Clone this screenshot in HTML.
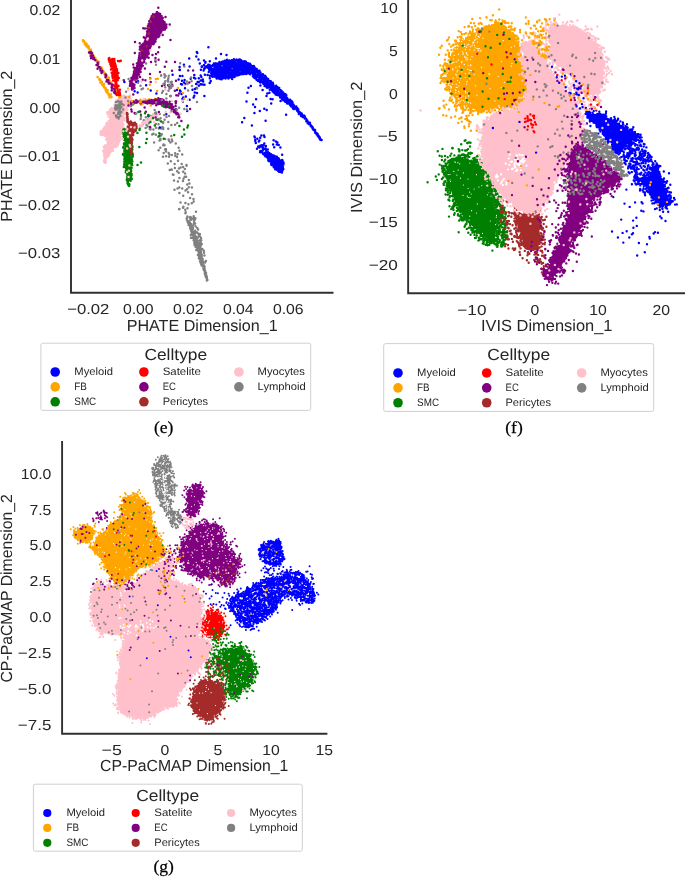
<!DOCTYPE html>
<html><head><meta charset="utf-8"><title>fig</title>
<style>html,body{margin:0;padding:0;background:#fff}svg{display:block}text{font-family:"Liberation Sans",sans-serif;text-rendering:geometricPrecision}</style></head>
<body><div style="will-change:transform;width:685px;height:877px;background:#fff">
<svg width="685" height="877" viewBox="0 0 685 877">
<rect width="685" height="877" fill="#fff"/>
<g id="pe"><path d="M146.5 125.0h0M185.2 209.7h0M172.8 174.5h0M170.4 142.4h0M186.4 164.9h0M158.5 124.3h0M193.7 216.2h0M172.3 141.3h0M183.5 178.8h0M179.5 150.7h0M168.7 153.0h0M163.2 127.7h0M168.6 139.4h0M163.7 152.9h0M185.1 173.6h0M161.0 135.4h0M173.5 174.7h0M163.0 123.1h0M163.0 156.7h0M182.2 154.5h0M165.1 138.9h0M152.2 134.5h0M183.4 206.8h0M166.1 156.3h0M177.5 188.5h0M171.4 169.4h0M180.5 202.5h0M180.6 167.6h0M159.5 120.2h0M175.2 155.7h0M156.3 119.8h0M188.8 187.2h0M150.5 129.4h0M159.7 113.9h0M168.3 121.9h0M161.8 134.2h0M160.5 140.1h0M166.1 151.6h0M167.8 163.5h0M186.1 176.8h0M185.4 202.9h0M179.4 177.9h0M158.6 150.2h0M186.6 165.8h0M181.7 163.9h0M162.3 126.9h0M174.6 164.1h0M175.1 153.3h0M156.0 112.4h0M174.0 180.6h0M185.4 213.2h0M171.3 135.9h0M158.3 136.8h0M152.7 115.7h0M192.0 194.2h0M154.1 142.5h0M182.2 188.4h0M189.4 183.4h0M143.8 120.3h0M145.6 127.9h0M143.3 123.4h0M163.7 144.4h0M171.4 125.0h0M149.8 115.8h0M174.9 168.0h0M155.9 124.1h0M190.1 198.1h0M149.7 129.1h0M179.1 209.2h0M147.7 126.4h0M170.8 161.3h0M160.3 138.8h0M183.0 207.8h0M153.5 133.7h0M188.1 192.2h0M163.2 129.1h0M155.7 117.1h0M178.9 168.4h0M183.1 166.9h0M175.8 143.6h0M179.3 187.4h0M178.7 172.7h0M196.0 211.8h0M187.3 216.4h0M177.9 181.5h0M159.5 140.4h0M168.2 128.8h0M179.4 192.9h0M187.5 208.3h0M177.0 157.0h0M156.0 127.7h0M174.5 189.8h0M158.5 119.1h0M166.0 149.2h0M191.8 203.2h0M188.8 180.0h0M178.0 160.8h0M191.9 187.5h0M161.1 128.6h0M183.2 171.7h0M160.3 147.8h0M177.6 154.2h0M165.0 149.6h0M158.8 128.5h0M185.7 212.2h0M171.8 139.4h0M183.0 181.0h0M171.8 155.0h0M148.0 119.2h0M150.4 128.1h0M184.8 168.9h0M193.7 201.6h0M169.3 154.4h0M145.8 117.2h0M163.2 145.3h0M187.6 221.3h0M177.1 171.3h0M164.5 145.2h0M188.4 204.2h0M169.7 169.9h0M187.2 184.6h0M155.9 134.7h0M178.7 147.7h0M184.7 176.7h0M153.4 129.6h0M169.0 156.7h0M193.5 198.9h0M160.4 134.3h0M171.8 169.7h0M185.5 190.5h0M187.0 189.2h0M179.4 209.1h0M169.0 140.8h0M183.2 195.8h0M152.1 116.3h0" stroke="#808080" stroke-width="2.50" stroke-linecap="round" fill="none"/>
<path d="M190.2 217.1h0M187.5 217.6h0M191.1 217.6h0M186.8 218.6h0M190.2 218.7h0M186.8 219.5h0M191.6 218.6h0M193.8 218.0h0M195.4 218.2h0M191.1 219.7h0M193.7 219.4h0M195.0 219.6h0M189.3 222.1h0M189.3 222.5h0M194.0 221.7h0M188.3 223.3h0M191.1 224.0h0M190.9 224.0h0M193.6 224.3h0M195.1 223.6h0M190.2 226.2h0M192.6 225.9h0M195.5 226.2h0M190.2 227.9h0M192.9 228.0h0M192.2 228.4h0M197.3 227.9h0M191.3 229.3h0M191.3 231.3h0M198.1 229.4h0M195.2 230.8h0M194.7 231.8h0M195.8 232.2h0M197.1 232.5h0M194.9 233.7h0M190.8 234.9h0M198.0 233.4h0M193.6 235.2h0M199.8 234.0h0M194.5 235.4h0M193.4 237.0h0M191.0 237.7h0M199.8 236.2h0M199.0 235.8h0M194.8 238.8h0M197.9 237.6h0M193.6 240.3h0M201.0 238.0h0M196.0 240.2h0M194.7 241.1h0M199.9 240.2h0M194.9 241.2h0M194.5 242.8h0M201.3 240.3h0M200.2 241.9h0M199.6 242.4h0M194.5 244.9h0M200.8 242.8h0M201.7 243.9h0M201.3 244.2h0M200.8 245.5h0M201.4 244.4h0M199.5 247.1h0M197.0 247.5h0M199.5 248.2h0M199.9 247.3h0M200.3 248.3h0M201.2 248.4h0M202.4 249.2h0M201.0 249.7h0M198.6 251.9h0M199.7 251.0h0M203.8 250.8h0M200.8 252.4h0M204.0 252.7h0M201.9 254.8h0M204.4 255.6h0M200.7 257.4h0M200.2 258.3h0M202.7 259.0h0M200.7 260.3h0M202.4 260.8h0M205.9 261.1h0M205.1 262.6h0M202.5 265.0h0M204.0 265.5h0M203.9 266.8h0M203.4 268.5h0M204.4 268.7h0M204.5 269.9h0M204.8 271.3h0M205.1 272.3h0M204.8 273.5h0M205.1 274.5h0M205.8 275.5h0M206.4 275.6h0M206.8 276.9h0M206.6 277.7h0M207.0 279.2h0M206.9 278.9h0M206.9 280.4h0M189.0 221.2h0M188.5 221.8h0M187.9 222.0h0M188.6 221.5h0M188.7 222.4h0M188.6 222.0h0M189.8 222.6h0M189.1 223.5h0M190.0 223.5h0M189.5 224.0h0M189.4 224.7h0M188.6 225.0h0M189.7 225.4h0M190.3 225.6h0M190.1 226.4h0M191.1 226.6h0M190.2 228.3h0M191.4 227.8h0M190.7 229.6h0M192.8 228.9h0M191.7 230.2h0M192.7 229.5h0M192.5 230.9h0M192.1 230.8h0M191.7 232.8h0M192.8 232.6h0M191.8 233.8h0M194.7 233.2h0M193.4 235.0h0M192.8 234.7h0M193.5 236.4h0M193.9 235.6h0M193.6 236.1h0M195.2 236.7h0M195.8 236.6h0M193.9 237.2h0M193.1 237.6h0M192.7 237.8h0M196.1 236.8h0M196.5 237.9h0M195.3 239.0h0M195.6 239.0h0M195.2 239.2h0M194.7 239.8h0M196.6 239.2h0M195.8 240.6h0M196.3 240.6h0M196.1 240.2h0M195.7 241.4h0M197.6 240.7h0M197.3 240.6h0M196.1 242.0h0M194.5 242.6h0M194.3 242.7h0M196.2 243.4h0M194.7 243.7h0M197.4 242.7h0M196.2 244.8h0M195.9 245.2h0M198.9 243.9h0M197.4 244.8h0M196.4 245.8h0M197.7 244.9h0M195.7 247.0h0M198.3 245.7h0M198.5 245.9h0M197.7 247.6h0M198.2 247.6h0M198.5 247.1h0M199.0 248.2h0M198.4 248.3h0M198.0 248.4h0M199.2 248.7h0M197.4 250.2h0M196.3 250.1h0M198.4 250.8h0M198.8 250.1h0M199.9 250.5h0M199.7 251.6h0M198.8 251.5h0M199.6 251.9h0M199.7 253.3h0M199.0 252.7h0M201.0 252.0h0M201.0 253.8h0M200.8 253.7h0M197.9 254.9h0M198.4 254.6h0M200.2 254.7h0M198.9 255.0h0M200.4 256.3h0M199.5 256.4h0M199.8 255.3h0M199.2 257.9h0M201.7 256.7h0M199.1 256.8h0M198.9 258.3h0M199.6 258.7h0M200.4 259.8h0M200.2 259.2h0M202.2 259.7h0M201.3 260.0h0M202.4 260.5h0M200.0 261.6h0M203.3 261.7h0M200.8 262.6h0M203.0 263.1h0M200.8 262.9h0M201.2 264.4h0M202.5 264.2h0M202.3 265.8h0M201.8 265.6h0M203.8 266.7h0M204.5 266.4h0M203.4 267.9h0M204.4 268.1h0M204.6 268.4h0M204.0 268.3h0M203.8 269.9h0M205.0 270.7h0M204.8 270.4h0M204.9 270.4h0M204.8 272.1h0M205.3 271.8h0M204.9 273.7h0M206.0 273.1h0M205.7 274.1h0M205.4 274.0h0M205.8 275.4h0M205.7 275.0h0M206.1 276.3h0M205.7 276.1h0M205.8 277.0h0M206.1 277.1h0M206.6 277.7h0M206.4 277.6h0M206.8 278.4h0M206.6 277.9h0M207.0 279.4h0M207.0 279.4h0M207.2 279.8h0M207.4 280.1h0" stroke="#808080" stroke-width="2.50" stroke-linecap="round" fill="none"/>
<path d="M237.4 64.7h0M237.4 65.1h0M237.6 65.3h0M239.2 59.5h0M238.6 62.0h0M239.5 60.4h0M238.9 63.3h0M240.3 59.9h0M237.9 65.6h0M237.1 66.3h0M239.4 62.2h0M240.1 60.9h0M239.0 65.3h0M240.2 63.7h0M238.6 66.4h0M240.8 60.4h0M240.7 59.9h0M238.9 65.6h0M239.3 64.1h0M240.8 63.1h0M241.1 63.2h0M239.3 67.1h0M239.8 67.7h0M239.9 66.3h0M241.1 62.1h0M240.4 65.8h0M242.5 62.3h0M242.3 62.8h0M242.2 62.7h0M240.9 65.9h0M241.2 65.3h0M242.3 63.9h0M242.7 61.9h0M244.2 61.3h0M242.8 64.1h0M243.2 64.5h0M241.7 67.6h0M242.7 65.0h0M242.2 66.3h0M242.0 66.7h0M246.0 62.0h0M244.4 64.8h0M245.7 61.7h0M244.7 64.1h0M243.1 66.9h0M242.9 68.0h0M245.5 61.5h0M246.1 65.8h0M245.9 64.4h0M246.2 63.3h0M244.5 66.9h0M245.8 63.9h0M245.9 65.1h0M245.8 63.7h0M248.0 63.7h0M244.6 69.4h0M245.1 69.0h0M244.9 69.5h0M247.1 65.5h0M246.8 66.2h0M248.0 63.2h0M248.8 64.8h0M245.4 70.2h0M247.2 67.2h0M246.1 69.4h0M249.0 64.2h0M249.0 64.3h0M250.0 63.7h0M250.1 65.4h0M247.8 68.3h0M248.7 66.8h0M245.6 70.8h0M249.8 65.4h0M249.8 65.6h0M249.9 64.7h0M249.3 67.7h0M249.3 67.4h0M250.3 66.4h0M251.1 65.3h0M248.1 69.7h0M246.5 70.9h0M248.7 69.3h0M249.0 69.3h0M251.7 66.0h0M247.5 71.4h0M247.6 71.6h0M248.3 70.2h0M247.4 72.1h0M250.8 67.1h0M253.2 66.3h0M252.2 67.7h0M249.7 70.2h0M250.9 68.5h0M248.7 72.3h0M251.6 68.2h0M253.8 66.1h0M248.8 73.1h0M253.5 67.0h0M254.1 67.0h0M249.6 72.1h0M254.2 66.8h0M253.2 68.3h0M251.2 70.3h0M253.1 69.6h0M254.1 67.6h0M253.6 69.2h0M253.1 69.9h0M250.2 72.8h0M250.3 73.0h0M253.1 70.1h0M256.2 68.7h0M254.1 69.6h0M255.3 68.4h0M252.4 71.6h0M253.4 71.0h0M252.1 72.6h0M253.4 71.4h0M252.8 74.0h0M255.5 70.2h0M253.2 72.8h0M256.1 69.6h0M256.7 69.0h0M254.4 71.3h0M254.5 70.9h0M256.0 71.2h0M255.0 72.9h0M253.5 74.1h0M253.2 74.5h0M256.7 69.5h0M256.6 70.0h0M253.3 74.5h0M253.8 75.6h0M257.8 70.6h0M256.8 72.1h0M253.4 75.4h0M252.9 76.3h0M254.8 74.2h0M256.7 72.1h0M255.0 76.0h0M259.5 70.8h0M253.8 77.1h0M254.2 76.7h0M257.9 72.5h0M254.2 77.1h0M254.6 75.9h0M254.5 77.9h0M256.7 76.0h0M256.8 75.0h0M257.1 74.4h0M258.2 73.1h0M258.7 73.3h0M254.6 77.2h0M257.3 75.9h0M257.8 75.7h0M258.7 75.3h0M255.8 78.1h0M260.0 73.1h0M256.9 76.8h0M260.5 72.6h0M257.8 77.1h0M258.6 75.8h0M259.1 75.4h0M259.7 75.7h0M256.4 79.6h0M260.3 73.8h0M260.4 74.0h0M259.7 75.9h0M257.3 80.0h0M257.1 80.1h0M257.2 80.3h0M261.1 74.6h0M259.8 76.7h0M258.7 77.5h0M259.0 78.8h0M261.5 75.9h0M262.7 75.1h0M259.9 78.1h0M258.1 81.0h0M262.9 74.2h0M260.3 77.2h0M262.1 77.0h0M258.8 80.8h0M260.7 79.1h0M260.0 79.5h0M261.2 78.7h0M261.0 78.4h0M259.4 79.4h0M262.1 77.9h0M261.0 79.5h0M261.1 80.0h0M263.3 77.3h0M260.8 80.0h0M260.7 80.6h0M261.2 80.1h0M265.1 76.6h0M260.6 82.5h0M261.2 81.7h0M260.0 82.3h0M264.9 75.8h0M262.5 79.4h0M260.6 82.5h0M263.6 80.2h0M263.8 79.1h0M265.7 76.4h0M263.6 79.9h0M265.4 77.9h0M265.0 78.4h0M265.5 77.5h0M264.3 81.2h0M263.4 82.0h0M265.8 79.3h0M266.5 78.1h0M264.5 79.6h0M264.1 81.0h0M266.0 79.6h0M263.3 83.7h0M263.6 83.3h0M264.9 81.9h0M265.8 80.5h0M263.2 83.1h0M266.1 81.9h0M268.1 79.0h0M264.9 83.7h0M266.9 81.0h0M267.3 79.8h0M266.8 80.7h0M269.1 80.8h0M267.0 82.6h0M265.9 83.6h0M264.6 85.9h0M268.2 80.8h0M267.0 82.3h0M268.3 83.3h0M266.1 85.7h0M270.5 81.2h0M267.9 84.3h0M267.0 84.6h0M268.1 82.8h0M269.5 83.4h0M270.9 81.6h0M267.5 85.5h0M270.7 81.8h0M266.7 87.2h0M270.6 82.2h0M269.0 85.4h0M268.5 86.3h0M269.8 84.5h0M268.2 85.9h0M269.0 85.3h0M267.1 87.7h0M269.0 86.5h0M271.0 84.0h0M268.2 87.5h0M270.6 84.1h0M271.3 83.4h0M269.3 85.8h0M272.8 82.8h0M269.3 87.1h0M270.6 86.5h0M272.2 84.4h0M272.3 84.6h0M269.9 86.6h0M272.2 85.8h0M272.2 85.6h0M271.9 85.6h0M270.9 87.1h0M273.2 84.7h0M273.2 84.2h0M270.8 88.9h0M271.0 88.3h0M273.4 86.1h0M272.5 86.2h0M269.8 89.8h0M270.6 89.3h0M273.8 87.0h0M273.5 87.8h0M273.6 87.3h0M273.1 87.2h0M271.7 89.3h0M271.8 89.5h0M275.5 86.3h0M273.2 89.3h0M273.8 89.0h0M274.8 87.5h0M276.2 85.7h0M272.1 90.6h0M275.2 89.0h0M275.4 88.4h0M274.8 89.5h0M273.1 90.7h0M276.3 87.3h0M272.9 91.4h0M275.1 90.3h0M276.2 88.6h0M277.5 87.5h0M274.4 90.5h0M273.7 92.3h0M277.8 87.5h0M278.4 88.4h0M274.2 92.8h0M277.6 88.9h0M275.7 91.6h0M275.2 91.7h0M276.8 90.0h0M278.7 88.9h0M279.2 89.1h0M278.1 90.1h0M277.2 91.4h0M275.8 92.6h0M279.2 88.1h0M276.5 93.4h0M278.0 91.2h0M275.6 94.4h0M277.8 92.4h0M276.7 93.7h0M277.2 95.0h0M278.6 92.3h0M280.3 90.1h0M278.8 93.1h0M277.8 94.5h0M279.4 93.9h0M280.6 92.1h0M281.6 91.0h0M277.9 94.5h0M278.2 95.1h0M279.2 95.5h0M279.2 95.0h0M280.8 93.2h0M280.1 93.9h0M281.4 92.8h0M281.1 95.5h0M281.9 93.9h0M281.7 93.6h0M283.1 92.5h0M281.9 93.7h0M282.5 94.3h0M280.2 97.3h0M283.7 93.5h0M280.2 97.4h0M280.3 97.0h0M282.7 96.2h0M282.2 97.1h0M281.6 97.0h0M283.5 95.1h0M284.3 94.7h0M282.2 98.2h0M282.6 98.3h0M282.4 97.7h0M282.7 98.2h0M285.5 94.3h0M283.4 98.5h0M286.3 95.3h0M282.1 99.2h0M284.5 97.1h0M285.0 97.0h0M283.4 100.1h0M286.0 97.6h0M285.7 97.9h0M283.3 100.2h0M283.7 99.8h0M285.5 99.3h0M285.4 100.0h0M284.9 99.9h0M287.1 97.9h0M285.0 101.4h0M287.4 98.7h0M286.6 99.7h0M286.2 99.9h0M288.5 99.8h0M286.2 102.0h0M286.1 101.6h0M286.1 102.1h0M289.5 99.9h0M289.0 100.0h0M290.0 99.7h0M287.9 100.9h0M290.6 100.6h0M288.6 102.0h0M287.2 103.4h0M289.0 102.0h0M288.8 103.3h0M291.5 101.1h0M290.4 102.0h0M291.0 101.4h0M291.0 102.3h0M289.6 104.3h0M291.9 101.8h0M290.4 103.9h0M292.6 102.4h0M292.2 103.2h0M292.4 102.5h0M290.1 105.1h0M291.5 105.5h0M290.7 105.8h0M290.9 105.9h0M291.4 105.7h0M293.6 104.8h0M291.4 106.5h0M293.2 105.2h0M293.4 106.3h0M293.1 106.9h0M293.4 105.7h0M294.7 106.4h0M293.0 108.4h0M293.0 108.0h0M293.9 109.0h0M294.6 108.5h0M296.3 106.6h0M295.4 108.6h0M295.7 108.1h0M296.7 108.0h0M297.1 108.1h0M297.0 108.8h0M297.4 108.9h0M296.9 110.2h0M297.3 109.4h0M297.8 108.8h0M298.1 110.3h0M297.1 110.7h0M298.3 109.6h0M297.9 111.5h0M298.2 111.7h0M298.0 111.7h0M298.6 112.8h0M299.4 111.9h0M300.1 112.4h0M298.9 114.1h0M300.1 113.2h0M300.3 113.9h0M301.3 114.1h0M301.6 113.5h0M301.1 115.9h0M301.9 114.3h0M302.1 115.6h0M302.8 115.7h0M303.9 115.6h0M302.7 117.0h0M304.6 116.3h0M304.8 116.3h0M304.5 117.5h0M304.5 117.4h0M304.8 118.6h0M304.9 118.5h0M306.1 118.8h0M305.9 118.6h0M306.4 120.2h0M306.7 120.0h0M307.4 120.8h0M306.3 121.2h0M307.2 121.6h0M307.6 121.5h0M307.9 123.1h0M307.7 123.2h0M309.5 122.8h0M309.9 122.8h0M309.4 124.0h0M309.2 124.3h0M310.6 125.1h0M310.5 124.7h0M310.8 126.2h0M310.8 125.9h0M311.8 126.6h0M312.0 126.5h0M312.6 127.2h0M312.2 127.7h0M312.9 128.6h0M312.8 128.7h0M313.4 129.7h0M313.7 129.4h0M314.3 130.2h0M315.0 130.1h0M315.2 131.5h0M315.2 131.3h0M315.5 132.6h0M315.2 132.7h0M316.8 133.3h0M316.4 133.5h0M317.6 133.9h0M316.6 134.2h0M317.7 135.8h0M317.5 135.4h0M318.3 136.5h0M318.7 136.0h0M319.7 137.3h0M318.8 137.3h0M319.5 138.2h0M319.6 137.4h0M319.8 138.2h0M319.9 138.4h0M320.5 139.2h0M320.0 139.2h0M321.1 139.8h0M320.3 139.7h0M321.3 140.1h0M321.6 140.1h0" stroke="#0000ff" stroke-width="2.50" stroke-linecap="round" fill="none"/>
<path d="M240.1 67.3h0M229.5 64.3h0M222.5 77.7h0M233.6 67.0h0M227.0 69.6h0M235.3 63.7h0M213.5 68.8h0M238.6 60.2h0M215.9 70.2h0M219.9 64.9h0M217.2 67.5h0M237.6 62.0h0M211.4 73.3h0M218.8 76.8h0M222.3 72.5h0M229.6 67.1h0M217.3 72.4h0M241.0 69.9h0M239.8 64.9h0M235.7 62.3h0M246.8 68.4h0M238.9 75.0h0M228.3 76.5h0M221.5 72.2h0M225.4 63.3h0M228.5 65.4h0M231.1 66.9h0M233.6 71.8h0M215.7 66.3h0M224.7 63.3h0M230.7 77.3h0M236.4 75.1h0M221.1 78.3h0M247.9 66.6h0M214.8 66.2h0M213.9 63.5h0M211.8 76.3h0M232.9 66.3h0M219.5 62.0h0M213.6 73.7h0M242.2 72.9h0M223.5 62.7h0M239.5 68.9h0M233.7 66.6h0M222.8 61.5h0M215.6 75.9h0M216.0 68.0h0M231.9 74.9h0M217.4 69.8h0M220.9 74.0h0M223.8 62.6h0M229.5 68.6h0M216.4 64.2h0M210.4 68.7h0M233.8 62.9h0M219.1 77.8h0M218.7 70.7h0M223.4 70.9h0M238.8 72.8h0M222.2 68.3h0M238.5 66.0h0M232.4 72.4h0M242.5 72.8h0M220.8 72.8h0M213.4 76.6h0M222.9 74.1h0M226.7 60.9h0M219.8 76.1h0M226.9 62.3h0M221.3 70.9h0M211.0 69.5h0M242.9 72.3h0M229.5 62.2h0M216.1 75.2h0M222.6 68.7h0M232.8 75.0h0M229.3 61.5h0M239.8 63.2h0M216.7 76.3h0M230.4 64.7h0M245.9 66.5h0M238.4 66.7h0M226.9 61.2h0M241.3 72.0h0M232.4 77.1h0M241.9 71.4h0M230.7 65.8h0M221.6 64.2h0M217.8 76.1h0M220.4 66.8h0M233.2 74.6h0M210.6 67.4h0M245.9 66.5h0M229.7 69.3h0M238.8 71.1h0M233.9 68.8h0M223.8 65.4h0M230.8 73.0h0M225.9 77.2h0M237.5 71.3h0M223.2 71.4h0M217.8 71.8h0M227.2 71.4h0M224.7 72.3h0M236.6 75.3h0M225.5 69.8h0M250.1 74.3h0M241.3 72.1h0M222.3 61.7h0M241.3 62.4h0M236.3 75.5h0M228.8 76.4h0M219.0 63.4h0M230.5 60.9h0M230.4 63.9h0M227.5 63.2h0M240.7 62.7h0M218.4 78.2h0M215.2 65.8h0M235.4 62.6h0M216.8 70.2h0M209.1 69.7h0M224.2 64.8h0M228.7 73.5h0M220.3 73.1h0M231.7 66.0h0M217.3 69.1h0M213.1 64.9h0M246.3 63.6h0M241.4 72.4h0M241.3 67.1h0M249.9 74.1h0M245.6 68.9h0M212.3 75.4h0M221.0 78.8h0M225.3 76.6h0M248.6 67.6h0M238.5 70.2h0M213.1 71.7h0M219.5 78.1h0M227.8 72.9h0M222.1 62.1h0M212.0 74.6h0M228.4 72.4h0M223.2 72.1h0M245.6 67.5h0M220.2 68.1h0M242.0 62.6h0M210.2 68.3h0M246.9 66.1h0M242.6 62.4h0M232.4 62.7h0M243.3 64.2h0M240.9 69.4h0M244.0 73.3h0M236.7 64.3h0M233.5 72.5h0M238.0 72.8h0M229.1 74.0h0M239.1 60.5h0M237.9 73.1h0M216.1 76.3h0M223.8 66.9h0M238.1 71.1h0M227.0 76.9h0M237.1 68.4h0M235.4 69.7h0M214.9 75.8h0M221.4 67.0h0M226.3 62.6h0M230.2 67.7h0M224.7 67.7h0M220.2 75.4h0M216.5 64.6h0M235.5 70.1h0M240.9 74.3h0M233.7 68.9h0M214.8 67.6h0M235.5 67.5h0M222.1 69.2h0M223.5 74.2h0M237.2 64.2h0M227.5 76.6h0M221.1 62.5h0M248.0 73.1h0M216.7 78.6h0M226.7 60.6h0M214.1 69.4h0M226.5 72.8h0M244.7 72.8h0M232.9 66.9h0M214.5 69.1h0M212.0 70.2h0M224.0 74.4h0M215.3 74.2h0M245.1 70.9h0M225.9 69.3h0M229.7 74.9h0M243.8 73.9h0M232.8 76.4h0M211.9 72.3h0M216.3 67.6h0M237.1 68.1h0M233.9 59.3h0M223.9 73.2h0M222.4 76.1h0M212.4 71.3h0M212.7 73.7h0M234.2 66.9h0M242.7 73.9h0M230.1 69.5h0M236.3 59.8h0M226.8 72.9h0M211.2 70.1h0M242.2 66.4h0M221.8 70.5h0M239.0 61.1h0M239.6 61.9h0M236.5 63.3h0M217.2 76.9h0M239.8 69.3h0M225.9 69.2h0M242.5 63.6h0M246.2 65.6h0M240.0 73.5h0M246.8 66.3h0M239.2 69.2h0M243.9 62.4h0M214.9 71.8h0M231.4 73.7h0M216.2 77.5h0M228.5 68.3h0M241.0 68.2h0M215.8 76.8h0M212.7 71.8h0M224.2 73.6h0M240.3 63.0h0M240.6 65.7h0M216.4 70.2h0M217.5 63.8h0M217.3 66.4h0M217.4 70.9h0M226.4 77.3h0M237.1 72.6h0M231.6 70.1h0M211.2 66.7h0M232.3 66.4h0M218.1 74.9h0M221.0 75.1h0M224.9 66.9h0M234.5 71.1h0M247.5 72.6h0M212.2 66.1h0M247.6 67.0h0M226.1 74.6h0M221.8 73.4h0M220.7 73.6h0M224.1 65.6h0M225.9 63.9h0M225.3 66.7h0M223.8 70.5h0M219.1 72.0h0M231.9 77.1h0M235.3 66.9h0M215.4 63.6h0M223.0 71.7h0M216.6 70.7h0M228.3 75.5h0M228.9 68.0h0M233.1 61.8h0M244.3 69.4h0M210.0 67.8h0M216.3 71.9h0M236.5 64.7h0M226.2 67.1h0M216.5 72.4h0M216.4 73.3h0M216.5 64.2h0M247.0 67.1h0M224.7 74.9h0M232.2 71.5h0M233.0 61.8h0M240.3 66.0h0M229.0 72.9h0M223.0 74.8h0M213.7 65.0h0M228.0 61.8h0M238.1 70.4h0M224.7 60.8h0M216.1 76.3h0M227.4 71.3h0M227.9 62.5h0M232.0 77.0h0M226.0 64.7h0M244.8 68.7h0M238.0 74.8h0M227.6 70.7h0M237.1 64.2h0M234.5 76.9h0M210.1 70.1h0M223.6 68.2h0M229.1 65.8h0M217.0 77.0h0M245.9 65.0h0M225.3 67.7h0M245.4 66.0h0M212.8 76.4h0M223.0 78.3h0M228.7 65.3h0M216.0 63.4h0M217.9 73.0h0M241.1 72.0h0M216.1 65.5h0M226.1 66.4h0M244.3 64.1h0M220.2 76.5h0M229.6 65.0h0M247.4 73.3h0M230.4 72.6h0M222.1 64.2h0M219.2 78.6h0M247.4 70.0h0M216.6 65.4h0M213.5 73.0h0M227.2 70.4h0M224.7 71.1h0M228.8 70.4h0M238.8 69.5h0M246.1 68.2h0M226.5 72.9h0M237.1 72.6h0M241.7 61.1h0M241.0 68.4h0M230.7 75.8h0M227.4 65.1h0M240.2 68.7h0M228.5 72.3h0M213.4 65.2h0M216.3 76.4h0M231.3 64.6h0M239.7 68.7h0M234.7 70.9h0M220.3 63.8h0M229.7 73.9h0M218.4 72.6h0M210.7 68.0h0M242.1 64.9h0M235.5 67.0h0M227.5 71.5h0M246.2 74.1h0M224.7 65.7h0M226.4 71.5h0M232.3 70.1h0M225.8 62.2h0M227.9 66.6h0M243.6 70.4h0M228.5 62.1h0M246.6 63.8h0M242.7 70.4h0M229.1 60.4h0M220.0 76.8h0M241.6 66.5h0M231.4 69.7h0M240.9 64.4h0M213.0 71.8h0M240.2 61.6h0M215.2 64.3h0M225.5 77.8h0M223.7 70.6h0M245.5 66.4h0M219.5 70.5h0M213.2 65.6h0M230.3 72.3h0M242.8 64.2h0M222.5 77.5h0M236.4 72.5h0M212.7 70.9h0M221.6 78.8h0M223.9 63.4h0M236.7 59.7h0M234.9 66.0h0M218.3 73.3h0M218.5 66.9h0M219.0 70.9h0M246.9 69.1h0M211.6 65.9h0M214.7 73.7h0M215.9 74.7h0M233.6 60.9h0M223.4 62.9h0M234.7 65.3h0M229.2 62.4h0M238.7 64.3h0M217.5 78.2h0M237.9 73.5h0M226.6 60.2h0M237.0 63.3h0M244.3 65.4h0M241.5 66.3h0M240.4 62.6h0M228.8 73.9h0M217.9 73.4h0M237.8 64.2h0M225.2 68.4h0M219.5 69.3h0M233.8 63.6h0M242.4 69.5h0M246.5 68.0h0M234.0 76.3h0M244.2 73.6h0M217.8 68.7h0M221.9 77.4h0M230.6 63.9h0M247.6 68.7h0M230.9 69.9h0M241.9 70.0h0M218.7 71.2h0M241.4 68.1h0M229.1 77.7h0M219.4 73.4h0M211.6 73.0h0M243.9 64.2h0M236.5 66.0h0M230.2 61.9h0M229.8 65.2h0M229.1 76.4h0M229.4 76.3h0M212.8 76.7h0M219.2 69.3h0M226.3 72.0h0M224.6 77.5h0M245.8 72.4h0M237.7 65.0h0M224.0 75.1h0M232.7 76.6h0M228.4 78.5h0M225.3 77.6h0M240.7 73.5h0M238.8 68.6h0M224.6 77.2h0M226.6 67.6h0M224.7 62.0h0M236.7 70.2h0M239.4 60.4h0M242.1 65.2h0M220.6 78.9h0M242.0 73.2h0M234.3 68.0h0M224.6 66.1h0M216.0 65.8h0M243.3 70.2h0M210.5 70.5h0M216.5 74.0h0M233.8 72.7h0M238.3 70.5h0M219.4 73.2h0M231.5 60.9h0M240.5 66.9h0M249.5 72.8h0M221.1 73.1h0M238.4 74.2h0M221.5 70.8h0M214.2 69.1h0M219.4 66.1h0M219.8 75.5h0M229.8 77.3h0M217.3 70.0h0M212.1 75.8h0M234.1 75.0h0M216.7 71.1h0M225.5 78.6h0M232.2 78.9h0M238.7 65.6h0M219.5 73.4h0M211.1 67.2h0M218.1 76.2h0M218.3 63.3h0M227.1 62.2h0M227.0 60.8h0M227.5 61.0h0M245.6 68.4h0M239.0 69.2h0M245.8 65.5h0M226.8 69.1h0M221.6 79.2h0M217.7 64.5h0M235.3 74.8h0M233.2 65.4h0M241.8 63.3h0M237.3 59.9h0M225.6 66.5h0M227.0 59.7h0M229.1 64.0h0M235.0 75.0h0M223.9 77.0h0M232.2 76.7h0M216.8 70.4h0M235.9 63.0h0M245.0 69.0h0M228.2 61.8h0M233.0 73.6h0M213.7 73.0h0M211.3 68.9h0M220.1 74.9h0M247.7 72.7h0M221.8 67.4h0M235.8 73.2h0M245.4 68.4h0M228.3 69.6h0M246.2 69.0h0M221.9 70.2h0M208.8 71.9h0M245.8 71.4h0M237.8 75.2h0M238.5 72.8h0M213.8 76.6h0M218.3 69.0h0M210.6 68.1h0M218.9 67.0h0M240.0 64.2h0M234.4 65.6h0M217.8 63.7h0M212.5 74.1h0M220.1 71.8h0M244.1 67.1h0M230.6 66.7h0M228.1 61.3h0M217.5 65.0h0M215.2 70.4h0M229.4 69.4h0M245.2 72.9h0M218.5 76.9h0M226.9 68.4h0M242.1 64.5h0M235.2 62.7h0M238.0 72.4h0M242.0 62.8h0M211.8 71.0h0M215.6 76.5h0M216.2 74.8h0M245.0 67.5h0M216.3 69.0h0M220.2 79.1h0M241.5 68.9h0M231.3 71.2h0M231.4 70.0h0M235.7 67.4h0M222.4 63.5h0M241.1 65.7h0M229.5 75.7h0M221.9 68.9h0M220.2 68.8h0M250.0 73.3h0M231.7 64.4h0M230.7 76.0h0M233.7 74.8h0M237.5 65.0h0M235.1 61.4h0M238.2 65.8h0M231.9 60.3h0" stroke="#0000ff" stroke-width="2.50" stroke-linecap="round" fill="none"/>
<path d="M208.3 64.7h0M201.0 84.2h0M200.6 84.4h0M210.7 81.0h0M202.1 66.6h0M197.6 82.1h0M200.7 75.5h0M209.9 75.7h0M209.8 78.3h0M209.7 82.9h0M208.2 67.9h0M209.5 68.4h0M202.8 79.6h0M211.3 73.2h0M202.9 84.5h0M205.9 66.8h0M211.4 69.2h0M207.1 66.3h0M205.4 66.8h0M201.8 80.6h0M206.3 67.3h0M204.5 84.8h0M203.2 81.6h0M204.0 65.1h0M204.9 74.7h0M201.3 76.9h0M200.5 84.3h0M210.7 81.3h0M207.6 74.9h0M204.2 68.7h0" stroke="#0000ff" stroke-width="2.50" stroke-linecap="round" fill="none"/>
<path d="M208.4 47.2h0M221.0 54.0h0M226.5 55.0h0M216.0 58.5h0M204.0 60.5h0" stroke="#0000ff" stroke-width="2.50" stroke-linecap="round" fill="none"/>
<path d="M197.3 53.0h0M194.8 92.4h0M198.5 59.4h0M183.3 97.6h0M196.8 52.1h0M190.7 78.8h0M180.5 91.4h0M200.7 80.4h0M181.0 84.0h0M193.6 97.6h0M183.9 64.7h0M196.5 88.1h0M182.9 99.0h0M200.9 69.7h0M194.9 89.1h0M182.4 75.9h0" stroke="#0000ff" stroke-width="2.50" stroke-linecap="round" fill="none"/>
<path d="M255.0 107.0h0M256.1 99.3h0M247.4 92.7h0M271.2 103.5h0M270.6 99.1h0M266.5 96.1h0M267.3 93.4h0M262.6 90.1h0M269.4 92.8h0M250.9 85.9h0M272.6 99.2h0M253.1 104.4h0M264.3 108.7h0M260.4 85.6h0M248.5 87.7h0M266.7 109.9h0M280.6 100.9h0M259.8 110.9h0M246.5 101.4h0M244.3 118.0h0M265.6 120.8h0M251.9 125.5h0M242.1 122.2h0M254.4 113.1h0M286.1 114.7h0" stroke="#0000ff" stroke-width="2.50" stroke-linecap="round" fill="none"/>
<path d="M267.6 152.9L268.5 153.2L269.5 153.8L270.8 154.5L272.3 155.3L273.8 156.2L275.2 157.0L276.6 157.7L278.1 158.5L279.6 159.2L280.8 159.8L281.7 160.4L282.4 160.9L283.2 162.3L283.2 163.9L282.9 165.8L282.7 167.2L282.4 169.0L282.0 170.6L281.5 171.7L281.1 172.0L280.8 171.8L280.0 171.4L278.8 170.7L277.4 169.6L276.0 168.4L274.6 167.1L273.6 166.0L272.5 164.8L271.4 163.4L270.3 161.9L269.3 160.5L268.3 159.1L267.4 157.8L266.8 156.8L265.4 155.0L264.7 154.1L264.5 153.7L264.9 153.4L266.0 152.9Z" fill="#0000ff"/>
<path d="M282.2 160.0h0M274.6 167.4h0M276.6 158.5h0M272.5 155.4h0M268.3 160.5h0M268.6 160.4h0M268.3 152.8h0M270.4 154.1h0M282.1 169.1h0M275.4 156.5h0M283.1 164.4h0M273.8 167.3h0M279.1 171.7h0M269.2 161.2h0M271.5 164.0h0M283.5 163.3h0M275.8 168.3h0M277.4 170.1h0M276.6 157.9h0M268.6 152.9h0M274.4 167.1h0M272.5 165.3h0M276.7 169.4h0M275.2 169.3h0M264.2 154.4h0M281.6 160.2h0M270.8 155.0h0M276.0 168.5h0M273.7 155.6h0M280.9 171.9h0M278.4 168.9h0M281.3 160.4h0M271.2 163.8h0M282.6 160.7h0M265.7 156.1h0M271.5 162.6h0M264.8 155.0h0M278.4 158.2h0M266.9 156.9h0M281.9 172.5h0M282.5 170.4h0M268.8 160.5h0M269.1 159.5h0M281.4 171.2h0M278.9 159.0h0M270.7 160.9h0M278.2 170.9h0M283.5 162.6h0M282.5 161.0h0M283.4 164.6h0M279.7 170.2h0M282.5 160.5h0M271.3 164.7h0M282.5 170.5h0M266.2 155.7h0M281.4 172.1h0M271.4 154.8h0M278.8 171.1h0M270.7 154.0h0M276.5 169.5h0M282.9 167.0h0M265.6 152.4h0M269.0 153.9h0M264.9 153.7h0M282.4 169.5h0M278.6 170.6h0M276.5 168.9h0M275.4 168.6h0M264.4 153.6h0M276.9 156.8h0M273.9 156.4h0M274.1 167.1h0M270.0 153.7h0M267.2 156.2h0M277.5 158.5h0M264.6 153.0h0M264.6 154.3h0M276.7 157.6h0M283.3 168.9h0M277.5 169.4h0M267.8 158.2h0" stroke="#0000ff" stroke-width="2.50" stroke-linecap="round" fill="none"/>
<path d="M260.2 145.8h0M264.3 148.8h0M263.6 145.4h0M268.8 153.5h0M266.1 154.1h0M263.0 153.8h0M259.4 147.4h0M262.9 148.0h0M266.7 152.3h0M264.3 143.4h0M260.1 152.3h0M255.8 143.0h0M261.0 151.5h0M262.5 150.5h0M265.3 156.2h0M265.9 146.1h0M264.9 154.9h0M267.1 153.6h0M268.9 153.0h0M264.6 149.1h0M260.5 146.3h0M259.4 140.5h0M258.2 146.6h0M267.1 152.5h0M262.5 150.7h0M265.6 153.0h0M266.1 149.9h0M262.7 150.6h0M261.7 145.2h0M261.2 151.6h0M262.2 152.3h0M265.6 148.6h0M258.8 141.6h0M263.5 145.1h0M259.0 147.1h0M255.2 140.1h0M267.9 152.2h0M260.3 151.0h0M262.4 147.6h0M255.3 140.9h0M257.0 148.8h0M267.8 149.5h0" stroke="#0000ff" stroke-width="2.50" stroke-linecap="round" fill="none"/>
<path d="M254.9 137.6h0M280.4 147.6h0M261.4 135.4h0M282.1 154.7h0M276.8 144.4h0M275.9 141.6h0M273.6 140.2h0M257.3 138.8h0M264.5 137.0h0M260.2 137.8h0M264.0 135.4h0M274.2 147.3h0M254.4 136.6h0M273.1 144.5h0M278.7 145.1h0M277.4 142.6h0" stroke="#0000ff" stroke-width="2.50" stroke-linecap="round" fill="none"/>
<path d="M122.9 96.3L124.3 96.2L126.1 96.3L127.8 96.5L129.2 96.9L129.8 97.3L129.9 98.0L129.7 99.1L129.2 100.7L128.5 102.5L127.9 104.4L127.5 105.8L127.0 107.2L126.4 108.7L125.9 110.2L125.3 111.8L124.8 113.4L124.4 115.1L124.0 116.6L123.8 118.2L123.6 119.7L123.4 121.3L123.3 122.9L123.1 124.4L122.8 126.0L122.5 127.5L122.2 129.0L121.9 130.5L121.5 132.0L121.1 133.5L120.7 135.0L120.3 136.5L119.7 137.9L119.1 139.4L118.6 140.7L117.9 142.0L117.2 143.4L116.5 144.7L115.7 146.0L114.9 147.4L114.0 148.7L113.2 150.0L112.3 151.3L111.4 152.7L110.4 154.2L109.3 155.8L108.2 157.3L107.1 158.8L106.1 160.1L105.3 161.0L105.0 161.5L105.7 162.0L105.5 162.4L105.3 161.2L105.2 159.1L105.1 157.3L104.7 155.8L104.4 154.2L104.1 152.6L104.2 150.7L104.4 149.6L104.9 148.2L105.4 146.7L106.0 145.0L106.6 143.2L106.8 141.3L106.7 139.4L105.9 137.7L104.5 136.2L103.0 135.0L101.6 134.0L100.8 133.0L100.7 132.1L101.0 131.6L101.6 130.8L102.5 129.7L103.7 128.4L105.0 127.1L106.3 125.7L107.6 124.2L108.7 122.7L109.4 121.2L109.8 118.9L109.4 117.0L108.8 115.2L108.4 113.7L108.5 112.5L109.1 111.6L110.1 110.7L111.3 109.7L112.7 108.5L114.1 107.3L115.2 106.1L116.2 104.5L116.9 102.9L117.5 101.4L118.1 100.1L118.7 99.1L119.6 98.1L120.6 97.2L121.6 96.6Z" fill="#ffc0cb"/>
<path d="M121.6 97.3h0M125.4 107.5h0M113.1 150.4h0M104.9 156.4h0M120.5 138.6h0M117.4 100.7h0M130.2 101.5h0M124.6 120.5h0M124.6 119.4h0M103.9 152.4h0M110.0 111.1h0M130.4 99.4h0M104.7 158.8h0M124.1 118.8h0M118.7 142.6h0M117.3 101.9h0M122.0 129.2h0M104.3 154.7h0M128.3 104.5h0M104.7 128.2h0M129.5 99.8h0M116.1 105.2h0M120.1 138.3h0M104.8 126.8h0M127.6 106.6h0M121.1 132.3h0M109.3 120.8h0M106.4 124.5h0M128.8 102.1h0M116.3 145.1h0M122.6 128.6h0M120.6 130.2h0M122.1 133.5h0M106.5 138.8h0M128.6 97.3h0M104.3 160.0h0M126.0 109.5h0M128.3 105.5h0M101.0 131.3h0M103.8 150.3h0M114.6 104.8h0M108.0 112.2h0M109.9 110.0h0M121.7 129.7h0M123.2 124.3h0M104.6 146.0h0M109.7 121.1h0M107.9 112.8h0M105.3 161.7h0M126.4 96.7h0M117.2 145.7h0M118.8 140.6h0M104.7 162.0h0M102.6 134.4h0M108.3 122.9h0M126.3 110.5h0M125.2 112.7h0M128.9 100.6h0M119.6 140.7h0M101.3 131.7h0M106.3 147.7h0M103.9 160.7h0M102.3 133.8h0M109.1 121.1h0M108.7 116.7h0M120.1 138.9h0M125.7 113.7h0M124.8 117.8h0M124.1 119.9h0M121.8 131.5h0M103.9 147.0h0M103.2 151.1h0M118.1 138.9h0M123.9 112.5h0M127.9 96.8h0M105.5 145.2h0M104.1 155.6h0M130.6 98.9h0M117.6 100.3h0M118.6 100.0h0M106.2 139.8h0M116.6 103.8h0M116.9 146.2h0M130.1 97.6h0M107.0 124.0h0M107.6 123.4h0M124.6 96.4h0M116.9 101.2h0M120.8 133.7h0M104.5 147.9h0M105.5 146.5h0M117.8 140.9h0M119.6 137.9h0M120.9 95.6h0M104.8 155.4h0M130.2 98.2h0M123.5 95.5h0M124.1 96.0h0M128.2 104.5h0M117.5 143.0h0M108.8 122.6h0M104.9 153.1h0M123.9 128.1h0M104.2 161.9h0M120.5 137.2h0M100.7 131.8h0M111.8 108.2h0M101.0 133.2h0M108.6 155.9h0M111.3 108.8h0M119.3 96.0h0M129.6 98.1h0M127.6 109.7h0M122.5 127.8h0M129.7 96.9h0M104.2 128.2h0M104.8 159.7h0M109.8 109.7h0M105.7 162.0h0M108.8 113.6h0M124.4 95.8h0M115.8 103.8h0M109.9 111.3h0M104.8 156.3h0M105.2 127.1h0M107.8 113.8h0M100.7 133.3h0M119.7 98.1h0M121.2 131.2h0M100.5 134.1h0M115.3 146.7h0M104.6 154.7h0M128.6 101.7h0M108.7 121.1h0M105.0 154.0h0M112.1 108.1h0M104.7 157.6h0M102.9 134.8h0M105.1 154.4h0M109.6 121.7h0M118.6 99.3h0M122.4 127.3h0M121.9 133.7h0M127.9 105.0h0M107.6 114.3h0M122.9 131.0h0M103.2 129.3h0M124.3 118.3h0M110.8 108.9h0M106.5 126.8h0M118.9 140.6h0M129.9 95.5h0M117.9 102.3h0M119.8 134.0h0M128.5 103.3h0M117.0 104.3h0M126.6 108.5h0M126.9 107.0h0M117.4 144.1h0M101.0 135.1h0M118.7 141.2h0M122.6 130.2h0M114.5 105.3h0M107.3 112.2h0M105.6 160.5h0M104.5 162.2h0M110.3 119.4h0M112.1 109.4h0M124.2 113.3h0M118.6 141.8h0M116.7 100.2h0M105.4 162.7h0M115.7 147.0h0M102.1 130.9h0M119.9 137.3h0M104.8 135.8h0M127.4 107.1h0M117.9 144.4h0M112.5 150.9h0M107.8 113.7h0M125.5 113.5h0M105.0 147.1h0M104.1 151.7h0M123.4 124.9h0M106.7 123.1h0M108.2 113.0h0" stroke="#ffc0cb" stroke-width="2.50" stroke-linecap="round" fill="none"/>
<path d="M146.0 121.0h0M149.6 119.0h0M142.7 125.5h0M142.2 123.3h0M156.7 114.2h0M154.1 117.5h0M157.1 116.4h0M140.1 126.3h0M155.0 115.2h0M155.2 115.7h0M150.0 119.7h0M155.9 115.1h0M158.5 113.1h0M155.5 114.5h0M139.6 125.5h0M150.7 119.9h0M155.3 115.2h0M146.1 122.5h0M153.5 117.0h0M149.6 120.0h0M152.0 117.6h0M151.6 119.1h0M142.9 123.1h0M140.5 126.9h0M142.9 122.0h0M154.8 115.8h0M141.9 126.2h0M140.9 125.5h0M145.3 122.8h0M152.0 116.9h0M144.9 122.8h0M152.9 119.2h0M152.7 116.6h0M146.2 121.9h0M153.4 115.9h0M145.9 120.2h0M148.4 119.6h0M154.8 114.4h0M153.6 117.0h0M153.2 113.9h0M157.6 114.4h0M148.5 121.2h0M140.8 125.5h0M150.5 117.6h0M145.6 121.6h0" stroke="#ffc0cb" stroke-width="2.50" stroke-linecap="round" fill="none"/>
<path d="M97.9 61.7h0M99.0 62.0h0M83.7 41.3h0M112.3 85.9h0M119.0 94.5h0M111.9 85.6h0M109.9 81.6h0M95.0 59.8h0M95.5 58.2h0M85.6 43.2h0M88.4 47.1h0M90.1 50.7h0M104.1 73.1h0M93.8 56.5h0M100.6 67.6h0M83.3 41.6h0M113.7 87.1h0M83.3 40.8h0M109.7 81.2h0M88.9 47.3h0M92.4 53.2h0M88.5 47.3h0M93.8 56.9h0M116.2 89.9h0M109.0 79.6h0M93.7 56.8h0M116.5 91.8h0M87.1 46.5h0M94.5 58.1h0M97.6 61.3h0M86.3 44.7h0M88.4 47.6h0M90.5 51.3h0M114.7 88.3h0M87.4 46.5h0M117.8 93.3h0M105.3 74.4h0M94.4 58.7h0M86.6 46.6h0M119.6 96.3h0M114.3 88.3h0M106.6 75.7h0M118.4 94.9h0M93.3 55.4h0M96.5 59.9h0M90.6 53.4h0M106.8 77.4h0M85.6 43.1h0M119.4 97.5h0M88.4 48.4h0M106.1 75.2h0M98.3 62.9h0M108.9 77.5h0M87.0 45.5h0M90.5 50.5h0M82.9 40.2h0M95.2 59.0h0M105.4 73.6h0M109.9 81.2h0M108.5 79.4h0M108.2 78.0h0M92.0 53.9h0M115.9 90.6h0M101.6 67.4h0M106.9 75.3h0M91.0 50.3h0M103.7 71.5h0M84.8 43.9h0M84.7 42.7h0M119.0 95.9h0M99.9 68.8h0M114.0 88.2h0M86.6 44.1h0M104.4 72.8h0M85.4 43.4h0M88.1 47.1h0M90.4 51.7h0M113.3 87.2h0M111.2 82.6h0M85.3 44.4h0M116.6 92.0h0M94.7 57.4h0M98.8 63.6h0M90.1 50.9h0M106.4 76.9h0M90.3 50.6h0M118.9 96.0h0M88.9 48.4h0M94.4 57.7h0M86.0 44.0h0M84.0 41.1h0M106.4 76.2h0M104.0 72.7h0M107.5 78.5h0M100.1 67.9h0M85.2 43.1h0M108.3 80.9h0M106.5 78.1h0M104.3 73.9h0M88.3 46.0h0M90.6 53.4h0M104.7 73.7h0M107.8 79.8h0M101.8 68.5h0M98.5 65.0h0M115.8 90.6h0M120.2 95.9h0M92.2 56.1h0M90.9 49.7h0M120.2 97.1h0M86.3 44.7h0M84.5 42.2h0M106.1 74.6h0M107.8 78.8h0M100.5 67.4h0M102.2 69.6h0M91.1 54.0h0M90.4 53.8h0M105.0 75.2h0M115.0 89.7h0M85.7 45.3h0M95.2 58.4h0M94.8 57.6h0M92.7 54.3h0M108.8 79.2h0M89.5 51.2h0M105.8 76.0h0M105.8 75.2h0M89.7 51.4h0M93.8 55.8h0M107.6 90.2h0M106.8 90.6h0M108.2 93.8h0M102.4 85.0h0M99.5 79.8h0M107.1 91.1h0M106.6 91.0h0M111.5 97.0h0M101.5 83.3h0M102.4 85.1h0M100.4 82.6h0M103.0 85.6h0M102.8 85.6h0M101.8 83.6h0M109.2 95.6h0M107.7 92.4h0M105.7 89.6h0M97.6 77.1h0M102.0 81.9h0M105.5 87.9h0M100.7 81.0h0M111.0 94.6h0M106.7 92.3h0M105.9 90.8h0M106.3 90.2h0M100.8 82.0h0M107.7 93.2h0M105.7 89.9h0M105.9 89.0h0M105.6 89.5h0M99.4 79.0h0M104.1 84.0h0M109.6 97.5h0M109.9 97.2h0M99.8 79.5h0M108.8 95.5h0M108.5 93.7h0M104.1 87.0h0M108.5 94.3h0M106.1 90.6h0M104.1 87.4h0M103.7 85.3h0M109.1 94.4h0M105.8 89.0h0M100.0 79.8h0M152.3 101.4h0M140.5 99.7h0M141.0 101.4h0M142.8 103.5h0M152.1 100.6h0M137.6 101.0h0M148.7 99.6h0M141.0 103.3h0M149.5 99.4h0M137.0 101.7h0M137.4 100.6h0M128.6 103.4h0M141.8 101.3h0M141.6 102.9h0M155.1 98.9h0M147.0 100.5h0M135.8 100.1h0M147.6 102.3h0M142.0 103.2h0M129.0 102.8h0M146.0 101.6h0M142.9 102.2h0M131.3 104.5h0M145.2 99.6h0M156.5 99.1h0M141.1 104.8h0M140.4 103.6h0M154.0 100.7h0M129.2 103.5h0M133.8 103.7h0" stroke="#ffa500" stroke-width="2.50" stroke-linecap="round" fill="none"/>
<path d="M109.2 83.1h0M110.2 83.4h0M102.1 72.3h0M90.7 55.9h0M112.3 84.4h0M111.7 90.2h0M91.6 56.2h0M92.8 55.6h0M114.8 91.3h0M93.6 57.4h0M100.5 68.6h0M91.5 55.2h0M91.9 53.1h0M90.8 52.0h0M98.5 66.9h0M94.0 58.3h0M114.1 92.6h0M112.8 85.1h0M114.6 91.0h0M108.0 81.3h0M111.6 87.5h0M108.2 80.2h0M93.7 57.7h0M105.5 74.4h0M90.6 52.6h0M105.5 77.3h0M91.6 56.4h0M89.0 52.6h0M102.2 70.7h0M97.6 62.6h0M112.0 88.0h0M107.0 80.0h0M95.3 60.2h0M101.6 72.2h0M112.0 85.7h0M115.3 91.5h0M90.0 52.9h0M102.3 71.1h0M96.5 64.9h0M108.4 80.8h0M99.6 67.3h0M114.5 89.5h0M106.5 81.4h0M91.2 52.2h0M93.3 59.0h0M111.9 90.4h0M91.7 57.0h0M108.7 83.1h0M102.2 72.0h0M115.1 93.3h0M91.0 58.2h0M100.4 70.6h0M97.7 65.0h0M101.5 72.9h0M97.8 64.1h0M114.3 89.1h0M97.5 68.8h0M106.0 75.5h0M105.9 76.3h0M108.7 83.6h0" stroke="#800080" stroke-width="2.50" stroke-linecap="round" fill="none"/>
<path d="M109.2 58.7L109.5 58.7L110.4 58.5L111.7 58.7L112.8 59.5L113.1 60.1L113.6 61.1L114.1 62.3L114.6 63.8L115.2 65.5L115.7 67.2L116.1 68.8L116.4 70.3L116.7 71.8L116.9 73.3L117.0 74.7L117.1 76.2L117.1 77.8L117.2 79.3L117.3 80.9L117.4 82.5L117.7 84.2L118.0 86.0L118.4 87.8L118.8 89.5L119.1 91.1L119.4 92.3L119.6 93.0L119.9 93.4L119.3 94.4L118.2 94.5L117.2 93.9L117.3 93.5L117.3 92.5L117.1 91.1L116.9 89.2L116.5 87.2L116.1 85.8L115.6 84.3L115.2 82.7L114.7 81.1L114.2 79.5L113.7 77.9L113.3 76.3L112.9 74.9L112.6 73.3L112.3 71.7L112.1 70.2L111.8 68.7L111.6 67.2L111.4 65.7L111.1 64.4L110.5 62.2L109.8 60.4L109.4 59.2Z" fill="#ff0000"/>
<path d="M119.5 94.0h0M114.5 85.9h0M113.3 76.4h0M113.2 59.6h0M112.4 59.0h0M110.3 64.0h0M116.0 68.3h0M116.9 93.9h0M116.4 87.4h0M118.8 94.0h0M111.7 68.7h0M116.9 86.7h0M118.4 73.1h0M109.8 61.5h0M111.0 65.5h0M111.6 64.3h0M118.5 86.1h0M109.7 60.3h0M111.1 66.4h0M112.1 73.0h0M118.8 77.9h0M117.2 77.5h0M117.5 92.9h0M116.2 74.2h0M109.0 59.9h0M118.2 86.1h0M115.5 86.9h0M113.4 61.7h0M111.7 72.7h0M116.1 84.3h0M112.8 78.1h0M116.3 72.5h0M112.6 72.7h0M117.6 76.0h0M118.2 94.7h0M112.3 75.0h0M114.3 75.9h0M108.7 59.1h0M112.4 76.8h0M118.9 94.4h0M114.4 60.7h0M115.9 66.5h0M113.6 60.0h0M116.2 75.2h0M116.3 94.6h0M117.5 73.8h0M115.4 84.5h0M118.8 94.5h0M118.4 94.2h0M108.7 58.8h0M109.4 61.7h0M108.8 58.8h0M119.9 95.0h0M117.7 80.3h0M119.8 93.8h0M117.1 76.6h0M113.7 59.3h0M116.8 86.8h0M115.8 88.5h0M116.2 71.9h0M116.6 74.7h0M115.5 82.4h0M119.2 95.1h0M113.8 61.1h0M117.2 94.3h0M108.9 58.9h0M117.5 79.1h0M113.9 62.1h0M109.7 60.3h0M112.3 72.6h0M109.3 58.0h0M114.1 76.7h0M110.1 61.8h0M119.9 93.6h0M118.3 78.5h0M115.6 86.7h0M109.2 58.9h0M117.5 77.2h0M115.1 64.0h0M114.9 80.6h0M111.0 66.3h0M113.1 59.4h0M113.1 74.8h0M113.2 80.4h0M114.3 58.9h0M111.0 69.4h0M111.4 65.9h0M114.7 62.7h0M119.9 89.8h0M119.7 92.3h0M115.5 66.5h0M116.9 69.1h0M116.4 87.3h0M117.0 70.6h0M116.9 94.9h0M113.1 73.8h0M115.3 64.5h0M117.0 72.1h0M115.9 66.2h0" stroke="#ff0000" stroke-width="2.50" stroke-linecap="round" fill="none"/>
<path d="M118.0 61.0h0M119.6 61.2h0M120.8 60.8h0" stroke="#ff0000" stroke-width="2.50" stroke-linecap="round" fill="none"/>
<path d="M153.4 14.2L154.3 14.2L155.4 14.0L156.9 13.9L158.3 14.0L159.2 14.2L160.0 14.9L160.5 16.1L161.0 17.6L161.7 19.4L162.5 20.6L163.3 22.1L164.2 23.5L164.9 24.8L165.4 25.8L165.4 26.7L165.1 27.5L164.4 28.3L163.3 29.3L162.0 30.4L160.7 31.6L159.6 32.8L158.8 34.4L158.2 36.0L157.7 37.4L157.3 38.7L156.6 39.9L155.6 40.9L154.4 41.9L153.0 42.9L151.7 44.1L150.5 45.5L149.7 47.0L149.0 48.7L148.6 50.3L148.1 51.9L147.7 53.3L147.2 54.6L146.3 56.1L145.3 57.5L144.2 58.9L143.2 60.6L142.5 62.1L141.7 63.6L141.0 65.2L140.3 66.8L139.6 68.5L138.9 70.1L138.4 71.6L137.9 73.0L137.4 74.5L136.9 76.0L136.4 77.5L135.9 79.0L135.3 80.4L134.7 82.1L134.0 84.0L133.4 85.8L132.8 87.2L132.5 88.0L132.9 88.1L133.1 88.1L132.5 87.3L131.7 85.9L131.1 84.3L130.8 82.8L130.9 81.7L131.2 80.5L131.7 79.1L132.4 77.6L133.1 76.1L133.6 74.6L134.3 72.9L134.9 71.2L135.5 69.6L136.1 68.0L136.7 66.4L137.4 64.8L138.1 63.2L138.8 61.5L139.4 59.8L139.9 57.9L140.2 56.2L140.4 54.3L140.6 52.4L140.7 50.7L140.9 49.1L141.1 47.7L141.7 46.1L142.4 44.7L143.2 43.4L143.9 41.7L144.4 40.3L144.9 38.7L145.3 37.1L145.7 35.5L146.2 33.9L146.6 32.3L147.1 30.8L147.5 29.3L148.0 27.7L148.5 26.2L149.0 24.7L149.6 23.3L150.2 21.5L151.0 19.7L151.7 18.0L152.3 16.6L152.8 15.6L152.9 14.5Z" fill="#800080"/>
<path d="M151.5 17.4h0M132.5 88.5h0M136.3 73.2h0M139.7 59.2h0M152.9 14.3h0M137.4 78.2h0M131.0 81.0h0M163.9 28.0h0M141.1 48.7h0M141.0 65.7h0M149.8 47.9h0M148.5 51.1h0M144.2 61.9h0M137.4 63.4h0M152.8 16.5h0M147.4 51.9h0M158.8 14.1h0M138.9 58.1h0M138.7 60.3h0M139.6 65.4h0M153.1 44.3h0M160.6 15.9h0M148.7 23.9h0M134.0 71.5h0M135.9 68.0h0M141.8 45.0h0M160.1 14.3h0M142.4 61.6h0M130.9 83.3h0M147.3 28.6h0M165.4 25.8h0M133.2 88.7h0M140.4 68.9h0M136.5 74.2h0M138.1 71.7h0M139.4 57.6h0M138.3 66.1h0M131.5 78.5h0M147.9 26.0h0M140.9 66.1h0M131.0 80.7h0M140.3 47.1h0M159.4 14.0h0M137.8 72.9h0M137.9 65.5h0M151.4 18.6h0M148.5 52.1h0M149.0 49.3h0M133.3 75.2h0M161.8 20.6h0M153.1 43.4h0M143.8 37.2h0M154.8 41.0h0M149.2 21.2h0M130.3 82.1h0M138.8 74.6h0M136.6 77.2h0M134.5 84.8h0M161.4 31.6h0M143.3 61.0h0M135.0 80.4h0M138.0 73.1h0M133.0 86.2h0M135.9 77.8h0M162.0 29.6h0M131.4 77.9h0M129.9 85.8h0M133.9 73.6h0M150.6 19.3h0M134.5 88.0h0M141.7 64.4h0M161.5 19.5h0M155.2 14.2h0M153.6 44.1h0M164.9 29.6h0M163.9 25.1h0M138.0 63.1h0M133.4 87.0h0M143.3 43.7h0M151.6 17.3h0M141.3 48.1h0M137.1 66.1h0M158.6 14.2h0M146.9 56.4h0M151.1 18.6h0M140.1 49.8h0M149.3 49.5h0M140.7 50.1h0M159.1 36.2h0M148.7 48.5h0M138.3 72.8h0M139.8 49.5h0M136.7 67.6h0M161.1 17.3h0M161.4 19.0h0M138.5 61.6h0M139.6 54.1h0M139.9 46.8h0M133.3 85.6h0M148.7 53.8h0M132.7 86.7h0M164.3 22.0h0M139.2 56.0h0M159.8 15.6h0M151.5 43.4h0M134.9 71.8h0M136.9 63.6h0M137.4 78.5h0M162.7 18.0h0M164.6 22.5h0M154.1 42.5h0M134.9 71.4h0M132.0 88.8h0M147.0 34.7h0M143.9 59.5h0M138.6 74.0h0M154.5 41.9h0M158.6 36.6h0M160.9 31.3h0M138.6 59.9h0M161.9 29.3h0M160.2 13.9h0M162.9 20.8h0M136.8 77.9h0M163.5 22.0h0M146.3 57.2h0M147.8 53.6h0M137.0 66.6h0M144.7 37.9h0M164.3 22.7h0M130.9 80.7h0M166.2 26.5h0M144.9 41.4h0M132.0 79.1h0M134.3 73.3h0M151.2 44.2h0M132.9 77.0h0M164.9 25.2h0M165.6 26.3h0M158.8 34.8h0M141.2 58.6h0M158.6 33.5h0M163.8 29.8h0M150.7 46.4h0M134.7 69.8h0M132.0 88.1h0M134.2 86.0h0M158.5 13.2h0M157.7 13.5h0M148.3 51.4h0M151.9 17.4h0M166.3 27.7h0M147.4 55.2h0M159.4 35.2h0M131.3 85.0h0M164.9 24.8h0M138.3 69.0h0M139.5 71.0h0M148.1 53.2h0M157.3 14.7h0M140.3 47.6h0M140.5 69.6h0M137.5 75.9h0M161.7 17.1h0M166.4 24.6h0M154.0 42.5h0M137.1 68.0h0M148.5 51.0h0M135.8 79.1h0M145.6 56.7h0M156.2 14.1h0M160.5 33.1h0M129.9 81.3h0M161.1 31.6h0M141.2 67.6h0M138.1 68.1h0M161.9 18.6h0M141.6 45.2h0M130.2 84.1h0M131.5 85.8h0M165.0 27.8h0M151.7 16.3h0M158.2 37.1h0M148.5 25.5h0M144.8 59.1h0M141.2 50.6h0M149.6 23.2h0M165.6 25.3h0M143.3 62.6h0M130.2 85.7h0M152.6 43.2h0M151.5 17.5h0M132.4 88.8h0M135.3 71.1h0M139.1 74.5h0M131.9 84.7h0M150.2 23.2h0M138.5 73.4h0M139.0 57.9h0M166.0 26.0h0M157.1 12.2h0M137.0 65.9h0M148.6 48.0h0M155.5 41.5h0M146.0 40.0h0M147.0 31.5h0M154.1 42.9h0M141.6 45.8h0M142.6 62.5h0M161.6 16.2h0M153.5 43.2h0M131.1 81.1h0M141.4 46.0h0M164.3 29.0h0M134.9 80.0h0M159.5 14.0h0M143.9 61.1h0M148.9 46.8h0M140.6 72.1h0M148.3 57.5h0M140.1 76.9h0M144.9 68.6h0M156.0 54.1h0M123.8 80.3h0M132.0 89.5h0M133.2 64.5h0M169.7 24.5h0M156.8 12.2h0M165.5 16.9h0M145.0 28.6h0M133.7 67.6h0M134.8 52.9h0M148.6 57.7h0M143.3 28.3h0M139.7 43.3h0M158.3 7.7h0M139.6 53.1h0M142.8 65.8h0" stroke="#800080" stroke-width="2.50" stroke-linecap="round" fill="none"/>
<path d="M170.5 40.0h0M162.7 34.9h0M159.2 47.2h0M158.1 52.3h0M152.5 54.9h0M155.5 58.0h0M151.0 62.1h0M164.8 66.7h0M172.0 70.8h0M135.0 42.0h0M175.0 62.0h0M160.0 72.0h0M150.0 74.0h0" stroke="#800080" stroke-width="2.50" stroke-linecap="round" fill="none"/>
<path d="M153.5 16.4h0M150.9 22.1h0M148.9 27.7h0M148.9 33.4h0M146.8 46.2h0M141.7 50.3h0M135.5 80.0h0" stroke="#a52a2a" stroke-width="2.50" stroke-linecap="round" fill="none"/>
<path d="M147.3 39.5h0M150.4 50.3h0M142.2 60.6h0M147.8 38.5h0" stroke="#ffc0cb" stroke-width="2.50" stroke-linecap="round" fill="none"/>
<path d="M131.2 103.7h0M131.5 101.7h0M131.6 102.2h0M132.2 102.1h0M133.9 101.6h0M134.5 102.5h0M136.0 102.8h0M137.4 101.6h0M136.9 102.5h0M139.3 101.8h0M140.5 103.3h0M143.2 101.8h0M143.1 102.1h0M143.7 101.4h0M145.3 102.7h0M145.6 101.8h0M147.4 103.5h0M145.7 102.6h0M147.7 101.6h0M147.2 102.4h0M148.2 101.9h0M148.1 101.6h0M149.3 102.8h0M149.5 100.5h0M150.5 102.5h0M149.9 103.0h0M151.3 100.4h0M151.3 102.5h0M151.7 100.1h0M152.1 100.8h0M152.9 103.4h0M151.5 103.5h0M153.6 101.9h0M153.6 101.7h0M154.2 102.7h0M154.7 102.9h0M155.0 100.2h0M154.3 100.1h0M156.4 101.1h0M155.7 99.6h0M155.0 102.8h0M157.0 102.6h0M157.6 101.9h0M156.2 105.3h0M157.2 103.9h0M157.5 100.5h0M159.1 100.4h0M157.7 104.1h0M157.8 101.1h0M158.0 101.8h0M157.9 102.9h0M158.7 101.2h0M159.7 101.4h0M159.8 101.0h0M158.9 103.0h0M159.4 99.9h0M160.1 102.9h0M160.1 101.3h0M159.6 103.8h0M158.8 103.9h0M161.1 104.0h0M161.0 99.2h0M161.4 103.8h0M162.0 101.1h0M162.2 103.4h0M162.4 99.6h0M161.8 101.7h0M162.1 102.9h0M163.3 101.2h0M162.9 103.2h0M163.6 100.3h0M163.4 103.1h0M164.0 104.7h0M163.9 106.0h0M164.3 101.7h0M163.7 106.6h0M165.6 106.3h0M165.7 101.9h0M165.2 102.3h0M165.7 103.1h0M167.1 102.2h0M165.3 105.6h0M166.4 101.7h0M166.7 102.2h0M166.7 104.5h0M165.6 107.3h0M166.4 105.2h0M166.6 103.6h0M169.7 101.8h0M168.1 104.5h0M167.9 104.7h0M166.7 106.9h0M167.7 106.7h0M169.6 103.5h0M170.0 104.1h0M169.7 106.9h0M169.5 106.8h0M168.9 107.0h0M170.1 107.5h0M171.8 104.2h0M170.8 105.9h0M171.5 106.6h0M171.5 106.8h0M169.5 107.7h0M172.3 106.6h0M173.5 107.1h0M172.4 107.9h0M171.7 109.4h0M171.8 108.7h0M174.1 109.8h0M173.7 111.4h0M176.0 109.6h0M176.0 109.3h0M174.8 111.5h0M174.0 112.1h0M175.6 113.0h0M176.2 112.5h0M177.4 113.0h0M176.5 114.3h0M179.0 114.8h0M178.2 117.2h0M179.3 117.3h0M179.2 117.5h0" stroke="#800080" stroke-width="2.50" stroke-linecap="round" fill="none"/>
<path d="M160.1 99.2h0M188.2 70.4h0M166.3 61.8h0M150.7 81.9h0M145.8 111.8h0M128.5 105.5h0M155.5 61.4h0M179.6 69.8h0M158.9 111.9h0M130.9 84.6h0M131.2 105.3h0M178.1 95.4h0M136.2 100.6h0M174.9 90.7h0M175.6 101.5h0M158.6 59.7h0M193.1 70.5h0M157.0 101.2h0M145.9 102.8h0M150.2 78.3h0M144.6 107.4h0M134.6 113.1h0" stroke="#800080" stroke-width="2.50" stroke-linecap="round" fill="none"/>
<path d="M185.9 96.5h0M159.8 127.6h0M124.4 81.9h0M179.9 75.9h0M187.2 111.1h0M167.9 80.4h0M136.3 81.9h0" stroke="#0000ff" stroke-width="2.50" stroke-linecap="round" fill="none"/>
<path d="M168.4 78.0h0M156.0 64.8h0M169.0 115.9h0M191.1 77.6h0M140.2 102.1h0M155.4 60.1h0M191.6 81.3h0M146.1 63.6h0M137.9 112.3h0M184.3 66.5h0M128.6 79.0h0M140.5 85.7h0M175.1 124.8h0M184.3 108.9h0M197.2 84.0h0M180.1 63.3h0" stroke="#808080" stroke-width="2.50" stroke-linecap="round" fill="none"/>
<path d="M168.1 85.3h0M175.6 106.1h0M133.3 94.5h0M131.3 102.5h0M176.1 101.4h0M135.2 113.5h0M145.4 80.2h0M158.4 98.3h0M176.3 95.3h0M177.4 113.9h0M190.1 108.9h0M159.2 101.7h0M155.6 117.5h0M150.1 127.1h0M164.5 84.7h0M171.8 106.6h0M157.6 100.2h0M175.8 103.3h0M189.3 82.6h0M172.2 84.8h0M131.7 111.5h0M176.0 80.7h0M169.6 86.9h0M142.7 79.7h0M170.5 96.0h0M131.3 109.4h0M181.4 121.1h0M179.2 93.6h0M140.2 111.4h0M162.0 86.1h0" stroke="#800080" stroke-width="2.50" stroke-linecap="round" fill="none"/>
<path d="M148.3 116.2h0M138.1 81.2h0M146.1 85.3h0M181.6 93.9h0M150.7 90.6h0M156.4 93.4h0M186.9 106.1h0M137.6 92.5h0M166.3 114.3h0M134.6 91.2h0" stroke="#0000ff" stroke-width="2.50" stroke-linecap="round" fill="none"/>
<path d="M143.0 88.6h0M128.1 101.0h0M155.2 112.9h0M140.7 119.1h0M138.1 82.8h0M164.3 115.0h0M141.0 116.7h0M182.9 101.9h0M160.6 118.3h0M135.9 113.8h0M125.5 97.6h0M170.4 96.2h0M163.2 122.2h0M187.0 109.5h0M186.8 109.6h0M166.4 93.9h0M130.8 106.2h0M133.0 104.5h0M156.2 102.2h0M164.6 119.8h0M188.1 90.4h0M179.1 107.8h0M186.8 81.5h0M192.0 86.1h0M171.3 111.2h0M187.6 83.8h0M162.0 92.7h0M141.6 89.2h0M197.0 102.0h0M154.6 110.0h0M163.0 90.9h0M156.0 113.8h0M176.7 109.7h0M166.4 98.6h0M197.2 88.6h0M126.1 91.7h0M161.8 100.1h0M177.2 123.1h0M166.5 117.1h0M148.8 123.2h0" stroke="#808080" stroke-width="2.50" stroke-linecap="round" fill="none"/>
<path d="M182.0 80.7h0M203.6 70.5h0M196.3 56.6h0M198.8 78.2h0M189.6 99.7h0M197.0 93.0h0M194.3 75.1h0M204.4 95.9h0M195.3 78.5h0M196.1 84.0h0M179.6 66.9h0M198.8 85.8h0M184.6 80.1h0M182.5 98.7h0M209.8 61.3h0M210.2 65.8h0M204.5 68.6h0M185.2 84.1h0M194.0 77.7h0M208.4 65.9h0M189.2 58.4h0M201.7 66.8h0M184.0 82.6h0M177.0 89.9h0M192.5 89.7h0M199.8 63.4h0M189.6 66.5h0M179.8 69.9h0M172.6 74.8h0M209.5 64.9h0M194.3 95.8h0M182.0 84.4h0M185.0 88.2h0M205.5 62.1h0M205.3 62.8h0M178.6 79.6h0M198.8 82.0h0M180.0 90.4h0" stroke="#0000ff" stroke-width="2.50" stroke-linecap="round" fill="none"/>
<path d="M148.0 89.1h0M128.2 88.4h0M184.2 98.8h0M157.1 91.0h0M149.8 84.7h0M150.8 105.6h0M129.2 97.1h0M178.0 87.9h0M157.9 78.8h0M131.9 101.2h0M140.3 102.3h0M155.9 79.0h0M183.0 93.0h0M150.3 78.8h0" stroke="#ffa500" stroke-width="2.50" stroke-linecap="round" fill="none"/>
<path d="M128.2 89.8h0M154.1 122.0h0M180.5 114.1h0M182.3 100.8h0M133.9 81.8h0M170.1 112.2h0M143.7 99.1h0M155.8 82.0h0M187.8 100.0h0M141.4 81.6h0M184.6 85.6h0M165.4 89.7h0M165.7 111.7h0M172.0 101.3h0" stroke="#ffc0cb" stroke-width="2.50" stroke-linecap="round" fill="none"/>
<path d="M146.8 139.0h0M163.8 105.6h0M145.0 113.3h0M150.4 122.1h0M163.7 138.7h0M161.2 121.4h0M183.9 129.4h0M188.0 125.4h0M148.1 115.6h0M137.4 133.0h0M174.2 135.0h0M168.9 105.9h0M148.3 115.1h0M184.4 134.5h0M179.4 126.0h0M136.2 127.4h0M182.0 136.8h0M159.3 133.3h0M140.9 114.8h0M139.0 111.8h0M135.9 130.6h0M162.0 105.5h0M187.3 127.4h0M146.4 132.7h0M157.2 119.7h0M139.7 128.8h0M154.8 125.5h0M139.5 130.0h0M159.3 136.0h0M153.0 117.9h0" stroke="#008000" stroke-width="2.50" stroke-linecap="round" fill="none"/>
<path d="M165.2 87.2h0M164.6 83.1h0M164.6 77.6h0M171.1 87.8h0M171.9 85.7h0M171.6 81.8h0M165.2 81.2h0M165.0 75.5h0M172.6 86.0h0M171.1 82.9h0M168.1 79.5h0M168.0 81.6h0M168.5 90.7h0M168.8 75.8h0M163.5 83.9h0M161.2 75.8h0M170.7 81.9h0M165.6 75.9h0M169.4 88.7h0M169.0 84.7h0M161.1 75.3h0M164.4 74.3h0M171.8 81.9h0M169.7 88.6h0M170.0 85.4h0" stroke="#808080" stroke-width="2.50" stroke-linecap="round" fill="none"/>
<path d="M118.8 117.4h0M117.4 109.4h0M118.3 101.0h0M121.2 101.6h0M119.1 112.2h0M115.8 102.0h0M120.2 108.6h0M119.1 111.5h0M118.0 105.6h0M115.9 105.3h0M115.9 115.5h0M119.8 111.3h0M118.6 118.5h0M120.0 109.3h0M120.3 116.1h0M117.3 105.4h0M121.0 104.4h0M115.4 107.2h0M118.2 113.9h0M119.4 103.7h0M117.8 101.5h0M120.5 101.9h0M115.4 109.4h0M118.3 112.4h0M117.9 116.8h0M119.5 104.6h0M121.4 107.3h0M121.3 112.1h0M122.0 103.9h0M116.2 116.4h0M120.4 104.7h0M120.1 113.8h0M117.8 106.4h0M120.1 111.9h0M120.3 112.1h0M123.6 105.1h0M120.0 105.8h0M123.2 109.4h0M117.2 107.2h0M119.4 104.3h0M113.8 113.1h0M119.1 107.7h0M115.0 108.1h0M116.8 117.3h0M115.6 106.1h0" stroke="#808080" stroke-width="2.50" stroke-linecap="round" fill="none"/>
<path d="M123.8 131.4L124.7 129.9L126.2 129.4L127.7 130.3L127.7 130.7L128.0 131.3L128.6 132.1L129.2 133.3L129.8 134.7L130.4 136.4L130.9 138.2L131.2 140.3L131.4 141.4L131.5 142.7L131.5 144.1L131.6 145.6L131.6 147.2L131.6 148.8L131.6 150.5L131.6 152.3L131.6 154.0L131.5 155.7L131.5 157.4L131.4 159.1L131.4 160.7L131.3 162.2L131.3 163.6L131.2 164.9L131.1 166.8L131.0 168.7L130.9 170.4L130.8 172.0L130.6 173.5L130.5 174.9L130.3 176.2L130.1 177.4L129.9 178.5L129.8 179.5L129.2 181.9L128.7 183.8L128.2 184.8L129.1 184.8L129.2 185.2L128.8 184.3L128.0 181.3L127.8 180.5L127.6 179.4L127.3 178.0L127.1 176.6L126.8 175.0L126.6 173.3L126.3 171.6L126.0 169.8L125.8 168.0L125.5 166.3L125.3 164.5L125.1 162.9L124.9 161.3L124.8 159.8L124.6 158.2L124.5 156.6L124.5 155.0L124.4 153.4L124.4 151.9L124.4 150.4L124.4 148.9L124.4 147.4L124.4 146.0L124.4 144.6L124.4 143.2L124.4 141.9L124.3 140.1L124.2 138.3L124.1 136.5L124.0 134.9L124.0 133.5L124.0 132.5L123.9 131.8Z" fill="#008000"/>
<path d="M132.0 149.0h0M125.8 172.2h0M129.8 167.5h0M124.3 131.6h0M129.1 186.0h0M124.4 163.6h0M126.2 129.5h0M127.3 176.9h0M130.5 177.2h0M132.3 146.4h0M131.2 177.1h0M127.5 183.3h0M124.4 132.2h0M132.5 146.9h0M124.4 159.2h0M128.4 131.7h0M131.4 158.0h0M124.5 134.7h0M131.6 175.3h0M123.3 154.0h0M126.8 179.5h0M123.8 138.8h0M124.9 144.8h0M128.3 185.0h0M124.2 133.9h0M126.0 167.8h0M130.1 172.7h0M127.7 129.3h0M124.4 156.2h0M123.2 147.6h0M132.4 161.4h0M128.8 179.6h0M123.7 153.6h0M127.9 132.5h0M131.8 154.6h0M130.1 166.7h0M130.9 169.9h0M131.6 150.0h0M131.6 167.7h0M128.7 184.5h0M123.0 132.0h0M131.1 178.5h0M127.5 175.9h0M131.9 143.5h0M131.9 159.5h0M128.9 185.6h0M131.3 162.0h0M124.5 158.3h0M128.8 183.9h0M129.0 133.6h0M131.3 138.4h0M123.8 167.0h0M131.7 138.5h0M129.9 132.7h0M131.6 174.0h0M123.9 131.9h0M124.1 164.7h0M127.1 180.7h0M125.8 160.1h0M124.2 139.7h0M129.6 179.3h0M132.5 156.8h0M128.2 184.1h0M129.3 184.9h0M130.4 176.5h0M131.8 150.2h0M124.9 165.6h0M126.1 168.6h0M125.0 160.8h0M131.7 146.5h0M124.3 148.7h0M130.9 142.8h0M124.6 164.0h0M132.8 156.5h0M129.0 131.9h0M124.4 130.1h0M123.4 129.5h0M124.0 144.1h0M130.3 175.2h0M133.0 154.4h0M127.5 177.4h0M131.9 164.1h0M123.8 138.5h0M131.6 160.7h0M129.2 179.7h0M124.8 161.1h0M131.1 174.9h0M130.6 180.8h0M127.0 129.3h0M131.4 143.0h0M132.3 155.7h0M127.3 177.8h0M128.1 184.3h0M131.9 149.6h0M131.1 137.3h0M131.2 170.9h0M129.5 134.9h0M124.2 139.2h0M124.5 163.4h0M124.0 143.5h0M130.4 136.1h0M122.9 154.4h0M130.6 174.7h0M125.3 155.7h0M130.0 145.9h0M131.0 177.6h0M125.4 161.5h0M123.6 132.9h0M124.2 129.3h0M130.2 179.7h0M132.3 153.7h0M127.0 173.5h0M132.2 165.1h0M131.3 144.9h0M127.9 182.4h0M124.3 161.4h0M123.5 146.8h0M126.8 179.8h0M123.6 134.2h0M127.8 181.0h0M128.9 184.2h0M132.3 149.6h0M127.5 175.3h0M127.4 132.1h0M129.4 184.3h0M131.0 171.5h0M132.2 152.5h0M130.4 177.5h0M124.5 150.4h0M131.8 179.0h0M123.6 136.3h0M124.7 155.0h0M130.8 178.1h0M124.6 134.8h0M128.2 130.2h0M123.8 131.0h0M126.8 170.2h0M125.9 171.0h0M130.5 168.4h0M130.9 172.7h0M128.8 185.5h0M123.2 131.2h0M128.8 131.4h0M129.8 163.5h0M124.4 151.2h0" stroke="#008000" stroke-width="2.50" stroke-linecap="round" fill="none"/>
<path d="M139.3 147.0h0M141.0 162.5h0M137.5 165.0h0M146.0 143.0h0" stroke="#008000" stroke-width="2.50" stroke-linecap="round" fill="none"/>
<path d="M127.2 113.2h0M127.0 113.1h0M127.0 113.6h0M127.0 113.5h0M127.6 114.1h0M127.0 114.4h0M127.2 115.1h0M127.0 115.5h0M127.5 116.9h0M127.5 116.3h0M127.2 117.6h0M127.1 117.8h0M127.6 119.1h0M127.8 119.0h0M127.3 120.0h0M127.8 119.8h0M127.4 121.5h0M127.8 121.1h0M127.9 122.4h0M128.2 122.3h0M127.8 122.3h0M130.8 121.5h0M129.2 122.7h0M129.6 122.4h0M130.0 122.4h0M129.2 124.0h0M131.3 122.6h0M129.3 124.2h0M129.4 124.4h0M130.7 123.0h0M129.8 125.2h0M131.6 123.6h0M130.7 124.8h0M132.3 123.1h0M131.5 123.5h0M127.9 126.5h0M132.9 123.5h0M133.8 123.0h0M130.1 126.4h0M129.7 126.8h0M133.0 124.2h0M131.3 125.2h0M133.8 124.1h0M135.0 122.8h0M134.0 123.4h0M129.0 127.2h0M128.8 127.8h0M128.8 127.7h0M129.1 127.6h0M136.2 124.2h0M134.0 125.1h0M133.4 124.9h0M134.2 125.0h0M127.5 128.4h0M127.8 128.1h0M130.0 127.7h0M133.9 126.7h0M132.9 126.7h0M132.6 127.1h0M129.2 127.4h0M128.4 128.1h0M136.5 126.3h0M130.2 128.3h0M131.4 128.0h0M131.4 128.0h0M136.5 128.2h0M134.3 128.3h0M130.8 127.8h0M134.9 128.0h0M130.5 127.6h0M131.2 128.4h0M131.0 129.0h0M135.1 129.3h0M135.6 129.9h0M131.9 128.7h0M132.7 129.2h0M130.5 128.8h0M134.8 130.7h0M130.8 129.4h0M131.1 129.6h0M132.6 130.2h0M129.1 128.8h0M134.9 131.2h0M131.9 131.2h0M134.2 131.8h0M129.7 130.7h0M131.4 131.3h0M129.6 129.9h0M129.2 130.2h0M131.0 132.0h0M131.7 132.2h0M133.1 132.5h0M129.4 132.0h0M133.2 132.7h0M130.2 132.3h0M129.7 133.0h0M130.3 133.1h0M131.0 132.8h0M131.0 134.0h0M132.0 134.1h0M129.8 133.9h0M132.1 133.8h0M130.9 134.9h0M131.7 134.3h0M133.2 135.1h0M131.5 135.3h0M132.6 135.3h0M129.4 135.7h0M131.6 135.3h0M130.8 136.7h0M129.6 136.4h0M130.9 136.4h0M131.7 138.1h0M130.5 138.0h0M130.9 137.9h0M131.7 139.2h0M130.5 138.6h0M130.9 138.6h0M132.2 140.0h0M131.7 139.6h0M132.5 139.5h0M131.1 140.5h0M130.1 140.6h0M131.4 141.8h0M132.0 141.8h0M131.0 143.0h0M130.5 142.9h0M130.8 144.2h0M130.7 144.2h0M132.0 145.4h0M130.5 145.3h0M131.1 146.1h0M131.3 146.4h0M131.2 147.2h0M130.6 147.2h0M130.7 148.6h0M131.3 148.7h0M131.1 149.3h0M130.9 149.5h0M131.1 150.3h0M131.4 150.4h0M131.3 151.6h0M131.3 151.4h0M131.8 152.8h0M131.1 152.9h0M131.1 153.6h0M130.9 153.9h0M131.1 154.1h0M130.9 154.7h0" stroke="#a52a2a" stroke-width="2.50" stroke-linecap="round" fill="none"/>
<path d="M128.0 136.7h0M128.6 177.0h0M123.3 131.3h0M126.4 130.8h0M128.9 170.8h0M127.3 129.1h0M129.7 145.1h0M130.3 146.4h0M122.8 139.0h0M129.4 165.5h0M127.1 148.5h0M127.1 172.1h0M131.0 127.0h0M134.5 127.5h0M130.0 133.0h0" stroke="#ffc0cb" stroke-width="2.50" stroke-linecap="round" fill="none"/></g>
<g id="pf"><path d="M502.4 25.3L503.4 25.8L504.6 26.6L505.7 27.5L506.9 28.6L508.1 29.8L509.2 31.1L510.3 32.4L511.4 33.7L512.3 34.9L513.1 36.1L514.0 37.5L514.7 38.8L515.3 40.1L515.9 41.4L516.3 42.8L516.7 44.2L517.1 45.6L517.5 47.2L517.9 48.6L518.1 50.0L518.4 51.4L518.6 52.9L518.8 54.5L519.0 56.1L519.2 57.7L519.5 59.4L519.8 61.1L520.2 62.6L520.6 64.1L521.1 65.6L521.6 67.1L522.1 68.6L522.6 70.1L523.1 71.6L523.6 73.1L523.9 74.6L524.3 76.0L524.5 77.4L524.7 79.0L525.0 80.7L525.1 82.3L525.3 84.0L525.4 85.6L525.4 87.2L525.3 88.7L525.2 90.1L524.9 91.5L524.6 92.8L524.1 94.0L523.6 95.3L522.9 96.5L522.2 97.6L521.4 98.7L520.5 99.8L519.5 100.8L518.5 101.7L517.3 102.6L516.1 103.4L515.0 103.9L513.8 104.4L512.4 104.9L510.9 105.3L509.4 105.7L507.8 106.0L506.1 106.4L504.4 106.7L502.8 107.0L501.1 107.2L499.5 107.5L498.0 107.8L496.4 108.2L494.8 108.6L493.3 108.9L491.9 109.3L490.4 109.6L489.0 109.9L487.6 110.2L486.3 110.4L484.9 110.5L483.6 110.5L482.2 110.5L480.8 110.4L479.4 110.2L477.9 109.9L476.4 109.5L474.9 109.1L473.4 108.7L472.0 108.2L470.5 107.7L469.2 107.1L467.8 106.6L466.6 106.0L465.1 105.3L463.7 104.5L462.3 103.7L461.0 102.9L459.8 102.0L458.7 101.1L457.6 100.2L456.5 99.2L455.5 98.1L454.6 96.9L453.7 95.7L452.8 94.5L452.1 93.1L451.3 91.7L450.6 90.3L450.0 88.8L449.4 87.3L448.9 85.8L448.5 84.3L448.1 82.8L447.7 81.3L447.4 79.6L447.1 78.0L446.9 76.4L446.7 74.8L446.6 73.2L446.6 71.7L446.7 70.3L446.9 68.7L447.2 67.2L447.5 65.8L448.0 64.3L448.5 62.9L449.1 61.5L449.7 60.0L450.5 58.5L451.2 57.0L451.8 55.7L452.5 54.4L453.2 53.2L453.9 51.9L454.6 50.6L455.4 49.3L456.2 48.1L457.1 46.9L458.1 45.7L459.1 44.5L460.1 43.4L461.1 42.5L462.2 41.5L463.3 40.6L464.5 39.7L465.8 38.7L467.1 37.8L468.4 36.9L469.7 36.0L471.1 35.2L472.4 34.3L473.7 33.6L474.9 32.8L476.1 32.2L477.6 31.3L479.0 30.6L480.4 29.9L481.7 29.2L483.0 28.6L484.3 28.1L485.6 27.6L487.0 27.2L488.3 26.8L489.6 26.4L491.2 26.0L492.7 25.6L494.2 25.3L495.7 25.0L497.2 24.8L498.6 24.7L499.9 24.7L501.2 24.9Z" fill="#ffa500"/>
<path d="M522.2 101.3h0M514.9 103.9h0M502.8 25.4h0M524.2 81.5h0M476.9 110.2h0M454.2 49.3h0M510.6 107.2h0M467.1 105.4h0M512.9 37.2h0M517.8 48.4h0M514.2 35.5h0M447.3 64.0h0M524.7 82.7h0M525.0 79.7h0M510.0 104.9h0M466.9 38.2h0M506.3 106.1h0M461.2 43.5h0M446.8 78.3h0M477.9 28.4h0M502.8 25.6h0M522.2 67.1h0M514.5 35.0h0M470.2 108.8h0M457.9 45.7h0M484.4 27.2h0M453.8 94.7h0M457.1 100.5h0M518.9 47.6h0M453.6 92.8h0M457.8 43.1h0M481.5 110.5h0M456.5 48.8h0M478.7 112.2h0M498.5 23.3h0M525.4 81.3h0M456.2 98.0h0M450.2 57.3h0M488.7 27.0h0M503.7 105.9h0M512.2 104.1h0M474.4 107.6h0M499.3 107.1h0M487.9 26.4h0M524.4 83.7h0M510.5 30.5h0M448.4 83.4h0M446.9 79.4h0M492.3 110.4h0M516.4 42.5h0M524.9 95.2h0M494.5 24.7h0M446.7 74.4h0M504.1 108.2h0M511.0 105.7h0M470.2 106.9h0M454.6 95.8h0M520.9 98.1h0M516.5 42.8h0M472.4 33.5h0M457.5 100.6h0M520.4 98.1h0M490.1 109.4h0M486.8 112.4h0M479.6 110.2h0M469.2 105.5h0M463.9 104.2h0M482.2 111.3h0M523.0 71.4h0M518.5 62.7h0M448.4 82.0h0M455.1 48.2h0M494.0 25.2h0M519.0 101.1h0M521.7 70.6h0M466.0 39.3h0M514.4 38.0h0M495.1 110.2h0M524.4 76.1h0M515.8 102.9h0M447.5 82.8h0M513.3 36.4h0M474.2 36.3h0M525.4 79.5h0M489.9 110.9h0M457.6 101.7h0M489.1 109.7h0M490.4 26.4h0M481.3 111.2h0M472.1 34.8h0M449.3 89.3h0M458.1 45.7h0M525.2 80.4h0M515.6 43.0h0M479.2 31.9h0M452.8 94.0h0M524.0 74.9h0M481.9 110.8h0M522.1 68.9h0M452.6 54.1h0M462.0 102.8h0M447.1 68.8h0M524.7 81.6h0M526.2 80.5h0M447.2 65.6h0M448.9 88.4h0M448.6 60.5h0M478.1 110.4h0M497.6 25.1h0M447.8 64.5h0M488.5 26.5h0M459.5 101.9h0M452.2 55.2h0M477.2 31.4h0M520.8 98.1h0M518.0 49.5h0M510.2 105.6h0M503.6 25.6h0M517.2 45.5h0M516.5 40.0h0M516.7 103.1h0M482.8 111.1h0M510.6 35.7h0M516.2 44.1h0M461.6 41.7h0M457.9 43.5h0M526.6 85.8h0M509.1 30.2h0M525.6 88.0h0M518.3 49.4h0M460.0 43.0h0M445.3 79.5h0M477.1 30.8h0M480.4 30.3h0M524.1 94.8h0M449.8 86.7h0M448.2 84.0h0M499.7 24.3h0M501.3 107.0h0M514.8 104.5h0M455.3 97.3h0M496.2 24.2h0M505.4 106.4h0M448.8 66.0h0M519.3 101.3h0M490.1 109.8h0M446.6 84.5h0M525.4 85.8h0M520.3 98.3h0M509.0 105.1h0M520.8 100.6h0M446.5 66.2h0M502.3 106.9h0M454.8 52.1h0M504.4 26.2h0M488.5 26.8h0M496.2 24.9h0M494.0 25.0h0M523.1 69.5h0M445.9 80.9h0M447.5 80.7h0M485.9 27.3h0M524.1 98.8h0M469.8 107.6h0M520.8 55.6h0M451.4 94.2h0M466.5 37.8h0M456.2 100.3h0M483.0 110.8h0M517.0 48.4h0M508.5 30.6h0M446.4 64.4h0M453.3 53.6h0M519.4 61.9h0M520.3 101.6h0M523.9 69.9h0M521.9 98.1h0M460.5 43.1h0M525.2 74.9h0M445.6 79.2h0M513.6 34.4h0M477.9 111.6h0M509.9 107.0h0M519.5 49.6h0M518.6 47.8h0M462.5 104.1h0M497.5 107.8h0M445.8 73.6h0M452.3 94.2h0M498.4 107.8h0M526.6 83.9h0M449.5 84.8h0M482.8 29.0h0M484.0 111.2h0M503.1 108.9h0M457.3 99.8h0M499.4 109.6h0M506.2 27.7h0M462.4 104.9h0M506.7 106.8h0M477.3 109.3h0M474.6 33.6h0M524.9 78.5h0M489.1 25.4h0M448.2 83.4h0M468.1 37.2h0M514.7 37.3h0M518.3 48.6h0M520.2 64.1h0M519.1 53.5h0M518.9 57.3h0M497.4 24.3h0M504.7 26.5h0M449.3 84.2h0M455.0 96.4h0M450.6 59.6h0M460.4 102.5h0M455.1 95.6h0M522.8 66.8h0M471.5 109.0h0M447.6 85.4h0M488.0 109.3h0M503.2 25.8h0M454.5 50.9h0M523.5 70.7h0M526.4 80.7h0M519.6 49.5h0M490.5 109.5h0M489.3 26.0h0M519.8 59.6h0M524.0 82.0h0M517.8 48.8h0M479.8 111.5h0M515.2 36.2h0M506.7 106.8h0M446.5 77.9h0M518.1 46.2h0M503.2 106.9h0M518.4 54.2h0M478.1 110.5h0M524.3 79.5h0M502.7 26.0h0M446.2 80.8h0M478.6 30.9h0M455.3 49.1h0M461.0 40.8h0M465.9 106.2h0M500.9 25.1h0M460.4 43.0h0M449.7 90.7h0M526.2 77.8h0M457.9 44.7h0M501.3 25.1h0M519.2 51.7h0M462.0 40.2h0M491.2 110.8h0M523.8 80.0h0M492.0 25.2h0M485.9 26.5h0M450.4 57.2h0M447.5 72.1h0M482.3 111.1h0M453.5 53.5h0M525.3 79.7h0M522.2 67.9h0M459.7 45.0h0M459.1 100.7h0M454.1 49.9h0M446.3 64.9h0M456.9 47.1h0M463.2 103.1h0M519.6 56.0h0M448.8 64.7h0M487.5 27.6h0M514.7 38.7h0M514.6 36.3h0M454.7 51.3h0M525.1 70.5h0M507.5 30.9h0M468.1 105.8h0M524.7 81.3h0M518.7 61.1h0M526.0 90.1h0M517.6 48.2h0M482.1 28.6h0M452.4 54.0h0M462.8 39.1h0M451.6 59.3h0M479.3 29.4h0M466.3 39.7h0M511.1 105.3h0M479.8 109.5h0M462.9 104.2h0M448.9 86.1h0M486.2 26.4h0M519.0 101.7h0M447.8 79.4h0M519.3 54.4h0M510.8 107.4h0M447.2 87.3h0M517.0 102.4h0M457.6 100.6h0M469.3 107.0h0M521.3 65.9h0M449.2 60.6h0M520.0 59.2h0M485.7 28.2h0M513.4 105.3h0M477.9 29.1h0M522.9 66.7h0M512.8 34.1h0M488.6 26.5h0M449.4 57.0h0M482.9 29.4h0M477.9 111.3h0M481.9 111.8h0M524.2 74.4h0M526.4 91.5h0M467.3 105.3h0M505.5 28.4h0M453.4 54.7h0M525.5 89.3h0M478.7 30.6h0M449.9 61.0h0M501.2 107.7h0M459.0 44.0h0M450.5 93.5h0M518.1 45.4h0M458.3 101.6h0M462.8 104.8h0M466.7 107.2h0M462.2 104.1h0M472.2 34.2h0M446.2 72.1h0M470.4 36.8h0M502.6 106.9h0M520.2 62.4h0M524.5 72.7h0M526.3 92.0h0M488.9 111.3h0M496.3 24.2h0M462.2 105.6h0M504.4 27.3h0M459.4 43.4h0M447.2 73.8h0M459.3 101.7h0M522.1 98.0h0M510.4 32.7h0M500.5 107.9h0M512.7 33.0h0M447.6 64.6h0M508.4 31.4h0M506.9 105.3h0M500.4 24.4h0M471.2 33.7h0M458.7 43.9h0M505.1 27.8h0M447.7 85.1h0M519.0 50.0h0M452.8 53.1h0M447.5 66.9h0M458.6 100.6h0M516.7 39.3h0M482.7 111.1h0M519.3 50.0h0M467.8 38.4h0M452.9 93.3h0M450.6 92.6h0M501.1 23.4h0M519.1 58.2h0M488.2 26.2h0M466.1 38.2h0M498.2 25.4h0M462.1 40.7h0M521.5 100.8h0M449.7 85.0h0M503.0 25.8h0M458.4 100.0h0M461.0 105.0h0M526.5 92.3h0M523.2 69.5h0M446.7 68.0h0M519.1 59.0h0M479.2 110.8h0M518.3 53.6h0M447.8 81.7h0M495.3 26.0h0M509.8 106.0h0M526.3 84.9h0M477.1 109.7h0M518.0 105.4h0M524.3 86.2h0M466.7 107.5h0M446.8 69.2h0M521.9 99.8h0M472.7 31.8h0M478.9 111.8h0M525.9 57.7h0M470.8 22.9h0M444.4 69.7h0M490.4 112.4h0M513.0 107.3h0M458.7 31.1h0M526.1 96.0h0M525.6 70.7h0M444.0 73.2h0M514.5 108.3h0M523.4 60.6h0M495.6 20.4h0M475.2 25.9h0M474.0 23.3h0M521.7 49.6h0M451.9 99.8h0M519.5 110.0h0M521.6 48.8h0M528.8 103.3h0M499.3 19.5h0M480.5 23.0h0M439.0 54.8h0M499.1 114.4h0M526.6 68.2h0M471.1 110.4h0M504.8 21.3h0M529.3 61.7h0M443.3 66.3h0M444.9 59.8h0M468.3 120.7h0M449.5 100.3h0M486.5 17.2h0M527.7 79.3h0M520.6 54.2h0M490.2 20.1h0M515.0 28.4h0M468.6 109.9h0M445.5 89.2h0M521.9 100.8h0M449.0 37.4h0M453.4 44.7h0M522.8 57.9h0M443.5 81.3h0M516.1 107.9h0M462.8 109.2h0M468.4 34.6h0M514.2 107.1h0M504.6 111.2h0M472.3 19.0h0M508.3 23.0h0M496.5 22.5h0M461.3 36.9h0M460.1 36.7h0M443.4 65.6h0M448.3 85.8h0M481.5 112.4h0M501.9 23.7h0M515.3 106.6h0M463.1 112.1h0M470.2 112.5h0M469.2 33.4h0M511.4 29.0h0M460.8 32.1h0M515.8 107.2h0M525.5 69.6h0M532.1 101.6h0M453.2 102.6h0M524.9 107.1h0M468.8 25.9h0M521.7 46.7h0M445.3 63.1h0M525.1 95.6h0M468.3 26.5h0M467.0 119.7h0M528.8 86.6h0M456.2 102.4h0M511.3 26.6h0M444.6 77.9h0M464.0 109.8h0M526.2 53.3h0M441.8 45.7h0M500.0 115.2h0M491.7 20.3h0M517.8 37.5h0M496.7 112.7h0M445.8 54.7h0M444.6 64.0h0M460.4 39.7h0M518.3 44.2h0M472.9 29.6h0M441.2 77.4h0M528.0 53.7h0M440.5 83.1h0M513.4 29.9h0M456.7 106.2h0M448.7 53.9h0M461.8 121.6h0M513.6 29.5h0M516.8 108.9h0M524.1 69.0h0M449.1 52.9h0M510.1 26.4h0M502.0 110.1h0M478.3 28.5h0M490.6 121.0h0M527.0 79.7h0M493.9 116.3h0M504.7 110.1h0M527.3 77.0h0M455.9 40.6h0M461.2 37.5h0M440.3 65.5h0M463.2 111.5h0M452.8 45.3h0M470.0 31.9h0M532.0 48.8h0M524.1 51.5h0M521.3 115.0h0M455.7 44.1h0M521.0 48.2h0M459.0 104.8h0M530.4 70.2h0M527.1 75.3h0M508.0 111.3h0M447.3 89.9h0M508.9 27.0h0M448.0 39.6h0M521.6 58.3h0M464.2 34.1h0M465.9 33.2h0M441.5 81.3h0M527.5 88.6h0M441.7 69.4h0M464.6 27.1h0M529.8 75.4h0M442.8 74.2h0M498.6 22.7h0M443.4 78.3h0M506.7 110.3h0M478.7 23.8h0M460.4 106.1h0M471.9 27.3h0M486.6 17.6h0M513.5 119.6h0M451.0 46.6h0M472.9 111.2h0M458.6 104.9h0M503.2 21.9h0M517.3 108.7h0M499.2 9.4h0M470.7 112.7h0M500.5 112.7h0M527.0 69.2h0M441.4 76.1h0M534.8 103.4h0M444.4 82.1h0M510.3 116.5h0M495.1 22.5h0M525.8 17.4h0M463.0 107.4h0M446.6 87.4h0M449.3 44.1h0M519.7 102.9h0M454.7 106.2h0M451.2 101.0h0M505.7 112.7h0M440.6 78.1h0M531.3 86.0h0M441.3 75.2h0M520.7 54.3h0M456.0 41.5h0M445.2 89.0h0M501.9 119.5h0M481.7 24.0h0M534.6 90.9h0M476.2 29.6h0M528.8 68.9h0M525.7 108.4h0M516.7 36.0h0M478.2 114.0h0M538.1 50.8h0M442.1 70.0h0M452.2 96.2h0M503.5 110.2h0M526.4 70.9h0M469.1 26.5h0M480.1 18.1h0M457.7 37.2h0M440.3 47.8h0M515.0 113.7h0M447.0 40.5h0M451.5 50.1h0M529.3 50.5h0M491.0 120.7h0M478.2 112.8h0M518.6 41.8h0M525.7 68.9h0M514.4 30.2h0M461.8 38.4h0M453.3 45.3h0M492.9 15.2h0M511.7 23.3h0M504.8 22.8h0M456.3 109.2h0M456.3 103.2h0M461.9 34.3h0M451.1 100.8h0M461.3 108.2h0M449.0 56.3h0M525.2 62.4h0M515.3 119.4h0M455.1 40.7h0M502.5 20.4h0M455.3 41.4h0M528.3 91.3h0M443.7 68.7h0M496.0 21.6h0M475.0 110.6h0M481.9 28.1h0M498.8 111.8h0M446.4 89.8h0M465.6 109.8h0M447.7 50.4h0M450.2 97.7h0M527.4 94.5h0M503.2 116.6h0M461.3 105.0h0M456.2 106.3h0M516.8 105.4h0M518.4 38.7h0M506.1 22.8h0M470.0 31.5h0M503.5 119.3h0M521.8 103.7h0M442.8 79.0h0M522.1 40.3h0M449.1 55.1h0M504.7 116.7h0" stroke="#ffa500" stroke-width="2.40" stroke-linecap="round" fill="none"/>
<path d="M455.1 48.9h0M461.9 68.4h0M462.9 95.9h0M452.9 69.0h0M472.9 42.2h0M451.3 87.2h0M461.1 97.0h0M473.9 42.7h0M458.6 54.2h0M478.2 50.4h0M460.5 78.1h0M470.7 65.7h0M478.3 36.5h0M468.4 96.0h0M448.2 71.2h0M461.7 41.6h0M468.1 65.6h0M466.1 59.9h0M448.9 63.8h0M458.3 98.9h0M457.3 87.3h0M466.4 52.7h0M465.9 98.5h0M476.5 33.9h0M459.3 66.5h0M456.8 75.1h0M469.9 49.9h0M457.3 48.8h0M465.4 49.5h0M467.6 55.1h0M455.9 90.3h0M466.1 36.6h0M472.0 45.7h0M448.8 85.0h0M465.7 96.9h0M461.8 44.6h0M466.7 53.8h0M465.3 73.5h0M467.9 59.8h0M467.9 92.8h0M453.6 58.8h0M466.7 84.1h0M475.0 39.6h0M456.3 61.8h0M458.1 46.2h0M472.8 43.9h0M449.0 83.4h0M471.1 70.4h0M453.8 62.4h0M452.4 84.1h0M454.3 55.4h0M462.0 61.3h0M464.7 56.5h0M460.1 101.7h0M451.0 86.6h0M475.1 47.8h0M469.3 40.3h0M474.5 45.7h0M465.5 91.5h0M480.2 51.1h0M461.7 62.7h0M450.0 60.8h0M446.0 74.2h0M468.7 44.6h0M461.7 71.8h0M447.3 73.1h0M461.2 100.1h0M464.8 46.4h0M458.5 102.2h0M457.0 71.8h0M472.0 56.7h0M459.3 92.9h0M457.7 70.6h0M450.4 91.0h0M465.1 57.8h0M462.4 51.8h0M474.8 40.5h0M481.2 50.1h0M457.6 80.6h0M470.5 46.8h0M464.6 44.1h0M463.4 100.6h0M470.6 65.0h0M465.3 77.4h0M474.2 50.1h0M457.1 77.2h0M462.9 54.3h0M455.7 74.4h0M451.0 88.0h0M478.1 48.7h0M470.6 59.4h0M469.1 73.0h0M467.9 69.4h0M458.5 91.4h0M458.9 85.8h0M466.5 47.2h0M469.9 70.3h0M467.0 81.7h0M468.2 102.5h0M466.0 57.7h0M452.9 69.9h0M480.4 35.1h0M457.6 45.2h0M455.5 89.8h0M449.4 61.5h0M458.2 60.1h0M478.5 53.8h0M456.2 84.3h0M459.5 82.4h0M452.0 62.5h0M473.4 42.2h0M450.4 61.1h0M465.7 92.9h0M461.5 97.3h0M450.2 85.8h0M477.2 48.5h0M457.1 96.3h0M479.4 48.6h0M477.0 38.9h0M483.1 38.2h0M456.3 87.4h0M469.8 78.8h0M464.7 102.1h0M462.5 39.5h0M461.9 61.3h0M452.3 96.2h0M490.8 109.2h0M466.0 100.6h0M512.0 63.4h0M476.9 95.2h0M489.5 74.6h0M477.5 42.1h0M501.4 61.6h0M470.6 103.2h0M464.3 64.4h0M489.0 73.8h0M479.2 37.2h0M459.2 98.8h0M476.1 35.4h0M466.8 105.8h0M506.7 93.9h0M453.1 78.1h0M508.4 106.8h0M501.3 87.6h0M494.7 100.9h0M475.4 37.2h0M490.0 88.7h0M504.7 100.2h0M475.5 85.8h0M514.5 46.1h0M467.2 45.1h0M511.3 66.0h0M467.2 58.1h0M463.4 53.1h0M490.3 110.9h0M499.7 107.7h0M511.2 47.2h0M503.1 40.7h0M455.9 67.3h0M481.4 67.4h0M504.4 82.3h0M474.1 74.6h0M519.0 60.3h0M498.2 76.3h0M520.9 97.7h0M451.9 63.6h0M504.4 32.4h0M469.3 34.9h0M455.8 92.7h0M503.1 31.1h0" stroke="#fff" stroke-width="1.30" stroke-linecap="round" fill="none"/>
<path d="M549.7 19.2h0M565.3 28.1h0M554.9 18.8h0M533.8 25.6h0M548.4 24.6h0M531.7 33.8h0M546.9 24.2h0M526.0 23.8h0M554.4 19.9h0M532.7 34.2h0M554.8 30.0h0M552.5 32.1h0M557.5 30.8h0M550.3 38.2h0M545.0 19.2h0M540.5 35.3h0M555.8 37.6h0M549.9 34.1h0M520.1 30.0h0M540.9 34.8h0M520.1 32.2h0M551.3 31.9h0M540.7 26.8h0M537.1 21.5h0M546.5 20.4h0M553.1 24.3h0M528.6 21.2h0M550.5 32.9h0M542.0 23.4h0M559.2 32.1h0M561.3 33.9h0M551.2 35.3h0M538.8 34.6h0M560.2 34.6h0M539.4 20.3h0M543.3 33.9h0M554.3 24.6h0M547.0 22.9h0M529.0 37.5h0M549.2 33.5h0M530.6 33.3h0M530.8 28.2h0M561.0 36.2h0M525.7 32.5h0M535.0 25.7h0M537.1 22.3h0M564.6 29.0h0M546.4 21.4h0M546.7 23.1h0M545.8 19.4h0M528.5 23.8h0M526.2 33.5h0M540.8 37.2h0M552.2 25.2h0M562.3 26.9h0" stroke="#ffa500" stroke-width="2.40" stroke-linecap="round" fill="none"/>
<path d="M470.4 121.9h0M472.5 115.0h0M464.3 126.5h0M470.9 111.4h0M476.7 130.8h0M439.5 108.2h0M468.7 115.4h0M459.3 118.6h0M468.7 120.8h0M458.2 122.9h0M464.5 127.9h0M456.3 110.5h0M443.6 100.7h0M461.3 117.9h0M470.9 130.8h0M446.3 104.6h0M469.1 123.7h0M446.4 115.8h0M462.5 112.9h0M470.1 113.1h0M461.5 117.5h0M466.9 118.2h0M477.2 125.8h0M444.7 107.6h0M449.0 109.4h0M455.1 105.1h0M465.3 119.1h0M439.1 108.7h0M451.1 117.5h0M443.8 105.7h0M468.9 126.2h0M455.1 116.4h0M466.4 115.9h0M443.2 115.3h0" stroke="#ffa500" stroke-width="2.40" stroke-linecap="round" fill="none"/>
<path d="M453.1 159.8L454.2 159.3L455.5 158.9L456.9 158.7L458.5 158.5L460.2 158.5L461.8 158.6L463.2 158.8L464.7 159.1L466.2 159.4L467.7 159.9L469.2 160.5L470.7 161.1L472.1 161.9L473.2 162.5L474.3 163.1L475.3 163.8L476.3 164.5L477.3 165.3L478.3 166.3L479.2 167.5L480.2 169.1L480.7 170.1L481.2 171.2L481.8 172.4L482.3 173.8L482.9 175.3L483.4 176.8L484.0 178.4L484.5 180.1L485.1 181.7L485.6 183.3L486.1 184.9L486.6 186.5L487.1 188.0L487.6 189.4L488.0 190.7L488.6 192.5L489.2 194.1L489.8 195.7L490.3 197.2L490.8 198.6L491.3 199.9L491.7 201.3L492.2 202.6L492.6 204.1L493.0 205.5L493.4 207.1L493.7 208.6L494.1 210.2L494.5 211.8L494.8 213.4L495.1 215.0L495.3 216.6L495.6 218.1L495.8 219.7L495.9 221.2L496.0 222.7L496.1 224.3L496.1 225.9L496.0 227.5L496.0 229.0L495.9 230.6L495.8 232.0L495.7 233.4L495.6 234.5L495.5 235.5L495.1 237.6L494.6 239.0L494.0 240.0L493.7 240.4L493.2 241.5L492.6 242.2L490.6 241.4L490.3 241.0L489.6 240.5L488.6 239.9L487.4 239.0L486.2 238.1L484.8 237.1L483.4 236.0L482.0 234.9L480.6 233.7L479.2 232.6L477.9 231.4L476.6 230.3L475.4 229.2L474.4 228.1L473.3 227.1L472.3 226.0L471.2 224.9L470.2 223.8L469.1 222.7L468.1 221.5L467.1 220.4L466.2 219.2L465.2 218.0L464.3 216.8L463.4 215.7L462.6 214.5L461.8 213.2L460.9 211.9L460.1 210.6L459.3 209.2L458.5 207.8L457.7 206.4L457.0 205.0L456.3 203.6L455.6 202.1L455.0 200.7L454.4 199.2L453.8 197.8L453.2 196.4L452.7 195.0L452.1 193.4L451.6 191.9L451.1 190.3L450.6 188.6L450.2 187.0L449.7 185.4L449.4 183.8L449.0 182.3L448.7 180.8L448.5 179.4L448.3 178.1L448.1 176.8L447.9 175.0L447.9 173.4L447.9 171.9L448.0 170.5L448.2 169.1L448.4 167.9L448.7 166.8L449.0 165.8L449.5 164.1L450.2 162.7L451.1 161.5L452.0 160.6Z" fill="#008000"/>
<path d="M476.5 164.9h0M495.4 229.6h0M460.4 158.4h0M490.5 196.6h0M483.3 175.6h0M473.3 230.0h0M475.7 162.4h0M464.7 158.8h0M489.8 241.2h0M488.1 190.9h0M496.5 232.7h0M448.0 178.7h0M483.7 175.9h0M494.0 211.3h0M453.1 195.8h0M481.7 170.5h0M455.6 158.9h0M455.6 158.5h0M471.2 160.6h0M491.4 240.3h0M496.7 224.6h0M453.0 198.8h0M447.4 177.8h0M484.8 179.7h0M496.8 232.0h0M480.3 171.4h0M446.7 177.8h0M464.4 157.5h0M476.7 165.4h0M458.3 157.1h0M489.1 186.1h0M455.9 202.1h0M483.5 236.0h0M447.2 183.3h0M447.0 172.0h0M486.6 185.2h0M449.9 187.7h0M481.6 239.3h0M450.2 186.2h0M485.2 238.7h0M495.7 229.2h0M481.7 170.2h0M489.0 190.8h0M473.0 225.1h0M450.6 185.6h0M483.7 237.3h0M452.8 195.0h0M482.7 173.6h0M481.1 168.6h0M458.5 205.0h0M466.0 159.7h0M493.5 207.3h0M449.8 183.8h0M458.3 157.9h0M483.6 177.9h0M452.2 158.9h0M463.4 216.1h0M489.9 243.0h0M457.6 158.3h0M448.9 186.6h0M461.1 159.4h0M488.3 184.1h0M448.5 184.7h0M467.2 158.2h0M495.0 239.3h0M458.8 208.4h0M482.3 173.5h0M459.8 157.5h0M455.1 199.4h0M448.2 174.8h0M487.2 239.6h0M493.1 206.5h0M446.5 172.2h0M484.4 181.0h0M475.3 162.5h0M494.1 241.0h0M483.3 237.4h0M487.8 240.4h0M494.5 212.2h0M478.7 231.4h0M493.8 239.1h0M471.6 224.0h0M485.3 239.0h0M484.2 177.2h0M493.2 203.3h0M495.5 215.8h0M481.9 170.4h0M469.9 223.6h0M446.7 168.0h0M486.0 187.8h0M490.2 242.0h0M473.1 163.1h0M484.1 174.1h0M491.1 198.6h0M485.1 181.5h0M487.1 183.0h0M485.9 239.9h0M484.4 178.7h0M479.2 233.0h0M453.5 161.0h0M451.8 185.0h0M486.5 185.0h0M474.1 228.0h0M447.7 173.7h0M454.5 199.4h0M447.1 168.0h0M496.8 220.1h0M497.0 227.3h0M458.1 209.8h0M474.4 232.5h0M496.1 211.6h0M488.6 189.9h0M449.0 186.3h0M448.2 181.6h0M488.2 189.8h0M449.4 166.9h0M483.5 178.7h0M492.2 241.0h0M465.2 159.0h0M450.6 182.4h0M493.1 242.4h0M474.9 161.5h0M459.7 210.1h0M495.9 213.5h0M452.1 195.8h0M489.1 187.2h0M458.3 159.1h0M451.6 182.2h0M481.4 168.4h0M455.0 199.5h0M470.0 222.5h0M493.7 209.3h0M489.8 194.0h0M482.5 233.1h0M466.8 221.4h0M474.1 225.1h0M485.5 181.0h0M451.1 159.6h0M492.3 241.8h0M450.6 161.2h0M491.6 202.4h0M482.0 175.3h0M476.9 231.3h0M447.3 167.5h0M493.7 239.5h0M496.8 235.7h0M496.3 225.5h0M482.1 174.1h0M476.8 233.0h0M481.0 169.1h0M449.7 188.3h0M467.3 159.0h0M480.9 169.9h0M454.9 205.6h0M460.0 157.0h0M481.0 171.3h0M486.5 237.2h0M448.3 170.0h0M456.1 204.9h0M496.4 235.7h0M485.1 182.6h0M495.4 228.4h0M452.8 159.1h0M479.5 170.5h0M449.5 164.8h0M448.7 182.3h0M446.9 168.3h0M449.0 187.6h0M496.9 219.2h0M463.6 216.3h0M448.7 176.6h0M493.2 242.3h0M496.9 217.0h0M466.7 219.3h0M448.0 167.7h0M484.3 179.1h0M456.9 207.8h0M452.5 196.0h0M495.6 220.8h0M448.3 161.3h0M494.5 241.2h0M482.3 235.0h0M485.0 188.0h0M446.6 171.5h0M458.7 209.4h0M449.8 165.7h0M449.9 190.3h0M450.6 162.9h0M484.6 178.0h0M496.0 216.4h0M459.7 211.6h0M474.1 162.7h0M447.6 170.0h0M449.9 175.8h0M448.8 166.1h0M494.5 216.6h0M467.5 221.4h0M469.6 161.1h0M492.1 205.6h0M470.8 161.2h0M451.1 162.4h0M484.9 239.7h0M458.6 209.2h0M488.5 188.6h0M482.7 180.8h0M493.8 202.4h0M475.1 227.7h0M487.0 184.1h0M449.3 186.9h0M493.9 214.4h0M483.7 180.9h0M468.2 160.1h0M469.3 221.3h0M450.4 159.9h0M487.8 240.4h0M496.7 234.9h0M489.7 239.1h0M464.9 219.4h0M485.0 180.2h0M455.0 158.9h0M451.1 160.0h0M450.9 189.5h0M468.6 221.7h0M484.7 180.9h0M446.7 175.6h0M459.5 157.8h0M449.9 161.7h0M472.9 163.1h0M456.9 157.8h0M470.0 162.8h0M480.8 234.3h0M490.7 188.8h0M447.4 171.7h0M450.7 161.0h0M497.5 219.4h0M495.1 241.4h0M494.4 235.6h0M479.3 167.7h0M453.1 158.7h0M486.7 184.7h0M494.9 240.5h0M490.4 241.7h0M492.4 198.8h0M470.2 225.3h0M483.4 237.0h0M489.9 194.5h0M493.8 243.3h0M481.6 233.9h0M453.2 159.8h0M489.6 241.6h0M495.3 240.6h0M495.7 220.8h0M493.8 212.0h0M497.2 228.0h0M487.2 191.6h0M469.2 221.1h0M448.4 180.7h0M468.9 161.0h0M471.8 161.2h0M487.3 240.3h0M448.8 184.6h0M476.5 164.4h0M491.3 243.0h0M487.8 187.5h0M461.0 211.6h0M453.4 192.6h0M497.0 214.0h0M459.1 210.6h0M480.1 168.6h0M455.3 203.0h0M450.6 190.8h0M494.5 214.7h0M460.3 211.0h0M478.5 167.6h0M490.5 241.3h0M488.7 184.6h0M469.6 162.3h0M483.1 175.9h0M453.7 159.8h0M460.6 211.8h0M489.9 191.7h0M461.2 210.1h0M456.3 205.1h0M487.1 188.3h0M452.9 158.9h0M490.3 195.3h0M470.2 225.2h0M491.6 195.5h0M465.9 219.6h0M487.6 194.6h0M460.5 211.1h0M496.9 225.7h0M476.1 231.0h0M462.3 158.0h0M491.3 241.1h0M448.7 185.9h0M485.8 180.8h0M474.6 227.9h0M479.4 166.6h0M450.6 164.0h0M448.5 183.7h0M493.0 203.2h0M472.3 228.2h0M481.6 235.8h0M461.0 214.5h0M492.7 206.8h0M496.8 226.8h0M450.0 164.2h0M494.7 219.0h0M448.6 179.8h0M463.0 213.9h0M464.4 217.4h0M495.3 213.6h0M487.0 186.9h0M473.1 161.2h0M486.5 189.5h0M447.5 179.8h0M496.7 214.6h0M436.9 179.9h0M445.8 172.1h0M487.5 242.6h0M498.6 242.1h0M448.7 161.5h0M492.4 190.3h0M449.6 197.3h0M442.1 168.4h0M488.1 180.1h0M477.0 159.8h0M479.1 163.8h0M498.2 221.6h0M454.4 155.4h0M447.8 194.7h0M491.5 186.3h0M500.2 211.5h0M478.4 240.6h0M466.4 156.4h0M466.5 155.4h0M496.7 215.1h0M445.0 155.9h0M463.3 220.4h0M503.3 229.9h0M446.6 188.8h0M494.2 241.8h0M443.8 172.6h0M474.7 231.7h0M460.4 219.1h0M427.6 182.2h0M465.8 224.2h0M460.0 216.3h0M501.3 208.2h0M483.3 238.5h0M459.5 150.5h0M442.5 171.3h0M445.6 194.5h0M448.9 162.1h0M458.0 214.3h0M462.1 154.7h0M482.9 169.6h0M505.3 236.6h0M492.4 250.6h0M486.5 171.5h0M464.9 156.0h0M497.1 206.5h0M465.4 155.2h0M475.7 159.8h0M485.8 244.9h0M462.0 155.0h0M492.9 192.1h0M484.0 169.2h0M471.4 228.4h0M441.7 165.8h0M472.7 229.5h0M493.8 195.7h0M497.4 242.7h0M435.8 176.5h0M447.8 192.1h0M476.9 235.4h0M500.1 225.5h0M493.1 192.9h0M505.7 214.5h0M498.0 231.7h0M454.6 202.6h0M492.2 194.4h0M483.2 171.6h0M475.0 237.9h0M446.0 189.4h0M486.1 172.6h0M490.8 186.0h0M481.1 163.0h0M499.4 219.4h0M488.7 184.1h0M468.4 153.1h0M487.6 245.3h0M484.6 170.4h0M442.7 172.1h0M448.3 190.5h0M457.9 215.2h0M460.3 216.0h0M479.5 239.7h0M497.6 201.4h0M449.0 160.9h0M445.3 181.1h0M487.0 241.9h0M489.9 190.4h0M438.7 174.4h0M489.3 244.7h0M461.0 217.0h0M462.2 218.2h0M445.4 176.4h0M444.5 181.5h0M444.4 182.5h0M445.0 166.1h0M491.8 184.3h0M447.4 163.2h0M503.8 218.3h0M481.0 166.7h0M443.5 166.7h0M474.7 157.9h0M448.4 199.8h0M451.2 209.1h0M498.1 215.1h0M453.9 203.7h0M463.9 219.7h0M495.8 204.7h0M445.2 159.8h0M482.8 170.1h0M454.0 204.3h0M499.7 225.7h0M502.8 213.0h0M486.6 243.1h0M472.5 231.1h0M448.5 194.2h0M443.5 183.7h0M484.7 170.7h0M453.9 206.6h0M459.1 220.6h0M452.4 148.0h0M497.1 214.1h0M474.5 234.9h0M459.9 155.5h0M446.0 190.3h0M458.5 155.5h0M463.8 154.7h0M495.0 190.9h0M498.7 188.1h0M498.1 202.8h0M497.8 217.5h0M485.2 239.6h0M449.5 200.5h0M491.2 187.7h0M480.6 238.8h0M465.2 225.4h0M445.6 163.8h0M504.1 211.0h0M444.7 170.0h0M445.8 174.1h0M450.2 192.9h0M476.8 156.4h0M462.6 154.5h0M452.2 207.1h0M486.6 173.2h0M499.6 230.1h0M484.4 160.4h0M445.2 173.8h0M478.8 237.8h0M443.8 184.9h0M497.9 228.0h0M500.2 232.0h0M447.6 188.1h0M480.2 159.6h0M478.6 165.0h0M453.3 205.6h0M451.4 153.6h0M446.6 185.1h0M501.5 209.7h0M500.6 214.0h0M443.8 166.0h0M486.1 240.3h0M494.9 244.0h0M480.6 235.9h0M499.1 234.2h0M487.0 167.1h0M489.7 175.5h0M496.7 180.7h0M496.0 210.2h0M468.2 156.9h0M474.0 159.4h0M450.3 196.0h0M505.3 234.8h0M492.1 186.8h0M491.9 193.3h0M501.4 216.2h0M497.2 238.5h0M493.6 243.0h0M494.8 205.0h0M500.2 217.7h0M498.3 231.2h0M496.5 241.0h0M466.8 228.9h0M446.0 188.5h0M482.7 243.4h0M443.7 169.7h0M504.1 210.0h0M466.9 150.2h0M459.4 216.0h0M498.9 234.1h0M441.9 179.0h0M443.1 177.5h0M500.3 216.2h0M478.1 155.7h0M444.0 174.5h0M450.3 155.8h0M465.3 155.6h0M445.4 182.0h0M499.5 218.7h0M499.6 229.1h0M492.4 194.4h0M468.8 227.8h0M489.6 183.0h0M439.6 155.8h0M502.4 217.1h0M497.5 240.1h0M471.9 153.1h0M446.1 165.3h0M464.6 226.7h0M503.0 222.3h0M500.1 219.8h0M472.4 232.5h0M469.3 156.9h0M466.5 223.7h0M468.3 232.8h0M444.3 161.4h0M479.4 239.2h0M497.1 243.4h0M496.6 225.6h0M463.6 154.5h0M452.8 200.9h0M500.3 219.9h0M470.4 153.8h0M487.7 174.0h0M486.3 181.4h0M454.7 213.3h0M470.5 152.8h0M441.9 156.5h0M471.4 230.0h0M495.7 202.3h0M461.7 220.2h0M450.4 190.8h0M453.1 208.7h0M481.7 163.6h0M498.1 201.5h0M446.9 167.2h0M487.3 175.9h0M478.5 162.6h0M459.3 151.4h0M505.0 234.5h0M500.7 197.0h0M449.0 216.6h0M485.3 166.5h0M488.5 182.7h0M494.9 200.6h0M492.9 205.8h0M477.1 161.7h0M489.6 186.5h0M498.7 214.2h0M498.8 213.4h0M456.8 210.9h0M473.2 158.5h0M492.7 163.0h0M482.3 163.1h0M459.4 150.2h0M489.5 182.2h0M446.2 166.0h0M470.6 234.7h0M470.7 227.4h0M483.7 243.7h0M446.8 185.9h0M447.7 157.2h0M458.7 232.2h0M476.0 237.7h0M494.8 199.0h0M483.8 241.7h0M484.3 239.3h0M453.5 209.9h0M495.1 200.7h0M490.8 188.6h0M483.3 241.1h0M465.7 157.4h0M489.7 171.7h0M454.1 214.8h0M449.5 206.3h0M473.6 231.0h0M472.6 230.2h0" stroke="#008000" stroke-width="2.40" stroke-linecap="round" fill="none"/>
<path d="M497.7 224.2h0M498.0 204.5h0M493.7 196.9h0M498.8 242.7h0M498.1 197.6h0M505.4 212.4h0M490.6 182.9h0M504.0 224.3h0M493.9 220.2h0M487.9 172.2h0M495.6 194.4h0M498.5 198.9h0M498.2 203.0h0M505.5 223.6h0M497.5 201.4h0M487.0 184.6h0M500.2 231.9h0M504.3 240.2h0M495.8 207.8h0M492.4 199.6h0M498.4 202.3h0M499.5 241.6h0M489.9 184.1h0M490.1 205.2h0M501.6 211.5h0M499.2 226.7h0M494.7 189.3h0M493.7 209.3h0M499.3 228.6h0M501.5 235.3h0M495.7 193.4h0M495.9 194.8h0M501.6 226.9h0M493.9 211.5h0M490.8 200.3h0M494.3 213.8h0M502.0 208.1h0M503.8 217.5h0M487.5 190.1h0M496.9 240.1h0M498.0 222.5h0M502.1 238.2h0M498.2 238.7h0M493.4 227.7h0M496.5 217.2h0M502.5 218.0h0M484.4 167.8h0M499.2 216.1h0M502.7 216.1h0M499.1 203.8h0M487.8 189.8h0M503.9 220.9h0M500.3 204.8h0M490.6 174.1h0M502.7 245.4h0M495.0 207.6h0M490.7 197.0h0M502.6 241.4h0M493.8 187.0h0M487.4 179.8h0M497.3 246.9h0M491.7 208.8h0M506.3 225.2h0M497.3 233.2h0M495.8 191.0h0M495.5 207.3h0M497.3 198.4h0M499.0 227.7h0M497.9 198.5h0M505.3 213.7h0M499.9 222.4h0M501.8 227.1h0M505.3 228.2h0M505.4 224.0h0M501.0 201.1h0M490.3 191.4h0M504.6 207.6h0M502.7 243.5h0M495.0 198.0h0M496.4 245.4h0M497.7 245.5h0M502.2 218.3h0M497.6 193.8h0M502.0 206.4h0M506.5 238.5h0M485.1 169.4h0M503.1 232.4h0M505.6 218.2h0M502.8 238.6h0M498.2 216.9h0M502.1 207.4h0M492.6 207.2h0M499.5 223.3h0M502.4 214.8h0M500.6 210.8h0M493.7 181.3h0M501.1 245.0h0M495.6 201.7h0M498.6 215.3h0M497.6 227.0h0M499.2 230.0h0M485.0 171.1h0M496.2 190.7h0M500.7 208.7h0M502.3 246.4h0M500.9 211.4h0M507.0 232.3h0M496.8 222.4h0M487.8 174.2h0M491.5 190.9h0M492.3 200.3h0M503.7 233.9h0M493.1 198.3h0M502.9 245.0h0M504.9 219.8h0M490.1 178.7h0M505.4 237.8h0M493.7 210.2h0M494.0 226.0h0M489.2 195.9h0M504.3 228.6h0M496.3 200.5h0M488.1 180.5h0M497.5 244.7h0M490.9 199.7h0M502.7 209.4h0M499.5 232.7h0M498.0 236.7h0M503.6 209.6h0M497.7 231.8h0M499.4 197.8h0M507.3 235.4h0M487.4 188.1h0M492.5 191.8h0M502.3 234.6h0M492.4 207.0h0M499.9 226.1h0M498.5 212.5h0M494.7 214.4h0M506.0 232.1h0M486.1 171.0h0M500.7 220.7h0M492.3 176.6h0M498.8 210.8h0M492.8 199.9h0M488.6 172.0h0M505.1 217.0h0M501.5 215.0h0M496.3 190.4h0M499.9 240.2h0M501.3 235.2h0M497.6 234.3h0M503.9 229.9h0M492.9 184.4h0M501.2 246.6h0M503.7 209.2h0M502.1 208.5h0M491.4 181.0h0M499.0 233.3h0M489.4 198.4h0M497.3 234.4h0M502.1 224.0h0M498.0 223.5h0M496.8 212.0h0M493.1 208.4h0M491.9 195.4h0M503.0 230.4h0M502.1 227.4h0M485.5 176.2h0M492.8 180.2h0M503.4 235.0h0M498.5 232.5h0M492.0 206.1h0M493.6 208.9h0M504.5 244.3h0M490.8 188.0h0M500.8 210.4h0M503.8 234.0h0M507.1 221.4h0M501.3 242.8h0M485.8 178.1h0M503.4 210.8h0M487.9 180.1h0M500.8 207.7h0M503.8 240.7h0M504.0 243.1h0M502.8 236.9h0M492.7 186.7h0M494.1 225.2h0M505.2 225.8h0M491.6 181.6h0M498.3 203.3h0M497.7 193.7h0M506.4 235.7h0M503.0 207.7h0M498.9 198.3h0M496.5 230.9h0M500.4 214.0h0M497.8 216.5h0M497.3 204.9h0M492.5 199.1h0M489.6 187.6h0M496.5 202.8h0M498.8 196.4h0M491.9 204.9h0M501.8 236.0h0M502.2 222.6h0M488.6 175.8h0M496.3 199.2h0M505.6 237.0h0M488.3 178.7h0M498.6 228.7h0M504.5 236.9h0M505.0 228.9h0M495.6 202.7h0M497.9 216.3h0M493.3 201.6h0M488.4 178.1h0M505.0 231.7h0M496.5 227.5h0M499.1 229.9h0M494.7 223.9h0M503.1 233.5h0M497.0 213.1h0M489.1 181.4h0M502.7 216.0h0M503.8 221.6h0M497.4 210.0h0M500.7 225.4h0M488.3 175.7h0M486.9 176.6h0M490.2 173.7h0M499.9 206.0h0M504.4 218.9h0M484.9 176.7h0M486.9 182.4h0M507.6 237.0h0M486.0 179.3h0M488.7 189.7h0M491.2 186.3h0M495.3 215.6h0M504.2 227.5h0M483.6 172.7h0M498.2 217.2h0M507.2 231.3h0M503.7 209.4h0M490.5 176.7h0M501.7 232.2h0M505.6 212.4h0M492.3 182.7h0M500.9 197.2h0M493.1 185.4h0M496.7 211.1h0M490.8 194.2h0M505.8 218.1h0M507.3 222.5h0M504.8 239.9h0M494.8 224.2h0M486.1 181.8h0M493.3 188.2h0" stroke="#008000" stroke-width="2.40" stroke-linecap="round" fill="none"/>
<path d="M469.8 216.2h0M487.4 194.8h0M495.6 224.6h0M490.9 196.0h0M459.7 163.9h0M484.9 208.7h0M452.9 198.3h0M448.2 174.6h0M496.5 215.4h0M469.8 163.0h0M481.8 185.6h0M451.6 194.3h0M467.3 196.2h0M469.6 192.1h0M463.4 172.9h0M474.1 189.0h0M482.5 233.4h0M458.2 170.1h0M487.1 181.5h0M496.4 217.1h0M476.5 213.0h0M456.9 175.1h0M450.5 181.6h0M457.9 162.7h0M468.0 179.1h0M468.3 197.4h0M478.9 187.1h0M450.1 180.0h0M471.2 194.0h0M481.6 168.7h0M455.3 162.3h0M463.0 195.4h0M471.6 210.7h0M463.4 185.0h0M477.3 203.9h0M460.5 178.2h0M476.5 174.7h0M467.0 157.9h0M468.1 188.5h0M453.8 171.4h0M470.0 197.6h0M449.9 174.5h0M490.3 221.0h0M454.9 161.8h0M469.1 220.0h0" stroke="#fff" stroke-width="1.20" stroke-linecap="round" fill="none"/>
<path d="M467.8 143.0h0M442.5 148.9h0M441.9 160.0h0M444.2 168.6h0M465.1 150.5h0M442.1 168.5h0M439.7 164.6h0M458.7 149.1h0M468.1 154.8h0M469.1 142.4h0M461.2 144.2h0M464.7 140.8h0M470.5 142.8h0M482.6 152.7h0M465.5 140.2h0M452.5 148.2h0M437.8 151.2h0M462.3 150.1h0M470.0 146.5h0M468.0 149.1h0M467.2 143.0h0M465.6 150.6h0" stroke="#008000" stroke-width="2.40" stroke-linecap="round" fill="none"/>
<path d="M516.4 215.7L517.0 215.4L518.0 215.0L519.3 214.7L520.9 214.4L522.6 214.2L524.4 214.0L526.1 214.0L527.7 214.0L529.3 214.1L531.1 214.2L532.8 214.4L534.5 214.7L536.1 215.1L537.4 215.6L538.3 216.1L539.0 216.7L539.3 217.4L539.5 218.4L539.4 219.7L539.2 221.3L539.0 223.1L538.7 224.9L538.6 226.8L538.6 228.6L538.9 230.5L539.4 232.4L539.9 234.2L540.5 235.8L540.9 237.3L541.1 238.6L541.0 239.8L540.6 241.1L540.0 242.4L539.1 243.6L538.2 244.8L537.1 245.8L536.0 246.6L534.8 247.3L533.4 247.9L532.0 248.4L530.6 248.7L529.3 248.8L528.4 248.7L527.3 248.3L526.4 247.6L525.4 246.5L524.5 245.2L523.7 243.7L523.2 242.7L522.7 241.5L522.3 240.1L521.9 238.6L521.5 237.0L521.2 235.4L520.7 233.9L520.3 232.4L519.7 230.7L519.0 229.1L518.3 227.6L517.7 226.1L517.2 224.6L516.8 223.2L516.5 221.7L516.2 220.1L515.9 218.6L515.8 217.3L516.0 216.3Z" fill="#a52a2a"/>
<path d="M527.7 213.6h0M543.1 239.7h0M524.2 212.6h0M516.1 224.5h0M540.6 224.2h0M518.6 214.9h0M519.0 214.1h0M523.8 214.6h0M518.6 228.4h0M535.8 212.9h0M518.6 216.1h0M525.2 245.0h0M537.7 244.9h0M539.0 226.7h0M537.6 221.9h0M519.6 214.4h0M534.3 211.4h0M516.3 225.6h0M515.8 217.7h0M536.1 246.2h0M535.5 248.2h0M520.8 240.0h0M522.1 242.6h0M524.6 212.6h0M521.2 238.3h0M520.9 214.3h0M517.5 218.5h0M521.3 235.5h0M532.9 249.0h0M538.8 216.7h0M531.8 213.6h0M522.4 215.0h0M525.1 214.5h0M526.3 246.1h0M539.6 222.5h0M539.6 224.3h0M537.9 218.1h0M539.8 228.7h0M529.5 214.0h0M522.6 242.9h0M520.7 234.3h0M531.7 249.2h0M531.3 214.4h0M528.5 248.5h0M529.2 249.2h0M525.2 247.5h0M539.4 227.4h0M517.2 214.9h0M516.6 219.1h0M520.4 240.7h0M519.5 213.3h0M519.0 214.4h0M541.4 237.7h0M537.9 214.4h0M521.2 239.3h0M528.7 212.4h0M517.7 229.2h0M523.7 243.8h0M540.5 233.0h0M523.2 243.4h0M519.6 214.8h0M522.1 242.5h0M535.7 214.8h0M515.0 218.4h0M539.6 221.2h0M519.0 214.8h0M540.2 225.0h0M542.3 240.0h0M517.5 214.9h0M518.7 231.4h0M517.8 213.6h0M538.2 225.3h0M538.1 229.7h0M527.3 248.8h0M538.4 231.1h0M517.1 214.2h0M533.1 249.9h0M520.6 241.3h0M540.0 240.1h0M525.1 212.7h0M524.1 239.8h0M538.1 244.1h0M537.8 247.2h0M525.5 247.8h0M534.3 248.4h0M516.9 220.5h0M541.8 217.0h0M540.5 220.9h0M520.4 215.1h0M537.9 231.4h0M514.5 218.6h0M516.9 215.5h0M518.4 230.0h0M541.1 235.8h0M541.3 238.5h0M516.8 219.9h0M518.4 214.8h0M529.7 213.6h0M535.4 248.0h0M536.4 213.8h0M526.7 214.4h0M526.5 248.4h0M538.0 215.3h0M516.2 215.1h0M542.1 236.2h0M541.2 238.9h0M519.2 230.3h0M524.6 246.6h0M533.1 214.1h0M539.2 227.4h0M523.8 246.1h0M531.3 249.8h0M538.6 227.6h0M518.2 229.8h0M540.8 242.3h0M518.5 229.3h0M538.1 213.5h0M527.9 248.4h0M539.5 243.9h0M531.0 248.2h0M532.1 246.5h0M540.6 228.4h0M524.2 241.4h0M514.8 215.6h0M536.2 248.6h0M528.6 248.0h0M537.3 245.9h0M518.1 230.9h0M537.5 247.4h0M528.3 248.3h0M539.7 217.4h0M518.5 214.3h0M537.9 221.2h0M514.9 221.6h0M531.6 215.4h0M537.0 216.8h0M518.5 227.1h0M520.1 235.9h0M542.9 237.6h0M524.8 250.9h0M521.0 243.6h0M539.0 214.4h0M538.2 213.8h0M514.9 207.8h0M540.5 208.5h0M546.4 216.7h0M546.4 226.8h0M540.9 222.4h0M518.8 238.1h0M540.2 211.2h0M516.2 232.4h0M521.8 244.7h0M543.6 234.2h0M541.2 233.5h0M544.8 239.6h0M542.0 250.9h0M524.8 210.8h0M519.1 245.2h0M543.0 220.2h0M538.7 248.1h0M520.6 248.4h0M508.5 212.1h0M535.7 253.8h0M529.6 211.3h0M539.6 247.4h0M527.8 252.8h0M541.6 226.7h0M544.6 244.3h0M542.3 229.7h0M544.9 219.8h0M518.3 206.9h0M541.6 246.4h0M541.0 228.2h0M521.5 203.9h0M537.7 249.4h0M528.0 210.1h0M544.9 242.8h0M527.9 211.4h0M529.6 212.3h0M516.8 209.7h0M518.9 243.6h0M516.0 230.7h0M519.8 237.3h0M514.5 212.4h0M516.8 237.5h0M515.4 213.4h0M543.0 228.2h0M521.1 244.8h0M519.6 251.9h0M511.3 216.8h0M544.4 231.0h0M517.0 208.8h0M543.7 224.0h0M534.4 212.0h0M526.2 206.6h0M513.9 213.8h0M542.6 243.8h0M534.1 209.3h0M535.7 249.1h0M514.7 221.1h0M541.0 218.7h0M535.1 249.4h0M527.0 208.8h0" stroke="#a52a2a" stroke-width="2.40" stroke-linecap="round" fill="none"/>
<path d="M520.0 254.5h0M515.2 248.5h0M540.1 259.2h0M505.1 246.2h0M527.5 255.3h0M537.1 262.0h0M503.3 209.2h0M502.7 205.8h0M507.3 239.2h0M528.2 252.3h0M517.0 235.5h0M514.4 221.1h0M537.0 259.1h0M512.9 241.8h0M522.6 258.3h0M540.5 250.8h0M543.6 273.0h0M536.0 259.4h0M536.9 257.7h0M515.6 222.6h0M541.9 272.4h0M515.8 227.9h0M510.1 224.1h0M509.0 215.6h0M529.4 253.8h0M507.0 202.0h0M505.9 222.5h0M505.2 228.4h0M514.2 236.5h0M512.6 225.2h0M520.1 255.1h0M536.2 254.4h0M508.0 245.0h0M506.0 212.7h0M506.4 225.1h0M534.4 254.6h0M512.8 248.4h0M539.4 261.6h0M501.0 212.0h0M508.7 228.3h0M545.9 264.6h0M538.2 254.9h0M504.6 217.9h0M514.5 235.9h0M511.3 233.7h0M541.8 269.0h0M503.3 211.8h0M501.4 221.8h0M548.3 270.1h0M546.2 270.1h0M537.0 252.8h0M534.3 260.0h0M507.4 202.1h0M508.8 239.3h0M508.9 221.0h0M514.4 228.7h0M543.8 268.3h0M505.0 228.6h0M501.6 199.8h0M514.9 236.8h0M536.4 252.0h0M511.9 213.2h0M542.0 255.7h0M543.8 255.8h0M519.2 243.4h0M505.9 195.3h0M543.8 266.2h0M507.8 223.7h0M506.8 221.0h0M511.9 238.9h0M507.7 227.6h0M514.9 249.4h0M505.4 235.2h0M508.5 248.5h0M501.3 206.2h0M501.3 212.4h0M519.5 246.6h0M506.6 201.2h0M505.8 244.1h0M502.8 212.8h0M508.1 216.2h0M526.9 260.2h0M501.1 220.7h0M538.2 260.3h0M547.8 266.9h0M501.5 217.7h0M509.5 212.8h0M510.6 233.7h0M514.0 250.1h0M540.9 261.7h0M516.4 222.3h0M546.5 274.6h0M516.8 234.1h0M518.0 242.5h0M542.4 252.5h0M544.3 257.1h0M515.6 223.7h0M503.1 200.6h0M511.6 234.3h0M518.5 237.3h0M543.1 262.9h0M528.7 262.7h0M510.7 230.6h0M509.8 231.1h0M501.4 210.9h0M516.8 241.2h0M503.2 210.5h0M507.6 198.0h0M517.7 237.7h0M541.7 263.7h0" stroke="#a52a2a" stroke-width="2.40" stroke-linecap="round" fill="none"/>
<path d="M589.3 112.8L589.5 113.3L590.1 113.4L591.2 113.5L592.6 113.6L594.2 113.8L595.9 114.1L597.6 114.5L599.3 114.9L600.9 115.3L602.4 115.7L603.7 116.2L605.1 116.7L606.4 117.2L607.8 117.8L609.2 118.5L610.6 119.1L611.9 119.8L613.3 120.6L614.7 121.3L616.0 122.0L617.3 122.8L618.8 123.6L620.2 124.4L621.7 125.3L623.2 126.2L624.6 127.1L626.0 128.0L627.3 128.9L628.6 129.8L629.8 130.6L630.8 131.4L632.5 132.6L634.0 133.8L635.3 134.7L636.2 135.6L636.6 136.3L636.5 136.8L636.2 137.1L635.7 137.7L634.9 138.5L633.7 139.4L632.4 140.4L630.9 141.5L629.5 142.5L628.0 143.5L626.7 144.4L625.4 145.6L624.1 146.8L622.8 148.1L621.6 149.2L620.5 150.1L619.5 150.8L618.6 151.1L617.9 151.0L617.4 150.7L616.7 150.2L615.9 149.3L614.9 148.2L613.9 146.9L612.9 145.4L611.8 143.9L610.7 142.4L609.7 140.9L608.6 139.5L607.5 138.3L606.4 137.0L605.4 135.8L604.3 134.5L603.2 133.3L602.2 132.1L601.1 130.8L600.1 129.6L599.0 128.4L598.0 127.2L596.9 125.9L595.8 124.7L594.6 123.4L593.4 122.2L592.2 121.0L591.2 119.8L590.2 118.7L589.4 117.8L588.9 117.1L588.5 116.8L587.6 114.7L587.8 113.4Z" fill="#0000ff"/>
<path d="M623.3 147.2h0M621.9 150.0h0M622.4 126.0h0M626.4 145.9h0M595.4 123.0h0M618.6 151.8h0M598.8 126.3h0M590.7 119.0h0M605.2 114.8h0M623.3 124.4h0M606.5 137.2h0M630.5 130.4h0M592.1 119.2h0M596.8 127.1h0M632.4 132.1h0M630.2 144.0h0M592.6 112.1h0M616.8 150.0h0M610.8 141.5h0M638.4 134.3h0M615.4 147.9h0M625.8 143.1h0M627.7 127.8h0M624.6 146.6h0M587.8 115.9h0M587.6 112.0h0M614.4 148.8h0M621.8 125.9h0M586.3 111.9h0M635.7 139.0h0M597.1 126.7h0M601.6 115.5h0M631.0 133.5h0M630.8 129.7h0M590.1 112.8h0M604.7 135.4h0M593.7 111.0h0M599.2 113.7h0M633.5 139.3h0M629.7 129.8h0M615.9 150.7h0M606.1 138.1h0M631.3 141.8h0M631.4 138.4h0M618.2 150.5h0M636.8 137.7h0M612.0 144.7h0M607.3 138.7h0M599.0 113.8h0M615.4 151.2h0M587.8 112.9h0M635.7 134.5h0M622.8 126.5h0M609.6 139.8h0M615.2 121.3h0M603.9 135.0h0M635.9 137.2h0M612.2 145.1h0M616.1 150.3h0M610.2 141.3h0M589.5 112.5h0M616.1 152.7h0M631.9 142.5h0M606.2 116.3h0M601.7 115.4h0M593.5 122.6h0M590.0 112.4h0M589.3 111.9h0M625.4 146.1h0M597.1 125.8h0M635.7 140.5h0M590.0 113.5h0M635.6 138.4h0M592.0 120.9h0M626.8 128.1h0M607.7 138.0h0M608.3 140.3h0M631.0 141.1h0M634.1 137.9h0M626.1 128.0h0M626.2 127.5h0M632.0 131.1h0M611.1 118.1h0M602.4 115.5h0M607.9 138.2h0M616.7 121.5h0M621.8 147.2h0M601.0 115.8h0M613.5 120.1h0M614.1 149.6h0M615.5 122.2h0M607.8 142.7h0M627.0 127.1h0M627.3 128.8h0M624.0 147.1h0M611.7 141.1h0M610.0 120.6h0M587.2 112.1h0M611.0 121.1h0M614.3 147.8h0M622.3 148.0h0M600.0 130.1h0M619.0 123.7h0M616.2 149.0h0M620.6 150.3h0M588.6 116.8h0M609.0 141.3h0M589.6 118.8h0M606.1 136.8h0M632.0 132.7h0M587.4 117.5h0M621.0 151.0h0M600.5 113.9h0M620.2 150.1h0M637.3 134.2h0M606.4 137.7h0M616.5 147.7h0M634.2 140.5h0M605.1 116.5h0M590.2 119.0h0M587.5 116.8h0M632.5 133.7h0M604.2 134.0h0M613.0 146.7h0M620.4 121.4h0M598.3 114.0h0M605.0 134.1h0M602.8 132.3h0M622.8 148.0h0M585.6 113.9h0M603.5 131.6h0M633.6 137.4h0M589.5 112.6h0M587.4 116.4h0M607.3 136.5h0M633.9 133.4h0M633.7 138.1h0M590.3 118.3h0M616.2 148.1h0M633.7 132.8h0M635.3 136.2h0M602.8 133.7h0M622.9 124.5h0M635.0 133.5h0M587.3 114.8h0M589.9 119.9h0M589.9 121.5h0M597.3 113.9h0M629.6 142.3h0M628.1 142.6h0M628.0 143.5h0M617.5 151.2h0M603.5 115.8h0M625.3 145.9h0M606.8 138.8h0M597.8 125.6h0M596.4 125.6h0M614.4 119.9h0M636.4 136.0h0M630.1 144.1h0M589.8 119.3h0M605.6 116.0h0M612.3 146.5h0M603.9 132.9h0M604.5 115.4h0M588.8 117.6h0M597.7 127.1h0M636.3 138.7h0M608.3 139.8h0M622.2 126.7h0M588.3 116.9h0M618.1 150.4h0M614.9 118.9h0M635.8 135.7h0M634.2 134.2h0M609.9 139.9h0M593.0 114.3h0M605.4 136.3h0M603.4 115.5h0M622.6 126.1h0M613.7 150.6h0M599.6 129.7h0M637.8 136.7h0M615.9 120.8h0M630.3 143.1h0M590.5 112.1h0M611.1 119.8h0M622.1 147.7h0M603.1 114.8h0M618.4 124.2h0M600.3 131.6h0M621.0 149.4h0M637.9 135.3h0M631.3 141.0h0M588.8 117.3h0M634.4 132.9h0M598.6 127.4h0M593.8 122.6h0M632.2 131.2h0M631.1 129.7h0M598.3 133.6h0M605.9 113.4h0M641.7 141.4h0M639.7 138.1h0M629.3 152.5h0M590.9 109.3h0M631.6 143.0h0M589.9 109.6h0M601.1 140.4h0M633.3 127.3h0M590.3 108.9h0M613.7 151.5h0M641.5 137.4h0M612.7 150.6h0M632.5 129.1h0M599.9 145.0h0M640.2 145.8h0M594.1 107.2h0M590.4 110.4h0M605.4 139.2h0M607.6 141.3h0M617.6 153.4h0M618.1 118.8h0M640.6 134.8h0M606.1 111.4h0M639.7 136.4h0M610.7 118.6h0M586.9 123.5h0M631.9 148.8h0M627.0 124.3h0M617.8 119.7h0M612.4 150.4h0M590.4 126.0h0M612.3 148.3h0M599.3 111.6h0M615.5 150.8h0M614.1 151.2h0M614.4 117.0h0M629.0 148.5h0M625.4 126.1h0M634.9 131.9h0M632.5 143.7h0M630.3 147.8h0M615.3 152.3h0M622.9 122.4h0" stroke="#0000ff" stroke-width="2.40" stroke-linecap="round" fill="none"/>
<path d="M633.0 158.5h0M651.0 157.0h0M646.2 161.4h0M631.4 160.4h0M640.3 165.8h0M642.2 149.5h0M631.6 151.1h0M640.5 144.6h0M650.0 155.4h0M631.3 166.9h0M647.0 169.6h0M644.9 155.2h0M633.0 149.3h0M621.2 157.1h0M630.2 150.3h0M640.7 174.6h0M629.1 144.4h0M637.3 162.9h0M631.0 168.5h0M648.5 165.2h0M640.5 160.2h0M638.0 164.3h0M644.8 155.5h0M635.5 164.9h0M636.2 177.1h0M639.8 155.8h0M645.5 153.3h0M652.9 166.7h0M624.4 158.4h0M652.5 170.1h0M650.0 160.7h0M635.8 155.2h0M636.8 172.1h0M644.1 153.1h0M627.6 153.4h0M622.9 156.4h0M624.9 157.0h0M628.8 167.3h0M636.1 149.8h0M642.8 156.8h0M627.2 154.9h0M636.9 161.4h0M647.4 168.4h0M654.8 169.3h0M635.4 158.5h0M644.1 153.1h0M637.6 145.3h0M635.1 145.6h0M647.1 160.3h0M636.4 159.1h0M641.4 155.4h0M626.4 156.8h0M640.8 141.1h0M652.7 170.9h0M643.8 143.9h0M647.6 168.1h0M636.0 173.4h0M632.7 158.4h0M625.2 149.0h0M644.5 144.3h0M630.5 161.2h0M619.3 151.8h0M625.5 161.6h0M635.1 151.0h0M639.2 158.8h0M625.7 148.5h0M628.3 166.9h0M620.0 151.5h0M636.9 167.4h0M643.2 151.8h0M648.6 161.5h0M630.1 150.1h0M632.6 166.6h0M636.0 140.7h0M623.7 154.7h0M629.6 153.6h0M635.6 165.1h0M640.6 151.6h0M629.0 149.1h0M639.8 153.0h0M650.0 157.1h0M639.7 152.8h0M636.7 148.3h0M636.6 161.6h0M636.4 169.5h0M627.7 155.9h0M638.6 157.5h0M628.6 166.1h0M645.0 176.1h0M625.7 164.3h0M645.4 172.6h0M629.3 145.8h0M644.1 155.8h0M643.3 169.8h0M651.1 159.5h0M629.4 154.3h0M638.4 148.5h0M624.4 162.7h0M643.7 146.6h0M629.3 149.0h0M650.1 169.0h0M637.2 178.4h0M634.3 149.7h0M635.5 144.3h0M624.0 156.4h0M648.8 172.5h0M629.6 173.3h0M642.2 149.7h0M645.1 151.5h0M637.4 177.2h0M648.6 172.0h0M638.8 158.9h0M624.8 159.8h0M639.1 163.6h0M643.2 175.5h0M635.4 152.8h0M616.6 151.9h0M634.4 162.2h0M627.8 146.4h0M644.8 160.7h0M656.7 163.5h0M648.3 158.3h0M639.6 173.7h0M631.4 160.5h0M629.6 155.2h0M630.9 144.2h0M633.0 142.7h0M623.8 152.3h0M655.2 161.3h0M647.0 169.7h0M640.2 141.0h0M637.6 158.4h0M652.5 168.4h0M617.0 157.5h0M647.2 157.4h0M638.4 150.0h0M651.6 156.9h0M652.0 168.3h0M645.2 159.4h0M638.2 140.0h0M644.9 150.7h0M630.3 150.9h0M640.9 153.9h0M648.7 154.2h0M628.6 172.3h0M618.2 150.7h0M641.2 158.8h0M629.3 163.7h0M643.5 161.6h0M634.8 155.9h0M631.1 145.5h0M644.3 170.5h0M639.9 153.7h0M632.7 151.2h0M627.0 156.1h0M624.4 156.1h0M655.8 165.6h0M630.7 152.3h0M626.1 145.7h0M622.4 150.9h0M640.8 140.1h0M632.4 160.9h0M653.6 164.1h0M638.9 148.9h0M634.5 167.1h0M630.6 145.2h0M634.2 168.6h0M634.2 169.6h0M634.0 143.2h0M654.5 170.7h0M631.9 143.2h0M635.0 150.3h0M648.7 160.5h0M624.6 149.3h0M640.9 159.4h0M630.6 164.2h0M635.0 175.1h0M637.3 174.2h0M647.7 168.4h0M624.2 159.7h0M620.2 149.6h0M638.4 147.6h0M639.2 142.4h0M634.8 154.0h0M646.4 147.4h0M642.0 141.0h0M643.5 159.3h0M619.7 158.3h0M618.7 154.4h0M636.2 164.1h0M641.4 158.0h0M635.7 162.3h0M645.7 151.2h0M641.8 157.4h0M650.7 159.6h0M627.5 154.3h0M629.1 146.5h0M632.4 168.5h0M642.6 153.8h0M641.5 163.2h0M642.9 160.8h0M627.6 148.2h0M635.4 155.6h0M643.4 152.7h0M633.4 165.4h0M633.2 161.8h0M631.7 172.1h0M652.5 165.2h0M643.9 174.5h0M639.8 157.6h0M641.2 146.1h0M645.5 163.4h0M627.4 153.2h0M644.9 166.7h0M629.8 166.2h0M648.7 158.0h0M630.6 153.8h0M626.8 160.9h0M619.9 153.1h0M625.1 156.5h0M629.9 164.8h0M632.9 165.8h0M634.8 171.3h0M648.1 152.9h0M631.3 158.8h0M637.2 158.4h0M643.0 162.9h0M640.5 174.5h0M632.5 158.5h0M629.4 156.2h0M629.6 164.2h0M639.5 158.2h0M648.0 155.4h0M652.0 168.9h0M636.3 161.6h0M632.5 153.1h0M641.4 167.8h0M652.1 167.9h0M631.9 172.1h0M636.6 169.8h0M635.1 139.9h0M650.0 167.4h0M628.2 158.2h0M646.6 169.4h0M641.3 172.7h0M643.0 151.2h0M629.9 144.5h0M653.1 163.2h0M628.1 168.4h0M638.7 169.1h0" stroke="#0000ff" stroke-width="2.40" stroke-linecap="round" fill="none"/>
<path d="M655.8 168.1L655.8 168.2L656.2 168.7L656.7 169.6L657.4 170.9L658.1 172.4L658.8 174.1L659.5 175.9L660.2 177.6L660.9 179.3L661.6 180.8L662.3 182.4L663.0 184.0L663.7 185.6L664.3 187.1L664.9 188.7L665.5 190.2L666.1 191.7L666.6 193.1L667.0 194.5L667.7 196.4L668.3 198.2L668.8 199.9L669.1 201.3L669.3 202.2L669.4 202.9L668.7 203.9L667.4 204.6L665.8 205.1L664.6 205.4L663.1 206.0L661.8 206.1L660.4 205.4L659.9 204.9L659.3 204.1L658.4 203.0L657.5 201.7L656.5 200.2L655.4 198.8L654.3 197.3L653.3 196.2L652.4 195.0L651.4 193.9L650.4 192.7L649.4 191.5L648.4 190.3L647.4 189.1L646.4 187.9L645.4 186.7L644.3 185.5L643.0 184.2L641.7 182.8L640.4 181.5L639.2 180.3L638.2 179.2L637.6 178.3L637.3 178.0L637.0 178.6L636.6 178.8L637.3 178.8L638.7 178.8L640.6 178.9L642.7 178.9L644.9 178.6L646.9 177.9L648.4 176.8L649.8 175.4L651.1 173.8L652.3 172.1L653.4 170.6L654.4 169.4L655.2 168.5L655.7 168.1Z" fill="#0000ff"/>
<path d="M652.5 197.2h0M643.1 183.8h0M637.5 179.1h0M657.9 170.2h0M648.1 192.0h0M669.2 204.6h0M657.9 204.4h0M655.8 198.9h0M646.5 188.2h0M669.3 195.0h0M662.2 206.6h0M638.2 181.9h0M656.7 199.3h0M662.2 180.2h0M635.9 178.8h0M636.9 178.7h0M639.2 180.9h0M650.9 173.0h0M668.4 199.4h0M641.2 178.4h0M636.8 180.1h0M646.1 178.7h0M667.1 205.5h0M651.4 195.4h0M647.0 190.9h0M650.0 194.3h0M655.0 167.2h0M653.8 167.1h0M650.8 193.8h0M665.3 188.7h0M636.4 179.7h0M653.2 169.4h0M660.3 178.0h0M649.7 191.8h0M666.3 192.7h0M637.6 179.9h0M651.8 194.8h0M656.5 167.4h0M656.8 202.3h0M650.5 190.8h0M655.4 166.5h0M664.8 186.3h0M656.7 167.9h0M663.3 180.6h0M668.1 200.0h0M635.8 177.2h0M656.9 169.0h0M655.6 202.2h0M662.3 208.4h0M664.9 186.1h0M654.2 175.2h0M662.7 185.0h0M658.2 172.2h0M665.3 193.6h0M658.1 204.6h0M655.9 166.6h0M641.1 183.9h0M664.8 184.7h0M663.1 206.1h0M645.3 176.9h0M656.9 169.9h0M643.1 184.1h0M657.4 166.6h0M650.0 193.7h0M643.9 186.1h0M651.3 176.2h0M645.6 179.0h0M635.8 177.7h0M662.5 208.7h0M669.0 196.6h0M659.7 205.0h0M656.8 168.7h0M652.5 171.1h0M658.6 199.6h0M652.9 193.8h0M658.5 200.5h0M661.6 206.0h0M655.3 167.8h0M668.2 204.5h0M652.8 198.2h0M671.1 201.0h0M653.8 167.7h0M656.4 168.9h0M665.5 189.4h0M656.7 170.4h0M655.7 169.2h0M647.9 191.2h0M652.8 196.4h0M645.9 188.7h0M642.5 178.3h0M661.3 180.8h0M669.4 201.0h0M667.2 190.6h0M653.0 196.4h0M660.4 176.2h0M637.6 178.6h0M656.1 200.9h0M660.6 176.8h0M661.1 178.9h0M663.1 181.7h0M667.0 205.0h0M658.7 176.6h0M648.1 178.1h0M667.7 188.0h0M665.5 207.5h0M669.1 203.1h0M670.1 202.0h0M660.3 206.0h0M671.0 202.5h0M669.0 196.6h0M655.5 169.2h0M649.0 192.2h0M662.4 179.6h0M655.2 169.2h0M636.7 179.8h0M658.0 169.1h0M656.8 166.8h0M661.9 183.3h0M653.1 172.4h0M667.3 191.7h0M653.3 197.5h0M642.0 183.6h0M653.7 197.6h0M638.8 178.5h0M665.5 205.1h0M670.5 200.2h0M653.5 169.2h0M670.5 196.8h0M665.8 189.0h0M658.9 201.7h0M634.6 177.9h0M666.1 206.4h0M648.7 175.2h0M655.5 199.4h0M666.6 195.7h0M667.9 196.0h0M666.3 189.7h0M661.7 181.5h0M656.1 167.0h0M670.7 201.2h0M659.9 174.2h0M648.7 176.5h0M647.2 177.9h0M656.1 197.1h0M650.3 173.9h0M635.5 177.5h0M660.7 184.2h0M663.5 181.5h0M650.8 193.6h0M656.9 164.6h0M658.8 172.9h0M666.8 190.7h0M648.3 188.6h0M644.4 179.0h0M644.1 182.4h0M654.8 202.4h0M636.7 176.2h0M662.7 183.8h0M669.9 204.2h0M659.3 171.9h0M646.7 191.0h0M669.2 199.3h0M666.4 205.3h0M636.3 179.9h0M667.2 204.7h0M641.0 179.0h0M649.4 172.8h0M659.3 203.9h0M667.2 196.9h0M652.8 164.3h0M647.2 174.9h0M651.8 161.4h0M668.5 187.7h0M666.6 191.7h0M644.9 192.6h0M647.9 166.0h0M670.3 184.8h0M643.5 192.0h0M653.1 198.5h0M667.1 208.6h0M640.3 185.4h0M663.8 171.5h0M666.7 208.4h0M643.5 188.5h0M633.7 180.2h0M674.7 199.6h0M676.8 204.4h0M672.4 201.6h0M647.3 173.1h0M660.3 166.1h0M661.6 180.6h0M659.7 207.2h0M653.5 199.7h0M670.9 197.8h0M664.3 181.7h0M642.5 190.3h0M672.8 201.2h0M667.1 181.2h0M669.5 192.3h0M634.5 178.0h0M646.2 175.4h0M655.0 209.1h0M640.2 188.9h0M651.5 197.4h0M654.7 199.4h0M636.2 184.5h0M644.9 194.3h0M652.4 203.4h0M640.0 190.5h0M656.7 208.4h0M643.9 177.6h0M659.8 210.0h0M672.3 201.2h0M643.7 165.9h0M658.9 165.7h0M634.3 177.5h0M654.3 203.3h0M645.1 195.3h0M668.5 188.1h0M634.5 181.3h0M650.7 169.4h0M675.1 204.6h0M670.6 195.8h0M626.4 189.6h0M651.5 200.6h0M664.0 178.5h0M669.0 173.3h0M666.3 182.9h0M665.9 182.1h0M670.9 192.5h0M658.5 167.5h0M634.4 176.6h0M639.3 183.6h0M674.0 198.0h0M643.6 189.2h0M668.2 211.7h0" stroke="#0000ff" stroke-width="2.40" stroke-linecap="round" fill="none"/>
<path d="M629.3 237.5h0M631.9 234.3h0M633.0 233.3h0M663.1 211.7h0M641.6 202.2h0M644.8 252.2h0M665.5 221.0h0M624.5 203.6h0M633.1 220.6h0M641.3 210.8h0M613.3 197.1h0M661.6 218.3h0M631.9 184.2h0M636.4 217.7h0M655.0 232.1h0M609.6 170.6h0M633.4 227.8h0M653.7 233.5h0M629.7 206.9h0M626.7 231.3h0M622.6 232.9h0M649.4 236.9h0M621.2 219.6h0M610.0 183.6h0M638.0 184.0h0M642.6 203.4h0M617.9 237.5h0M636.8 225.9h0M657.9 232.7h0M647.0 244.2h0M649.8 238.5h0M612.0 231.5h0M660.2 216.4h0M637.2 255.5h0M635.1 202.4h0M638.9 243.0h0M623.3 242.6h0M635.4 183.5h0M643.5 211.4h0M617.2 179.5h0" stroke="#0000ff" stroke-width="2.40" stroke-linecap="round" fill="none"/>
<path d="M556.1 27.6L557.3 27.3L558.7 27.0L560.2 26.9L561.7 26.8L563.4 26.8L565.0 26.9L566.7 27.1L568.3 27.2L569.9 27.5L571.4 27.7L573.0 28.0L574.6 28.3L576.2 28.7L577.7 29.1L579.2 29.6L580.7 30.2L582.1 30.8L583.4 31.4L584.7 32.1L586.0 33.0L587.2 33.8L588.3 34.8L589.3 35.7L590.4 36.8L591.4 38.1L592.4 39.4L593.5 40.9L594.2 41.9L594.9 43.1L595.6 44.3L596.4 45.7L597.1 47.0L597.8 48.5L598.6 49.9L599.2 51.3L599.8 52.7L600.4 54.1L600.9 55.4L601.4 56.6L601.9 58.2L602.3 59.8L602.7 61.3L603.0 62.8L603.2 64.2L603.4 65.7L603.5 67.1L603.6 68.6L603.6 70.1L603.6 71.6L603.5 73.2L603.3 74.7L603.1 76.3L602.8 77.8L602.5 79.4L602.2 80.8L601.8 82.1L601.4 83.4L600.8 85.0L600.1 86.5L599.4 87.9L598.6 89.2L597.8 90.2L597.2 91.0L596.7 91.5L595.3 92.1L593.8 92.0L592.1 91.6L590.6 91.1L589.5 90.7L588.5 90.2L587.5 89.5L586.3 88.6L584.7 87.3L583.9 86.5L583.0 85.6L582.0 84.7L581.0 83.6L579.9 82.5L578.7 81.3L577.6 80.1L576.5 78.9L575.3 77.8L574.2 76.6L573.1 75.6L571.9 74.6L570.7 73.5L569.5 72.6L568.3 71.6L567.1 70.7L565.9 69.8L564.7 68.9L563.6 68.0L562.4 67.0L561.2 66.1L559.9 65.1L558.5 64.1L557.2 63.1L555.8 62.1L554.5 61.1L553.2 60.1L552.0 59.1L550.9 58.1L549.9 57.0L548.9 55.9L547.9 54.7L547.0 53.5L546.1 52.3L545.4 51.0L544.7 49.8L544.1 48.6L543.7 47.5L543.4 46.3L543.2 44.9L543.1 43.4L543.2 41.8L543.5 40.3L544.0 38.9L544.6 37.4L545.4 36.0L546.2 35.0L547.1 33.9L548.1 32.8L549.3 31.7L550.6 30.7L551.9 29.7L553.3 28.9L554.7 28.1Z" fill="#ffc0cb"/>
<path d="M575.0 80.5h0M544.3 39.2h0M561.8 25.6h0M594.8 38.9h0M563.1 26.5h0M595.7 46.9h0M551.1 30.3h0M580.7 84.5h0M601.8 61.1h0M594.2 42.0h0M566.0 26.7h0M557.3 64.7h0M551.2 58.4h0M605.6 68.5h0M573.5 77.6h0M558.9 28.0h0M547.4 34.2h0M548.8 56.6h0M543.2 48.6h0M550.4 28.9h0M600.7 85.0h0M556.5 26.8h0M544.7 37.1h0M602.1 58.8h0M557.0 62.9h0M586.8 32.9h0M584.4 87.9h0M576.8 81.1h0M586.2 89.3h0M599.8 87.5h0M594.8 42.2h0M601.4 84.9h0M599.4 89.9h0M547.9 51.9h0M580.5 29.7h0M553.8 28.3h0M602.1 57.4h0M550.0 57.9h0M586.5 90.2h0M546.4 33.7h0M597.8 50.8h0M596.6 43.8h0M558.9 27.8h0M591.4 93.1h0M595.5 45.0h0M566.3 25.9h0M557.3 62.3h0M549.6 58.1h0M559.1 26.3h0M563.5 68.4h0M544.7 40.7h0M589.8 33.7h0M602.4 80.2h0M596.2 91.5h0M572.5 26.4h0M587.9 91.3h0M571.8 27.9h0M572.2 26.9h0M574.8 28.5h0M600.8 84.3h0M577.0 27.8h0M554.3 60.2h0M549.2 32.2h0M543.5 49.9h0M600.4 50.6h0M547.1 32.9h0M584.8 30.4h0M577.5 79.7h0M603.3 73.5h0M590.0 35.2h0M574.3 28.2h0M566.2 28.2h0M604.4 77.4h0M555.6 61.3h0M562.7 66.4h0M600.6 87.1h0M558.1 64.5h0M549.1 31.2h0M594.9 45.0h0M587.8 32.9h0M580.3 31.0h0M584.0 88.3h0M593.4 42.3h0M596.8 46.1h0M577.5 80.0h0M559.8 65.7h0M544.7 50.9h0M558.8 66.2h0M544.1 45.6h0M543.0 50.1h0M554.0 62.0h0M552.9 29.4h0M572.9 28.8h0M599.0 51.6h0M600.8 49.4h0M563.5 25.9h0M602.9 78.1h0M560.3 65.6h0M556.7 26.2h0M581.6 84.2h0M598.2 50.8h0M601.4 85.8h0M603.6 61.8h0M555.8 60.9h0M563.6 25.2h0M570.2 73.3h0M601.3 84.8h0M569.3 74.1h0M567.8 73.0h0M568.7 72.2h0M558.3 65.9h0M553.8 61.4h0M542.5 43.8h0M578.2 28.7h0M571.9 26.6h0M568.2 27.2h0M598.3 92.2h0M556.4 62.9h0M598.4 90.9h0M580.1 82.1h0M568.9 73.7h0M600.2 53.6h0M545.9 51.7h0M543.1 45.5h0M603.0 81.2h0M595.7 40.7h0M597.4 47.9h0M552.9 28.3h0M597.1 89.3h0M601.9 53.6h0M568.4 72.2h0M598.3 48.6h0M581.2 30.4h0M598.9 91.9h0M600.8 50.6h0M595.2 44.9h0M579.4 80.9h0M545.2 52.7h0M585.4 88.8h0M573.7 76.0h0M573.4 77.6h0M571.4 27.0h0M542.3 41.5h0M567.8 27.4h0M568.5 27.4h0M559.2 27.1h0M589.1 89.5h0M586.2 34.0h0M552.1 28.2h0M590.3 91.5h0M604.5 65.3h0M578.1 80.8h0M561.9 27.6h0M594.9 92.1h0M567.3 70.5h0M546.3 34.6h0M595.1 92.1h0M576.0 77.9h0M592.0 92.1h0M596.7 90.2h0M561.1 65.9h0M550.3 56.3h0M598.5 87.1h0M557.7 28.5h0M599.3 52.2h0M592.2 39.4h0M585.5 88.4h0M590.5 92.3h0M549.0 56.4h0M559.7 26.8h0M542.5 50.1h0M603.2 64.9h0M584.4 88.5h0M547.3 33.4h0M602.1 54.7h0M547.5 55.4h0M562.3 67.7h0M604.7 84.1h0M582.9 31.8h0M571.9 75.8h0M544.4 47.8h0M599.8 84.2h0M604.5 62.9h0M603.2 64.1h0M591.3 92.5h0M571.5 28.9h0M552.8 30.4h0M601.7 81.0h0M598.3 45.2h0M562.2 68.3h0M574.0 30.5h0M602.4 60.3h0M577.3 81.4h0M602.4 59.7h0M580.7 85.2h0M568.9 73.9h0M545.0 46.5h0M603.0 59.6h0M600.9 51.7h0M601.8 60.4h0M563.8 26.5h0M556.2 27.0h0M603.9 72.4h0M591.4 35.6h0M552.8 59.1h0M570.9 27.4h0M602.1 59.7h0M576.2 79.1h0M553.7 28.5h0M585.1 87.1h0M580.3 30.1h0M589.5 90.6h0M549.7 59.4h0M548.8 32.8h0M592.3 92.7h0M561.1 27.6h0M585.0 89.1h0M565.7 27.4h0M575.0 77.1h0M573.2 27.7h0M541.4 45.8h0M583.2 83.9h0M596.9 91.7h0M597.5 89.9h0M584.9 88.4h0M548.8 32.9h0M604.7 68.1h0M574.2 27.3h0M580.4 29.5h0M597.5 91.4h0M558.1 27.2h0M590.1 37.4h0M569.2 72.3h0M565.9 71.7h0M592.6 90.9h0M573.4 76.2h0M595.1 93.1h0M594.2 43.7h0M596.1 91.5h0M563.0 67.9h0M556.1 26.3h0M544.7 45.4h0M599.5 53.6h0M581.1 85.1h0M575.4 27.0h0M571.0 75.0h0M549.4 30.2h0M555.0 26.9h0M573.2 27.7h0M603.5 66.9h0M575.6 77.9h0M602.5 84.4h0M602.4 80.4h0M564.3 26.9h0M541.8 41.4h0M603.1 82.2h0M597.4 46.1h0M547.0 55.5h0M598.0 46.3h0M603.8 73.9h0M571.3 28.8h0M563.4 67.0h0M552.2 29.5h0M551.6 29.0h0M556.7 26.6h0M598.9 90.5h0M565.1 70.8h0M548.1 55.1h0M562.2 65.5h0M548.5 54.5h0M546.8 56.3h0M590.8 92.7h0M590.9 35.6h0M602.6 55.3h0M550.8 59.5h0M602.3 84.6h0M543.9 37.6h0M602.0 82.2h0M603.0 74.3h0M599.7 53.9h0M581.1 84.7h0M598.0 92.6h0M575.8 27.3h0M549.9 57.3h0M575.9 77.9h0M593.4 92.6h0M560.4 26.7h0M587.5 88.6h0M592.4 91.5h0M600.6 85.1h0M569.3 73.1h0M565.3 25.9h0M595.9 45.0h0M597.9 48.9h0M601.9 84.7h0M593.2 36.4h0M549.3 27.6h0M565.6 72.8h0M538.7 36.8h0M574.5 89.2h0M608.5 69.0h0M592.9 96.1h0M607.7 67.5h0M591.8 29.3h0M548.7 30.8h0M601.7 48.7h0M571.4 75.8h0M563.9 71.3h0M606.7 71.1h0M546.0 25.5h0M576.4 89.7h0M543.2 54.9h0M566.3 23.8h0M558.8 69.8h0M535.5 33.5h0M602.0 47.1h0M567.3 22.0h0M556.0 22.2h0M570.9 21.3h0M592.9 95.1h0M592.8 96.6h0M607.9 81.9h0M563.1 22.5h0M590.0 94.6h0M597.2 38.5h0M548.2 58.2h0M551.7 62.0h0M569.1 81.6h0M557.7 69.8h0M544.9 56.9h0M564.5 71.0h0M555.6 67.6h0M598.7 39.1h0M573.9 79.5h0M563.5 72.0h0M570.8 76.3h0M585.7 26.5h0M606.4 79.5h0M588.0 29.3h0M554.0 18.3h0M607.8 59.3h0M594.5 97.2h0M547.8 60.7h0M555.6 23.3h0M562.4 72.4h0M594.9 37.8h0M603.3 90.4h0M545.3 61.4h0M540.0 43.3h0M600.7 48.4h0M550.2 27.7h0M536.9 46.1h0M603.9 47.9h0M578.0 86.5h0M590.0 34.3h0M577.4 20.4h0M609.3 59.5h0M572.7 76.7h0M552.9 64.5h0M609.1 73.1h0M599.1 93.1h0M596.9 44.9h0M598.1 45.9h0M606.1 57.2h0M606.3 75.8h0M600.3 48.4h0M572.5 21.9h0M559.3 14.6h0M607.0 61.9h0M610.6 71.1h0M597.2 94.6h0M578.8 85.8h0M554.3 22.2h0M604.7 89.7h0M586.8 29.3h0M588.1 29.2h0M578.0 83.4h0M550.8 22.3h0M591.5 93.9h0M532.2 49.9h0M552.1 26.5h0M552.7 24.0h0M561.6 73.2h0M561.6 70.2h0M545.4 29.4h0M573.1 83.3h0M550.9 25.3h0M599.8 45.5h0M583.1 90.0h0M553.6 68.9h0M581.9 90.1h0M581.5 90.2h0M573.3 25.4h0M604.7 61.4h0M579.7 85.5h0M552.5 26.7h0M585.8 92.3h0M560.9 70.9h0M538.9 51.9h0M545.1 33.6h0M597.3 26.5h0M607.6 66.4h0M577.6 92.0h0M543.9 27.7h0M600.4 91.6h0M570.0 25.2h0M563.8 69.7h0M604.7 51.7h0M546.1 30.8h0M612.0 74.2h0M602.1 87.3h0M584.1 88.7h0M530.4 65.1h0M535.0 49.7h0M545.6 58.9h0M545.7 28.4h0M591.1 29.0h0M575.0 80.5h0M543.0 31.8h0M538.7 45.5h0M606.9 74.3h0M540.3 44.7h0M557.8 66.3h0M547.0 30.1h0M557.3 24.1h0M607.7 57.9h0M547.0 22.8h0M600.2 92.0h0M606.1 81.4h0M594.0 94.5h0M544.5 30.7h0M556.7 68.1h0" stroke="#ffc0cb" stroke-width="2.40" stroke-linecap="round" fill="none"/>
<path d="M523.8 46.0L524.4 44.8L525.3 43.9L526.4 43.1L527.7 42.6L529.0 42.3L530.3 42.0L531.6 41.9L533.1 41.9L534.7 42.2L536.2 42.6L537.7 43.1L539.1 43.8L540.1 44.4L541.0 45.2L542.0 46.0L542.9 47.0L543.7 48.2L544.5 49.4L545.2 50.8L545.6 51.9L545.9 53.1L546.2 54.5L546.4 56.0L546.6 57.6L546.9 59.3L547.1 60.9L547.4 62.5L547.7 64.1L548.1 65.5L548.5 67.1L549.0 68.7L549.5 70.3L550.0 71.8L550.7 73.2L551.5 74.7L552.4 76.1L553.6 77.5L554.9 78.5L556.4 79.4L557.9 80.1L559.5 80.7L561.0 81.3L562.5 82.0L563.9 82.7L565.2 83.7L566.4 84.8L567.1 85.7L567.8 86.8L568.6 88.0L569.3 89.3L570.1 90.8L570.8 92.2L571.5 93.8L572.2 95.3L572.8 96.9L573.5 98.4L574.1 99.9L574.7 101.4L575.2 102.7L575.8 104.3L576.4 105.8L576.9 107.2L577.4 108.6L577.9 109.9L578.3 111.3L578.7 112.7L579.0 114.1L579.3 115.5L579.6 117.1L579.8 118.7L580.0 120.0L580.1 121.5L580.3 123.0L580.4 124.5L580.5 126.1L580.6 127.7L580.7 129.2L580.7 130.8L580.7 132.4L580.6 133.9L580.5 135.3L580.3 136.7L580.1 138.0L579.9 139.1L579.4 140.5L578.9 141.8L578.2 143.1L577.4 144.2L576.6 145.4L575.7 146.5L574.7 147.7L573.7 148.8L572.7 150.0L571.8 151.2L570.9 152.5L570.0 153.8L569.1 155.1L568.2 156.4L567.3 157.6L566.4 158.9L565.6 160.2L564.7 161.5L563.8 162.8L563.0 164.1L562.1 165.4L561.4 166.7L560.5 168.1L559.7 169.6L559.0 171.1L558.2 172.6L557.5 174.0L556.8 175.5L556.1 176.9L555.5 178.3L554.9 179.7L554.3 181.0L553.6 182.6L553.0 184.1L552.4 185.6L551.9 187.0L551.4 188.4L550.8 189.8L550.2 191.1L549.6 192.5L548.9 193.8L548.3 195.1L547.5 196.5L546.8 197.8L546.0 199.1L545.2 200.4L544.4 201.6L543.6 202.8L542.8 203.9L541.7 205.2L540.6 206.5L539.5 207.7L538.3 208.8L537.2 209.8L536.1 210.6L535.1 211.2L533.8 211.8L532.4 212.2L531.0 212.3L529.6 212.2L528.1 212.0L526.9 211.8L525.7 211.4L524.4 210.9L523.0 210.3L521.6 209.7L520.3 209.0L519.0 208.3L517.8 207.5L516.7 206.7L515.5 205.8L514.4 204.8L513.2 203.8L512.0 202.7L510.8 201.5L509.6 200.5L508.5 199.5L507.4 198.4L506.3 197.4L505.2 196.2L504.0 195.0L502.8 193.6L501.5 192.1L500.7 191.1L499.9 190.0L498.9 188.9L498.0 187.7L497.1 186.4L496.1 185.2L495.2 183.9L494.2 182.6L493.3 181.3L492.5 180.0L491.6 178.7L490.9 177.4L490.2 176.1L489.5 174.8L488.8 173.4L488.1 172.1L487.5 170.8L487.0 169.4L486.4 168.1L485.9 166.7L485.5 165.3L485.0 163.9L484.6 162.5L484.3 161.1L484.0 159.6L483.7 158.2L483.5 156.8L483.3 155.3L483.2 153.7L483.1 152.2L483.0 150.6L482.9 149.0L482.9 147.4L482.8 145.9L482.8 144.3L482.8 142.9L482.9 141.4L482.9 140.1L483.0 138.3L483.0 136.7L483.1 135.1L483.2 133.6L483.3 132.1L483.5 130.7L483.7 129.4L484.0 128.2L484.4 127.0L484.8 125.9L485.5 124.5L486.3 123.1L487.3 121.9L488.3 120.7L489.4 119.6L490.6 118.5L491.8 117.6L493.1 116.7L494.2 116.0L495.5 115.4L496.8 114.9L498.2 114.4L499.7 114.0L501.1 113.6L502.6 113.2L504.0 112.8L505.4 112.5L507.0 112.1L508.5 111.8L510.1 111.6L511.7 111.4L513.3 111.2L514.9 110.9L516.5 110.4L518.0 109.8L519.5 108.8L520.8 107.7L522.0 106.4L523.1 105.1L524.1 103.7L525.0 102.3L525.8 101.0L526.6 99.4L527.4 97.7L528.1 96.0L528.6 94.2L528.9 92.2L529.0 90.1L528.9 88.6L528.8 87.1L528.5 85.5L528.2 83.9L527.8 82.4L527.4 80.8L527.0 79.2L526.6 77.6L526.3 76.1L526.0 74.6L525.7 73.2L525.5 71.7L525.2 70.2L525.0 68.7L524.8 67.2L524.6 65.7L524.4 64.3L524.3 62.8L524.1 61.3L524.0 59.8L523.9 58.3L523.7 56.7L523.6 55.0L523.5 53.4L523.4 51.8L523.3 50.3L523.4 48.9L523.4 47.7L523.6 46.7Z" fill="#ffc0cb"/>
<path d="M522.3 105.6h0M535.7 41.8h0M579.9 117.3h0M577.8 116.8h0M535.4 41.7h0M581.5 122.7h0M518.7 109.4h0M530.1 212.0h0M482.7 130.4h0M523.0 46.5h0M484.3 167.4h0M513.1 110.5h0M529.9 92.1h0M578.9 113.1h0M523.9 46.0h0M521.8 64.1h0M547.6 59.2h0M528.3 79.7h0M580.7 130.8h0M524.1 64.3h0M582.4 134.3h0M571.9 151.4h0M572.6 97.0h0M524.8 212.3h0M547.5 65.0h0M579.8 137.3h0M547.7 54.1h0M507.9 199.3h0M548.4 193.8h0M575.3 100.1h0M520.7 108.8h0M499.0 186.4h0M523.2 102.7h0M523.8 43.2h0M572.5 151.0h0M505.7 197.9h0M518.7 208.5h0M567.6 157.7h0M527.6 213.1h0M483.1 152.2h0M570.5 154.1h0M482.2 129.3h0M481.4 141.9h0M548.5 194.2h0M522.1 209.7h0M492.3 180.9h0M562.5 166.9h0M483.6 159.2h0M500.9 113.3h0M564.2 83.8h0M575.4 104.0h0M481.8 152.4h0M551.3 190.1h0M557.6 176.8h0M539.3 42.2h0M523.2 47.5h0M484.9 168.9h0M511.1 109.7h0M535.0 42.2h0M576.8 147.2h0M577.6 109.6h0M578.9 142.6h0M502.7 194.0h0M482.6 156.7h0M493.3 115.4h0M502.6 191.7h0M514.0 110.4h0M572.1 96.9h0M553.7 184.3h0M578.3 111.0h0M537.4 208.9h0M489.4 120.9h0M553.5 75.7h0M501.3 114.0h0M526.9 95.6h0M578.7 109.9h0M550.0 194.1h0M529.5 212.4h0M510.7 201.7h0M574.0 148.3h0M531.2 40.9h0M576.5 146.1h0M555.7 179.3h0M546.5 64.0h0M524.6 46.3h0M529.7 42.0h0M492.3 182.4h0M484.2 126.4h0M571.1 91.2h0M524.6 103.0h0M506.7 111.5h0M579.4 122.8h0M546.8 63.2h0M527.9 211.8h0M556.5 180.6h0M485.3 120.8h0M529.5 93.3h0M555.6 179.7h0M483.4 152.0h0M570.9 90.2h0M523.8 42.6h0M540.2 208.1h0M499.5 190.8h0M581.2 129.8h0M535.4 41.5h0M547.6 58.3h0M574.7 148.0h0M539.1 43.5h0M504.7 114.1h0M490.5 175.1h0M547.2 63.6h0M575.6 102.9h0M581.8 123.3h0M482.2 154.4h0M503.8 195.0h0M524.1 69.0h0M540.9 44.7h0M580.4 132.9h0M483.4 155.3h0M490.9 178.4h0M525.7 78.3h0M483.8 163.3h0M531.6 212.0h0M527.1 79.4h0M553.4 180.2h0M557.3 175.9h0M528.4 89.4h0M571.6 151.3h0M527.0 212.4h0M482.8 133.1h0M578.0 112.0h0M543.9 203.2h0M547.8 64.1h0M575.5 104.7h0M581.5 135.9h0M536.3 209.9h0M516.4 208.0h0M485.4 167.4h0M574.6 100.0h0M487.0 119.1h0M533.4 41.6h0M485.0 166.9h0M546.9 57.0h0M550.8 190.5h0M567.6 84.1h0M547.9 197.1h0M525.0 210.6h0M482.3 152.2h0M555.7 179.1h0M562.9 165.1h0M581.0 121.1h0M540.8 208.8h0M568.7 87.6h0M531.2 213.3h0M548.1 63.3h0M582.5 138.3h0M529.6 88.6h0M564.6 82.4h0M486.2 168.3h0M522.9 51.2h0M526.7 42.9h0M579.6 112.0h0M548.3 61.5h0M539.0 209.6h0M523.5 67.8h0M527.1 212.6h0M495.7 183.8h0M553.2 184.7h0M543.2 204.9h0M574.4 149.5h0M549.3 70.6h0M573.2 152.2h0M486.6 123.6h0M528.1 84.3h0M523.8 65.6h0M517.9 208.9h0M496.2 114.9h0M482.7 130.7h0M525.1 50.2h0M575.0 100.3h0M483.8 125.3h0M481.3 151.8h0M555.4 178.0h0M527.5 83.5h0M500.1 190.7h0M568.7 158.2h0M527.3 43.1h0M522.7 49.7h0M497.7 113.8h0M531.3 40.4h0M540.2 45.2h0M578.5 109.8h0M578.1 113.1h0M533.6 210.9h0M483.6 134.6h0M539.7 209.1h0M482.5 151.7h0M580.2 131.3h0M554.4 78.8h0M484.6 122.5h0M488.5 169.4h0M525.3 100.3h0M549.8 65.4h0M534.6 211.0h0M523.4 48.8h0M482.0 143.7h0M547.5 54.7h0M550.2 193.5h0M576.8 111.6h0M488.0 117.6h0M492.7 180.9h0M503.7 113.3h0M574.6 99.5h0M565.2 162.0h0M546.5 63.0h0M506.8 198.9h0M508.7 111.6h0M557.7 172.4h0M488.1 171.5h0M573.3 98.6h0M579.9 143.3h0M525.8 95.1h0M557.3 79.4h0M545.5 201.0h0M571.6 150.7h0M579.5 112.4h0M569.5 153.7h0M581.5 138.3h0M535.0 211.0h0M546.7 198.5h0M542.3 48.0h0M565.7 84.6h0M542.2 44.7h0M563.5 166.5h0M483.5 155.5h0M497.3 189.3h0M572.8 95.2h0M537.5 210.1h0M554.6 179.8h0M526.2 83.0h0M514.5 110.3h0M525.4 43.5h0M483.3 126.3h0M518.6 209.9h0M580.9 121.8h0M549.7 192.6h0M499.9 113.6h0M485.7 121.7h0M550.1 189.6h0M530.9 41.6h0M516.0 206.9h0M529.9 211.2h0M528.9 92.9h0M495.1 183.9h0M560.7 169.0h0M506.3 110.6h0M513.1 205.7h0M519.7 210.2h0M581.3 122.3h0M524.5 75.7h0M572.6 98.6h0M578.7 109.4h0M563.6 163.3h0M580.5 122.5h0M514.3 204.7h0M490.1 175.1h0M513.4 111.2h0M527.3 86.2h0M534.2 211.9h0M550.6 191.5h0M492.8 115.5h0M562.9 83.6h0M552.1 189.7h0M541.4 208.2h0M553.9 179.7h0M491.7 118.2h0M510.3 202.0h0M528.4 81.3h0M529.2 93.1h0M546.3 198.2h0M540.1 206.7h0M494.0 181.0h0M577.7 145.2h0M507.3 200.0h0M495.2 185.0h0M481.5 149.6h0M531.0 41.7h0M527.0 96.6h0M562.5 166.3h0M523.0 43.4h0M482.9 160.3h0M567.0 85.4h0M526.7 211.3h0M483.5 149.1h0M527.2 99.5h0M523.1 210.2h0M557.6 173.3h0M510.1 201.6h0M558.4 79.3h0M484.0 133.9h0M542.6 45.9h0M567.3 157.6h0M492.4 119.2h0M549.8 70.1h0M527.6 77.8h0M491.1 116.3h0M579.4 123.8h0M551.5 187.6h0M538.9 208.7h0M482.0 146.8h0M506.0 196.7h0M524.7 44.0h0M492.5 115.4h0M579.9 115.1h0M484.3 158.6h0M577.8 145.1h0M514.9 204.5h0M525.8 212.5h0M523.9 46.1h0M483.0 153.3h0M483.5 132.1h0M489.7 178.3h0M523.9 56.0h0M579.6 143.9h0M524.8 66.4h0M565.0 162.9h0M499.9 192.8h0M499.7 188.8h0M580.7 139.1h0M492.4 179.7h0M548.4 66.5h0M542.4 44.6h0M514.8 206.4h0M553.1 186.7h0M506.8 198.4h0M522.0 56.8h0M539.4 210.4h0M484.0 166.5h0M525.4 76.1h0M549.7 192.5h0M524.0 60.0h0M512.3 110.8h0M546.3 52.4h0M522.4 57.6h0M482.8 144.1h0M491.7 179.4h0M482.8 132.8h0M485.7 166.4h0M493.5 181.2h0M528.3 42.5h0M481.8 149.6h0M544.5 50.5h0M481.7 140.1h0M535.0 211.6h0M482.0 138.1h0M527.9 89.3h0M512.1 110.8h0M561.8 166.1h0M532.0 41.8h0M495.1 114.3h0M482.8 154.4h0M499.3 113.3h0M555.9 179.4h0M526.8 97.8h0M567.1 157.3h0M552.3 74.5h0M538.2 209.9h0M491.7 117.5h0M546.4 59.7h0M497.5 112.9h0M546.2 197.6h0M571.2 152.6h0M545.3 52.3h0M490.9 177.7h0M573.9 146.9h0M507.4 111.4h0M484.7 123.5h0M524.7 64.3h0M495.2 184.4h0M521.1 106.5h0M520.1 209.6h0M527.0 213.1h0M521.5 48.8h0M576.2 105.2h0M526.0 211.2h0M522.6 47.9h0M524.1 100.8h0M549.0 58.2h0M553.0 189.2h0M526.9 81.9h0M481.8 149.9h0M545.0 51.4h0M527.0 42.5h0M581.4 128.4h0M485.5 122.5h0M560.4 81.3h0M527.3 91.3h0M500.1 190.8h0M529.2 86.6h0M557.9 79.2h0M528.6 82.9h0M523.7 211.6h0M562.0 81.2h0M549.1 58.8h0M544.3 47.3h0M525.0 76.0h0M555.5 179.8h0M495.3 184.0h0M484.0 128.7h0M516.1 109.8h0M523.4 61.6h0M481.9 132.9h0M522.2 103.5h0M541.9 47.1h0M539.4 209.8h0M505.5 197.8h0M484.3 142.5h0M544.9 55.3h0M486.3 122.3h0M529.4 41.4h0M556.3 177.8h0M485.3 162.5h0M560.6 169.4h0M487.5 171.1h0M496.1 114.4h0M572.3 152.2h0M524.6 211.9h0M490.8 177.0h0M531.9 43.1h0M485.4 165.1h0M540.8 204.6h0M580.0 123.4h0M571.4 97.3h0M558.0 171.6h0M570.9 152.4h0M540.3 42.2h0M558.0 174.9h0M554.4 78.9h0M527.8 99.0h0M550.5 73.8h0M571.3 152.0h0M485.2 169.2h0M544.5 199.6h0M505.2 112.5h0M523.4 64.3h0M559.7 170.6h0M551.4 72.5h0M551.8 71.2h0M573.0 149.3h0M499.3 189.2h0M556.9 79.0h0M482.1 143.9h0M544.7 201.9h0M523.5 105.1h0M571.8 93.9h0M510.8 201.9h0M487.9 173.3h0M573.5 98.2h0M549.0 194.1h0M496.8 186.8h0M562.0 164.6h0M555.9 79.0h0M497.2 188.4h0M580.7 113.8h0M518.2 206.8h0M513.5 109.9h0M523.2 43.4h0M523.2 63.1h0M580.0 141.6h0M520.5 105.9h0M577.6 111.7h0M522.2 63.6h0M483.6 129.9h0M572.3 95.2h0M561.5 170.4h0M506.9 198.2h0M513.1 203.3h0M489.9 119.2h0M580.1 123.0h0M538.3 209.5h0M483.0 124.8h0M484.3 124.4h0M571.0 154.5h0M486.0 167.8h0M579.5 116.0h0M577.3 147.5h0M514.6 110.6h0M494.7 114.6h0M580.5 136.3h0M566.4 84.0h0M580.5 130.2h0M548.0 192.4h0M482.8 154.6h0M553.7 177.5h0M551.8 192.0h0M490.9 118.0h0M530.1 212.4h0M550.7 193.2h0M503.2 193.7h0M493.9 181.0h0M579.7 139.5h0M484.1 160.0h0M483.9 126.5h0M580.4 116.2h0M542.1 46.0h0M522.9 47.0h0M511.5 111.2h0M523.4 43.9h0M569.4 154.4h0M548.5 193.7h0M547.1 197.5h0M527.1 212.3h0M482.6 136.8h0M523.5 51.3h0M524.6 45.9h0M552.9 180.2h0M579.3 112.3h0M483.0 145.0h0M557.9 80.1h0M502.9 195.1h0M543.9 50.3h0M482.8 154.0h0M523.8 61.0h0M577.3 105.0h0M498.7 187.9h0M547.7 200.1h0M548.0 55.8h0M485.2 165.1h0M496.5 187.0h0M485.8 163.5h0M487.7 121.3h0M545.8 197.5h0M578.5 108.6h0M568.9 157.8h0M550.8 189.4h0M561.5 165.9h0M521.6 48.8h0M484.1 156.3h0M527.3 43.6h0M529.9 212.3h0M503.4 193.0h0M577.2 102.2h0M527.1 76.7h0M525.7 78.8h0M529.6 90.5h0M549.7 193.4h0M518.4 207.2h0M547.0 198.9h0M501.6 192.0h0M554.3 77.7h0M563.3 165.1h0M560.5 171.9h0M549.2 196.5h0M483.8 137.6h0M568.9 87.9h0M568.8 88.9h0M557.4 174.0h0M524.2 105.2h0M527.6 97.3h0M509.8 200.5h0M483.7 164.1h0M528.2 93.7h0M554.8 78.4h0M502.3 194.7h0M528.4 86.6h0M525.2 44.6h0M519.5 107.2h0M518.9 207.6h0M526.2 100.7h0M527.3 93.7h0M503.9 195.2h0M556.0 180.1h0M498.5 189.4h0M540.0 207.8h0M547.7 66.5h0M578.8 141.7h0M546.9 55.3h0M534.6 41.9h0M482.2 161.1h0M545.0 50.9h0M549.0 194.0h0M526.3 42.2h0M554.9 77.7h0M525.8 98.6h0M580.9 137.3h0M483.4 140.7h0M524.1 62.4h0M570.8 92.6h0M575.7 102.0h0M510.7 110.1h0M562.8 163.8h0M522.9 47.4h0M551.7 189.8h0M549.5 76.5h0M575.2 102.6h0M523.9 59.6h0M546.7 57.6h0M525.0 211.2h0M548.7 64.8h0M569.6 153.9h0M482.2 132.2h0M520.6 106.5h0M511.5 201.9h0M551.7 71.0h0M500.5 191.5h0M541.3 44.3h0M483.2 129.5h0M484.0 161.6h0M582.2 128.5h0M545.2 200.1h0M548.8 192.6h0M573.7 100.9h0M511.2 200.9h0M576.3 105.8h0M486.2 169.2h0M491.5 117.0h0M534.8 40.9h0M516.2 207.4h0M563.6 162.6h0M547.4 65.5h0M495.2 115.3h0M523.2 45.9h0M564.1 164.9h0M495.5 115.7h0M506.4 198.1h0M535.7 210.0h0M499.0 114.3h0M502.9 192.4h0M542.1 204.5h0M534.4 41.3h0M503.1 193.3h0M496.4 184.7h0M523.3 57.4h0M511.7 201.3h0M504.4 197.0h0M523.0 102.4h0M525.1 63.1h0M564.3 163.5h0M486.2 122.0h0M526.5 82.2h0M556.2 179.6h0M545.6 50.1h0M581.2 132.0h0M536.9 213.6h0M520.5 215.4h0M519.1 104.6h0M484.9 176.7h0M569.7 84.2h0M562.7 175.7h0M478.0 139.4h0M483.7 164.5h0M478.2 127.3h0M518.7 54.7h0M548.7 57.5h0M536.9 38.8h0M547.3 208.9h0M544.0 205.9h0M514.8 106.2h0M521.6 49.9h0M577.9 147.5h0M516.7 102.2h0M521.7 97.9h0M519.2 97.7h0M576.1 92.2h0M483.0 165.0h0M568.1 164.1h0M522.2 67.9h0M527.8 88.7h0M525.4 84.3h0M585.3 129.8h0M522.4 72.7h0M521.4 102.8h0M502.5 198.3h0M502.5 108.9h0M524.8 95.8h0M559.3 76.4h0M530.4 223.7h0M589.4 132.4h0M553.1 63.2h0M479.8 144.1h0M519.0 58.4h0M574.3 84.7h0M521.1 59.5h0M478.3 148.4h0M516.1 107.4h0M578.4 100.3h0M584.0 128.6h0M584.1 121.0h0M578.0 98.0h0M520.9 103.0h0M535.1 38.5h0M556.2 181.2h0M502.4 200.7h0M585.3 139.2h0M493.0 184.1h0M522.8 45.1h0M523.6 35.5h0M481.0 156.6h0M485.4 169.7h0M506.5 110.5h0M554.5 55.7h0M551.0 194.9h0M582.4 118.8h0M510.5 206.2h0M501.0 200.3h0M522.5 44.1h0M498.9 106.0h0M480.2 141.3h0M483.9 120.8h0M565.3 80.0h0M583.1 124.2h0M485.3 179.3h0M513.4 106.3h0M524.7 92.8h0M582.5 137.7h0M497.9 189.7h0M503.3 196.9h0M517.5 213.6h0M579.3 150.2h0M478.7 158.3h0M542.3 214.2h0M483.5 120.8h0M560.6 73.3h0M584.8 131.3h0M494.7 187.0h0M535.6 37.6h0M580.3 108.1h0M553.2 189.3h0M582.7 117.0h0M547.4 203.0h0M522.0 74.3h0M583.8 115.4h0M583.1 116.2h0M575.6 149.4h0M554.1 73.7h0M563.3 172.7h0M479.7 129.6h0M479.1 132.2h0M583.3 133.1h0M517.8 53.7h0M571.6 160.5h0M572.0 93.9h0M499.6 198.4h0M479.6 161.7h0M520.5 52.8h0M480.7 144.1h0M503.6 111.3h0M492.5 187.3h0M579.5 100.9h0M571.5 155.1h0M550.5 69.7h0M492.0 111.4h0M485.6 175.1h0M483.9 165.5h0M508.7 200.7h0M568.2 161.2h0M583.9 133.1h0M513.4 105.9h0M523.8 94.9h0M480.5 160.4h0M534.7 214.4h0M553.9 70.6h0M552.5 193.1h0M523.8 37.7h0M571.7 163.8h0M483.4 123.7h0M502.9 107.7h0M479.6 145.6h0M581.0 108.7h0M532.5 216.6h0M537.7 38.2h0M538.3 212.7h0M556.3 182.5h0M561.4 188.6h0M549.5 62.4h0M581.2 144.3h0M476.9 125.7h0M570.4 89.0h0M496.3 197.8h0M549.9 63.5h0M482.9 168.0h0M522.4 80.6h0M494.1 113.6h0M585.5 124.4h0M539.4 41.5h0M561.5 174.0h0M487.2 185.6h0M477.0 128.0h0M520.3 52.9h0M481.4 164.5h0M532.4 216.9h0M487.5 117.2h0M560.3 77.8h0M567.0 163.5h0M570.7 155.5h0M523.6 76.2h0M520.9 59.3h0M480.9 164.0h0M548.5 199.0h0M507.4 205.9h0M578.8 102.9h0M480.1 163.7h0M577.0 91.8h0M556.6 191.4h0M502.3 203.1h0M503.6 109.8h0M521.3 61.2h0M557.8 74.7h0M557.4 178.2h0M487.7 117.7h0M483.6 126.1h0M551.9 59.7h0M526.1 83.4h0M561.8 172.2h0M513.4 107.6h0M550.8 68.0h0M571.8 86.5h0M486.8 178.8h0M499.9 199.1h0M528.5 215.5h0M521.3 44.2h0M504.4 109.5h0M479.1 155.3h0M527.4 36.0h0M525.6 42.1h0M560.8 178.2h0M507.4 203.6h0M513.8 210.1h0M519.5 74.6h0M572.3 160.7h0M508.5 107.7h0M570.7 83.6h0M481.7 133.1h0M569.2 160.1h0M560.1 173.7h0M572.5 153.7h0M571.2 86.6h0M583.3 105.2h0M499.2 192.7h0M578.8 158.8h0M548.5 52.4h0M577.8 96.1h0M493.8 192.9h0M505.8 109.1h0M520.8 49.6h0M582.3 121.5h0M486.7 117.7h0M581.6 107.0h0M545.0 210.5h0M540.4 211.7h0M477.7 128.9h0M504.5 111.0h0M513.7 103.8h0M563.8 168.8h0M578.6 96.8h0M480.6 132.1h0M500.3 193.1h0" stroke="#ffc0cb" stroke-width="2.40" stroke-linecap="round" fill="none"/>
<path d="M577.3 89.2h0M578.2 96.1h0M572.8 79.2h0M580.2 99.4h0M593.3 95.8h0M574.0 83.4h0M588.3 93.4h0M580.6 88.3h0M576.5 91.9h0M593.1 98.6h0M584.4 101.9h0M591.9 101.1h0M585.8 92.4h0M590.2 100.5h0M580.5 100.3h0M584.6 108.4h0M581.9 103.8h0M583.4 108.2h0M578.2 89.2h0M598.1 98.3h0M599.3 99.8h0M577.9 89.6h0M583.0 101.3h0M598.4 105.9h0M588.7 106.1h0M587.8 99.9h0M578.7 94.2h0M574.5 86.6h0M575.8 90.2h0M580.3 90.8h0M590.3 110.0h0M580.5 89.0h0M581.0 100.1h0M598.1 96.5h0M578.3 82.4h0M597.2 96.9h0M589.3 104.7h0M594.7 108.1h0M599.2 102.0h0M598.8 105.0h0M591.5 111.0h0M576.8 93.2h0M589.7 92.2h0M600.9 100.8h0M586.9 95.0h0M597.4 101.0h0M591.7 99.7h0M590.5 109.5h0M576.5 85.9h0M591.5 104.4h0M579.8 90.5h0M575.0 85.9h0M596.8 93.3h0M588.1 95.1h0M579.0 92.5h0M587.0 96.3h0M585.5 91.7h0M593.7 98.5h0M583.9 90.2h0M584.8 95.7h0M582.6 92.8h0M599.1 99.8h0M576.2 91.3h0M590.1 100.7h0M582.5 92.8h0M584.4 105.2h0M593.0 93.5h0M584.7 94.0h0M579.9 95.6h0M591.9 106.3h0M584.4 106.9h0M579.8 92.1h0M579.6 99.9h0M594.1 107.2h0M600.5 100.4h0M590.4 97.3h0M593.8 96.9h0M583.4 92.4h0M591.1 106.2h0M584.3 97.5h0M587.7 92.5h0M588.0 109.8h0M576.2 86.7h0M574.6 86.7h0M573.5 78.5h0M587.0 94.2h0M580.2 92.9h0M587.0 98.3h0M584.6 109.7h0M582.4 101.9h0" stroke="#ffc0cb" stroke-width="2.40" stroke-linecap="round" fill="none"/>
<path d="M519.4 162.6h0M520.6 164.5h0M511.9 169.2h0M512.0 161.7h0M526.5 165.6h0M519.4 154.6h0M508.7 158.5h0M515.7 171.0h0M515.1 159.7h0M522.5 159.4h0M509.3 164.8h0M515.3 167.5h0M523.2 161.1h0M521.5 155.4h0M521.5 161.7h0M522.6 155.2h0M518.7 164.5h0M508.1 169.5h0M505.8 163.7h0M514.5 165.2h0M517.2 156.0h0M514.4 164.2h0M520.7 170.0h0M518.8 165.1h0M523.4 162.6h0M524.8 160.5h0M523.1 158.6h0M516.5 155.1h0M517.2 170.4h0M513.2 168.5h0M520.9 161.1h0M510.8 161.8h0M517.4 159.2h0M517.1 169.5h0M517.1 163.9h0M515.3 162.3h0M524.6 157.5h0M509.8 154.7h0M514.8 166.4h0M520.6 166.9h0M503.3 180.1h0M495.9 176.6h0M503.9 178.8h0M502.9 185.0h0M506.3 184.5h0M506.4 182.7h0M496.4 177.4h0M496.6 174.9h0M497.9 176.6h0M501.0 183.6h0M501.1 174.4h0M501.7 181.7h0M497.9 180.3h0M501.7 182.1h0M557.7 77.0h0M555.6 69.8h0M550.9 66.2h0M567.9 90.8h0M552.9 70.1h0M560.8 74.8h0M548.6 60.0h0M568.9 85.7h0M565.4 88.5h0M547.1 57.3h0M567.4 84.2h0M548.1 62.5h0M566.8 82.8h0M565.8 86.5h0M548.0 62.4h0M566.8 88.5h0M563.0 74.8h0M560.5 78.3h0M556.2 75.2h0M550.6 61.2h0M571.7 92.4h0M566.2 83.3h0" stroke="#fff" stroke-width="2.20" stroke-linecap="round" fill="none"/>
<path d="M548.6 47.4h0M540.2 36.3h0M547.2 41.9h0M543.0 36.6h0M549.5 45.1h0M544.7 42.6h0M543.7 40.9h0M545.5 33.9h0M547.3 35.0h0M540.3 37.5h0M544.7 40.0h0M537.1 35.5h0M542.8 33.3h0M544.8 34.6h0M542.1 46.1h0M541.1 31.2h0M536.2 39.9h0M545.2 31.8h0M540.7 47.3h0M538.7 47.0h0M539.6 53.0h0M541.7 37.2h0M541.9 40.4h0M547.8 39.6h0M536.4 45.7h0M543.7 45.9h0M540.4 54.7h0M541.0 50.6h0M547.1 33.6h0M537.7 33.7h0M542.3 50.6h0M541.0 51.4h0M538.3 43.6h0M538.5 34.9h0M541.1 54.5h0M548.7 44.2h0M539.1 42.2h0M543.9 41.6h0M544.7 32.9h0M543.7 51.6h0M542.7 47.9h0M547.8 42.3h0M543.4 38.2h0M546.7 50.2h0M547.5 35.3h0" stroke="#fff" stroke-width="2.00" stroke-linecap="round" fill="none"/>
<path d="M538.6 52.7h0M545.5 57.9h0M532.8 41.6h0M542.2 38.1h0M537.2 42.9h0M539.8 42.1h0M541.6 42.5h0M549.1 46.7h0M539.8 40.6h0M539.2 37.2h0M542.3 30.7h0M529.3 37.4h0M542.8 49.1h0M545.5 50.6h0M544.7 49.7h0M535.8 43.6h0M545.8 49.9h0M543.0 28.8h0M533.1 43.4h0M534.2 42.0h0M539.1 51.8h0M540.4 35.0h0M541.7 49.7h0M541.0 31.0h0M544.4 55.2h0M541.5 55.7h0M546.0 33.5h0M542.9 37.6h0M539.2 43.1h0M548.7 37.4h0M533.7 44.1h0M534.9 35.7h0M546.8 47.2h0M533.2 32.7h0M543.7 30.8h0M547.3 50.0h0M543.7 56.5h0M539.0 50.6h0M536.2 28.8h0M545.1 38.0h0M546.7 48.6h0M542.6 54.7h0M547.9 50.0h0M546.0 56.1h0M537.8 36.0h0M548.0 57.1h0M537.9 45.9h0M538.2 31.3h0M533.3 40.7h0M541.5 35.6h0M540.4 44.4h0M539.6 53.9h0M539.9 45.1h0M537.1 47.6h0M537.1 36.5h0" stroke="#ffa500" stroke-width="2.40" stroke-linecap="round" fill="none"/>
<path d="M577.5 147.0L578.4 146.9L579.5 147.1L580.7 147.5L582.2 148.2L583.7 149.0L585.3 149.9L586.9 150.8L588.2 151.5L589.5 152.3L590.8 153.2L592.1 154.1L593.4 155.1L594.8 156.1L596.1 157.1L597.4 158.1L598.7 159.2L600.0 160.1L601.2 161.1L602.5 162.1L603.7 163.2L604.9 164.2L606.1 165.2L607.2 166.3L608.4 167.4L609.6 168.5L610.8 169.7L612.1 171.0L613.5 172.2L614.8 173.5L616.0 174.7L617.1 175.9L617.8 177.0L618.3 177.9L618.4 178.6L618.3 179.2L618.0 179.9L617.4 180.7L616.6 181.6L615.5 182.6L614.3 183.7L612.9 184.7L611.5 185.9L610.1 187.0L609.1 187.9L608.0 188.7L606.8 189.5L605.5 190.4L604.1 191.2L602.7 192.1L601.3 193.0L599.8 193.9L598.4 194.9L597.1 195.8L595.8 196.9L594.6 197.9L593.5 199.0L592.3 200.4L591.3 201.9L590.4 203.4L589.6 204.9L589.0 206.4L588.4 207.9L587.8 209.3L587.2 210.8L586.7 212.3L586.1 213.7L585.5 215.3L585.0 216.9L584.5 218.4L584.1 220.0L583.7 221.6L583.2 223.1L582.8 224.6L582.2 226.0L581.5 227.5L580.9 228.6L580.2 229.8L579.4 231.0L578.5 232.2L577.6 233.4L576.7 234.6L575.7 235.9L574.8 237.2L573.9 238.6L573.0 240.0L572.2 241.4L571.4 242.9L570.7 244.4L570.0 245.9L569.3 247.5L568.7 249.0L568.1 250.6L567.5 252.1L566.9 253.6L566.3 255.1L565.7 256.6L565.1 258.0L564.4 259.5L563.7 261.0L563.1 262.5L562.4 264.0L561.7 265.5L561.1 266.9L560.4 268.2L559.8 269.4L559.1 270.5L558.4 271.5L557.3 272.8L556.0 274.0L554.8 275.1L553.5 276.0L552.3 276.8L551.2 277.4L550.1 277.8L548.6 278.2L547.1 278.4L545.7 278.4L544.9 278.0L544.8 277.4L545.1 277.2L545.2 276.6L545.5 275.6L546.0 274.2L546.6 272.6L547.2 271.0L547.9 269.2L548.6 267.5L549.3 265.8L549.9 264.2L550.5 262.7L551.1 261.3L551.7 259.8L552.3 258.4L553.0 256.9L553.6 255.4L554.3 253.9L555.0 252.3L555.6 250.8L556.3 249.3L556.9 247.9L557.6 246.4L558.2 245.0L558.9 243.6L559.5 242.1L560.2 240.7L560.9 239.3L561.5 237.8L562.2 236.3L562.8 234.7L563.4 233.1L564.0 231.4L564.4 230.0L564.9 228.5L565.3 227.1L565.7 225.6L566.1 224.0L566.6 222.5L566.9 220.9L567.3 219.3L567.7 217.7L568.0 216.2L568.3 214.6L568.6 213.0L568.9 211.5L569.1 210.0L569.3 208.4L569.4 206.8L569.5 205.2L569.6 203.7L569.7 202.1L569.7 200.6L569.7 199.0L569.7 197.5L569.7 196.0L569.7 194.5L569.7 193.0L569.6 191.5L569.6 189.9L569.6 188.4L569.5 186.8L569.4 185.2L569.2 183.5L569.1 181.9L569.0 180.3L568.8 178.8L568.7 177.2L568.6 175.7L568.6 174.2L568.5 172.8L568.5 171.5L568.6 170.1L568.7 168.5L568.9 166.9L569.2 165.3L569.5 163.8L569.8 162.4L570.2 161.0L570.6 159.6L571.0 158.3L571.4 157.0L571.9 155.8L572.6 154.3L573.3 152.8L574.0 151.3L574.8 150.0L575.6 148.8L576.3 148.0L576.9 147.4Z" fill="#800080"/>
<path d="M567.1 220.7h0M565.1 256.7h0M564.6 259.2h0M564.6 228.8h0M617.4 180.4h0M578.6 234.5h0M569.8 205.1h0M583.7 222.9h0M548.2 279.3h0M577.1 235.6h0M566.4 225.5h0M583.8 221.7h0M618.2 184.2h0M544.7 272.1h0M583.5 149.7h0M588.3 211.2h0M568.7 178.8h0M563.8 227.6h0M561.8 235.4h0M589.3 209.7h0M589.8 206.1h0M570.0 162.9h0M614.6 184.8h0M588.0 149.8h0M599.7 158.7h0M567.2 255.6h0M567.1 214.5h0M597.5 197.0h0M562.7 232.7h0M567.1 226.0h0M549.6 265.2h0M590.7 153.9h0M567.8 173.7h0M571.3 156.2h0M616.5 179.6h0M586.5 210.9h0M553.8 253.6h0M618.0 178.7h0M551.0 259.1h0M618.2 177.9h0M580.1 147.1h0M585.5 216.8h0M620.4 177.4h0M549.3 278.3h0M598.3 196.0h0M599.9 194.6h0M575.4 234.9h0M573.1 244.6h0M568.4 212.7h0M554.8 248.4h0M568.0 251.6h0M577.8 147.4h0M545.9 277.4h0M569.8 202.1h0M553.6 251.2h0M570.1 203.2h0M586.0 212.8h0M604.9 164.6h0M560.7 270.6h0M545.3 273.8h0M586.3 221.6h0M611.6 170.0h0M546.9 270.8h0M568.1 211.9h0M598.3 160.8h0M587.4 208.3h0M567.9 177.9h0M564.0 261.0h0M568.9 249.7h0M562.2 235.2h0M569.1 208.1h0M565.0 228.9h0M584.3 148.6h0M600.1 160.9h0M566.4 223.5h0M594.4 154.6h0M568.1 251.0h0M563.0 231.3h0M568.7 189.8h0M588.5 208.1h0M564.3 225.7h0M604.3 192.8h0M566.8 215.1h0M548.3 279.2h0M606.8 191.2h0M617.7 176.4h0M556.9 272.1h0M600.7 197.6h0M568.7 186.1h0M551.1 260.5h0M605.6 162.4h0M570.4 193.1h0M560.0 239.3h0M587.0 213.3h0M616.8 181.5h0M560.1 236.9h0M614.7 174.9h0M589.8 201.9h0M561.4 236.0h0M588.2 209.3h0M559.4 237.4h0M593.3 155.2h0M612.7 184.2h0M582.9 230.0h0M567.3 248.5h0M589.0 150.8h0M551.9 276.7h0M570.7 187.3h0M570.9 245.4h0M586.8 150.1h0M567.3 169.2h0M569.4 166.0h0M568.7 170.8h0M585.0 218.9h0M567.6 195.7h0M568.8 250.5h0M584.0 224.1h0M561.3 262.1h0M570.3 194.0h0M568.3 220.6h0M568.7 248.8h0M572.1 246.2h0M566.5 219.2h0M578.1 144.6h0M570.5 211.2h0M603.6 160.7h0M566.4 169.4h0M574.0 237.5h0M564.8 229.4h0M568.8 252.2h0M620.3 178.6h0M570.7 250.2h0M574.4 151.4h0M552.4 256.9h0M568.0 191.1h0M613.4 184.5h0M578.2 147.6h0M574.7 148.5h0M544.5 275.4h0M565.5 230.6h0M561.3 267.8h0M565.5 227.3h0M568.4 164.4h0M609.5 166.5h0M574.7 239.1h0M560.8 267.5h0M576.8 236.3h0M546.7 271.5h0M568.5 252.8h0M613.6 185.7h0M548.6 269.0h0M568.0 181.5h0M569.3 218.1h0M571.5 153.7h0M595.3 156.0h0M560.6 267.8h0M567.0 255.8h0M565.0 228.3h0M611.6 187.6h0M567.3 206.0h0M547.3 274.1h0M567.8 170.9h0M597.2 157.9h0M604.0 192.2h0M566.0 257.0h0M578.6 231.2h0M561.9 240.1h0M601.4 193.6h0M605.2 190.9h0M568.6 198.9h0M560.1 242.4h0M564.2 259.6h0M579.2 146.4h0M588.8 208.3h0M549.3 260.3h0M544.3 274.9h0M570.1 190.7h0M548.5 279.5h0M571.7 155.7h0M561.5 236.3h0M568.8 251.4h0M591.6 202.5h0M569.4 166.4h0M552.4 275.9h0M579.9 231.0h0M564.9 255.9h0M554.2 253.5h0M569.9 186.9h0M563.7 257.7h0M618.0 173.5h0M596.4 196.7h0M572.1 153.3h0M564.0 226.1h0M568.5 248.6h0M547.1 277.8h0M605.4 189.8h0M582.6 147.8h0M569.5 251.3h0M569.6 156.4h0M561.9 267.6h0M554.0 253.0h0M613.5 184.4h0M566.4 225.7h0M603.6 193.2h0M577.3 146.9h0M591.8 203.2h0M552.8 277.0h0M570.1 208.4h0M569.6 205.5h0M568.0 174.2h0M576.1 234.2h0M557.4 243.7h0M606.4 190.0h0M559.7 272.2h0M568.9 198.7h0M599.9 160.2h0M615.9 174.6h0M567.4 164.3h0M545.6 276.3h0M580.1 146.5h0M607.3 166.2h0M572.7 159.5h0M562.7 237.4h0M552.2 276.0h0M577.6 234.8h0M591.0 210.3h0M554.2 253.7h0M569.3 249.4h0M549.7 278.4h0M546.0 266.2h0M582.4 222.3h0M598.3 158.3h0M559.4 240.6h0M584.9 150.3h0M567.1 254.3h0M569.6 185.1h0M570.5 181.4h0M544.8 278.7h0M593.7 155.3h0M591.5 205.7h0M571.1 246.5h0M564.4 230.1h0M570.4 177.3h0M590.3 151.8h0M614.1 174.6h0M573.0 242.8h0M553.3 258.0h0M572.2 236.6h0M592.0 153.1h0M570.6 195.5h0M568.4 199.2h0M556.8 246.7h0M574.5 240.4h0M564.2 261.4h0M568.1 209.0h0M570.4 251.2h0M569.4 201.8h0M569.0 180.1h0M569.1 180.1h0M569.6 187.4h0M569.6 165.4h0M560.0 241.8h0M577.9 234.6h0M569.8 206.7h0M598.9 195.6h0M593.9 200.1h0M549.8 261.8h0M587.1 149.9h0M577.4 144.8h0M576.3 144.1h0M573.8 150.5h0M608.3 190.4h0M544.9 273.8h0M611.2 168.2h0M567.3 252.3h0M579.2 234.6h0M572.5 153.2h0M594.4 198.6h0M600.1 194.7h0M551.8 261.3h0M568.9 199.5h0M614.2 171.7h0M612.0 185.8h0M551.7 263.9h0M554.4 255.5h0M566.9 175.1h0M546.1 276.0h0M615.3 173.0h0M619.1 176.5h0M563.9 231.7h0M563.4 228.1h0M564.0 233.5h0M615.1 182.7h0M568.3 167.3h0M546.4 278.6h0M556.2 251.8h0M570.6 155.7h0M551.3 279.0h0M569.0 188.5h0M601.5 157.6h0M572.5 157.8h0M611.3 169.6h0M579.4 235.0h0M566.7 219.3h0M610.2 168.7h0M601.2 159.3h0M611.8 185.1h0M616.4 173.3h0M566.3 252.7h0M592.3 202.2h0M548.9 277.4h0M562.7 234.5h0M605.7 192.4h0M568.2 205.7h0M608.2 190.2h0M570.1 157.3h0M545.0 270.2h0M553.6 252.5h0M576.6 233.9h0M566.1 171.4h0M567.4 255.5h0M564.5 226.3h0M568.5 212.9h0M571.4 204.1h0M581.0 233.0h0M569.0 171.5h0M568.5 202.4h0M617.4 176.7h0M605.6 164.9h0M553.2 257.3h0M573.2 237.7h0M589.0 206.7h0M568.4 164.6h0M572.7 159.2h0M585.4 213.9h0M561.8 270.0h0M568.8 199.9h0M569.1 199.8h0M549.5 271.2h0M557.9 244.1h0M556.5 276.1h0M599.6 195.5h0M598.2 195.9h0M569.5 188.6h0M569.3 195.6h0M549.3 277.6h0M571.0 188.3h0M578.8 146.1h0M612.4 186.6h0M589.5 150.7h0M574.6 236.6h0M544.6 274.2h0M571.7 161.6h0M569.2 186.6h0M550.9 262.5h0M590.4 203.6h0M585.7 150.2h0M568.1 179.2h0M571.0 192.2h0M566.8 252.6h0M553.0 278.6h0M586.4 212.6h0M568.0 177.5h0M568.1 252.1h0M565.0 258.1h0M568.4 181.2h0M605.3 189.6h0M568.2 216.5h0M568.8 181.6h0M574.7 148.1h0M603.1 190.7h0M560.6 239.9h0M554.7 252.0h0M569.3 188.0h0M569.2 183.3h0M556.9 269.5h0M557.2 272.4h0M588.1 212.2h0M552.0 262.4h0M578.5 146.1h0M568.8 207.5h0M616.5 177.4h0M575.1 146.1h0M605.0 163.4h0M559.0 239.4h0M565.9 258.3h0M613.6 183.6h0M568.0 176.1h0M550.5 260.2h0M584.8 217.6h0M619.1 181.8h0M605.8 163.7h0M566.9 221.0h0M553.4 255.6h0M581.8 231.0h0M614.3 172.2h0M569.1 163.7h0M568.8 200.3h0M562.3 261.0h0M546.4 273.6h0M586.7 149.5h0M609.9 166.9h0M575.3 236.4h0M554.7 251.8h0M574.9 150.2h0M614.7 171.4h0M592.3 203.0h0M571.5 194.2h0M560.9 267.7h0M570.9 159.3h0M618.1 181.2h0M561.5 237.5h0M572.0 156.2h0M547.5 275.0h0M570.4 201.6h0M574.7 150.8h0M577.2 147.1h0M574.5 235.7h0M569.3 187.6h0M574.7 236.8h0M571.6 152.4h0M552.5 252.9h0M608.8 166.6h0M619.8 179.4h0M571.4 157.9h0M585.3 221.9h0M584.0 221.4h0M559.5 271.6h0M573.5 151.3h0M574.7 152.1h0M617.4 176.1h0M556.7 270.8h0M602.3 162.6h0M618.5 180.5h0M592.3 152.7h0M568.4 196.5h0M593.8 196.4h0M569.3 196.7h0M594.5 156.8h0M568.8 214.9h0M614.4 173.8h0M566.7 251.1h0M603.6 163.3h0M597.0 196.7h0M571.4 195.7h0M575.8 237.4h0M604.2 191.8h0M616.5 176.1h0M562.8 261.5h0M579.8 147.0h0M543.7 275.9h0M567.7 169.6h0M573.4 238.1h0M560.4 265.9h0M575.5 151.1h0M573.0 155.7h0M576.4 148.6h0M586.4 149.5h0M565.6 219.3h0M612.7 173.6h0M582.1 226.4h0M581.8 146.6h0M573.9 240.2h0M600.4 193.8h0M596.5 196.7h0M550.1 279.0h0M553.4 254.7h0M557.4 270.7h0M554.9 274.9h0M618.5 179.0h0M560.2 265.7h0M588.0 211.7h0M615.6 173.3h0M607.3 166.7h0M568.3 204.9h0M597.8 157.0h0M572.0 141.8h0M574.3 247.9h0M599.2 150.1h0M565.2 171.6h0M579.2 234.1h0M592.0 207.3h0M594.3 204.5h0M564.7 271.6h0M562.8 272.3h0M572.7 251.1h0M581.7 235.8h0M614.6 168.5h0M561.7 169.5h0M585.5 141.8h0M592.5 211.9h0M561.8 213.2h0M588.0 215.6h0M617.0 188.4h0M567.2 154.6h0M557.7 164.0h0M563.2 223.0h0M558.1 175.3h0M563.7 273.1h0M543.5 270.8h0M558.7 230.1h0M565.7 215.4h0M619.3 186.6h0M607.8 192.1h0M591.0 146.2h0M573.7 246.2h0M595.5 210.8h0M572.1 246.1h0M559.4 160.8h0M617.6 185.6h0M594.8 144.4h0M610.5 193.9h0M555.3 283.4h0M576.8 261.7h0M587.7 222.7h0M600.1 203.5h0M561.6 233.3h0M561.6 173.1h0M591.9 208.4h0M575.0 240.1h0M589.5 211.8h0M598.4 149.3h0M599.9 199.4h0M616.7 186.0h0M555.8 232.3h0M560.1 276.4h0M596.4 154.8h0M541.3 268.8h0M589.7 211.6h0M561.2 215.3h0M592.6 148.4h0M568.8 260.0h0M614.0 168.5h0M621.6 179.0h0M562.6 224.6h0M591.3 218.7h0M573.5 252.1h0M556.1 237.8h0M595.1 202.4h0M576.8 245.1h0M601.5 156.5h0M603.2 144.2h0M564.2 216.4h0M552.4 279.8h0M556.0 281.7h0M564.0 187.8h0M612.9 188.8h0M605.0 160.9h0M563.6 169.3h0M599.5 205.1h0M601.1 157.9h0M555.5 247.0h0M597.2 207.2h0M620.4 184.4h0M564.5 216.5h0M557.9 232.8h0M552.4 282.8h0M567.0 187.1h0M568.3 193.8h0M563.7 180.2h0M567.6 158.8h0M550.0 242.0h0M590.6 212.0h0M549.8 244.4h0M563.2 270.4h0M605.1 157.1h0M559.0 234.6h0M551.6 280.6h0M553.0 235.6h0M547.0 285.1h0M566.2 176.6h0M574.0 147.2h0M553.6 279.1h0M561.6 186.3h0M549.4 240.9h0M545.4 258.3h0M589.4 216.4h0M566.3 263.4h0M614.7 191.5h0M567.4 203.5h0M621.3 177.1h0M582.5 144.9h0M549.1 281.8h0M611.6 189.4h0M558.2 283.6h0M541.4 239.8h0M565.7 146.8h0M544.1 272.2h0M537.4 250.6h0M599.1 151.7h0M561.9 275.4h0M554.5 247.8h0M554.8 169.5h0M611.7 196.1h0M592.5 205.7h0M600.6 202.0h0M555.1 247.6h0M566.0 212.5h0M550.5 257.9h0M597.2 199.6h0M576.0 138.0h0M615.9 169.0h0M566.7 154.1h0M596.4 152.0h0M568.7 156.7h0M592.2 148.4h0M565.3 170.2h0M562.6 190.8h0M584.6 226.9h0M596.3 204.4h0M583.2 145.5h0M564.3 175.6h0M566.0 160.4h0M565.5 180.3h0M578.9 254.5h0M566.4 188.2h0M562.6 228.6h0M588.6 218.1h0M576.0 253.5h0M565.0 202.7h0M555.0 278.9h0M591.8 236.5h0M556.4 248.2h0M591.7 209.9h0M577.5 244.8h0M555.6 247.0h0M620.5 176.6h0M565.1 270.7h0M565.7 186.9h0M580.8 234.3h0M585.8 147.6h0M565.7 189.8h0M567.8 201.2h0M572.9 271.0h0M562.1 174.9h0M609.1 159.6h0M599.4 202.5h0M563.9 269.6h0M585.3 223.6h0M542.9 274.4h0M560.8 228.7h0M571.7 149.5h0M587.4 227.6h0M564.7 181.8h0M547.8 264.2h0M558.5 204.9h0M582.4 142.5h0M558.3 224.6h0M556.6 236.1h0" stroke="#800080" stroke-width="2.40" stroke-linecap="round" fill="none"/>
<path d="M537.7 205.0h0M557.6 208.1h0M560.7 217.1h0M548.0 251.0h0M535.1 252.3h0M541.4 189.5h0M545.2 248.9h0M531.0 251.1h0M554.2 200.4h0M558.9 218.1h0M562.7 202.8h0M545.3 249.2h0M537.9 218.7h0M535.0 261.6h0M539.4 219.9h0M552.8 235.1h0M540.0 221.2h0M557.0 237.8h0M540.9 226.1h0M559.9 185.1h0M556.3 211.1h0M557.6 190.8h0M539.2 262.8h0M536.9 264.3h0M551.1 240.3h0M545.4 255.3h0M563.8 210.8h0M556.1 250.9h0M547.6 196.5h0M556.0 202.6h0M558.7 245.5h0M544.4 231.9h0M552.2 224.1h0M554.2 253.8h0M543.5 236.7h0M543.9 269.2h0M531.3 246.2h0M543.5 204.5h0M535.8 257.5h0M543.5 195.4h0M566.1 186.9h0M537.3 258.4h0M555.8 227.5h0M531.9 241.9h0M549.5 201.7h0" stroke="#800080" stroke-width="2.40" stroke-linecap="round" fill="none"/>
<path d="M598.9 137.3h0M616.7 161.0h0M589.4 148.1h0M589.8 130.9h0M620.6 166.9h0M594.8 146.6h0M614.4 164.9h0M620.6 162.6h0M624.3 175.1h0M593.3 142.2h0M593.8 145.7h0M583.7 140.4h0M608.4 161.3h0M602.4 155.6h0M608.3 155.2h0M621.7 175.8h0M609.5 153.8h0M589.8 136.2h0M592.7 141.6h0M591.6 145.7h0M623.5 172.2h0M589.8 138.7h0M593.4 140.5h0M616.8 165.0h0M588.6 144.4h0M599.0 145.9h0M607.9 163.4h0M607.1 157.0h0M599.3 137.0h0M602.0 152.5h0M596.7 145.0h0M626.3 174.5h0M612.7 161.1h0M585.7 134.8h0M618.4 161.5h0M598.5 152.1h0M613.1 162.6h0M587.4 133.1h0M591.3 141.8h0M584.2 137.8h0M594.0 136.8h0M623.7 171.1h0M621.3 173.8h0M612.8 157.6h0M584.9 132.3h0M584.5 135.3h0M608.2 152.6h0M586.9 145.3h0M608.1 153.6h0M586.9 138.8h0M584.4 138.6h0M591.9 135.7h0M621.1 169.9h0M621.0 163.2h0M600.7 137.4h0M617.4 159.1h0M596.8 147.5h0M584.6 130.7h0M619.2 163.0h0M587.8 134.8h0M596.4 143.7h0M618.0 163.2h0M601.3 144.2h0M599.3 157.8h0M609.5 152.1h0M587.5 133.9h0M612.4 152.3h0M609.1 151.4h0M584.0 137.4h0M593.0 134.3h0M607.5 145.6h0M588.9 137.2h0M601.0 153.2h0M621.5 160.6h0M620.7 165.8h0M619.7 174.2h0M594.8 146.8h0M612.0 161.8h0M602.6 146.1h0M595.4 153.4h0M596.3 133.0h0M617.2 168.5h0M605.9 148.6h0M602.1 141.0h0M584.3 140.8h0M609.2 156.8h0M596.3 138.2h0M591.3 147.6h0M595.9 133.9h0M613.3 154.0h0M596.2 138.3h0M601.7 154.7h0M613.9 162.5h0M602.5 148.9h0M610.5 162.4h0M603.3 149.1h0M600.9 143.2h0M590.4 141.8h0M596.8 148.4h0M611.6 160.7h0M605.9 153.4h0M593.8 141.9h0M609.6 164.3h0M591.1 133.2h0M606.4 152.4h0M594.4 138.0h0M587.3 147.0h0M622.3 170.9h0M600.4 141.2h0M611.6 162.0h0M594.2 139.0h0M590.6 132.9h0M606.7 161.3h0M603.2 139.3h0M594.3 148.2h0M615.3 155.5h0M581.7 139.2h0M620.7 169.2h0M622.7 175.5h0M612.9 154.9h0M594.1 145.0h0M593.9 137.4h0M607.8 152.4h0M587.8 146.7h0M596.7 141.7h0M618.9 165.6h0M587.8 135.3h0M622.2 163.7h0M603.4 152.0h0M616.7 166.3h0M582.7 134.6h0M607.2 150.3h0M584.7 136.7h0M607.3 161.3h0M587.0 130.6h0M618.9 164.1h0M599.0 155.8h0M595.6 134.4h0M600.3 152.2h0M615.9 155.6h0M599.3 144.4h0M606.7 149.6h0M590.3 140.5h0M602.2 150.8h0M594.9 144.8h0M607.3 153.1h0M590.2 141.9h0M598.0 148.9h0M587.7 134.7h0M585.3 142.2h0M605.1 144.2h0M594.7 143.9h0M612.8 161.2h0M598.3 136.9h0M624.4 175.7h0M613.6 155.1h0M607.2 144.7h0M605.6 156.8h0M616.4 171.0h0M611.1 153.1h0M612.9 163.4h0M610.2 148.1h0M597.0 135.4h0M614.4 156.0h0M619.8 164.0h0M619.2 170.1h0M600.3 151.1h0M589.7 143.7h0M601.8 154.2h0M611.0 158.4h0M602.1 151.0h0M613.4 151.8h0M620.8 172.7h0M593.9 145.3h0M605.4 142.3h0M600.9 155.7h0M586.1 132.6h0M581.5 134.0h0M592.7 141.6h0M594.3 133.1h0M620.8 172.9h0M595.7 138.5h0M591.7 142.1h0M604.1 142.4h0M608.5 164.9h0M621.2 176.8h0M623.6 175.3h0M614.2 161.8h0M621.0 174.4h0M611.3 162.8h0M584.7 132.5h0M598.3 153.0h0M607.4 155.5h0M620.7 167.4h0M606.2 152.8h0M611.1 153.7h0M609.6 161.8h0M595.0 148.4h0M617.9 162.1h0M616.8 156.6h0M592.8 149.2h0M608.3 160.6h0M585.1 132.6h0M590.0 146.1h0M611.8 150.9h0M600.8 146.9h0M597.4 152.8h0M607.6 151.4h0M596.9 143.4h0M614.1 161.6h0M618.5 165.5h0M603.3 152.2h0M591.1 148.9h0M617.2 167.6h0M607.8 146.9h0M623.4 171.0h0M603.8 143.2h0M616.9 159.0h0M593.9 150.9h0M614.5 162.5h0M604.3 151.2h0M624.3 176.0h0M584.8 139.2h0M599.1 136.6h0M594.6 136.6h0M614.5 169.0h0M614.8 163.3h0M598.6 143.0h0M580.5 136.5h0M595.4 149.5h0M610.8 154.4h0M611.2 156.7h0M624.3 175.4h0M596.6 151.3h0M615.8 168.1h0M595.7 134.8h0M600.1 144.4h0M610.6 159.1h0M595.4 137.3h0M596.1 151.3h0M586.9 141.7h0M599.9 146.8h0M589.0 139.9h0M616.9 163.3h0M588.4 134.2h0M612.8 151.6h0M597.2 136.8h0M609.4 162.4h0M595.2 142.3h0M599.8 151.8h0M603.5 159.7h0M583.1 135.0h0M604.2 148.0h0M605.7 152.3h0M595.0 136.3h0M591.8 133.0h0M594.2 149.1h0M597.4 140.8h0M621.4 171.8h0M619.1 168.1h0M598.3 149.1h0M607.7 147.5h0M605.5 146.8h0M603.7 155.4h0M622.2 173.9h0M608.0 156.3h0M610.6 152.1h0M594.1 144.8h0M587.4 141.8h0M606.0 151.8h0M610.7 161.4h0M599.3 145.9h0M608.3 147.7h0M615.6 157.3h0M594.2 144.0h0M601.7 140.4h0M600.3 150.8h0M617.9 169.5h0M620.2 163.1h0M609.9 146.6h0M626.5 175.5h0M588.8 148.0h0M610.5 166.9h0M592.9 138.8h0M589.6 144.4h0M589.3 145.7h0M587.0 133.5h0M603.3 158.0h0M619.0 168.2h0M613.0 163.6h0M592.8 134.9h0M593.3 134.4h0M622.7 166.9h0M608.6 158.9h0M584.3 142.6h0M587.7 130.8h0M616.9 161.8h0M602.6 152.7h0M603.3 158.4h0M618.2 166.1h0M599.0 145.1h0M594.6 148.8h0M603.0 148.7h0M608.5 158.3h0M612.8 153.5h0M614.2 168.3h0M599.8 144.6h0M601.4 146.1h0M620.9 173.4h0M595.5 135.6h0M615.6 167.1h0M594.5 138.5h0M614.6 157.0h0M605.5 146.6h0M584.5 129.9h0M607.1 156.4h0M603.0 156.2h0M581.9 138.3h0M618.4 165.3h0M604.9 157.2h0M618.7 168.8h0M616.8 157.4h0M603.4 140.0h0M603.8 150.9h0M592.7 139.5h0M627.5 175.5h0M596.9 146.7h0M619.8 158.6h0M585.7 135.9h0M604.3 150.3h0" stroke="#808080" stroke-width="2.40" stroke-linecap="round" fill="none"/>
<path d="M574.8 184.7h0M578.8 175.2h0M580.0 194.2h0M576.9 189.0h0M592.9 182.5h0M600.9 189.4h0M571.2 176.0h0M570.1 193.7h0M564.8 182.6h0M584.3 176.4h0M577.4 190.6h0M589.8 172.9h0M598.4 186.2h0M580.5 180.2h0M569.3 178.7h0M567.8 180.7h0M590.6 183.1h0M599.2 176.2h0M577.1 189.1h0M592.5 185.4h0M571.1 180.5h0M585.0 185.0h0M583.1 173.7h0M588.4 181.9h0M597.6 181.9h0M592.7 180.5h0M574.6 190.0h0M594.6 193.3h0M585.9 181.2h0M572.4 188.7h0M593.0 188.0h0M582.3 193.8h0M571.3 182.1h0M578.5 193.0h0M569.6 193.1h0M595.5 176.2h0M576.1 176.3h0M576.1 189.2h0M571.5 176.6h0M581.8 194.1h0M567.3 175.9h0M571.8 183.2h0M575.8 185.4h0M575.8 177.8h0M583.7 190.8h0M588.4 173.7h0M587.5 177.0h0M583.9 175.5h0M600.2 185.1h0M597.6 175.8h0M582.8 183.5h0M579.9 181.5h0M574.0 194.3h0M573.7 191.9h0M566.1 187.0h0M569.0 179.8h0M572.7 192.2h0M575.5 180.6h0M566.4 183.3h0M586.4 180.9h0M591.3 187.4h0M564.0 183.2h0M576.2 175.8h0M599.0 188.9h0M589.1 173.3h0M574.3 180.2h0M594.4 187.0h0M589.6 192.2h0M571.2 187.1h0M583.7 175.5h0M579.4 179.3h0M589.2 187.1h0M591.1 194.3h0M596.6 184.3h0M581.4 187.1h0M603.5 186.9h0M567.3 176.7h0M601.0 179.9h0M566.7 188.7h0M580.3 190.5h0M595.5 190.8h0M576.4 185.0h0M604.4 180.8h0M600.3 183.5h0M586.2 182.9h0M575.8 175.0h0M602.6 182.2h0M585.5 182.2h0M593.0 175.6h0M595.5 174.6h0M581.3 159.7h0M608.3 172.5h0M594.9 172.9h0M593.2 171.3h0M587.0 153.6h0M581.9 162.4h0M595.0 169.5h0M580.5 158.3h0M586.9 159.0h0M595.8 158.4h0M581.2 160.5h0M583.0 159.0h0M578.1 162.5h0M604.6 166.9h0M592.3 156.9h0M578.3 157.1h0M587.7 160.5h0M596.4 166.0h0M597.6 161.8h0M580.6 151.5h0M588.0 168.8h0M579.3 154.5h0M594.3 156.1h0M598.1 159.4h0M589.4 174.8h0M576.8 156.5h0M577.0 158.9h0M579.5 163.6h0M595.9 164.1h0M590.3 154.3h0M611.2 173.6h0M609.5 173.0h0M575.7 152.5h0M594.1 168.5h0M578.4 158.2h0M585.1 169.1h0M610.6 172.0h0M580.3 166.4h0M583.4 155.1h0M602.3 171.3h0" stroke="#808080" stroke-width="2.40" stroke-linecap="round" fill="none"/>
<path d="M484.2 124.4h0M511.8 140.7h0M533.4 96.7h0M559.8 135.5h0M538.9 44.8h0M512.2 182.9h0M532.7 177.6h0M506.4 132.9h0M557.9 157.4h0M524.7 173.5h0M515.7 157.9h0M508.5 152.1h0M577.8 113.3h0M537.7 146.4h0M539.2 71.5h0M517.3 130.6h0M561.1 168.6h0M535.6 211.5h0" stroke="#808080" stroke-width="2.40" stroke-linecap="round" fill="none"/>
<path d="M595.1 52.9h0M572.8 54.7h0M576.1 57.7h0M601.0 57.8h0M593.2 60.8h0M572.1 56.1h0M588.9 38.1h0M584.3 77.0h0M588.3 84.9h0M549.0 56.6h0M554.8 60.3h0M594.6 74.2h0M557.5 25.6h0M587.9 86.2h0M558.1 43.0h0M589.4 59.2h0M570.1 65.6h0M591.3 73.7h0M549.2 36.0h0M551.5 55.2h0M595.2 58.1h0M602.2 82.8h0" stroke="#808080" stroke-width="2.40" stroke-linecap="round" fill="none"/>
<path d="M560.9 94.8h0M555.0 156.1h0M525.4 57.1h0M568.3 152.6h0M561.6 98.3h0M549.4 104.9h0M543.5 90.5h0M536.8 89.4h0M569.8 137.1h0M548.1 139.2h0M571.8 125.0h0M545.6 87.0h0M559.5 155.8h0M532.2 57.7h0M527.9 68.5h0M557.4 129.6h0M538.2 63.5h0M561.9 121.6h0M558.2 93.0h0M571.7 135.9h0M555.9 109.1h0M535.6 71.0h0M572.8 108.8h0M571.7 120.9h0M525.1 72.0h0M557.9 156.5h0M552.9 90.6h0M546.8 95.6h0M565.6 100.8h0M544.7 84.3h0M555.0 133.7h0M546.6 85.6h0M564.2 115.8h0M563.9 96.4h0M547.4 66.0h0M562.8 128.6h0M574.8 114.6h0M552.4 146.2h0M540.1 65.2h0M539.4 96.9h0M563.5 152.5h0M550.3 147.2h0" stroke="#808080" stroke-width="2.40" stroke-linecap="round" fill="none"/>
<path d="M527.5 120.9h0M535.0 122.2h0M533.2 124.9h0M533.6 131.1h0M531.0 123.6h0M530.4 114.4h0M534.1 115.8h0M533.1 116.0h0M525.1 118.6h0M536.0 124.4h0M531.1 120.3h0M534.1 118.2h0M527.5 116.2h0M527.5 117.8h0M532.4 127.4h0M529.8 119.7h0M525.1 118.6h0M525.5 121.7h0M534.3 132.2h0M531.6 124.5h0M527.6 117.3h0M528.0 126.2h0M525.0 121.9h0M528.1 120.8h0M527.7 118.6h0M527.4 129.6h0" stroke="#ff0000" stroke-width="2.40" stroke-linecap="round" fill="none"/>
<path d="M469.4 75.9h0M490.7 47.7h0M507.7 81.9h0M450.5 61.7h0M482.5 106.7h0M511.0 77.5h0M503.9 32.5h0M451.5 93.6h0M447.6 81.7h0M461.6 69.8h0M498.5 98.2h0M503.5 88.3h0M462.6 45.6h0M466.8 100.0h0M499.9 43.7h0M469.1 93.4h0M510.3 81.7h0M516.0 62.2h0M485.5 46.2h0M497.2 34.9h0M501.3 23.7h0M523.6 90.0h0M460.2 76.2h0M488.5 98.8h0M514.2 100.2h0M502.7 74.0h0M488.0 57.3h0M480.9 31.5h0M444.7 71.1h0M482.6 91.5h0M487.0 78.2h0M509.4 38.9h0" stroke="#008000" stroke-width="2.40" stroke-linecap="round" fill="none"/>
<path d="M451.0 81.3h0M526.0 80.4h0M512.9 93.3h0M503.5 34.7h0M514.7 59.3h0M515.6 99.6h0M512.4 104.3h0M519.7 92.4h0M514.3 100.2h0M506.9 93.3h0M510.7 53.6h0M483.2 73.1h0M479.3 31.8h0M448.8 68.6h0M504.0 93.7h0M503.0 68.4h0M506.4 52.2h0M464.2 88.7h0" stroke="#800080" stroke-width="2.40" stroke-linecap="round" fill="none"/>
<path d="M507.2 57.2h0M491.5 64.4h0M504.7 99.2h0M460.0 95.9h0M477.4 53.8h0" stroke="#ff0000" stroke-width="2.40" stroke-linecap="round" fill="none"/>
<path d="M473.2 71.6h0M482.3 29.0h0M486.5 83.8h0M489.4 31.6h0M507.3 106.1h0" stroke="#808080" stroke-width="2.40" stroke-linecap="round" fill="none"/>
<path d="M595.2 97.2h0M573.8 85.2h0M579.5 83.3h0M579.9 108.4h0M569.5 92.9h0M574.3 94.4h0M580.4 88.4h0M576.1 81.3h0M561.9 76.6h0M576.7 94.3h0M576.6 106.2h0M585.9 108.0h0M576.4 92.8h0M552.0 66.7h0M569.9 95.1h0M578.8 95.0h0M582.6 107.1h0M574.0 85.5h0M581.9 104.1h0M559.2 82.7h0M556.8 77.2h0M594.1 99.8h0M577.0 88.6h0M583.5 98.3h0M570.9 74.2h0M578.1 89.3h0M565.0 75.8h0M579.0 87.8h0" stroke="#0000ff" stroke-width="2.40" stroke-linecap="round" fill="none"/>
<path d="M588.2 99.0h0M564.0 84.3h0M562.9 73.7h0M595.4 100.2h0M595.1 108.2h0M578.6 97.8h0M588.0 91.7h0M569.8 94.1h0M573.7 95.0h0M571.9 73.8h0M586.7 109.7h0M566.6 77.5h0M569.9 95.9h0M583.3 84.5h0M590.8 104.6h0M587.9 89.8h0M586.3 95.6h0M574.1 78.3h0M584.5 91.4h0M580.5 101.3h0M599.2 103.3h0M571.0 99.2h0" stroke="#ffa500" stroke-width="2.40" stroke-linecap="round" fill="none"/>
<path d="M574.6 87.9h0M580.3 87.3h0M581.6 92.8h0M574.4 97.7h0M565.8 91.1h0M555.5 72.4h0M557.4 80.9h0M562.9 69.5h0M563.5 69.9h0M591.9 108.7h0M601.0 107.0h0M565.2 78.4h0M596.3 110.6h0M574.5 76.1h0M581.4 86.0h0M575.8 104.6h0" stroke="#800080" stroke-width="2.40" stroke-linecap="round" fill="none"/>
<path d="M590.9 104.6h0M595.2 97.8h0M597.4 104.7h0M557.2 75.1h0M587.9 88.1h0M587.6 93.4h0M571.0 100.0h0M561.7 80.3h0" stroke="#ff0000" stroke-width="2.40" stroke-linecap="round" fill="none"/>
<path d="M569.0 201.7h0M563.7 245.1h0M584.6 221.3h0M580.5 223.4h0M569.6 240.2h0M549.3 270.4h0M558.5 268.9h0M570.5 238.3h0M572.0 171.7h0M559.0 243.9h0M568.2 189.2h0M569.4 190.1h0M571.0 173.9h0M580.3 204.5h0M576.3 189.7h0M596.5 198.3h0M578.8 157.3h0M547.8 275.2h0M568.9 213.1h0M575.4 173.2h0M586.4 199.0h0M587.3 204.2h0M604.2 164.4h0M584.5 164.7h0M586.1 183.5h0M554.9 264.9h0M567.7 180.1h0M606.2 170.6h0M603.5 174.2h0M574.3 232.4h0" stroke="#ffc0cb" stroke-width="2.40" stroke-linecap="round" fill="none"/>
<path d="M606.0 121.1h0M608.2 124.8h0M621.1 129.9h0M617.2 142.3h0M602.4 128.0h0M610.4 140.0h0" stroke="#ffc0cb" stroke-width="2.40" stroke-linecap="round" fill="none"/>
<path d="M667.0 202.1h0M657.8 204.1h0M658.9 197.4h0M650.8 182.2h0M650.0 185.0h0" stroke="#ffa500" stroke-width="2.40" stroke-linecap="round" fill="none"/>
<path d="M518.0 161.3h0M582.6 131.2h0M527.3 60.1h0M519.1 145.7h0M533.2 59.6h0M548.7 188.1h0M537.0 199.2h0M525.9 156.8h0M574.9 100.1h0M521.5 174.6h0M500.1 113.0h0M571.7 124.1h0M532.7 185.9h0M535.3 82.0h0M512.0 195.1h0M524.6 127.3h0" stroke="#800080" stroke-width="2.40" stroke-linecap="round" fill="none"/>
<path d="M521.0 166.0h0M508.4 180.9h0M533.0 99.5h0M518.8 112.1h0M544.5 103.1h0M559.2 106.3h0M538.8 169.5h0M526.9 185.4h0M530.4 74.9h0M557.6 106.8h0" stroke="#ffa500" stroke-width="2.40" stroke-linecap="round" fill="none"/>
<path d="M492.9 128.0h0M565.7 87.3h0M570.6 93.3h0M519.5 121.9h0M536.1 152.6h0" stroke="#0000ff" stroke-width="2.40" stroke-linecap="round" fill="none"/>
<path d="M579.2 122.3h0M567.5 116.9h0M575.8 114.6h0M571.5 128.8h0M577.9 142.5h0M569.1 156.8h0M572.2 143.2h0M578.1 115.7h0M564.1 159.1h0M568.2 155.2h0M564.5 168.7h0M549.0 178.3h0M563.8 163.5h0M572.0 117.1h0M577.0 117.1h0M580.2 126.8h0M568.3 135.5h0M560.5 154.9h0M580.4 135.0h0M562.4 158.8h0M580.7 124.0h0M574.8 152.5h0" stroke="#800080" stroke-width="2.40" stroke-linecap="round" fill="none"/>
<path d="M420.5 110.5h0" stroke="#ffc0cb" stroke-width="2.40" stroke-linecap="round" fill="none"/></g>
<g id="pg"><path d="M167.7 456.3h0M159.8 504.4h0M170.3 518.0h0M181.2 523.1h0M158.0 463.6h0M182.2 520.4h0M175.6 513.9h0M166.5 477.4h0M160.6 470.0h0M174.7 495.4h0M169.2 471.2h0M170.1 500.1h0M172.2 481.6h0M178.4 517.7h0M175.0 518.1h0M160.6 460.5h0M157.8 489.2h0M163.1 468.8h0M154.3 471.2h0M154.5 481.5h0M165.7 459.8h0M157.1 467.3h0M155.7 465.9h0M168.5 505.9h0M169.3 466.5h0M160.1 459.0h0M168.5 487.0h0M174.2 517.0h0M168.3 482.9h0M165.6 462.2h0M161.6 476.1h0M173.5 476.6h0M174.1 491.5h0M162.5 503.7h0M158.4 488.6h0M159.0 496.4h0M162.8 461.4h0M161.5 487.8h0M169.3 484.3h0M157.8 457.2h0M155.6 483.7h0M170.8 512.7h0M155.8 459.7h0M164.3 458.3h0M171.0 499.6h0M168.8 518.1h0M159.7 500.4h0M165.2 510.9h0M156.5 468.7h0M169.4 465.8h0M171.5 467.3h0M167.2 489.3h0M159.4 494.9h0M169.8 512.8h0M166.7 498.7h0M155.8 493.0h0M170.2 512.1h0M160.0 497.8h0M154.3 472.8h0M159.5 471.1h0M167.7 511.9h0M161.5 463.8h0M156.9 463.1h0M156.6 472.1h0M157.8 474.5h0M156.9 472.4h0M163.9 478.9h0M179.1 515.8h0M171.7 508.7h0M154.2 470.0h0M165.5 487.6h0M164.6 511.1h0M165.4 493.0h0M165.0 465.1h0M166.3 462.8h0M166.5 479.0h0M165.3 480.7h0M172.1 485.6h0M162.3 460.2h0M159.4 460.4h0M174.2 494.3h0M159.9 487.1h0M163.1 495.8h0M166.3 492.4h0M162.5 462.1h0M183.5 518.2h0M179.6 523.8h0M158.5 484.8h0M176.5 525.3h0M167.2 480.8h0M169.9 519.0h0M156.6 485.3h0M170.7 523.3h0M156.4 491.2h0M169.5 482.3h0M171.1 512.2h0M163.8 480.8h0M171.4 493.2h0M164.6 465.6h0M170.1 471.5h0M176.4 514.9h0M162.1 477.5h0M162.1 467.4h0M165.0 477.5h0M174.9 511.4h0M167.7 466.6h0M174.3 517.0h0M177.9 513.4h0M168.0 461.9h0M170.0 461.5h0M160.0 499.0h0M167.5 461.1h0M153.8 481.1h0M159.5 493.5h0M156.4 494.0h0M165.7 459.8h0M162.5 482.2h0M166.2 469.0h0M178.9 522.9h0M161.2 498.5h0M165.2 470.0h0M171.4 486.3h0M169.3 466.6h0M152.2 468.0h0M154.2 465.1h0M171.5 467.2h0M161.4 496.4h0M152.3 469.1h0M158.9 481.1h0M167.1 472.7h0M170.8 476.5h0M161.3 462.1h0M162.8 487.7h0M169.0 489.6h0M156.1 483.1h0M166.1 462.1h0M165.6 455.3h0M172.3 489.0h0M172.1 492.7h0M168.2 476.9h0M171.9 512.2h0M169.4 469.1h0M168.2 514.7h0M168.2 481.8h0M166.6 471.6h0M161.8 479.8h0M168.2 496.4h0M170.0 483.4h0M168.8 510.3h0M162.8 457.7h0M165.5 459.7h0M161.9 505.3h0M167.0 467.4h0M170.8 501.5h0M172.7 490.1h0M161.0 462.5h0M170.2 465.2h0M172.0 494.9h0M160.6 506.1h0M160.7 459.6h0M158.6 489.2h0M178.0 527.4h0M178.1 512.9h0M166.1 469.1h0M171.9 523.6h0M156.1 483.1h0M163.7 468.1h0M167.1 489.3h0M160.9 483.4h0M155.9 485.5h0M161.6 461.7h0M164.9 463.5h0M159.3 482.4h0M161.5 459.5h0M173.6 521.2h0M176.8 526.3h0M159.4 461.7h0M156.3 486.7h0M169.5 480.3h0M175.0 525.1h0M167.7 486.1h0M168.9 496.3h0M158.8 461.7h0M164.0 502.8h0M168.2 462.4h0M180.1 519.5h0M167.2 507.9h0M159.6 478.6h0M165.7 472.2h0M172.0 473.3h0M156.3 475.5h0M168.9 512.7h0M173.0 526.2h0M162.0 497.1h0M168.7 490.7h0M163.0 484.9h0M164.1 494.5h0M164.4 509.6h0M177.3 518.7h0M161.0 472.5h0M171.9 490.6h0M170.9 515.2h0M165.6 457.3h0M165.2 502.6h0M153.0 475.6h0M171.9 486.6h0M162.5 471.1h0M154.7 482.7h0M175.5 515.0h0M155.7 483.1h0M176.1 528.3h0M154.6 474.3h0M160.0 498.4h0M166.2 515.8h0M164.0 486.0h0M153.4 482.2h0M168.1 478.9h0M164.5 473.4h0M166.4 500.5h0M159.3 485.3h0M173.3 516.8h0M166.3 458.7h0M166.8 494.0h0M163.6 499.4h0M167.3 499.2h0M161.1 501.9h0M165.0 469.0h0M164.1 503.4h0M153.9 481.7h0M168.0 483.7h0M157.3 468.9h0M166.6 466.3h0M155.9 476.0h0M178.4 513.0h0M166.1 487.9h0M177.6 512.9h0M177.7 514.5h0M170.7 520.6h0M160.5 461.6h0M158.1 480.0h0M159.9 482.8h0M165.0 468.4h0M168.5 505.7h0M166.0 508.7h0M162.5 506.5h0M176.7 513.9h0M160.7 487.4h0M161.7 488.0h0M172.6 491.4h0M166.7 497.2h0M168.9 475.4h0M161.8 483.7h0M159.9 475.9h0M171.1 488.6h0M162.6 478.3h0M179.0 521.0h0M158.5 497.7h0M161.7 486.6h0M173.7 516.9h0M171.3 510.4h0M177.3 515.4h0M180.9 519.2h0M171.7 486.9h0M168.3 501.8h0M166.6 469.6h0M169.9 476.5h0M173.2 511.5h0M172.6 512.7h0M156.3 493.5h0M167.6 505.7h0M173.0 476.1h0M173.7 485.6h0M162.2 476.4h0M157.4 480.9h0M166.4 470.6h0M159.2 472.0h0M166.5 508.0h0M171.5 501.0h0M178.6 514.0h0M172.2 519.9h0M158.9 474.1h0M169.1 506.3h0M158.0 476.4h0M154.6 472.7h0M170.8 490.7h0M169.4 468.4h0M174.2 493.8h0M155.8 486.5h0M170.4 506.5h0M172.3 484.6h0M167.1 493.0h0M155.4 476.2h0M164.4 482.8h0M171.8 510.6h0M158.5 481.4h0M161.0 504.8h0M165.0 470.8h0M160.9 495.2h0M164.6 474.5h0M169.3 504.8h0M171.6 507.9h0M170.6 514.5h0M172.3 524.6h0M168.9 496.2h0M154.5 475.5h0M155.5 486.9h0M171.1 510.5h0M155.0 472.7h0M168.2 499.6h0M160.4 484.9h0M179.8 517.3h0M174.3 518.3h0M152.4 471.9h0M167.9 480.5h0M158.8 466.6h0M160.4 495.9h0M167.9 477.0h0M159.9 461.9h0M169.9 467.0h0M164.5 456.4h0M158.8 480.1h0M161.5 455.7h0M164.7 481.9h0M166.9 511.2h0M166.0 498.4h0M172.6 519.5h0M162.6 490.1h0M154.3 480.1h0M174.9 490.3h0M161.5 493.1h0M160.5 476.1h0M166.6 511.0h0M169.0 486.1h0M170.4 521.9h0M169.6 487.8h0M162.1 493.8h0M166.8 485.0h0M161.9 474.4h0M174.6 523.6h0M174.7 486.6h0M172.5 518.6h0M155.6 467.9h0M168.0 507.2h0M170.0 491.6h0M157.3 483.6h0M161.8 486.1h0M164.8 463.0h0M173.3 514.4h0M178.6 515.3h0M168.3 487.9h0M175.1 512.9h0M165.5 497.0h0M167.5 470.3h0M166.1 502.1h0M167.6 465.1h0M154.1 481.5h0M161.6 458.2h0M171.8 494.6h0M180.5 515.3h0M177.0 485.8h0M178.3 513.9h0M168.2 461.5h0M163.0 465.4h0M172.2 485.4h0M167.6 479.0h0M169.7 489.5h0M159.5 459.2h0M170.5 513.9h0M170.7 470.8h0M170.4 507.3h0M175.6 520.2h0M158.3 467.8h0M170.7 477.0h0M174.2 477.4h0M175.7 526.9h0M157.6 496.5h0M155.7 485.8h0M168.8 492.9h0M165.3 503.5h0M180.7 518.5h0M171.1 489.6h0M164.6 467.4h0M177.0 512.0h0M170.8 486.8h0M160.0 464.5h0M169.9 470.5h0M172.3 521.2h0M155.9 467.5h0M167.5 498.3h0M167.9 459.7h0M164.1 498.3h0M156.4 465.6h0M171.3 517.0h0M154.8 483.8h0M160.5 475.2h0M162.9 477.5h0M155.8 482.8h0M157.0 484.1h0M158.8 497.9h0M165.5 501.9h0M171.4 472.9h0M162.2 502.5h0M161.4 482.0h0M155.0 474.3h0M172.5 514.2h0M158.6 471.8h0M163.7 455.8h0M163.7 507.4h0M176.8 526.6h0M166.5 487.4h0M166.5 505.4h0M167.5 501.8h0M162.7 482.3h0M169.2 475.4h0M163.2 497.2h0M172.9 482.6h0M169.9 521.5h0M158.7 469.5h0M170.8 465.0h0M152.9 474.3h0M168.1 496.7h0M160.0 466.2h0M165.9 507.1h0M170.7 523.0h0M159.6 491.9h0M166.2 457.2h0M179.2 523.4h0M163.3 467.2h0M161.1 479.0h0M168.1 510.3h0M161.6 495.7h0M152.6 468.9h0M153.5 473.1h0M167.2 481.7h0M156.1 487.9h0M154.1 464.1h0M160.7 467.8h0M166.4 491.6h0M171.0 476.8h0M155.6 481.6h0M169.0 506.2h0M157.9 465.4h0M178.0 518.1h0M166.0 485.6h0M159.4 482.6h0M173.4 501.5h0M170.2 462.8h0M168.8 509.6h0M159.6 466.1h0M180.3 521.7h0M169.9 491.7h0M155.2 469.6h0M163.4 487.7h0M180.3 520.4h0M179.6 517.4h0M173.3 515.9h0M170.8 463.5h0M173.6 515.5h0M174.0 513.1h0M175.7 524.1h0M165.9 469.8h0M163.9 459.5h0M161.6 490.6h0M161.5 491.5h0M166.3 465.9h0M157.8 470.5h0M167.0 509.7h0M164.4 485.1h0M167.2 470.4h0M170.8 465.4h0M168.8 478.3h0M169.2 478.5h0M160.9 489.1h0M167.1 481.0h0M160.1 460.9h0M161.3 483.4h0M181.2 516.8h0M163.2 490.0h0M160.7 457.3h0M172.6 527.1h0M170.3 479.1h0M165.4 479.5h0M155.1 481.6h0M153.1 467.7h0M178.1 522.1h0M156.6 487.3h0M177.2 525.6h0M163.8 462.0h0M165.3 468.7h0M153.2 467.9h0M163.5 490.3h0M161.2 471.3h0M168.7 499.9h0M161.1 488.7h0M172.6 514.1h0M174.6 520.4h0M166.9 509.2h0M156.4 493.0h0M172.4 514.6h0M157.3 496.4h0M162.5 490.0h0M173.0 523.0h0M155.8 480.8h0M164.7 506.7h0M170.4 508.9h0M160.3 494.0h0M170.2 493.2h0M166.9 513.2h0M171.5 523.3h0M174.3 488.1h0M176.8 524.7h0M155.5 474.7h0M154.4 477.9h0M179.8 521.7h0M179.5 518.2h0M171.2 504.0h0M176.5 519.6h0M155.6 489.5h0M168.5 492.2h0M156.6 496.2h0M172.9 490.4h0M161.3 468.1h0M154.1 473.0h0M164.4 508.8h0M166.8 469.0h0M165.3 508.3h0M171.1 512.1h0M174.1 519.4h0M162.6 465.7h0M162.8 498.7h0M160.1 504.7h0M169.9 464.5h0M169.2 475.0h0M178.0 511.8h0M168.4 458.9h0M161.1 471.8h0M160.5 475.1h0M167.9 492.3h0M161.8 468.4h0M165.7 511.5h0M161.7 497.3h0M160.2 484.8h0M170.2 502.0h0M177.1 520.3h0M172.4 526.0h0M169.4 511.8h0M169.2 476.1h0M168.8 517.7h0M165.1 470.1h0M174.3 486.9h0M154.8 480.1h0M167.8 507.6h0M163.3 486.6h0M172.9 471.3h0M164.9 506.9h0M166.4 505.6h0M160.0 481.0h0M171.0 503.5h0M175.3 512.3h0M168.7 518.0h0M156.3 464.6h0M162.4 499.4h0M169.2 491.8h0M158.2 465.6h0M173.8 514.2h0M171.1 485.7h0M152.8 469.4h0M165.2 507.5h0M167.8 460.9h0M159.7 491.3h0M168.3 509.7h0M158.3 470.4h0M174.9 484.2h0M163.3 507.4h0M165.0 484.2h0M166.3 494.9h0M157.6 490.8h0M177.8 525.9h0M174.6 492.7h0M166.9 466.2h0M167.5 499.0h0M173.8 491.2h0M163.9 476.7h0M169.6 504.5h0M179.1 509.8h0M162.5 467.4h0M160.0 473.6h0M162.7 461.6h0M160.8 466.5h0M160.3 464.6h0M167.3 481.1h0M158.5 472.3h0M155.2 484.4h0M157.0 474.8h0M166.5 480.3h0M163.0 489.0h0M159.0 483.7h0M173.9 473.8h0M157.4 472.0h0M158.6 464.6h0M153.4 474.0h0M161.3 502.5h0M159.7 471.0h0M168.8 482.5h0M157.9 496.0h0M167.1 475.8h0M158.6 498.0h0M161.6 460.5h0M169.1 475.6h0M165.4 456.1h0M171.6 526.0h0M160.1 472.0h0M166.8 514.2h0M175.5 485.0h0M161.1 459.0h0M169.1 467.0h0M171.1 480.7h0M158.5 466.5h0M167.0 481.4h0M163.4 467.0h0" stroke="#808080" stroke-width="2.00" stroke-linecap="round" fill="none"/>
<path d="M163.1 478.5h0M167.0 486.3h0M163.6 477.3h0M164.0 485.0h0M167.6 501.3h0M167.6 501.3h0M164.3 485.7h0M167.2 509.2h0M164.1 483.8h0M165.1 484.0h0M165.3 504.1h0M164.6 479.2h0M163.6 486.3h0M163.0 476.5h0M166.7 502.3h0M164.3 494.4h0M165.6 479.2h0M167.4 506.0h0M163.2 477.7h0M168.3 505.2h0M166.0 492.1h0M165.7 477.2h0M166.3 504.0h0M162.3 490.1h0M165.0 486.8h0M163.4 478.6h0M167.1 490.4h0M167.0 494.6h0M161.7 481.1h0M163.6 481.8h0M166.1 479.6h0M165.5 500.8h0M164.2 476.4h0M164.2 491.8h0M166.9 488.1h0M166.2 476.0h0M165.6 507.2h0M161.8 485.6h0M163.9 479.9h0M164.6 487.9h0M165.4 498.0h0M171.7 507.3h0M171.1 517.2h0M159.3 477.9h0M173.0 525.7h0M176.5 513.1h0M176.3 526.1h0M169.8 489.0h0M165.3 493.9h0M176.2 520.7h0M167.6 511.1h0M159.0 477.9h0M166.1 511.9h0M160.5 475.0h0M177.5 522.7h0M162.5 509.3h0M173.2 491.6h0M160.7 462.9h0M169.5 509.3h0M161.8 488.5h0M180.0 520.2h0M175.6 515.1h0M159.6 503.9h0M161.1 470.8h0M169.5 519.3h0M172.2 483.7h0M169.8 460.5h0M181.5 524.0h0M157.8 467.5h0M162.1 508.3h0M178.8 523.6h0M172.7 497.5h0M167.7 490.9h0M163.6 462.7h0M164.1 498.7h0M167.6 508.0h0M158.9 484.6h0M163.5 457.9h0M167.8 474.1h0M154.3 482.6h0" stroke="#fff" stroke-width="1.50" stroke-linecap="round" fill="none"/>
<path d="M188.9 490.2L189.7 489.3L191.0 488.3L192.4 487.3L194.1 486.4L195.6 485.7L196.9 485.2L197.8 485.1L198.7 485.4L199.6 486.0L200.5 486.9L201.3 488.1L201.9 489.4L202.3 490.8L202.4 492.0L202.3 493.3L202.1 494.7L201.8 496.3L201.4 498.0L201.0 499.7L200.5 501.3L200.0 502.9L199.4 504.4L198.8 506.0L198.1 507.6L197.4 509.1L196.7 510.6L196.0 511.9L195.3 512.9L194.7 513.7L193.2 515.0L191.6 515.8L190.1 516.0L189.2 515.8L188.7 515.4L188.2 514.6L187.6 513.4L187.1 511.8L186.8 510.2L186.8 508.9L186.8 507.4L187.0 505.8L187.3 504.0L187.5 502.2L187.8 500.5L188.0 498.8L188.1 497.0L188.1 495.4L188.0 493.8L188.0 492.5L188.3 491.3Z" fill="#800080"/>
<path d="M201.1 489.0h0M188.2 497.3h0M196.8 485.4h0M203.0 495.0h0M188.1 500.8h0M198.8 485.0h0M187.8 498.4h0M190.8 517.6h0M199.2 507.9h0M188.8 495.7h0M199.7 484.6h0M193.1 485.8h0M200.4 503.7h0M202.7 496.5h0M194.9 514.8h0M193.4 486.8h0M200.4 485.5h0M192.3 515.2h0M188.1 491.1h0M193.8 514.5h0M197.0 485.9h0M189.6 489.4h0M188.5 490.4h0M190.1 487.8h0M195.9 512.6h0M187.3 494.0h0M187.3 514.7h0M194.4 485.9h0M196.6 511.0h0M186.7 508.6h0M201.0 503.4h0M196.1 484.8h0M199.4 503.4h0M200.8 484.9h0M199.5 485.1h0M197.9 509.0h0M189.4 517.7h0M198.8 505.7h0M187.3 499.0h0M198.0 486.3h0M201.7 496.0h0M189.1 494.6h0M201.0 500.4h0M189.3 515.4h0M198.7 505.4h0M187.5 500.6h0M188.4 493.4h0M199.0 507.0h0M188.1 492.7h0M196.2 512.2h0M198.9 505.5h0M195.8 511.3h0M198.0 485.6h0M200.9 491.6h0M188.0 498.1h0M197.1 510.2h0M203.0 486.9h0M199.2 504.7h0M202.9 491.3h0M186.4 509.0h0M187.8 491.0h0M187.9 494.9h0M194.6 512.2h0M187.5 493.0h0M187.8 497.1h0M202.2 488.2h0M196.5 510.1h0M186.2 503.5h0M195.4 516.3h0M193.4 512.8h0M198.1 507.9h0M187.3 494.8h0M194.7 485.4h0M200.1 501.9h0M201.6 489.1h0M191.1 515.4h0M189.9 516.7h0M187.5 515.5h0M187.2 514.4h0M192.2 485.9h0M187.6 491.7h0M186.6 493.2h0M188.0 491.9h0M200.0 486.5h0M187.4 511.6h0M194.0 516.3h0M201.6 495.4h0M200.0 498.2h0M200.8 502.1h0M186.7 511.5h0M198.7 505.0h0M187.2 514.5h0M202.7 496.3h0M186.1 499.1h0M198.4 485.4h0M185.4 504.7h0M201.1 503.9h0M202.0 492.2h0M202.1 496.8h0M196.9 506.5h0M192.1 487.9h0M186.4 512.1h0M186.7 494.6h0M187.5 491.8h0M186.9 500.4h0M196.0 512.5h0M190.9 487.8h0M188.7 497.1h0M196.3 484.7h0M192.5 515.3h0M199.4 486.3h0M187.7 513.3h0M197.4 485.5h0M187.4 501.3h0M187.6 515.0h0M202.0 490.5h0M197.3 485.1h0M188.5 494.5h0M188.9 498.5h0M190.2 518.1h0M202.2 493.7h0M185.4 511.0h0M199.8 502.7h0M192.9 514.9h0M201.5 497.8h0M185.9 509.0h0M199.1 511.1h0M203.5 492.7h0M182.5 512.0h0M184.1 510.1h0M192.9 484.5h0M192.6 484.8h0M195.8 483.7h0M186.1 489.1h0M183.1 511.7h0M184.1 490.4h0M184.4 497.3h0M192.2 486.7h0M198.4 513.9h0M190.3 517.2h0M201.5 504.0h0M202.6 501.4h0M185.1 486.8h0M206.4 491.2h0M187.4 487.1h0M199.9 507.8h0M203.9 497.0h0M202.3 503.1h0M204.4 493.3h0M185.7 511.4h0M198.3 511.9h0M182.4 519.7h0M204.4 497.2h0M182.4 495.3h0M200.6 482.2h0M202.4 504.9h0M195.9 484.8h0" stroke="#800080" stroke-width="2.00" stroke-linecap="round" fill="none"/>
<path d="M200.8 524.9L202.0 524.7L203.4 524.5L205.1 524.3L206.9 524.2L208.7 524.0L210.5 524.0L212.2 524.0L213.7 524.2L214.9 524.4L215.9 524.7L216.9 525.3L217.7 526.2L218.3 527.2L218.9 528.5L219.4 529.9L219.9 531.4L220.4 532.8L221.0 534.2L221.5 535.6L221.9 537.1L222.2 538.6L222.5 540.2L222.9 541.8L223.3 543.4L223.9 544.9L224.7 546.4L225.7 547.7L227.0 548.9L228.3 549.9L229.6 550.8L230.9 551.7L232.0 552.6L232.9 553.6L233.7 554.6L234.5 555.8L235.3 557.0L235.9 558.2L236.5 559.5L236.9 560.8L237.2 562.1L237.4 563.5L237.4 565.0L237.3 566.7L237.1 568.3L236.8 569.9L236.4 571.5L236.1 572.9L235.6 574.4L235.0 575.8L234.3 577.1L233.5 578.3L232.7 579.4L231.8 580.5L230.7 581.7L229.6 582.9L228.4 583.8L227.2 584.4L226.1 584.6L225.3 584.3L224.4 583.7L223.3 582.9L222.0 581.8L220.5 580.7L219.0 579.6L217.4 578.8L215.7 578.3L213.9 577.8L212.2 577.5L210.4 577.2L208.7 577.0L206.9 576.7L205.3 576.4L203.6 576.1L201.9 575.9L200.2 575.7L198.6 575.4L197.0 575.1L195.5 574.7L194.0 574.2L192.6 573.5L191.2 572.8L189.9 572.0L188.6 571.0L187.4 570.0L186.3 569.0L185.4 567.8L184.8 566.7L184.2 565.5L183.7 564.2L183.3 562.8L183.0 561.3L182.7 559.8L182.4 558.3L182.2 556.9L182.0 555.2L181.8 553.6L181.7 551.9L181.6 550.3L181.7 548.7L181.8 547.3L182.1 545.9L182.6 544.6L183.2 543.4L184.0 542.2L184.9 540.9L185.9 539.7L186.8 538.4L187.8 537.1L188.7 535.7L189.7 534.2L190.7 532.8L191.7 531.4L192.7 530.1L193.7 528.9L194.6 527.9L195.7 526.9L196.6 526.2L197.6 525.6L198.9 525.2Z" fill="#800080"/>
<path d="M180.8 545.5h0M222.6 582.5h0M235.1 570.5h0M181.1 555.5h0M199.1 575.5h0M192.4 530.4h0M231.0 582.6h0M225.7 585.2h0M223.6 583.8h0M224.7 584.9h0M222.2 542.8h0M201.1 525.2h0M181.5 551.5h0M217.5 578.9h0M181.4 543.7h0M181.6 558.6h0M238.1 559.3h0M196.3 526.0h0M198.2 575.8h0M190.1 532.6h0M217.1 525.2h0M183.4 542.0h0M210.4 578.0h0M217.3 579.6h0M225.4 549.2h0M224.1 545.6h0M222.1 541.8h0M225.6 546.8h0M183.4 564.7h0M230.0 582.3h0M181.4 548.3h0M231.7 581.1h0M235.6 559.0h0M191.4 573.8h0M235.1 575.0h0M233.2 551.5h0M221.3 536.4h0M187.5 538.8h0M216.7 527.0h0M214.1 524.2h0M237.0 558.5h0M188.1 570.5h0M181.6 549.5h0M236.7 563.5h0M201.8 524.6h0M201.9 526.4h0M181.3 553.3h0M203.5 577.3h0M226.8 586.2h0M190.2 531.5h0M180.8 551.3h0M237.5 572.0h0M187.8 570.1h0M180.2 551.6h0M227.6 584.6h0M191.1 573.8h0M218.9 528.3h0M180.4 550.4h0M202.6 576.8h0M237.4 562.0h0M221.9 537.4h0M217.4 525.4h0M186.6 568.6h0M208.6 576.9h0M182.1 544.3h0M181.9 560.7h0M213.3 577.6h0M222.2 532.4h0M215.8 578.2h0M196.3 575.3h0M210.4 576.2h0M211.8 577.3h0M194.7 528.7h0M181.6 555.1h0M222.7 583.2h0M204.6 522.0h0M186.1 540.0h0M234.2 575.9h0M201.0 577.5h0M188.1 536.5h0M220.0 532.4h0M236.6 560.0h0M200.0 525.1h0M238.3 565.7h0M182.1 558.8h0M220.9 533.9h0M181.4 554.7h0M187.6 538.7h0M220.0 532.2h0M215.2 524.2h0M220.6 581.7h0M182.3 544.0h0M217.5 579.9h0M184.5 565.6h0M231.4 550.3h0M236.1 569.1h0M223.3 542.0h0M201.4 524.3h0M180.8 559.4h0M203.6 524.4h0M186.2 568.4h0M213.6 525.5h0M222.2 534.7h0M182.1 552.9h0M186.6 569.2h0M213.2 523.4h0M235.1 554.2h0M200.1 576.0h0M236.5 569.4h0M192.6 529.5h0M236.8 574.0h0M231.0 549.8h0M195.5 527.1h0M199.0 524.7h0M222.3 534.4h0M236.9 558.0h0M200.1 525.4h0M185.5 568.8h0M210.0 524.5h0M222.4 582.9h0M211.5 525.1h0M215.6 578.3h0M226.0 583.7h0M227.2 548.5h0M181.9 543.7h0M224.1 583.5h0M182.5 554.0h0M187.9 571.4h0M207.7 522.7h0M203.8 524.5h0M194.3 529.1h0M211.2 577.3h0M225.3 585.3h0M192.5 572.6h0M221.7 536.2h0M238.5 568.0h0M190.7 531.7h0M217.9 579.9h0M227.0 545.1h0M227.0 546.4h0M213.4 578.1h0M187.7 536.0h0M187.3 570.7h0M191.2 574.2h0M183.3 561.6h0M223.1 543.2h0M197.2 575.1h0M231.3 581.2h0M226.9 583.5h0M182.4 542.3h0M226.6 549.2h0M223.3 583.0h0M221.6 536.1h0M225.4 546.9h0M218.7 526.1h0M214.6 525.2h0M187.3 536.1h0M231.0 582.4h0M237.0 573.3h0M231.0 581.2h0M234.5 578.0h0M193.8 528.9h0M182.6 570.2h0M208.8 523.8h0M227.1 584.9h0M181.8 555.6h0M229.8 582.0h0M210.7 524.5h0M181.5 542.6h0M181.8 544.2h0M237.3 560.7h0M234.0 553.8h0M183.2 560.1h0M215.4 524.7h0M180.4 555.5h0M232.5 579.5h0M188.7 571.8h0M208.1 523.9h0M234.4 576.1h0M185.8 539.5h0M186.7 568.5h0M201.1 576.4h0M228.5 584.0h0M226.5 585.1h0M223.1 541.0h0M210.6 576.6h0M237.0 563.8h0M234.0 555.8h0M213.0 576.8h0M230.3 551.7h0M238.2 563.7h0M182.6 560.7h0M180.9 552.1h0M221.6 534.8h0M200.0 577.4h0M237.5 566.5h0M230.5 582.1h0M232.8 551.5h0M181.6 559.2h0M220.3 531.4h0M236.2 559.7h0M182.1 557.4h0M188.0 537.2h0M237.8 563.8h0M225.5 585.2h0M187.9 538.0h0M190.2 533.1h0M181.9 544.2h0M232.6 579.2h0M182.3 554.0h0M194.2 528.8h0M200.8 525.6h0M232.3 551.9h0M222.3 583.7h0M221.9 582.9h0M184.8 570.4h0M187.9 537.1h0M182.2 545.7h0M196.0 526.8h0M189.4 533.8h0M186.5 536.5h0M237.8 561.0h0M236.8 567.0h0M215.3 525.3h0M234.4 553.5h0M237.6 571.8h0M225.9 583.9h0M185.8 540.0h0M231.8 550.9h0M181.9 545.1h0M224.0 545.4h0M181.5 551.3h0M221.0 535.4h0M189.6 532.8h0M216.2 578.3h0M203.9 578.6h0M194.5 528.4h0M218.6 527.6h0M207.0 576.6h0M192.1 529.8h0M237.5 571.8h0M234.7 575.7h0M187.4 537.3h0M222.6 536.5h0M228.1 548.2h0M181.5 545.4h0M212.9 524.2h0M219.4 528.0h0M200.0 576.8h0M217.2 579.7h0M190.0 574.3h0M182.5 561.3h0M233.6 578.5h0M205.7 523.6h0M236.2 558.1h0M199.5 575.7h0M216.5 524.2h0M233.6 552.3h0M230.6 581.6h0M231.3 554.0h0M199.3 574.6h0M225.6 547.5h0M220.5 581.3h0M222.2 537.1h0M194.3 574.6h0M199.4 524.8h0M218.1 528.7h0M202.5 575.8h0M206.6 524.1h0M182.1 561.6h0M238.6 564.8h0M218.8 579.5h0M229.1 546.9h0M186.3 570.8h0M224.6 584.1h0M183.2 564.7h0M183.7 540.5h0M232.9 553.7h0M184.3 565.4h0M198.6 575.5h0M221.8 534.8h0M188.9 535.8h0M211.5 578.2h0M198.0 576.4h0M183.1 542.6h0M236.3 561.6h0M222.8 538.1h0M212.3 578.3h0M184.7 568.8h0M235.8 577.8h0M192.7 575.7h0M229.7 583.3h0M233.8 579.4h0M234.5 578.8h0M230.1 584.8h0M177.5 556.8h0M223.2 528.8h0M241.5 559.3h0M241.0 560.9h0M222.4 532.9h0M196.7 578.6h0M174.2 558.7h0M213.0 579.9h0M230.7 542.2h0M199.8 522.1h0M218.5 585.1h0M199.4 580.5h0M225.6 543.9h0M190.1 573.9h0M226.9 544.2h0M175.4 545.3h0M239.6 567.3h0M225.6 535.9h0M234.7 579.6h0M201.7 582.6h0M179.9 536.9h0M238.7 559.3h0M200.8 577.9h0M190.5 528.1h0M174.3 551.3h0M184.8 537.2h0M196.8 580.2h0M223.8 536.5h0M218.0 580.5h0M215.3 522.0h0M237.2 546.6h0M221.2 530.5h0M203.8 579.5h0M226.6 545.0h0M192.5 585.7h0M179.2 558.5h0M203.8 578.2h0M239.2 555.5h0M182.9 539.0h0M225.4 586.6h0M226.2 532.7h0M185.4 569.5h0M183.1 537.4h0M234.6 581.3h0M221.3 584.0h0M182.0 543.6h0M191.7 529.7h0M180.3 555.4h0M189.1 531.8h0M179.8 552.0h0M180.6 558.5h0M177.3 545.2h0M234.9 538.8h0M199.4 521.9h0M239.8 558.2h0M239.6 577.2h0M188.0 574.1h0M225.1 540.1h0M199.7 523.6h0M188.5 526.6h0M181.1 539.2h0M245.4 572.4h0M200.7 578.2h0M230.1 587.3h0M183.2 570.4h0M221.8 526.2h0M181.1 566.1h0M184.7 534.2h0M203.4 519.3h0M179.7 554.5h0M244.6 565.0h0M240.3 553.8h0M224.0 529.4h0M239.2 557.0h0M230.9 544.4h0M239.5 573.5h0M232.7 541.5h0M182.6 567.4h0M230.2 544.4h0M179.4 558.9h0M233.1 582.4h0M206.7 521.4h0M214.1 581.7h0M213.3 580.7h0M242.2 566.3h0M202.0 520.5h0M186.7 535.9h0M240.0 561.1h0M205.0 519.6h0M201.3 577.2h0M196.5 523.7h0M213.1 519.2h0M206.7 520.4h0M221.1 526.7h0M179.3 552.3h0M220.3 582.6h0M219.7 586.4h0M212.7 580.0h0M232.8 583.7h0M209.2 585.0h0M221.8 584.9h0M219.9 527.8h0M181.4 570.0h0M231.7 548.8h0M192.1 526.5h0M186.6 530.2h0M193.5 575.0h0M236.1 545.8h0M180.0 558.3h0M180.7 561.0h0M180.0 565.9h0M238.0 575.3h0M211.0 584.7h0M239.1 563.4h0M195.7 525.8h0M226.9 542.0h0M238.9 562.5h0M224.2 531.2h0M219.7 518.2h0M181.4 541.8h0M221.0 529.6h0M220.9 527.4h0M240.4 564.2h0M181.8 567.5h0M201.6 577.5h0M179.6 549.7h0M240.4 567.3h0" stroke="#800080" stroke-width="2.00" stroke-linecap="round" fill="none"/>
<path d="M125.0 497.6L125.8 497.3L126.9 497.0L128.4 496.7L130.0 496.5L131.7 496.3L133.4 496.3L134.9 496.5L136.2 496.8L137.4 497.2L138.5 497.9L139.6 498.8L140.7 499.8L141.8 501.0L142.9 502.2L143.9 503.3L144.8 504.4L145.9 505.7L146.8 506.9L147.7 508.1L148.5 509.3L149.2 510.6L149.8 511.8L150.3 513.1L150.7 514.5L150.8 516.0L150.8 517.6L150.8 519.2L150.8 521.0L151.1 522.9L151.5 524.8L152.0 526.2L152.7 527.8L153.4 529.3L154.1 530.8L154.9 532.3L155.8 533.8L156.6 535.2L157.3 536.6L158.0 538.0L158.7 539.2L159.5 540.8L160.3 542.2L161.1 543.6L161.8 544.8L162.4 546.0L162.9 547.1L163.2 548.3L163.6 549.8L164.0 551.2L164.1 552.5L163.9 553.8L163.3 555.0L162.7 555.8L161.9 556.6L160.8 557.5L159.5 558.4L158.0 559.3L156.4 560.3L154.6 561.3L153.5 561.8L152.1 562.4L150.7 563.0L149.2 563.5L147.6 564.1L146.0 564.7L144.4 565.3L142.7 566.0L141.1 566.7L139.6 567.5L138.2 568.3L136.9 569.3L135.6 570.4L134.4 571.6L133.3 572.8L132.3 574.0L131.2 575.2L130.3 576.4L129.3 577.5L128.4 578.4L127.4 579.3L126.4 580.1L125.0 581.1L123.5 582.1L122.0 583.0L120.6 583.7L119.3 584.3L118.1 584.6L117.1 584.7L116.2 584.6L115.6 584.2L115.0 583.5L114.4 582.6L113.7 581.3L113.0 579.9L112.3 578.4L111.6 576.8L110.9 575.2L110.2 573.7L109.5 572.4L108.8 571.0L108.1 569.6L107.4 568.1L106.7 566.7L106.0 565.2L105.3 563.8L104.6 562.3L103.8 560.9L103.1 559.5L102.2 558.1L101.1 556.7L100.1 555.4L99.0 554.2L98.0 553.0L97.2 551.9L96.5 550.8L95.9 549.7L95.6 548.7L95.5 547.4L95.5 546.1L95.7 544.6L96.1 543.2L96.6 541.8L97.1 540.4L97.7 539.1L98.4 537.9L99.2 536.7L100.2 535.5L101.4 534.4L102.6 533.4L103.9 532.4L105.1 531.4L106.3 530.3L107.6 529.1L108.7 527.9L109.9 526.7L111.0 525.6L112.1 524.5L113.3 523.3L114.4 522.4L115.7 521.5L117.0 520.6L118.4 519.7L119.7 518.6L120.9 517.3L121.9 515.8L122.5 514.1L122.8 512.3L123.0 510.3L123.0 508.4L123.0 506.6L123.1 505.0L123.2 503.6L123.4 501.6L123.5 499.8L124.0 498.5Z" fill="#ffa500"/>
<path d="M114.7 583.7h0M157.4 560.6h0M114.7 521.3h0M98.9 554.5h0M102.6 559.7h0M157.3 535.3h0M125.4 498.8h0M120.3 585.0h0M108.2 573.1h0M133.0 575.6h0M147.2 506.3h0M122.4 508.9h0M143.0 502.1h0M146.8 507.1h0M154.4 532.3h0M110.7 573.6h0M122.3 505.8h0M131.0 575.5h0M121.4 584.7h0M123.2 498.0h0M144.5 504.9h0M105.0 564.2h0M112.1 526.3h0M125.9 581.1h0M145.3 565.9h0M107.7 529.7h0M142.7 566.4h0M96.2 552.7h0M95.6 543.1h0M156.2 561.0h0M131.2 575.3h0M156.9 561.6h0M95.7 546.7h0M142.2 567.0h0M94.2 548.2h0M116.3 521.3h0M113.5 578.9h0M128.6 496.6h0M135.1 496.4h0M110.1 524.7h0M141.6 566.0h0M128.2 578.9h0M124.1 581.7h0M135.9 571.6h0M116.4 583.9h0M109.6 574.0h0M142.2 502.8h0M141.6 501.4h0M164.2 550.1h0M157.1 536.1h0M162.4 555.6h0M152.8 528.1h0M102.7 560.4h0M108.7 526.9h0M163.6 556.6h0M124.2 497.9h0M148.1 508.1h0M142.0 567.3h0M140.6 567.0h0M150.5 518.5h0M151.7 517.3h0M104.5 564.6h0M153.8 530.6h0M124.3 497.4h0M142.5 566.1h0M144.0 504.7h0M108.8 572.6h0M130.1 495.8h0M120.6 508.6h0M106.2 530.5h0M137.4 568.5h0M159.8 538.4h0M99.6 535.2h0M116.3 520.8h0M147.6 507.0h0M154.7 532.9h0M162.9 555.7h0M113.3 523.7h0M119.3 517.7h0M101.5 557.6h0M164.2 553.6h0M148.6 565.4h0M144.0 504.2h0M123.5 505.7h0M112.3 578.6h0M96.2 552.1h0M146.8 506.0h0M114.2 581.1h0M113.1 579.4h0M130.9 575.6h0M95.9 541.8h0M163.7 546.7h0M134.7 496.1h0M122.8 500.4h0M97.5 541.9h0M97.5 551.8h0M160.5 542.0h0M95.7 550.5h0M97.1 551.0h0M122.1 512.5h0M139.1 499.3h0M149.9 564.0h0M160.5 557.2h0M95.2 546.8h0M145.8 566.2h0M163.5 556.1h0M120.9 516.9h0M120.5 584.3h0M109.8 574.3h0M129.7 579.0h0M123.4 582.9h0M132.4 572.9h0M131.7 574.3h0M143.2 566.2h0M143.2 502.7h0M152.5 531.0h0M162.7 556.4h0M132.4 574.7h0M117.5 585.4h0M108.2 525.8h0M137.0 495.9h0M137.3 497.0h0M98.7 537.3h0M151.0 520.5h0M156.1 531.0h0M136.4 570.1h0M158.9 537.5h0M156.6 534.3h0M162.1 557.1h0M143.8 502.6h0M159.8 538.8h0M110.9 577.1h0M159.2 539.5h0M128.8 497.9h0M155.1 533.0h0M150.3 513.0h0M147.2 505.7h0M149.2 563.1h0M142.1 501.3h0M156.1 537.5h0M130.3 576.2h0M154.9 533.0h0M158.9 537.5h0M123.7 507.6h0M106.0 565.7h0M99.4 556.7h0M112.9 524.4h0M161.1 543.1h0M106.2 567.9h0M164.7 552.3h0M126.6 581.6h0M153.8 562.9h0M148.4 564.6h0M164.3 549.0h0M155.8 535.8h0M123.1 499.4h0M141.5 499.8h0M116.9 585.4h0M96.5 540.8h0M146.1 564.9h0M151.8 520.3h0M137.8 496.2h0M97.3 552.3h0M133.9 571.4h0M159.6 558.0h0M127.6 497.7h0M95.7 550.5h0M121.7 500.7h0M150.5 562.9h0M106.2 530.6h0M104.3 561.2h0M118.4 585.2h0M107.6 568.8h0M144.7 504.6h0M133.4 495.0h0M138.6 568.2h0M162.7 555.6h0M107.2 530.2h0M127.2 580.4h0M103.7 559.9h0M163.4 555.0h0M95.7 550.8h0M109.8 525.1h0M102.1 533.8h0M150.8 512.8h0M150.1 511.8h0M162.5 546.8h0M130.5 575.6h0M160.1 544.4h0M150.3 509.1h0M98.6 536.3h0M103.6 560.7h0M158.8 539.3h0M161.3 541.6h0M98.8 553.9h0M160.1 544.2h0M123.4 581.2h0M151.4 520.4h0M150.2 514.1h0M114.9 585.3h0M151.1 514.7h0M152.5 526.4h0M122.5 504.8h0M159.1 559.2h0M133.2 496.7h0M145.5 506.4h0M116.7 522.4h0M129.6 577.7h0M163.1 549.4h0M139.9 498.0h0M104.3 562.2h0M156.5 560.5h0M116.5 584.7h0M155.2 530.9h0M96.8 541.5h0M106.1 532.2h0M136.4 496.1h0M95.9 540.9h0M142.7 502.3h0M138.3 496.5h0M121.3 506.1h0M101.8 559.2h0M161.0 557.5h0M120.7 582.2h0M123.9 502.2h0M148.3 506.7h0M153.2 562.9h0M125.7 497.4h0M113.0 577.7h0M97.7 539.8h0M121.8 505.1h0M123.9 581.4h0M137.2 568.3h0M110.2 573.9h0M162.2 556.8h0M151.3 512.1h0M124.0 582.3h0M123.4 510.6h0M114.7 581.2h0M108.3 570.3h0M124.2 506.6h0M150.8 510.5h0M111.1 524.1h0M134.0 573.0h0M152.7 563.6h0M151.2 514.5h0M134.1 495.5h0M143.8 502.3h0M144.2 504.3h0M151.5 524.7h0M165.4 551.4h0M108.6 529.0h0M104.3 532.1h0M96.2 543.6h0M119.5 519.2h0M122.9 500.8h0M152.9 526.1h0M123.3 583.9h0M109.6 574.7h0M160.5 558.9h0M143.1 500.9h0M95.2 544.8h0M116.1 584.6h0M124.7 501.0h0M122.3 511.1h0M103.2 562.3h0M151.1 518.0h0M153.5 532.0h0M139.6 499.8h0M98.3 536.5h0M109.2 526.4h0M117.3 583.6h0M136.4 497.7h0M98.8 536.3h0M154.0 531.6h0M132.0 494.9h0M153.7 529.2h0M142.7 500.4h0M103.9 532.6h0M99.1 553.8h0M123.8 498.7h0M120.9 517.8h0M106.6 529.8h0M110.6 578.5h0M151.5 522.9h0M150.4 564.3h0M129.0 579.7h0M155.2 560.2h0M95.3 546.0h0M95.6 542.6h0M137.7 568.6h0M112.2 523.7h0M126.4 580.2h0M151.6 514.2h0M110.9 525.8h0M162.6 555.2h0M145.5 564.8h0M144.5 501.5h0M153.1 531.5h0M115.0 522.3h0M137.5 569.0h0M151.1 525.4h0M111.5 525.3h0M151.1 526.0h0M130.2 496.0h0M151.3 562.4h0M137.0 569.1h0M132.4 495.7h0M158.9 538.8h0M110.7 573.3h0M111.8 577.2h0M96.2 542.1h0M150.8 510.9h0M123.1 501.1h0M148.0 507.7h0M95.3 547.3h0M150.0 513.2h0M100.7 533.8h0M158.0 560.3h0M134.2 495.9h0M150.6 511.2h0M98.8 535.4h0M125.8 497.9h0M141.4 566.7h0M101.5 559.2h0M112.4 525.1h0M95.4 550.7h0M137.8 497.0h0M153.0 563.1h0M158.1 536.8h0M135.3 495.9h0M149.2 511.5h0M107.5 566.4h0M123.2 581.5h0M136.3 571.0h0M161.4 543.4h0M98.5 540.0h0M150.8 513.5h0M160.5 559.1h0M139.5 497.8h0M153.1 526.3h0M123.2 511.2h0M135.4 495.8h0M121.5 510.5h0M120.7 516.4h0M148.0 508.2h0M110.9 526.0h0M100.6 556.7h0M97.5 538.2h0M136.4 569.5h0M109.6 573.5h0M154.2 561.6h0M149.0 508.1h0M108.7 570.9h0M107.7 570.3h0M105.3 567.2h0M152.3 521.5h0M124.9 499.1h0M133.7 495.1h0M150.0 511.0h0M95.2 545.7h0M96.2 545.1h0M122.7 511.4h0M130.1 576.4h0M114.3 521.6h0M152.7 562.7h0M127.9 496.0h0M151.6 513.4h0M129.7 578.5h0M127.4 580.3h0M151.9 562.8h0M109.4 526.8h0M114.2 583.7h0M113.9 580.5h0M101.4 562.8h0M109.6 575.0h0M134.9 493.5h0M99.7 564.4h0M137.6 494.7h0M120.6 586.5h0M114.7 586.6h0M133.1 492.7h0M144.2 498.6h0M128.4 583.4h0M149.9 566.8h0M149.7 507.6h0M161.1 535.9h0M137.4 575.4h0M113.8 518.1h0M165.4 553.9h0M110.7 522.3h0M113.4 589.5h0M142.2 496.7h0M94.0 546.4h0M166.6 552.1h0M139.3 490.1h0M93.4 546.3h0M170.6 552.5h0M119.5 510.0h0M155.7 564.1h0M149.8 564.9h0M159.5 562.9h0M162.5 540.1h0M121.1 514.0h0M103.2 529.3h0M147.4 503.2h0M152.2 565.6h0M95.0 554.1h0M96.2 542.1h0M154.2 511.9h0M153.7 525.2h0M159.8 533.6h0M118.5 587.8h0M120.2 496.8h0M121.4 507.2h0M156.3 528.1h0M134.4 579.5h0M93.6 542.5h0M121.1 505.0h0M98.2 532.8h0M94.8 544.3h0M101.3 568.3h0M104.5 569.6h0M121.6 515.3h0M148.3 503.1h0M120.1 505.1h0M145.4 503.0h0M153.6 512.8h0M155.0 522.0h0M132.6 584.5h0M102.3 529.3h0M154.3 528.2h0M117.7 517.1h0M116.8 587.4h0M133.0 493.2h0M157.4 532.7h0M160.5 538.7h0M137.9 492.1h0M154.2 526.4h0M103.2 529.8h0M104.1 569.4h0M163.0 561.9h0M100.3 532.5h0M132.5 578.2h0M106.9 571.9h0M145.3 567.6h0M172.2 554.2h0M114.0 585.9h0M114.2 512.2h0M136.6 493.9h0M125.9 494.6h0M161.8 540.1h0M119.0 506.8h0M156.0 528.6h0M155.9 528.3h0M145.3 500.8h0M97.7 555.0h0M150.0 507.0h0M163.4 532.9h0M122.5 513.1h0M140.3 493.3h0M124.9 493.1h0M104.6 567.1h0M103.5 566.8h0M92.9 548.5h0M109.5 578.7h0M121.4 515.4h0" stroke="#ffa500" stroke-width="2.00" stroke-linecap="round" fill="none"/>
<path d="M77.4 530.0L78.2 528.9L79.3 527.9L80.6 527.0L82.0 526.4L83.2 526.0L84.6 526.0L86.1 526.2L87.6 526.7L89.0 527.3L90.2 528.1L91.1 529.0L91.9 530.1L92.6 531.3L93.0 532.6L93.1 533.7L92.8 534.8L92.1 536.0L91.2 537.3L90.2 538.5L89.0 539.5L87.8 540.3L86.4 540.9L84.9 541.4L83.5 541.6L82.2 541.5L81.1 541.1L80.0 540.5L78.8 539.6L77.7 538.6L76.9 537.7L76.3 536.8L76.0 535.5L76.0 534.1L76.3 532.6L76.8 531.2Z" fill="#ffa500"/>
<path d="M76.0 536.1h0M78.5 539.3h0M89.4 539.7h0M93.3 533.8h0M90.8 537.4h0M89.2 540.1h0M78.2 538.4h0M74.7 533.9h0M84.5 525.4h0M88.5 527.4h0M81.9 540.9h0M84.7 524.9h0M82.2 542.0h0M76.5 532.2h0M76.8 534.0h0M77.6 538.5h0M83.7 542.1h0M74.6 535.8h0M92.5 537.6h0M83.6 525.4h0M87.8 539.0h0M90.0 528.6h0M76.0 537.3h0M75.6 535.8h0M84.7 526.0h0M76.4 537.1h0M82.8 526.0h0M75.4 531.4h0M75.4 532.5h0M86.9 541.1h0M93.5 532.1h0M83.6 525.1h0M76.6 532.2h0M89.6 528.6h0M73.9 533.3h0M77.7 527.9h0M93.8 533.5h0M75.9 536.5h0M92.3 533.2h0M90.4 539.2h0M74.5 537.3h0M75.6 538.2h0M93.3 530.9h0M75.6 534.2h0M82.6 539.7h0M92.0 538.9h0M88.5 540.2h0M76.8 538.6h0M82.3 526.5h0M77.5 529.7h0M74.9 532.4h0M75.1 535.5h0M75.3 537.0h0M85.9 541.9h0M81.6 541.8h0M86.4 526.7h0M89.3 527.6h0M82.7 525.3h0M81.9 541.7h0M92.7 530.1h0M88.9 538.9h0M82.0 542.0h0M92.6 535.3h0M80.0 525.2h0M77.9 540.2h0M76.4 535.9h0M88.4 526.4h0M94.2 530.7h0M89.7 526.8h0M84.4 525.8h0M90.9 537.8h0M90.5 528.2h0M76.8 536.5h0M90.9 528.1h0M91.3 528.9h0M92.9 532.7h0M92.2 530.6h0M82.8 542.2h0M87.1 540.9h0M90.2 526.9h0M94.4 533.5h0M77.1 538.0h0M92.5 528.3h0M76.7 532.3h0M90.6 539.7h0M93.5 533.8h0M92.0 536.4h0M76.8 533.9h0M83.9 525.9h0M94.5 525.5h0M79.9 525.1h0M87.3 524.0h0M96.3 539.1h0M96.2 537.4h0M87.5 542.8h0M94.7 526.7h0M77.8 543.7h0M73.8 531.2h0M70.7 529.3h0M89.3 542.1h0M95.8 531.6h0M95.4 523.4h0M74.0 530.2h0M73.2 535.2h0M73.4 527.1h0M76.4 538.3h0M87.5 525.2h0M89.9 546.6h0M75.3 528.5h0M85.9 542.8h0M80.2 543.2h0" stroke="#ffa500" stroke-width="2.00" stroke-linecap="round" fill="none"/>
<path d="M94.6 550.3h0M92.0 547.4h0M92.4 548.9h0M100.4 556.9h0M90.6 547.5h0M94.8 552.3h0M98.2 552.1h0M99.8 555.5h0M94.5 552.3h0M95.3 551.6h0M97.2 553.4h0M90.8 543.3h0M92.5 546.9h0M103.2 556.8h0M94.5 550.1h0M96.0 551.3h0M93.4 550.1h0M93.4 550.2h0M94.0 547.6h0M94.8 550.6h0M94.6 549.5h0M97.0 553.7h0M91.8 547.8h0M90.5 547.7h0M101.5 556.4h0M94.4 549.1h0M89.3 547.2h0M103.2 556.1h0M90.4 547.0h0M100.8 555.9h0M95.8 549.5h0M97.4 550.8h0M96.2 551.0h0M95.6 550.9h0M98.1 553.6h0M90.6 545.2h0M99.1 555.7h0M97.1 554.1h0M101.9 554.5h0M95.3 548.8h0" stroke="#ffa500" stroke-width="2.00" stroke-linecap="round" fill="none"/>
<path d="M277.9 555.1h0M259.6 550.6h0M281.4 551.5h0M260.2 559.3h0M276.4 539.7h0M266.8 548.1h0M269.3 562.1h0M263.5 548.0h0M276.8 541.2h0M282.1 556.5h0M260.7 553.1h0M271.2 541.2h0M265.9 560.1h0M276.3 540.5h0M267.6 546.5h0M280.6 542.1h0M264.8 546.2h0M275.7 556.9h0M279.4 548.5h0M272.0 563.8h0M270.6 543.4h0M266.2 563.5h0M265.3 562.9h0M278.2 546.2h0M284.6 559.0h0M268.8 544.7h0M270.8 564.4h0M276.6 550.8h0M278.9 552.8h0M261.1 556.1h0M280.5 555.6h0M260.6 554.0h0M278.9 543.0h0M260.7 558.9h0M275.2 547.0h0M280.2 543.9h0M277.4 563.7h0M263.5 555.3h0M275.2 549.7h0M283.1 554.3h0M281.7 547.1h0M280.5 546.5h0M274.1 551.9h0M269.2 561.7h0M273.3 564.7h0M275.2 549.3h0M274.9 545.6h0M266.3 560.5h0M272.8 566.3h0M269.5 543.3h0M270.6 561.7h0M266.1 549.7h0M267.6 553.8h0M276.1 552.0h0M270.4 558.1h0M272.1 559.8h0M270.2 560.4h0M270.0 563.1h0M282.2 553.9h0M274.0 554.5h0M268.8 553.6h0M272.2 547.5h0M282.7 551.1h0M261.2 556.7h0M274.3 544.4h0M280.8 560.9h0M278.1 546.7h0M280.1 561.1h0M275.5 554.3h0M280.2 559.5h0M272.9 555.4h0M265.5 555.1h0M275.5 548.8h0M282.2 556.1h0M273.6 562.8h0M276.5 553.9h0M276.8 558.6h0M273.4 560.8h0M274.9 542.4h0M270.2 542.4h0M265.0 548.6h0M279.2 540.4h0M265.5 547.8h0M261.2 554.6h0M269.9 547.8h0M281.0 548.7h0M279.9 548.6h0M276.6 548.2h0M280.6 550.4h0M269.2 550.9h0M270.2 557.9h0M280.1 542.0h0M279.4 563.5h0M261.8 557.0h0M262.9 545.6h0M258.8 550.2h0M279.5 562.8h0M275.6 557.8h0M269.3 556.5h0M280.7 543.3h0M262.0 547.8h0M267.2 549.5h0M267.9 557.5h0M275.4 547.8h0M266.4 550.7h0M281.8 558.2h0M272.5 547.6h0M269.4 548.9h0M267.9 541.5h0M279.7 554.3h0M277.2 544.5h0M277.1 555.5h0M263.1 550.1h0M269.6 559.3h0M282.6 556.2h0M265.7 546.4h0M259.8 550.6h0M265.3 561.2h0M273.4 556.3h0M267.9 543.8h0M280.6 563.5h0M283.8 556.9h0M265.9 547.4h0M277.1 549.2h0M279.6 558.9h0M271.4 546.8h0M259.2 549.6h0M282.1 561.6h0M269.3 542.1h0M268.1 556.4h0M282.1 553.6h0M275.2 556.5h0M270.5 557.5h0M268.3 548.7h0M271.9 543.4h0M259.5 555.4h0M259.7 552.9h0M261.1 556.1h0M269.0 542.5h0M272.3 563.3h0M268.8 561.7h0M270.9 540.7h0M267.1 546.1h0M280.6 555.7h0M260.3 548.4h0M259.8 555.9h0M278.4 538.7h0M276.8 545.9h0M278.7 560.1h0M269.4 550.2h0M264.1 542.1h0M269.2 552.3h0M259.0 554.4h0M266.7 544.0h0M269.3 545.8h0M279.1 554.4h0M271.3 563.2h0M274.8 565.8h0M277.4 557.3h0M282.2 558.7h0M273.1 543.9h0M272.4 554.7h0M276.5 563.0h0M267.3 561.9h0M277.5 546.5h0M268.5 541.0h0M282.9 556.0h0M275.9 547.1h0M268.3 556.8h0M272.7 559.4h0M261.4 546.8h0M261.9 553.7h0M273.5 561.2h0M276.6 556.5h0M272.3 554.9h0M263.6 561.0h0M278.4 551.2h0M278.7 547.4h0M283.6 559.6h0M274.3 564.7h0M260.7 553.1h0M279.3 560.5h0M270.2 543.2h0M273.0 559.9h0M270.2 557.5h0M262.9 547.9h0M279.8 549.4h0M280.8 551.4h0M265.9 543.7h0M264.9 554.4h0M269.3 553.1h0M273.3 562.8h0M276.1 551.2h0M263.5 543.6h0M279.3 556.5h0M275.9 549.4h0M260.6 551.6h0M283.3 557.6h0M275.9 543.8h0M272.0 546.1h0M273.7 545.7h0M265.2 558.5h0M266.0 563.1h0M262.3 549.7h0M277.5 548.5h0M283.1 557.3h0M277.3 561.7h0M268.8 552.2h0M277.9 544.7h0M269.7 561.8h0M280.8 564.4h0M269.5 544.9h0M274.2 563.2h0M259.3 554.0h0M261.0 553.4h0M275.8 541.0h0M277.0 564.4h0M273.2 563.0h0M264.8 557.7h0M270.9 555.3h0M278.6 564.5h0M261.0 552.3h0M279.4 546.8h0M261.9 550.7h0M265.3 552.9h0M259.5 550.5h0M278.7 557.6h0M265.5 558.7h0M280.5 554.1h0M273.3 550.8h0M280.6 553.0h0M280.0 559.1h0M279.3 560.1h0M279.0 554.9h0M260.5 553.0h0M272.3 555.6h0M272.8 552.6h0M258.6 549.7h0M264.6 552.9h0M266.3 562.1h0M267.5 544.1h0M266.9 547.3h0M272.2 546.7h0M259.7 556.5h0M278.0 543.0h0M282.0 552.9h0M273.9 558.8h0M268.0 546.7h0M279.8 552.2h0M264.8 559.5h0M267.0 549.7h0M267.6 547.3h0M275.6 563.1h0M281.3 548.3h0M265.3 551.8h0M273.2 545.9h0M270.6 561.9h0M279.6 544.3h0M263.9 546.7h0M266.6 560.7h0M273.5 551.9h0M268.9 556.8h0M279.3 552.4h0M265.4 562.2h0M268.5 555.5h0M267.8 547.3h0M268.9 554.8h0M264.3 555.3h0M271.3 556.6h0M279.6 549.2h0M278.2 542.3h0M273.2 554.7h0M267.2 552.0h0M282.8 557.6h0M263.3 545.0h0M278.9 543.6h0M264.7 562.2h0M260.0 552.7h0M274.4 548.6h0M269.4 561.5h0M264.4 556.4h0M273.2 545.6h0M271.4 552.0h0M272.9 541.6h0M269.4 554.0h0M261.9 556.2h0M264.3 545.3h0M274.2 545.5h0M266.8 552.9h0M278.5 540.4h0M270.7 551.0h0M275.6 561.2h0M264.8 557.2h0M273.8 553.2h0M269.5 564.2h0M272.6 553.2h0M276.3 555.5h0M273.2 553.6h0M280.1 550.9h0M259.0 549.0h0M278.4 554.4h0M279.5 561.1h0M267.2 557.5h0M276.1 549.5h0M274.2 548.5h0M280.4 545.2h0M279.7 546.1h0M278.3 563.8h0M270.7 548.4h0M265.5 550.1h0M272.8 555.0h0M274.7 543.3h0M276.7 540.7h0M272.3 542.7h0M268.7 542.5h0M280.2 561.7h0M268.1 561.7h0M276.8 544.5h0M262.8 549.9h0M261.0 550.4h0M264.7 556.3h0M272.4 555.6h0M271.5 552.7h0M266.4 557.9h0M274.5 545.1h0M272.3 542.4h0M262.3 555.4h0M276.3 546.4h0M271.4 551.6h0M269.0 558.7h0M261.0 544.9h0M262.1 545.0h0M275.1 562.1h0M271.8 548.4h0M275.3 564.8h0M277.9 542.4h0M263.2 546.2h0M267.1 555.7h0M275.5 561.7h0M269.5 561.8h0M264.3 561.2h0M268.9 555.3h0M280.0 550.0h0M276.6 543.3h0M266.3 547.6h0M270.7 548.7h0M266.5 551.5h0M272.5 546.2h0M262.5 561.3h0M276.4 545.4h0M278.5 558.2h0M263.5 549.9h0M271.1 563.1h0M263.7 550.3h0M263.8 547.0h0M279.2 544.3h0M280.0 555.7h0M261.9 547.1h0M275.5 553.1h0M277.1 563.9h0M277.8 549.7h0M269.0 557.0h0M269.9 541.5h0M266.2 552.9h0M280.5 548.3h0M275.2 556.7h0M276.9 553.9h0M270.3 556.3h0M270.8 547.3h0M264.2 554.5h0M276.0 548.1h0M260.1 549.3h0M272.3 554.7h0M263.6 545.1h0M268.8 548.0h0M278.1 546.9h0M271.5 542.4h0M264.0 549.1h0M281.4 559.1h0M270.7 562.9h0M263.6 544.9h0M260.9 556.7h0M280.7 547.8h0M268.1 546.7h0M271.7 555.2h0M279.2 541.8h0M270.3 554.7h0M276.5 560.7h0M267.4 562.7h0M266.1 553.2h0M269.5 555.6h0M265.2 557.7h0M278.8 561.4h0M276.2 542.5h0M273.5 543.4h0M262.1 548.5h0M268.0 557.0h0M274.1 561.9h0M263.8 557.4h0M268.2 563.6h0M260.6 553.4h0M273.5 553.9h0M275.1 558.5h0M274.1 542.2h0M277.9 552.6h0M280.0 543.3h0M270.5 553.1h0M276.8 555.6h0M274.0 546.6h0M269.6 562.1h0M277.6 541.1h0M274.5 559.1h0M280.9 547.6h0M262.0 554.7h0M282.4 560.5h0M271.5 547.8h0M264.4 560.8h0M273.9 543.0h0M282.5 556.3h0M273.0 550.1h0" stroke="#0000ff" stroke-width="2.00" stroke-linecap="round" fill="none"/>
<path d="M258.3 620.2h0M252.8 625.8h0M260.1 585.0h0M255.2 622.1h0M304.6 577.6h0M311.1 600.0h0M308.6 600.0h0M306.7 601.0h0M264.0 581.5h0M293.9 594.5h0M303.6 578.1h0M302.1 575.7h0M230.3 601.0h0M309.8 600.4h0M241.8 618.3h0M272.5 580.8h0M305.6 580.8h0M283.3 578.4h0M277.3 580.8h0M315.0 595.4h0M312.0 595.7h0M313.0 595.1h0M287.4 574.1h0M245.3 592.3h0M286.8 592.4h0M265.2 616.9h0M306.3 601.7h0M267.3 611.7h0M269.9 612.7h0M280.1 600.1h0M264.1 580.0h0M281.4 577.2h0M293.8 594.1h0M260.5 620.9h0M302.0 574.8h0M277.8 578.8h0M312.7 597.8h0M233.8 599.5h0M250.2 589.2h0M258.9 620.4h0M298.4 596.9h0M243.4 591.8h0M273.9 579.0h0M256.7 622.2h0M297.2 572.8h0M249.6 627.0h0M241.0 618.0h0M310.3 587.7h0M245.4 591.3h0M271.4 581.9h0M234.2 611.7h0M271.1 611.8h0M280.1 598.2h0M283.2 578.3h0M230.8 610.0h0M232.8 597.4h0M232.1 608.0h0M288.9 591.8h0M299.5 574.0h0M231.0 605.9h0M311.5 592.9h0M270.4 610.7h0M259.1 619.7h0M274.8 604.9h0M272.2 580.4h0M274.5 607.2h0M271.9 578.8h0M229.9 606.2h0M230.9 607.4h0M272.0 609.8h0M239.5 618.0h0M265.3 580.1h0M256.7 583.4h0M278.1 578.3h0M265.2 580.7h0M268.0 581.6h0M231.0 601.8h0M247.4 590.2h0M313.0 592.7h0M247.5 590.6h0M268.9 580.3h0M273.1 610.1h0M253.3 624.0h0M235.7 613.3h0M271.4 610.2h0M250.2 589.4h0M276.7 604.8h0M253.0 589.0h0M250.8 589.4h0M241.1 595.0h0M272.0 611.1h0M303.7 576.6h0M311.6 600.1h0M273.4 609.4h0M278.4 600.9h0M271.4 610.2h0M307.9 581.4h0M303.4 576.3h0M309.0 583.7h0M260.3 619.9h0M268.3 613.6h0M231.7 602.1h0M264.7 616.7h0M307.4 584.0h0M244.8 623.8h0M312.9 596.2h0M246.2 626.0h0M298.5 573.1h0M240.7 621.1h0M239.8 617.7h0M309.1 600.2h0M293.6 592.2h0M280.4 598.3h0M239.9 621.2h0M312.2 588.8h0M286.8 574.8h0M285.2 593.6h0M291.3 572.7h0M249.0 588.7h0M252.9 588.4h0M308.1 583.3h0M298.3 574.0h0M296.2 594.5h0M284.2 576.0h0M280.4 578.9h0M290.3 592.9h0M284.9 594.5h0M248.5 626.5h0M281.3 596.8h0M285.5 576.4h0M235.7 598.8h0M270.0 581.0h0M239.9 596.0h0M268.6 581.6h0M290.2 592.1h0M304.3 599.7h0M284.4 594.0h0M274.7 578.8h0M246.0 624.2h0M299.1 574.9h0M304.5 579.7h0M269.6 581.2h0M241.5 593.3h0M278.0 598.5h0M267.6 581.6h0M284.0 577.4h0M306.3 601.6h0M232.8 601.0h0M249.3 589.9h0M308.8 602.9h0M234.1 592.9h0M312.8 602.7h0M240.1 626.3h0M262.5 579.9h0M290.4 570.3h0M299.1 603.8h0M300.1 605.1h0M307.6 571.4h0M247.4 587.1h0M287.0 596.8h0M238.0 592.4h0M310.9 582.1h0M300.8 601.1h0M306.8 578.5h0M232.4 609.9h0M288.4 596.3h0M311.8 603.0h0M312.1 579.1h0M262.0 621.9h0M236.2 594.9h0M290.9 598.0h0M281.3 601.2h0M237.7 594.4h0M296.5 598.4h0M264.1 576.6h0M296.2 598.7h0M256.7 626.8h0M280.5 603.4h0M306.2 571.8h0M302.1 600.6h0M239.6 625.1h0M265.0 620.4h0M252.8 626.4h0M292.0 600.0h0M226.3 602.9h0M230.8 598.8h0M316.9 592.7h0M247.1 588.6h0M302.3 603.6h0M273.8 611.6h0M292.0 595.7h0M246.9 588.8h0M295.9 571.9h0M269.7 575.2h0M231.9 611.1h0M312.0 574.8h0M277.7 612.7h0M246.5 590.1h0M294.8 597.8h0M258.2 623.0h0M248.6 588.3h0M310.1 584.5h0M288.5 599.6h0M281.6 577.1h0M227.2 599.0h0M230.5 599.4h0M313.2 583.9h0M227.8 604.8h0M246.9 588.6h0M242.0 627.1h0M314.1 601.2h0M290.6 567.0h0M313.7 600.4h0M225.7 609.0h0M230.0 600.3h0M285.0 596.7h0M266.2 617.6h0M236.9 619.5h0M237.5 619.5h0M309.6 566.3h0M284.4 572.5h0M266.5 578.2h0M276.0 609.7h0M270.0 578.6h0M237.3 622.7h0M281.7 576.5h0M233.1 611.6h0M263.9 619.8h0M298.5 571.0h0M295.9 598.1h0M291.4 569.8h0M245.3 627.3h0M310.4 583.4h0M243.7 626.3h0M230.0 611.2h0M296.6 600.7h0M230.6 607.5h0M252.0 629.1h0M276.3 578.9h0M277.3 576.9h0M252.9 626.1h0M312.2 579.0h0M232.4 596.8h0M261.1 621.5h0M254.1 628.8h0M313.4 592.9h0M253.2 583.0h0M287.0 595.3h0M235.6 620.4h0M312.8 601.3h0M253.5 628.7h0M312.2 586.7h0M251.8 626.2h0M310.5 574.1h0M266.6 578.0h0M238.7 594.0h0M292.2 610.0h0M309.0 609.1h0M258.7 630.6h0M318.3 594.5h0M253.7 585.6h0M230.9 605.5h0M260.8 580.0h0M272.0 614.5h0M289.4 594.4h0M313.9 583.8h0M230.6 625.2h0M226.5 602.3h0M290.9 572.7h0M311.7 577.2h0M271.8 612.8h0M287.1 571.0h0M245.9 630.1h0M314.4 600.4h0M245.5 627.0h0M267.5 618.9h0M246.8 587.9h0M286.5 572.0h0M240.8 588.4h0M239.2 624.3h0M256.4 582.7h0M287.1 572.3h0M284.8 598.0h0M283.2 574.5h0M282.6 600.3h0M280.9 574.1h0M237.4 592.7h0M232.0 597.5h0M277.9 574.1h0M250.6 630.0h0M229.3 595.7h0M229.0 607.9h0M229.1 605.7h0M275.7 608.9h0M270.2 616.6h0M271.4 574.9h0M276.6 576.6h0M313.1 578.4h0" stroke="#0000ff" stroke-width="2.00" stroke-linecap="round" fill="none"/>
<path d="M257.8 606.0h0M254.1 616.5h0M244.5 611.9h0M294.8 590.5h0M294.2 591.5h0M269.5 610.0h0M264.8 586.1h0M254.7 601.3h0M233.6 610.7h0M247.7 598.3h0M273.7 608.4h0M259.8 600.2h0M266.2 586.2h0M256.3 619.5h0M306.6 598.8h0M273.2 601.8h0M305.6 602.0h0M267.2 578.9h0M245.3 608.2h0M250.3 613.2h0M263.6 606.0h0M309.1 599.3h0M299.3 589.8h0M260.1 590.0h0M262.3 614.3h0M312.8 590.4h0M265.4 597.8h0M262.2 608.2h0M262.0 589.7h0M255.3 588.9h0M263.0 586.0h0M273.6 602.6h0M310.4 587.2h0M244.3 619.9h0M265.6 613.8h0M291.8 593.1h0M256.8 589.3h0M270.4 593.6h0M284.8 592.3h0M256.7 596.8h0M261.3 593.4h0M279.9 588.7h0M304.8 599.6h0M266.3 607.4h0M269.3 596.0h0M272.0 579.5h0M243.9 603.6h0M278.0 601.9h0M261.9 600.9h0M283.4 583.0h0M254.0 590.0h0M261.2 584.9h0M240.6 618.6h0M258.9 615.5h0M256.8 593.7h0M256.0 614.0h0M273.8 608.7h0M285.6 578.6h0M291.4 581.4h0M305.5 601.3h0M244.3 620.9h0M258.3 587.2h0M236.0 616.7h0M255.0 612.0h0M269.9 596.2h0M242.9 619.3h0M253.0 591.0h0M301.1 599.3h0M265.5 599.7h0M246.6 592.2h0M269.0 614.5h0M271.9 593.4h0M265.8 588.2h0M235.9 616.1h0M247.0 605.4h0M260.4 609.0h0M270.0 585.9h0M290.6 577.8h0M240.3 608.4h0M307.7 587.1h0M256.8 610.6h0M247.9 617.1h0M264.7 588.6h0M288.3 578.1h0M233.7 600.2h0M303.1 600.5h0M305.3 587.8h0M270.8 601.1h0M282.4 583.4h0M283.0 579.3h0M286.6 590.7h0M286.6 577.1h0M295.8 577.9h0M245.1 620.0h0M243.3 601.1h0M288.7 585.0h0M294.9 574.2h0M255.9 583.9h0M259.4 595.3h0M244.5 621.8h0M246.9 592.2h0M307.7 598.7h0M307.5 600.4h0M314.0 593.0h0M275.3 579.9h0M234.2 599.6h0M278.0 592.9h0M299.5 573.1h0M278.4 600.1h0M288.0 584.0h0M287.4 577.1h0M248.3 626.5h0M290.8 592.7h0M246.1 606.6h0M266.6 584.6h0M242.7 602.7h0M295.2 572.4h0M255.8 616.8h0M239.6 600.6h0M311.7 591.4h0M235.0 611.8h0M293.2 591.0h0M284.9 583.0h0M274.7 598.4h0M250.3 595.0h0M297.2 572.0h0M257.8 622.7h0M258.4 611.5h0M258.4 587.3h0M261.4 614.8h0M265.9 585.9h0M248.2 595.0h0M263.7 612.1h0M282.8 595.7h0M275.6 606.0h0M237.7 611.3h0M300.7 599.6h0M261.6 618.3h0M266.9 597.2h0M254.9 601.4h0M275.6 607.1h0M271.7 591.7h0M253.4 589.1h0M314.7 598.5h0M262.0 591.4h0M282.0 579.5h0M299.1 593.0h0M267.4 588.9h0M256.4 614.7h0M279.1 600.3h0M301.8 588.7h0M249.1 601.7h0M255.6 622.5h0M242.1 606.1h0M295.5 577.3h0M275.7 602.7h0M276.4 600.0h0M306.4 589.6h0M279.3 585.0h0M261.5 595.3h0M236.9 596.4h0M231.1 605.7h0M245.0 595.4h0M301.4 578.6h0M269.6 600.8h0M306.0 582.1h0M280.5 602.3h0M265.1 612.8h0M295.4 575.5h0M252.4 599.5h0M289.6 578.3h0M288.1 574.1h0M270.2 596.5h0M272.3 606.5h0M272.7 588.0h0M260.6 600.5h0M281.5 591.4h0M289.8 585.8h0M238.8 598.0h0M301.8 588.9h0M312.5 588.8h0M242.9 601.8h0M304.6 588.3h0M293.7 579.5h0M272.1 608.5h0M249.2 590.1h0M296.4 594.6h0M258.5 594.8h0M245.5 600.0h0M257.3 607.4h0M271.9 604.8h0M302.2 592.0h0M289.6 593.1h0M298.6 584.5h0M267.6 584.3h0M267.2 614.8h0M283.4 583.4h0M289.7 581.1h0M260.1 593.6h0M272.5 594.5h0M281.5 596.5h0M291.4 589.0h0M262.1 606.4h0M259.7 615.3h0M306.8 583.1h0M264.5 607.4h0M248.3 605.7h0M236.9 609.2h0M249.0 595.3h0M252.0 597.4h0M284.3 578.3h0M266.8 614.3h0M230.5 603.7h0M258.6 598.8h0M281.0 584.2h0M287.9 573.5h0M261.9 616.4h0M240.8 614.3h0M300.2 587.8h0M239.5 603.6h0M271.0 584.1h0M291.5 577.2h0M274.7 587.9h0M259.3 586.3h0M287.9 577.1h0M265.1 600.4h0M297.5 592.3h0M272.5 603.8h0M235.1 612.9h0M304.4 599.8h0M273.2 582.9h0M298.6 592.5h0M259.6 609.6h0M252.6 602.1h0M241.9 616.5h0M267.8 611.6h0M237.5 607.3h0M291.2 579.3h0M309.4 596.0h0M250.7 604.2h0M278.2 583.7h0M310.0 602.7h0M247.4 610.2h0M252.3 611.5h0M250.3 622.7h0M247.7 618.6h0M238.7 617.9h0M272.5 587.2h0M291.9 594.4h0M293.8 594.6h0M249.6 625.5h0M254.7 590.0h0M292.4 573.0h0M278.5 586.0h0M246.7 591.3h0M288.9 576.2h0M272.9 599.0h0M288.3 587.7h0M257.6 589.4h0M301.0 590.2h0M261.2 614.2h0M244.7 602.6h0M273.3 592.5h0M240.8 622.6h0M271.3 578.7h0M243.0 621.1h0M259.8 607.6h0M303.4 596.9h0M252.6 586.7h0M277.2 601.4h0M303.4 595.7h0M249.8 603.3h0M254.3 598.5h0M272.8 580.5h0M257.4 605.0h0M252.0 610.6h0M272.0 581.2h0M283.8 579.3h0M307.0 587.7h0M247.5 614.2h0M254.0 598.8h0M249.5 607.4h0M303.7 580.1h0M264.2 596.0h0M255.1 592.5h0M303.6 599.8h0M276.0 583.0h0M307.6 589.8h0M249.2 600.2h0M254.8 614.2h0M254.2 587.0h0M244.9 624.6h0M257.4 617.9h0M296.0 579.7h0M258.2 593.6h0M291.8 578.8h0M280.5 580.5h0M233.6 610.3h0M233.1 600.6h0M301.8 574.2h0M290.2 573.9h0M291.6 589.5h0M294.0 594.8h0M254.8 599.9h0M257.9 609.5h0M260.0 583.8h0M259.8 606.8h0M257.0 616.4h0M302.6 574.4h0M243.5 618.1h0M264.5 598.9h0M252.7 615.9h0M274.9 595.8h0M297.1 586.0h0M238.3 615.7h0M274.0 601.3h0M231.9 607.2h0M256.7 615.4h0M310.0 593.7h0M246.7 601.7h0M260.8 619.0h0M261.2 607.9h0M267.2 587.1h0M243.5 622.8h0M297.0 588.1h0M256.5 616.1h0M297.6 593.6h0M306.2 588.8h0M272.3 608.8h0M298.2 591.8h0M298.7 573.5h0M302.8 587.0h0M258.0 608.2h0M258.8 606.2h0M269.8 593.9h0M261.1 582.3h0M235.9 616.1h0M251.3 615.6h0M276.6 584.7h0M241.9 596.7h0M263.8 596.8h0M252.6 596.4h0M248.5 591.6h0M256.2 611.5h0M305.7 595.0h0M304.3 598.5h0M287.8 583.0h0M247.4 608.3h0M283.9 578.4h0M294.2 577.6h0M255.9 592.5h0M258.5 616.3h0M272.9 611.9h0M280.7 580.9h0M296.0 579.6h0M282.3 591.8h0M266.4 587.7h0M253.0 617.7h0M246.1 619.9h0M253.9 615.5h0M279.7 577.0h0M234.5 598.3h0M295.8 594.6h0M261.4 614.2h0M301.5 585.3h0M247.0 590.4h0M285.1 588.5h0M248.2 622.1h0M250.3 597.7h0M270.9 604.4h0M273.9 602.2h0M272.2 590.6h0M254.7 598.3h0M267.3 585.5h0M287.1 582.9h0M301.2 594.2h0M303.0 596.5h0M294.5 583.5h0M244.4 624.1h0M273.0 585.6h0M309.4 602.3h0M258.3 608.7h0M302.1 585.2h0M239.1 595.4h0M308.4 585.3h0M275.8 596.5h0M260.3 608.7h0M276.1 599.7h0M300.8 576.7h0M245.3 596.6h0M243.4 619.5h0M285.8 576.2h0M256.3 586.6h0M261.5 599.6h0M243.9 612.7h0M248.5 626.0h0M311.8 596.4h0M294.2 591.7h0M308.8 585.2h0M293.6 581.2h0M252.0 614.1h0M289.1 581.6h0M270.6 584.7h0M276.7 581.9h0M303.4 594.9h0M303.2 597.1h0M244.3 624.2h0M267.0 592.5h0M244.8 611.1h0M255.6 613.5h0M267.4 586.2h0M235.0 605.1h0M263.1 610.0h0M238.1 612.3h0M256.5 609.6h0M248.6 601.4h0M275.0 595.5h0M268.6 595.8h0M249.3 619.3h0M294.3 580.1h0M250.5 600.5h0M238.1 614.9h0M243.7 622.3h0M276.6 604.2h0M283.7 575.3h0M249.0 617.0h0M269.7 581.6h0M258.8 593.0h0M297.0 584.6h0M247.8 609.3h0M313.5 591.5h0M257.5 617.3h0M298.6 579.0h0M276.5 606.4h0M311.7 601.2h0M257.2 596.0h0M264.3 597.3h0M257.9 588.8h0M270.8 592.8h0M230.8 604.8h0M254.9 585.4h0M274.3 583.3h0M255.1 616.1h0M234.0 613.9h0M293.6 583.3h0M282.9 591.3h0M300.0 593.4h0M235.8 605.5h0M251.1 610.9h0M264.1 591.9h0M240.5 600.9h0M279.1 581.1h0M238.2 602.7h0M308.2 598.9h0M250.9 613.8h0M258.4 602.9h0M264.0 611.3h0M297.7 580.6h0M284.3 587.6h0M292.6 580.8h0M283.5 591.6h0M301.4 591.7h0M254.7 608.9h0M269.4 585.6h0M251.3 610.0h0M246.4 601.3h0M302.8 593.4h0M238.7 605.1h0M264.7 592.4h0M298.0 595.2h0M301.7 585.5h0M250.8 624.2h0M235.3 596.9h0M274.1 590.7h0M239.3 612.7h0M249.3 616.3h0M305.4 580.2h0M279.7 582.6h0M250.3 606.3h0M291.1 592.6h0M240.4 620.3h0M277.0 603.0h0M255.5 585.4h0M246.1 600.1h0M301.4 589.4h0M234.7 602.0h0M283.0 595.8h0M277.6 587.2h0M288.9 582.8h0M258.4 587.7h0M262.4 593.6h0M252.1 618.0h0M297.8 587.4h0M242.9 593.6h0M249.8 603.7h0M237.0 614.0h0M274.7 602.5h0M260.8 620.6h0M264.6 608.5h0M312.4 597.7h0M239.0 617.9h0M262.9 592.0h0M233.7 607.1h0M232.3 607.6h0M254.9 600.3h0M272.0 600.9h0M248.5 624.3h0M258.0 621.1h0M234.5 603.4h0M309.7 588.9h0M246.3 611.8h0M258.7 603.5h0M244.2 618.1h0M238.2 597.0h0M247.8 610.2h0M277.5 583.9h0M293.4 594.4h0M261.6 608.0h0M296.8 574.5h0M246.6 612.6h0M244.9 621.9h0M249.0 606.3h0M273.3 580.4h0M269.6 605.0h0M252.5 595.5h0M254.0 594.7h0M255.5 597.8h0M299.0 587.3h0M295.9 575.5h0M253.9 589.5h0M251.5 596.5h0M268.7 611.2h0M287.0 578.0h0M278.9 581.1h0M311.4 598.5h0M236.5 614.2h0M294.0 578.5h0M242.0 612.1h0M261.7 599.8h0M293.5 586.5h0M253.5 603.6h0M259.7 598.7h0M298.8 589.0h0M275.9 591.2h0M306.6 590.9h0M253.5 619.0h0M284.1 584.5h0M245.9 595.6h0M268.9 613.4h0M252.7 618.4h0M287.8 592.5h0M276.3 608.1h0M269.4 597.3h0M248.0 615.8h0M280.3 584.8h0M259.2 616.3h0M254.4 617.0h0M237.6 602.9h0M266.9 596.0h0M262.8 604.6h0M245.7 594.5h0M268.9 607.0h0M249.1 625.7h0M246.4 604.4h0M264.6 614.6h0M256.2 599.6h0M276.0 601.7h0M283.1 586.3h0M260.0 611.0h0M287.0 588.3h0M248.0 603.9h0M282.1 586.2h0M232.2 600.9h0M264.0 587.5h0M248.2 627.5h0M257.8 622.5h0M253.5 589.1h0M262.2 615.3h0M302.1 597.0h0M301.1 594.7h0M309.2 598.4h0M268.0 584.8h0M253.5 621.0h0M267.4 594.0h0M273.9 607.9h0M264.4 601.3h0M258.9 608.4h0M257.6 603.5h0M251.2 619.6h0M269.3 613.1h0M301.8 577.7h0M245.7 619.8h0M245.0 618.1h0M244.5 596.6h0M231.9 608.2h0M257.2 606.6h0M284.1 592.1h0M271.5 580.9h0M239.0 615.6h0M257.8 618.4h0M251.2 595.5h0M257.5 617.9h0M253.1 618.1h0M235.1 614.1h0M314.5 595.9h0M266.1 599.4h0M289.9 587.0h0M263.7 610.5h0M232.9 609.4h0M302.3 576.6h0M243.1 608.6h0M264.7 616.9h0M238.4 613.7h0M305.4 580.5h0M247.6 610.0h0M255.5 598.3h0M312.0 597.8h0M267.5 600.4h0M282.4 580.4h0M268.5 586.0h0M240.9 602.8h0M292.9 588.6h0M241.2 595.3h0M266.9 614.1h0M244.2 594.8h0M249.5 600.4h0M239.2 603.4h0M279.1 590.5h0M269.2 601.1h0M307.7 602.2h0M306.2 591.8h0M260.1 620.3h0M259.1 616.2h0M258.6 612.6h0M255.6 597.7h0M308.6 591.8h0M283.4 586.0h0M299.6 580.1h0M234.0 602.4h0M260.1 607.1h0M244.9 596.5h0M281.7 594.7h0M264.7 605.8h0M241.9 601.5h0M260.7 603.8h0M303.4 581.9h0M278.2 592.5h0M311.5 596.0h0M260.5 588.9h0M248.7 596.8h0M240.5 613.3h0M243.6 617.2h0M304.0 583.8h0M239.2 612.9h0M268.6 599.3h0M248.7 590.4h0M271.8 606.6h0M249.2 591.6h0M240.2 601.8h0M257.8 607.6h0M237.9 613.7h0M274.4 596.9h0M305.0 582.4h0M271.1 612.6h0M280.3 597.7h0M237.2 600.6h0M261.6 611.2h0M259.1 620.4h0M271.1 585.8h0M304.5 596.8h0M251.7 599.2h0M254.8 621.9h0M289.6 582.9h0M287.5 592.7h0M266.9 592.8h0M272.0 590.1h0M244.4 593.5h0M260.2 599.6h0M265.4 600.7h0M275.3 592.2h0M241.1 606.8h0M247.7 615.8h0M256.9 585.7h0M253.7 600.6h0M242.8 596.2h0M256.7 586.0h0M269.0 590.7h0M300.9 598.1h0M288.4 589.3h0M258.2 604.6h0M259.8 590.0h0M259.9 588.5h0M250.7 615.1h0M300.7 580.0h0M266.5 588.3h0M295.2 580.0h0M313.4 589.0h0M254.6 611.5h0M234.3 612.8h0M249.5 613.6h0M249.8 611.5h0M237.6 600.4h0M275.7 599.5h0M289.3 590.0h0M300.3 590.0h0M241.2 608.2h0M288.9 574.2h0M298.1 574.4h0M296.1 583.9h0M243.0 604.3h0M268.5 604.3h0M278.9 596.6h0M266.0 616.6h0M276.8 603.8h0M235.9 604.7h0M276.1 591.2h0M254.4 607.7h0M257.0 603.8h0M268.7 595.9h0M296.5 582.8h0M242.4 600.3h0M243.5 602.2h0M287.9 581.0h0M304.8 594.2h0M270.3 599.3h0M303.9 593.5h0M235.6 600.2h0M256.6 621.6h0M265.7 581.8h0M303.5 578.1h0M295.0 581.3h0M301.0 598.5h0M252.0 613.0h0M308.0 583.3h0M254.0 621.1h0M248.6 612.3h0M284.8 584.0h0M255.7 614.7h0M262.6 610.9h0M296.4 595.6h0M280.2 590.5h0M284.3 580.0h0M286.6 587.5h0M273.9 593.8h0M273.6 585.3h0M303.4 584.3h0M262.4 595.0h0M279.7 596.0h0M297.5 582.6h0M262.3 610.7h0M262.8 616.4h0M272.4 607.0h0M258.9 585.8h0M240.1 619.2h0M271.3 610.5h0M245.6 626.4h0M240.8 615.0h0M277.0 592.2h0M232.3 606.7h0M261.7 595.7h0M300.7 599.6h0M276.1 597.0h0M250.9 601.5h0M232.4 599.5h0M234.8 600.3h0M281.5 587.5h0M303.6 593.3h0M283.0 585.5h0M236.5 614.6h0M277.1 590.7h0M293.3 593.6h0M249.8 624.2h0M255.2 594.1h0M296.9 577.8h0M242.8 593.0h0M242.7 601.2h0M301.8 574.9h0M311.1 600.1h0M286.4 583.8h0M246.7 589.9h0M261.7 586.2h0M237.7 618.3h0M300.8 596.4h0M275.7 593.8h0M270.9 582.2h0M237.1 619.6h0M302.9 587.4h0M292.8 582.9h0M265.3 604.6h0M247.4 599.1h0M297.5 578.2h0M271.7 590.5h0M262.1 604.5h0M281.1 596.0h0M238.9 594.5h0M301.4 593.1h0M255.1 621.4h0M296.1 587.1h0M239.9 620.8h0M278.9 583.2h0M262.6 596.0h0M273.9 600.6h0M295.0 588.2h0M255.5 616.7h0M286.4 583.2h0M299.3 574.2h0M247.4 606.6h0M302.2 579.7h0M277.2 584.2h0M245.1 605.2h0M262.3 586.1h0M314.2 594.4h0M311.8 599.0h0M303.7 597.2h0M266.5 606.0h0M283.7 580.6h0M247.0 603.5h0M235.7 597.6h0M286.8 581.7h0M259.5 592.7h0M245.0 618.3h0M294.3 593.7h0M261.1 614.8h0M301.7 592.9h0M283.0 585.9h0M243.6 611.8h0M245.2 625.1h0M299.7 597.0h0M278.4 592.3h0M257.5 595.9h0M309.7 589.3h0M231.5 603.2h0M247.4 613.6h0M289.2 578.0h0M245.0 606.8h0M240.0 596.1h0M244.6 619.7h0M278.9 581.9h0M249.2 595.3h0M278.0 600.7h0M236.0 595.9h0M259.1 597.3h0M264.7 601.3h0M251.0 619.5h0M266.9 615.4h0M302.2 579.8h0M267.4 581.0h0M263.7 602.8h0M272.6 584.0h0M232.2 599.5h0M276.4 599.5h0M275.8 600.5h0M260.6 582.1h0M254.0 622.4h0M258.1 613.7h0M239.9 608.7h0M297.1 577.7h0M265.7 579.2h0M266.2 613.6h0M286.3 586.9h0M298.5 582.1h0M304.5 586.9h0M239.9 607.0h0M309.5 592.2h0M269.9 611.8h0M249.4 618.0h0M307.7 599.9h0M270.2 584.6h0M247.9 605.1h0M298.9 586.4h0M268.2 582.4h0M293.7 572.8h0M292.4 576.6h0M247.8 614.4h0M297.6 578.5h0M295.2 576.1h0M255.5 602.0h0M259.3 587.7h0M296.1 585.6h0M269.4 594.9h0M273.1 610.2h0M264.1 600.8h0M246.5 618.6h0M254.9 584.4h0M268.5 603.7h0M269.3 588.0h0M246.4 615.8h0M236.9 608.9h0M260.2 583.4h0M273.6 610.4h0M267.3 607.5h0M303.3 582.2h0M262.3 583.2h0M301.2 576.4h0M266.5 586.6h0M242.4 620.6h0M302.7 585.5h0M272.9 593.0h0M269.2 602.3h0M278.9 600.8h0M240.4 594.0h0M237.4 619.9h0M249.9 620.1h0M294.9 595.1h0M254.3 584.7h0M251.4 603.8h0M264.5 591.9h0M252.3 607.4h0M307.6 587.7h0M263.2 610.3h0M246.1 613.8h0M266.4 589.6h0M274.0 604.3h0M279.5 579.7h0M284.6 577.4h0M287.5 593.6h0M310.8 591.6h0M272.5 607.3h0M241.9 616.3h0M254.8 619.4h0M272.9 603.1h0M249.9 596.0h0M295.5 595.8h0M242.7 606.6h0M296.8 586.0h0M247.4 619.9h0M303.6 596.7h0M278.9 600.1h0M305.7 591.1h0M234.7 612.0h0M269.4 591.2h0M248.6 591.4h0M269.3 605.5h0M235.3 603.9h0M270.4 603.8h0M245.5 624.3h0M288.7 585.3h0M287.2 576.7h0M234.9 612.9h0M288.4 578.7h0M293.9 573.0h0M242.0 603.9h0M302.7 590.2h0M277.7 581.7h0M251.7 625.9h0M257.4 620.6h0M236.0 600.5h0M273.6 598.4h0M247.2 594.3h0M250.6 625.7h0M263.3 616.6h0M303.8 575.3h0M312.2 594.3h0M261.0 582.4h0M247.9 593.7h0M304.9 597.1h0M259.3 599.6h0M287.2 576.3h0M273.3 610.9h0M257.8 619.7h0M302.1 576.5h0M267.2 585.9h0M307.7 585.5h0M246.1 600.3h0M259.7 591.4h0M303.5 580.3h0M253.0 596.0h0M287.3 582.1h0M250.3 625.6h0M289.6 587.0h0M280.8 581.1h0M255.6 604.9h0M253.0 585.2h0M290.4 576.0h0M268.8 600.8h0M311.8 592.2h0M241.4 595.2h0M297.8 582.9h0M274.8 592.9h0M247.8 604.5h0M310.9 597.0h0M262.9 595.5h0M274.2 580.0h0M253.2 610.9h0M300.1 572.7h0M253.7 602.8h0M256.3 619.2h0M294.9 584.1h0M304.8 598.1h0M254.4 593.7h0M270.0 594.6h0M260.2 586.0h0M237.6 601.0h0M307.1 593.0h0M266.5 582.1h0M277.9 601.2h0M247.4 611.9h0M282.0 587.7h0M253.2 622.1h0M260.4 605.4h0M242.5 616.9h0M255.4 619.6h0M253.5 624.1h0M259.1 590.1h0M253.2 590.7h0M259.2 586.0h0M244.8 595.5h0M255.1 613.9h0M238.6 605.0h0M275.2 577.8h0M294.4 586.0h0M263.1 605.0h0M267.3 597.9h0M278.2 592.5h0M301.6 580.8h0M233.2 599.3h0M256.1 608.7h0M254.1 619.5h0M280.0 597.0h0M255.3 604.0h0M260.2 613.8h0M271.0 602.7h0M243.3 607.6h0M283.2 580.7h0M261.0 591.5h0M242.1 600.5h0M284.1 590.8h0M285.2 582.4h0M277.0 596.5h0M292.7 573.7h0M245.0 612.4h0M269.1 580.7h0M245.1 605.3h0M271.8 580.9h0M304.4 590.8h0M281.5 586.7h0M280.1 579.2h0M273.6 607.8h0M255.2 603.9h0M248.4 598.4h0M237.1 605.3h0M235.7 615.4h0M246.6 627.3h0M280.2 589.2h0M292.3 595.1h0M308.3 601.7h0M277.7 586.5h0M251.5 616.1h0M263.2 609.7h0M282.6 581.7h0M251.6 621.1h0M288.7 575.2h0M260.0 616.0h0M263.1 582.5h0M263.0 579.9h0M266.6 589.3h0M245.7 593.8h0M250.2 620.7h0M244.2 619.5h0M268.3 612.5h0M246.9 594.9h0M258.4 583.6h0M294.7 597.0h0M254.0 593.7h0M302.7 590.7h0M303.0 599.8h0M243.9 600.5h0M259.4 589.4h0M260.1 590.6h0M256.7 610.3h0M278.5 602.6h0M245.6 619.2h0M277.5 596.6h0M250.1 619.0h0M309.1 586.7h0M244.4 597.9h0M305.7 602.0h0M303.6 581.3h0M295.0 576.3h0M265.9 611.2h0M243.9 609.4h0M251.0 605.7h0M267.3 611.7h0M263.1 600.2h0M266.8 585.0h0M262.7 615.2h0M240.8 600.2h0M261.1 589.9h0M239.5 595.6h0M256.0 589.9h0M288.3 590.0h0M289.6 572.0h0M239.3 612.6h0M256.8 587.9h0M302.9 585.7h0M297.7 588.7h0M295.6 591.6h0M264.4 591.7h0M236.7 615.1h0M296.6 584.1h0M269.6 603.2h0M299.4 580.0h0M280.0 583.2h0M275.7 591.6h0M249.4 610.4h0M293.5 593.9h0M262.8 619.4h0M270.6 582.5h0M287.8 582.4h0M246.1 602.4h0M284.7 576.0h0M253.9 621.2h0M261.3 590.0h0M271.4 588.7h0M252.5 613.1h0M246.9 622.7h0M278.7 594.0h0M305.5 601.7h0M258.0 613.2h0M257.3 595.1h0M264.3 599.8h0M273.4 579.6h0M236.3 596.5h0M241.5 596.4h0M296.3 592.6h0M265.2 608.9h0M301.4 589.8h0M300.8 583.2h0M279.1 579.2h0M268.5 595.4h0M302.9 600.5h0M272.3 597.6h0M248.0 624.9h0M254.7 597.7h0M267.7 601.2h0M297.2 582.7h0M304.0 597.6h0M255.9 607.4h0M251.1 597.9h0M281.5 578.3h0M270.8 587.8h0M269.5 594.2h0M261.9 583.2h0M235.2 604.8h0M302.1 591.5h0M314.3 595.6h0M290.1 582.8h0M250.7 603.1h0M235.5 600.6h0M282.0 595.4h0M265.7 582.4h0M259.1 597.7h0M270.4 602.0h0M280.2 597.4h0M232.7 610.2h0M292.6 591.9h0M253.2 595.6h0M264.7 592.0h0M302.4 590.7h0M272.5 590.3h0M264.5 607.7h0M240.5 607.6h0M296.7 590.7h0M248.2 590.4h0M281.9 596.3h0M288.4 584.7h0M255.3 614.8h0M300.8 582.0h0M304.1 577.8h0M289.6 575.9h0M272.5 595.0h0M273.1 608.1h0M301.3 587.6h0M285.6 582.3h0M269.8 590.4h0M242.1 606.8h0M308.1 601.2h0M259.2 619.6h0M268.0 582.8h0M298.7 595.0h0M266.8 597.1h0M267.4 615.1h0M271.8 605.2h0M282.6 592.3h0M233.7 609.0h0M260.4 585.0h0M270.0 609.3h0M243.6 601.0h0M296.1 586.3h0M302.9 588.0h0M260.0 591.5h0M300.1 578.7h0M236.9 599.4h0M307.7 595.7h0M232.9 608.5h0M309.5 597.0h0M233.8 598.0h0M300.6 590.7h0M258.2 609.3h0M256.3 606.8h0M266.2 592.6h0M274.0 582.0h0M300.4 586.4h0M245.4 598.5h0M263.0 613.4h0M256.9 614.3h0M260.0 621.6h0M264.1 609.7h0M246.2 591.5h0M275.0 605.4h0M297.5 579.1h0M304.0 593.5h0M247.3 626.1h0M277.5 601.2h0M265.7 609.5h0M262.5 615.9h0M231.2 608.0h0M242.2 616.5h0M247.8 624.0h0M260.3 619.2h0M266.5 609.4h0M278.1 589.1h0M297.1 596.4h0M269.2 594.3h0M271.1 597.5h0M272.9 578.6h0M270.8 611.4h0M297.7 597.4h0M256.1 589.9h0M271.8 594.9h0M255.7 620.0h0M240.5 600.5h0M257.3 619.1h0M310.0 584.6h0M242.1 613.7h0M312.1 591.4h0M272.7 597.4h0M254.6 600.4h0M298.3 592.5h0M260.3 585.2h0M239.9 602.7h0M301.9 576.5h0M246.8 614.5h0M262.1 608.2h0M238.0 617.4h0M241.0 621.5h0M300.4 594.7h0M295.4 582.5h0M249.8 593.6h0M259.8 612.9h0M284.8 582.5h0M268.1 596.9h0M250.0 590.8h0M257.8 620.5h0M256.3 607.4h0M286.6 581.5h0M282.4 584.4h0M299.2 581.8h0M285.2 590.9h0M290.9 582.3h0M253.7 602.9h0M269.2 582.1h0M274.6 579.2h0M307.7 590.0h0M248.5 602.4h0M238.2 598.5h0M269.8 581.9h0M269.1 597.3h0M279.3 592.6h0M257.5 622.6h0M271.3 582.2h0M308.8 589.7h0M254.2 602.1h0M274.5 581.1h0M244.8 621.3h0M266.1 617.8h0M266.0 600.2h0M267.4 610.0h0M310.1 595.4h0M300.7 592.5h0M295.3 583.0h0M298.4 583.7h0M244.2 609.3h0M254.7 603.9h0M276.7 598.3h0M256.6 602.8h0M272.4 583.7h0M279.4 591.8h0M271.6 600.2h0M257.7 589.6h0M264.9 588.2h0M287.4 583.3h0M253.8 609.2h0M299.8 596.8h0M293.1 588.6h0M255.1 612.3h0M260.7 599.7h0M278.3 578.9h0M281.9 588.0h0M295.7 573.9h0M257.3 610.4h0M309.2 588.9h0M281.5 589.3h0M262.4 598.5h0M281.2 578.4h0M299.5 581.1h0M239.8 616.5h0M267.0 583.6h0M293.9 581.0h0M258.4 586.6h0M263.1 591.7h0M275.7 597.1h0M259.7 595.4h0M256.0 587.3h0M238.5 595.5h0M244.7 595.6h0M285.0 575.2h0M275.1 594.8h0M259.1 606.3h0M241.6 594.1h0M259.1 592.5h0M238.4 610.6h0M240.3 605.5h0M254.0 612.5h0M302.8 578.4h0M275.5 608.6h0M256.7 604.7h0M247.5 590.2h0M306.0 602.5h0M240.8 610.6h0M281.1 593.4h0M285.6 586.9h0M256.1 592.4h0M245.4 602.5h0M293.9 587.7h0M240.2 619.6h0M298.7 587.7h0M251.0 616.8h0M271.2 583.3h0M255.7 593.1h0M268.8 597.3h0M306.7 581.9h0M305.6 592.3h0M251.5 603.3h0M249.3 602.7h0M270.4 592.3h0M305.6 593.4h0M281.6 578.9h0M260.7 619.9h0M302.0 589.8h0M269.0 609.6h0M274.3 583.7h0M271.6 580.9h0M259.6 602.1h0M304.3 587.2h0M276.9 579.2h0M238.9 606.0h0M268.2 600.4h0M241.9 602.7h0M261.9 589.3h0M256.9 611.3h0M252.0 597.1h0M277.3 587.9h0M251.7 607.6h0M241.1 604.9h0M244.5 624.6h0M262.7 617.7h0M264.0 602.8h0M248.5 615.7h0M274.0 582.0h0M263.3 618.9h0M232.9 611.1h0M249.7 605.2h0M283.9 584.3h0M295.6 581.8h0M285.1 574.5h0M308.3 580.0h0M238.4 605.5h0M280.7 584.8h0M255.9 619.7h0M247.1 623.3h0M276.9 606.3h0M300.1 592.5h0M247.3 610.1h0M256.8 611.4h0M264.8 604.4h0M244.9 597.3h0M252.1 606.9h0M268.2 590.5h0M244.0 598.1h0M274.8 585.6h0M288.7 580.0h0M266.8 613.1h0M296.2 585.7h0M264.3 581.1h0M258.9 586.0h0M270.2 612.4h0M276.1 583.7h0M256.0 617.9h0M257.3 588.2h0M256.6 587.4h0M239.0 615.2h0M287.5 579.8h0M257.3 620.5h0M268.1 589.6h0M264.3 605.9h0M279.5 576.8h0M254.2 605.9h0M309.7 594.9h0M264.7 613.7h0M255.7 597.4h0M245.0 596.6h0M233.9 605.5h0M253.5 609.6h0M244.5 603.9h0M265.7 597.2h0M313.1 592.8h0M272.2 609.3h0M250.8 597.0h0M239.5 600.1h0M275.7 584.1h0M245.8 618.7h0M309.0 586.1h0M259.6 614.4h0M262.4 613.4h0M251.8 593.9h0M270.9 595.0h0M243.9 597.4h0M260.5 610.1h0M246.4 593.2h0M286.0 591.2h0M255.5 612.7h0M297.3 593.5h0M273.9 586.9h0M246.4 598.4h0M270.5 581.4h0M297.5 597.7h0M304.2 586.9h0M233.7 605.5h0M298.8 592.2h0M272.4 596.5h0M259.0 595.0h0M271.8 584.0h0M278.7 585.8h0M288.2 579.4h0M248.3 592.9h0M296.0 595.7h0M287.8 577.8h0M304.8 597.7h0M301.4 574.1h0M308.0 587.7h0M265.0 610.9h0M287.9 575.8h0M249.1 620.9h0M243.6 623.6h0M279.8 594.3h0M286.7 589.4h0M238.5 610.2h0M256.9 614.6h0M270.7 603.0h0M273.1 597.5h0M303.4 600.6h0M264.8 614.5h0M263.1 591.2h0M256.8 610.5h0M238.9 612.8h0M245.4 594.6h0M245.0 615.0h0M239.0 607.1h0M270.4 596.6h0M268.3 595.8h0M274.5 585.0h0M248.2 615.8h0M271.3 606.9h0M274.0 586.3h0M242.6 595.9h0M257.0 587.6h0M307.0 602.6h0M298.2 595.4h0M249.2 621.0h0M260.4 612.8h0M282.8 594.2h0M295.9 573.8h0M245.8 599.0h0M310.5 593.0h0M271.7 599.4h0M270.8 587.9h0M239.0 603.1h0M237.9 619.9h0M279.3 591.3h0M303.5 593.3h0M283.9 595.0h0M243.8 598.7h0M264.0 595.2h0M262.4 606.4h0M236.3 599.8h0M288.1 579.4h0M266.9 613.2h0M239.3 616.8h0M254.1 603.2h0M269.4 583.6h0M235.5 606.2h0M289.3 593.4h0M264.2 598.5h0M308.2 600.4h0M264.3 587.7h0M275.1 605.1h0M245.6 598.3h0M265.1 612.4h0M270.9 607.9h0M263.7 605.1h0M299.9 587.4h0M299.4 582.4h0M262.7 618.4h0M304.7 584.0h0M275.7 600.9h0M232.0 604.3h0M308.6 586.2h0M296.3 594.7h0M255.9 604.9h0M279.3 587.9h0M275.0 585.7h0M251.2 592.1h0M258.4 582.9h0M305.9 585.1h0M246.5 618.3h0M279.4 597.6h0M277.1 586.0h0M248.5 605.8h0M264.1 604.7h0M302.3 580.8h0M254.4 602.1h0M294.4 593.4h0M307.6 584.3h0M282.7 577.6h0M245.7 623.1h0M305.8 595.1h0M259.5 594.5h0M246.4 610.4h0M258.1 585.3h0M297.3 593.0h0M306.4 581.4h0M284.5 584.0h0M256.5 610.0h0M252.1 587.7h0M307.6 587.6h0M264.7 600.5h0M283.8 594.2h0M292.3 577.3h0M268.7 578.8h0M295.3 579.1h0M278.7 596.1h0M251.6 615.3h0M266.3 600.6h0M237.8 597.4h0M250.6 589.1h0M272.3 604.3h0M313.2 599.2h0M260.5 591.3h0M239.3 618.9h0M265.7 586.1h0M284.2 581.5h0M264.2 583.1h0M272.3 604.9h0M261.1 592.7h0M250.7 624.3h0M267.9 593.6h0M268.2 603.1h0M261.5 608.3h0M280.6 578.9h0M273.3 602.6h0M245.7 604.2h0M274.6 594.3h0M253.1 609.1h0M251.1 608.4h0M299.3 593.7h0M278.4 593.9h0M285.7 588.2h0M245.0 622.7h0M288.8 574.8h0M237.6 618.4h0M255.4 616.2h0M261.3 588.2h0M287.0 573.7h0M296.8 594.7h0M303.3 581.3h0M299.6 573.8h0M253.6 607.6h0M268.0 611.4h0M259.7 597.2h0M264.4 602.8h0M259.8 590.0h0M271.3 594.7h0M283.1 591.4h0M272.3 593.5h0M290.2 578.4h0M268.3 578.3h0M240.7 616.0h0M275.3 595.2h0M282.2 583.6h0M265.5 586.6h0M297.1 584.9h0M307.7 591.5h0M237.3 617.9h0M248.1 598.5h0M273.3 605.7h0M250.5 606.4h0M235.2 607.0h0M249.5 592.7h0M262.7 605.7h0M234.3 601.5h0M276.1 599.7h0M305.0 582.9h0M301.4 600.0h0M307.9 599.1h0M268.6 596.3h0M252.7 621.3h0M280.4 578.0h0M256.1 608.4h0M241.0 609.3h0M255.3 612.2h0M276.8 596.9h0M273.7 605.4h0M257.3 607.3h0M233.4 598.8h0M281.2 585.2h0M276.6 588.4h0M232.0 606.7h0M249.3 590.9h0M232.8 601.5h0M264.0 616.6h0M256.9 623.6h0M245.8 598.7h0M269.0 595.1h0M258.4 618.4h0M283.9 577.4h0M253.8 622.8h0M268.9 603.9h0M241.5 610.9h0M244.4 598.4h0M301.9 591.8h0M258.4 592.2h0M289.2 580.1h0M259.8 613.1h0M308.1 584.4h0M248.4 590.9h0M263.1 582.0h0M277.1 579.1h0M281.7 589.3h0M264.2 614.3h0M270.2 595.5h0M248.0 595.3h0M301.2 585.3h0M290.4 593.9h0M274.6 596.8h0M267.2 600.4h0M264.0 600.4h0M243.7 609.4h0M245.2 623.4h0M290.3 586.9h0M302.6 577.4h0M259.4 603.9h0M306.1 592.5h0M249.4 622.3h0M301.0 593.4h0M247.3 609.2h0M310.6 589.4h0M259.5 590.2h0M312.8 595.8h0M234.7 601.2h0M247.0 605.2h0M251.9 611.7h0M231.6 608.0h0M277.1 607.6h0M247.0 611.9h0M239.8 602.5h0M294.3 594.1h0M277.0 601.1h0M252.5 608.4h0M252.0 591.0h0M272.1 578.7h0M243.6 595.0h0M267.2 591.8h0M229.1 606.8h0M251.5 607.7h0M253.0 621.8h0M239.2 595.8h0M272.1 595.0h0M276.4 596.3h0M302.8 588.3h0M300.2 589.9h0M273.0 582.2h0M306.8 588.6h0M278.2 592.5h0M261.2 602.2h0M274.2 598.5h0M258.2 588.1h0M238.8 611.4h0M248.4 591.8h0M236.2 606.3h0" stroke="#0000ff" stroke-width="2.00" stroke-linecap="round" fill="none"/>
<path d="M210.6 604.3h0M206.0 593.7h0M209.6 598.5h0M232.0 603.8h0M233.7 602.5h0M225.0 608.4h0M224.4 593.0h0M221.6 605.1h0M237.2 589.4h0M228.9 602.9h0M203.6 591.4h0M212.5 590.1h0M211.8 584.2h0M238.5 591.3h0M219.5 601.9h0M232.6 597.9h0M233.1 601.5h0M211.5 596.3h0M223.9 605.6h0M217.9 593.2h0M220.4 606.8h0M228.6 593.7h0M215.8 593.1h0M216.3 604.4h0M222.6 597.6h0M213.6 603.9h0" stroke="#0000ff" stroke-width="2.00" stroke-linecap="round" fill="none"/>
<path d="M285.3 572.8h0M274.0 570.8h0M279.1 579.1h0M273.4 576.5h0M286.4 572.0h0M280.2 573.3h0M270.8 567.9h0M281.2 578.3h0M272.8 577.0h0M268.3 570.8h0M265.4 572.2h0M269.7 564.4h0M281.8 571.8h0M272.7 573.8h0M277.4 573.8h0M283.3 567.0h0M276.2 566.0h0M271.7 578.0h0M288.6 575.0h0M265.0 566.4h0M270.8 564.1h0M267.4 569.4h0M268.4 573.2h0M264.9 572.4h0M283.8 576.3h0M273.6 568.7h0M263.4 568.2h0M261.4 570.5h0M266.9 572.3h0M286.7 569.8h0M269.9 578.9h0M269.2 569.3h0M282.6 571.1h0M279.0 568.9h0M279.4 566.3h0M266.2 568.4h0M286.9 572.6h0M270.5 579.2h0M274.5 579.3h0M287.8 572.8h0" stroke="#0000ff" stroke-width="2.00" stroke-linecap="round" fill="none"/>
<path d="M208.9 613.5L209.8 613.1L211.0 612.9L212.5 612.8L214.0 612.9L215.4 613.0L216.7 613.2L217.6 613.5L219.0 614.2L220.0 615.4L220.9 616.8L221.5 618.4L221.9 619.6L222.2 621.0L222.4 622.5L222.6 624.0L222.6 625.5L222.6 627.0L222.4 628.6L222.2 630.3L221.8 631.8L221.3 633.1L220.8 634.0L219.7 634.8L218.2 635.3L216.5 635.6L214.8 635.8L213.4 635.8L211.9 635.8L210.4 635.6L209.0 635.3L207.8 634.8L206.5 634.0L205.4 632.9L204.5 631.6L203.9 630.0L203.8 629.0L203.8 627.8L203.9 626.5L204.1 625.0L204.4 623.4L204.8 622.0L205.1 620.6L205.6 619.1L206.1 617.6L206.7 616.2L207.3 615.0L208.1 614.1Z" fill="#ff0000"/>
<path d="M208.5 633.6h0M204.0 620.5h0M207.2 636.6h0M209.7 634.9h0M217.4 636.0h0M219.5 615.8h0M222.3 633.8h0M203.9 623.1h0M207.3 615.7h0M223.2 620.4h0M205.4 623.7h0M203.6 628.0h0M210.0 636.9h0M210.2 613.2h0M222.0 617.4h0M221.1 629.0h0M222.3 628.7h0M222.7 617.2h0M203.0 632.2h0M204.6 620.4h0M222.7 626.5h0M210.7 637.4h0M203.2 632.8h0M203.6 628.1h0M208.0 614.7h0M223.0 626.9h0M220.8 617.0h0M214.4 636.8h0M203.4 624.8h0M208.9 636.7h0M218.0 636.1h0M221.9 631.9h0M216.3 612.5h0M212.4 613.9h0M219.5 635.2h0M221.6 626.3h0M213.3 637.6h0M205.2 621.2h0M204.3 631.1h0M211.7 611.5h0M207.4 615.3h0M221.8 619.6h0M223.9 623.6h0M202.0 627.3h0M221.1 617.5h0M206.8 634.9h0M217.6 613.2h0M223.7 622.7h0M214.0 635.4h0M212.8 612.9h0M203.4 624.4h0M202.8 629.5h0M221.3 631.8h0M217.5 634.3h0M208.1 614.4h0M216.4 613.9h0M218.3 613.1h0M202.3 623.7h0M207.8 615.0h0M221.9 634.0h0M217.3 613.2h0M214.7 613.0h0M222.1 624.9h0M208.7 612.8h0M205.5 619.9h0M207.3 635.6h0M223.2 629.7h0M202.0 630.7h0M223.3 626.8h0M216.3 635.0h0M218.5 612.9h0M202.1 624.3h0M208.7 635.3h0M221.2 620.7h0M215.3 611.7h0M208.8 635.8h0M219.7 635.7h0M204.8 634.5h0M202.8 621.9h0M203.8 618.0h0M207.7 635.4h0M203.5 624.3h0M221.1 615.8h0M220.4 634.5h0M222.9 628.9h0M216.1 637.0h0M222.3 618.3h0M220.6 619.4h0M223.3 628.5h0M223.1 628.2h0M223.5 629.1h0M223.6 630.8h0M222.7 618.2h0M223.6 625.1h0M205.2 623.5h0M211.9 612.2h0M202.1 628.7h0M223.0 631.4h0M220.5 631.4h0M207.0 633.4h0M217.0 636.4h0M221.3 619.8h0M205.4 632.2h0M222.6 619.1h0M223.4 626.5h0M224.3 625.6h0M223.0 628.0h0M223.2 625.9h0M220.7 633.8h0M222.2 628.2h0M220.7 633.1h0M219.4 634.3h0M206.9 633.2h0M213.6 612.9h0M205.9 630.5h0M223.4 623.5h0M202.0 628.6h0M202.7 629.3h0M204.4 624.8h0M219.8 614.1h0M208.2 605.8h0M226.6 629.5h0M226.0 635.5h0M208.6 637.3h0M221.3 636.2h0M210.7 608.3h0M210.9 610.7h0M204.0 622.7h0M216.4 637.6h0M207.8 609.9h0M224.5 622.4h0M226.5 625.5h0M199.8 630.3h0M229.2 627.6h0M202.8 635.4h0M201.2 623.8h0M218.0 609.6h0M215.6 638.0h0M201.7 620.2h0M224.1 613.6h0M214.2 638.2h0M217.4 610.0h0M215.1 639.0h0M201.7 627.7h0M215.6 638.4h0M222.8 632.4h0M197.2 628.7h0M203.7 622.6h0M202.4 636.8h0M225.5 616.2h0M208.0 636.1h0M206.4 643.6h0M203.1 618.9h0M215.2 612.1h0M201.3 629.7h0M218.3 643.3h0M204.3 615.7h0M223.5 620.2h0M220.6 636.0h0M221.3 612.6h0M224.3 626.9h0M201.6 630.4h0M206.3 611.6h0M218.9 637.9h0M218.6 639.2h0M227.9 629.2h0M208.9 611.3h0M212.9 610.3h0M206.3 611.8h0M212.0 605.2h0M200.0 619.0h0M206.6 613.4h0M218.5 611.2h0M216.7 609.9h0M211.7 609.5h0M213.1 607.2h0M218.8 640.1h0M225.2 631.3h0M207.7 611.7h0M225.1 634.6h0" stroke="#ff0000" stroke-width="2.00" stroke-linecap="round" fill="none"/>
<path d="M232.4 648.6L233.8 648.2L235.3 647.9L236.7 647.8L238.1 647.7L239.3 647.8L240.5 648.1L241.7 648.5L242.8 649.1L244.0 649.9L245.1 650.9L246.2 652.1L247.3 653.4L248.3 654.7L249.2 656.0L250.0 657.3L250.9 658.6L251.6 660.0L252.3 661.4L252.9 662.9L253.3 664.4L253.6 665.9L253.8 667.3L253.8 668.8L253.8 670.3L253.6 671.9L253.4 673.5L253.2 675.0L252.8 676.5L252.5 677.8L251.9 679.3L251.3 680.6L250.6 681.9L249.8 683.1L248.9 684.3L248.0 685.4L247.0 686.6L246.0 687.7L245.0 688.8L243.9 689.8L242.7 690.8L241.6 691.7L240.4 692.5L239.3 693.2L237.8 693.9L236.3 694.6L234.7 695.1L233.3 695.5L232.2 695.6L231.4 695.5L230.7 695.1L230.1 694.1L229.6 692.9L229.2 691.4L228.9 690.0L228.9 688.7L229.2 687.2L229.6 685.6L230.1 683.9L230.3 682.1L230.1 680.3L229.4 678.7L228.4 677.2L227.3 676.0L226.1 674.8L224.9 673.6L223.8 672.5L222.8 671.4L221.8 670.3L220.7 669.2L219.8 668.2L218.9 667.1L218.2 665.9L217.6 664.5L217.0 663.0L216.5 661.5L216.1 660.1L216.0 658.9L216.0 658.1L216.5 657.0L217.6 656.1L219.2 655.2L221.1 654.2L222.2 653.5L223.6 652.7L225.0 651.9L226.5 651.0L228.1 650.3L229.6 649.6L231.0 649.0Z" fill="#008000"/>
<path d="M241.4 647.2h0M241.8 649.9h0M236.0 646.7h0M229.1 684.0h0M230.2 682.7h0M237.3 694.3h0M216.7 657.5h0M253.0 669.1h0M228.8 686.6h0M245.6 688.9h0M227.8 689.6h0M222.3 653.6h0M233.7 647.7h0M215.8 656.5h0M249.2 686.3h0M220.6 670.3h0M240.1 648.6h0M253.1 676.6h0M246.2 687.4h0M249.1 682.8h0M253.5 666.4h0M221.1 670.3h0M228.1 676.4h0M250.1 685.4h0M229.2 684.7h0M214.4 655.5h0M241.0 692.1h0M240.1 647.0h0M235.1 697.1h0M225.7 651.2h0M253.9 668.2h0M240.6 647.4h0M229.0 690.3h0M250.7 682.4h0M254.2 675.6h0M253.9 662.8h0M218.7 654.2h0M216.6 657.0h0M216.1 657.8h0M248.0 685.8h0M230.4 688.7h0M250.1 656.2h0M254.3 669.0h0M228.1 690.1h0M228.9 688.5h0M249.1 685.1h0M238.1 693.7h0M245.9 687.2h0M252.3 662.7h0M231.0 696.7h0M240.5 694.2h0M220.4 669.1h0M249.7 681.3h0M249.1 683.4h0M247.7 687.0h0M216.7 662.8h0M251.7 681.4h0M224.1 672.3h0M237.0 647.3h0M248.4 656.1h0M250.6 682.8h0M217.9 665.0h0M243.5 648.2h0M223.2 650.7h0M252.9 666.3h0M229.9 679.1h0M235.5 695.7h0M251.3 680.0h0M225.7 675.3h0M244.5 688.6h0M252.0 666.6h0M218.8 669.3h0M219.4 668.2h0M253.5 670.5h0M247.5 685.5h0M216.8 656.7h0M227.4 648.6h0M230.0 681.1h0M228.7 692.1h0M243.8 649.6h0M217.1 664.2h0M225.4 675.6h0M242.3 648.9h0M224.1 651.9h0M242.7 648.8h0M235.9 694.0h0M252.6 679.7h0M236.1 695.5h0M254.8 666.9h0M230.6 694.7h0M218.2 654.7h0M217.9 666.4h0M253.7 665.3h0M248.6 657.7h0M220.3 667.5h0M243.3 690.9h0M237.0 648.0h0M241.5 647.5h0M226.7 650.4h0M214.4 661.7h0M229.6 695.0h0M228.4 677.8h0M240.2 691.8h0M245.3 687.1h0M215.6 656.2h0M219.8 652.8h0M247.5 654.1h0M253.4 674.5h0M220.6 653.3h0M253.3 665.3h0M254.0 670.7h0M253.7 667.4h0M216.8 656.8h0M217.1 656.5h0M253.3 676.7h0M253.8 674.9h0M237.6 694.6h0M224.7 672.6h0M224.1 671.7h0M253.1 672.6h0M227.5 651.4h0M247.5 685.3h0M231.2 648.5h0M256.2 669.4h0M238.5 692.8h0M252.3 660.8h0M233.3 695.7h0M252.5 664.3h0M253.9 677.5h0M226.4 650.9h0M229.6 685.3h0M219.4 671.3h0M216.8 656.6h0M250.6 660.0h0M223.7 652.4h0M236.6 647.1h0M220.8 667.5h0M250.5 655.8h0M250.2 659.0h0M245.5 650.3h0M254.9 668.6h0M237.2 693.7h0M232.7 648.6h0M234.0 647.3h0M251.4 680.5h0M249.2 656.6h0M230.0 649.0h0M253.0 660.8h0M225.2 673.2h0M254.0 670.9h0M232.4 696.3h0M254.6 663.6h0M233.6 648.3h0M230.1 681.8h0M239.5 648.2h0M222.8 651.5h0M239.5 693.3h0M220.0 668.1h0M238.6 694.6h0M248.2 654.2h0M222.9 653.6h0M223.9 671.5h0M253.8 673.8h0M213.2 658.5h0M250.9 681.2h0M227.9 677.3h0M240.6 648.5h0M229.5 686.4h0M243.3 689.4h0M241.5 649.4h0M228.6 650.6h0M218.6 666.3h0M217.4 655.9h0M216.9 656.0h0M248.4 683.2h0M220.5 672.0h0M252.4 666.9h0M249.1 655.4h0M220.5 670.8h0M239.9 648.5h0M255.2 668.8h0M251.3 659.6h0M222.8 672.3h0M238.5 693.4h0M216.6 656.0h0M247.7 685.7h0M226.0 650.5h0M221.5 669.8h0M236.2 696.7h0M227.1 674.7h0M251.6 683.6h0M229.0 649.2h0M252.5 680.6h0M240.5 647.6h0M252.1 677.3h0M252.7 675.7h0M233.3 695.5h0M241.1 692.2h0M229.1 683.9h0M226.3 675.8h0M245.8 689.5h0M247.1 687.3h0M254.2 674.0h0M229.8 693.7h0M252.1 682.9h0M252.5 677.3h0M252.2 662.0h0M250.4 654.8h0M243.1 690.3h0M254.4 674.3h0M253.8 674.1h0M231.1 693.9h0M229.4 680.0h0M253.2 677.1h0M253.6 671.4h0M249.0 683.2h0M228.6 692.5h0M227.1 678.4h0M223.5 649.6h0M220.6 690.0h0M234.8 646.5h0M232.9 698.4h0M220.0 670.8h0M223.8 675.2h0M214.7 657.8h0M256.1 670.6h0M226.6 681.7h0M222.4 693.6h0M257.0 672.8h0M228.7 698.7h0M212.8 654.2h0M231.1 698.5h0M216.8 665.6h0M219.7 651.0h0M241.5 646.2h0M254.2 651.5h0M214.7 653.6h0M255.2 676.4h0M240.4 645.4h0M254.6 666.9h0M226.0 694.7h0M247.7 691.5h0M226.7 679.9h0M206.8 666.0h0M254.6 681.3h0M231.4 645.9h0M238.1 698.1h0M247.0 698.2h0M257.4 671.5h0M257.1 673.1h0M228.4 683.9h0M257.6 673.1h0M253.4 654.9h0M256.3 663.4h0M223.5 648.4h0M256.5 667.3h0M234.8 644.1h0M216.9 668.2h0M237.6 696.9h0M255.1 664.4h0M219.1 670.7h0M257.6 673.4h0M225.7 688.5h0M246.0 646.0h0M234.9 645.6h0M247.0 647.4h0M243.4 647.0h0M233.1 646.4h0M225.4 645.0h0M249.3 651.3h0M222.9 680.0h0M225.4 684.1h0M249.4 654.0h0M249.3 651.0h0M259.3 666.9h0M252.1 690.5h0M220.3 674.4h0M232.5 645.7h0M253.1 683.3h0M224.4 690.2h0M255.5 666.6h0M226.3 697.0h0M255.1 682.3h0M258.1 673.6h0M213.5 664.4h0M253.4 691.3h0M241.8 647.1h0M241.4 642.0h0M223.1 674.1h0M213.3 663.4h0M255.7 677.4h0M226.3 682.2h0M226.4 689.4h0M239.3 643.1h0M232.6 642.5h0M256.7 671.3h0M248.4 650.5h0M254.7 657.1h0M235.2 699.5h0M213.3 676.6h0M213.3 661.3h0M246.3 691.4h0M233.6 698.3h0M238.7 647.2h0M249.6 688.6h0M219.3 672.6h0M236.9 701.2h0M223.1 675.4h0M247.4 647.6h0M237.8 647.0h0M251.1 654.5h0M239.4 697.7h0M250.5 656.0h0M218.7 674.0h0M225.6 687.4h0M228.8 680.5h0M256.1 674.5h0M223.3 693.6h0M249.7 685.9h0M253.4 677.4h0M207.3 664.3h0M226.4 692.9h0M240.3 645.6h0M228.4 684.5h0M240.4 643.2h0" stroke="#008000" stroke-width="2.00" stroke-linecap="round" fill="none"/>
<path d="M216.4 673.0h0M209.0 667.3h0M221.5 673.1h0M211.2 654.4h0M223.3 687.0h0M210.5 667.1h0M221.4 669.5h0M225.8 649.4h0M206.0 659.3h0M217.6 646.5h0M216.4 649.4h0M221.5 686.0h0M210.5 661.2h0M225.3 675.3h0M207.1 656.0h0M225.1 691.7h0M224.4 692.2h0M230.4 666.9h0M229.7 672.4h0M207.2 654.0h0M227.3 688.6h0M218.8 674.2h0M217.6 662.7h0M224.7 689.9h0M229.1 665.7h0M209.9 658.2h0M211.2 661.1h0M208.7 661.8h0M211.3 650.0h0M214.0 672.4h0M211.9 647.1h0M211.6 680.9h0M213.8 672.9h0M217.0 680.3h0M211.7 683.0h0M212.8 677.0h0M228.5 667.8h0M221.6 686.7h0M206.6 653.2h0M207.8 649.5h0M219.8 651.5h0M221.5 653.6h0M212.6 684.3h0M208.8 645.6h0M219.1 691.9h0M222.0 678.6h0M212.8 658.9h0M217.0 681.7h0M225.4 685.0h0M207.5 667.0h0M215.0 688.8h0M214.6 655.9h0M224.6 675.2h0M215.1 690.8h0M213.7 671.6h0M227.2 678.2h0M224.0 649.9h0M223.3 676.1h0M230.7 669.5h0M219.9 693.3h0M214.4 675.7h0M215.4 656.7h0M221.4 660.6h0M227.7 668.9h0M230.6 665.6h0M230.3 678.7h0M226.4 652.9h0M208.2 667.6h0M217.4 681.0h0M206.1 662.7h0M219.9 683.3h0M225.6 661.9h0M210.2 652.9h0M230.1 668.2h0M217.1 675.1h0M215.7 672.0h0M225.8 672.5h0M224.8 651.4h0M212.5 687.8h0M215.1 663.6h0M212.6 657.4h0M214.1 650.2h0M225.1 693.9h0M219.6 676.1h0M207.5 668.2h0M225.2 685.1h0M210.6 668.7h0M226.9 672.9h0M221.0 676.5h0M218.8 675.6h0M229.5 669.8h0M212.8 662.6h0M217.8 682.1h0M212.8 654.4h0M225.9 683.5h0M216.7 692.9h0M227.4 661.1h0M224.7 659.7h0M215.9 663.3h0M223.0 655.5h0M214.2 673.4h0M210.9 648.1h0M206.2 667.4h0M209.7 681.6h0M214.6 655.3h0M214.0 653.4h0M218.0 657.1h0M213.6 685.6h0M215.3 666.7h0M229.1 661.1h0M208.4 677.5h0M223.5 677.6h0M211.3 666.2h0M211.6 664.4h0M210.1 677.1h0M208.2 674.0h0M205.9 664.5h0M214.2 674.9h0M209.3 661.2h0M209.8 680.2h0M208.5 659.8h0M206.9 660.3h0M214.5 692.5h0M220.1 653.3h0M215.3 684.6h0M209.3 673.2h0M206.3 657.2h0M227.9 672.9h0M212.4 677.0h0M219.7 668.2h0M224.8 670.7h0M209.7 652.6h0M222.2 672.6h0M217.5 669.3h0M212.6 658.9h0M225.8 689.8h0M208.8 676.5h0M228.5 656.3h0M218.6 652.6h0M221.5 679.6h0M222.9 687.6h0M210.0 646.2h0M221.9 663.6h0M218.4 668.0h0M213.1 668.7h0M224.1 648.7h0M210.9 675.9h0M207.8 660.5h0M220.6 674.3h0M213.2 689.1h0M212.2 661.8h0M212.1 649.5h0M213.8 683.1h0M221.7 686.5h0M229.7 664.6h0M221.4 673.0h0M208.1 672.8h0M220.6 649.5h0M209.4 651.9h0M215.5 645.3h0M218.5 663.9h0M215.3 670.6h0M216.6 657.9h0M210.7 683.3h0M228.8 681.3h0M226.6 675.2h0M221.8 666.4h0M223.0 659.4h0M219.9 684.3h0M224.1 666.9h0M217.2 632.4h0M223.8 638.8h0M223.5 630.6h0M223.0 642.2h0M213.9 647.3h0M222.3 650.2h0M213.4 639.5h0M214.5 640.4h0M210.1 633.5h0M218.4 646.2h0M221.5 644.6h0M219.7 631.5h0M220.5 642.6h0M216.2 646.6h0M221.2 631.2h0M216.1 640.7h0M222.1 631.9h0M218.0 639.8h0M216.9 638.1h0M215.5 633.7h0M213.9 635.6h0M214.7 629.4h0M214.0 636.8h0M226.7 634.7h0M219.3 636.7h0M227.2 633.2h0M213.1 643.9h0M226.7 638.8h0M214.5 636.7h0M228.7 634.7h0M226.4 646.0h0M222.4 649.5h0M214.7 650.1h0M217.7 643.3h0M221.2 645.6h0M214.6 639.7h0M225.5 648.7h0M226.7 638.5h0M213.8 633.4h0M212.4 628.9h0M216.6 634.8h0M230.8 642.0h0M216.5 642.2h0M220.7 639.2h0M222.6 642.7h0M220.6 627.7h0M228.6 643.0h0M226.5 645.3h0M212.2 640.0h0M217.9 650.5h0" stroke="#008000" stroke-width="2.00" stroke-linecap="round" fill="none"/>
<path d="M201.2 682.1L202.2 681.8L203.4 681.5L204.8 681.3L206.3 681.1L207.8 681.0L209.3 681.0L210.6 681.2L212.1 681.6L213.7 682.1L215.2 682.8L216.6 683.6L218.0 684.5L219.1 685.4L220.1 686.4L221.0 687.5L221.7 688.7L222.4 689.9L222.9 691.3L223.3 692.8L223.6 694.2L223.8 695.7L223.8 697.3L223.8 699.0L223.8 700.7L223.6 702.3L223.3 703.7L222.9 705.3L222.3 706.8L221.6 708.3L220.8 709.7L219.9 711.1L218.9 712.4L218.0 713.5L216.9 714.6L215.8 715.7L214.7 716.7L213.5 717.6L212.4 718.3L211.4 718.9L210.0 719.4L208.7 719.6L207.3 719.6L205.9 719.4L204.5 718.9L203.5 718.3L202.4 717.6L201.3 716.7L200.1 715.6L199.0 714.5L197.9 713.4L196.9 712.3L195.8 711.1L194.8 710.0L193.9 708.9L193.1 707.7L192.6 706.4L192.2 705.0L192.1 703.7L192.1 702.3L192.2 700.7L192.5 699.0L192.8 697.3L193.1 695.7L193.4 694.2L193.8 692.9L194.3 691.2L194.9 689.7L195.6 688.5L196.3 687.4L197.0 686.4L197.9 685.1L198.7 683.9L199.8 682.9Z" fill="#a52a2a"/>
<path d="M202.0 681.1h0M194.8 709.5h0M204.1 681.1h0M217.3 684.1h0M201.2 682.1h0M199.6 683.9h0M218.1 686.4h0M203.4 718.2h0M197.1 686.0h0M193.3 694.4h0M193.3 707.7h0M209.5 719.9h0M203.1 716.7h0M215.1 715.5h0M224.5 698.4h0M211.2 719.6h0M202.4 682.1h0M223.7 694.0h0M222.0 707.3h0M204.4 680.4h0M191.3 702.1h0M214.6 716.5h0M200.1 682.7h0M221.1 710.2h0M193.2 706.5h0M205.7 719.9h0M207.3 680.7h0M211.0 681.7h0M198.4 715.1h0M221.5 684.0h0M222.3 695.2h0M198.4 710.6h0M194.3 711.2h0M208.1 680.9h0M194.1 688.8h0M193.4 696.0h0M218.8 714.0h0M193.8 690.0h0M193.3 708.1h0M223.4 692.8h0M219.9 711.9h0M196.1 713.2h0M195.8 711.1h0M218.0 684.1h0M222.2 691.8h0M203.2 680.8h0M192.2 701.9h0M221.1 685.8h0M220.1 685.5h0M193.4 707.7h0M198.6 683.7h0M192.7 701.5h0M216.0 682.7h0M218.6 713.4h0M221.7 688.4h0M217.4 683.8h0M194.3 710.8h0M206.6 719.9h0M190.4 705.5h0M206.7 681.9h0M192.5 706.6h0M194.0 691.2h0M194.1 690.7h0M195.7 710.7h0M193.4 694.7h0M203.5 718.6h0M211.7 719.6h0M200.5 716.9h0M193.2 694.3h0M223.9 704.8h0M192.1 705.8h0M201.1 718.8h0M199.7 682.3h0M200.5 681.8h0M221.7 708.5h0M216.4 683.3h0M223.7 705.8h0M204.1 680.4h0M204.6 719.8h0M222.3 689.0h0M220.3 714.2h0M196.1 713.0h0M218.9 685.4h0M224.8 694.7h0M224.3 704.0h0M193.0 708.2h0M223.2 701.0h0M202.3 682.3h0M203.5 718.9h0M207.0 720.0h0M207.2 720.7h0M215.4 682.9h0M193.0 693.6h0M214.9 681.7h0M219.8 711.6h0M197.9 713.5h0M224.4 700.3h0M219.1 684.4h0M191.8 701.1h0M199.8 715.7h0M192.1 704.4h0M200.2 683.4h0M224.6 697.1h0M195.9 710.3h0M213.2 718.7h0M193.5 710.1h0M198.4 685.6h0M220.8 710.6h0M207.4 719.8h0M221.9 688.2h0M191.6 706.1h0M194.4 688.4h0M214.1 682.0h0M203.9 682.0h0M195.6 687.1h0M213.3 719.6h0M196.0 710.2h0M219.3 684.9h0M192.1 707.2h0M207.5 681.1h0M225.1 703.6h0M196.7 711.5h0M223.4 696.9h0M223.3 701.6h0M203.1 681.8h0M195.6 711.6h0M214.3 682.5h0M194.7 692.5h0M215.4 682.4h0M223.2 698.9h0M205.2 679.3h0M213.4 716.6h0M192.3 705.7h0M194.1 693.3h0M209.8 680.6h0M205.1 681.0h0M201.5 682.2h0M215.9 716.5h0M193.5 692.7h0M208.4 680.1h0M225.6 699.7h0M202.5 718.7h0M219.5 712.2h0M209.4 720.3h0M192.8 696.4h0M206.0 681.8h0M223.0 690.7h0M195.4 686.6h0M205.0 718.3h0M208.9 680.8h0M212.0 681.0h0M204.8 680.5h0M219.5 685.5h0M191.6 706.9h0M222.2 706.8h0M206.3 680.5h0M192.5 698.2h0M203.5 718.6h0M223.3 689.1h0M192.2 700.0h0M191.3 700.0h0M217.5 715.7h0M216.6 683.7h0M200.3 682.6h0M224.4 694.5h0M207.1 720.1h0M192.1 702.4h0M205.5 718.8h0M193.7 696.7h0M209.2 719.6h0M222.3 687.9h0M222.7 708.5h0M215.8 681.8h0M211.9 719.3h0M206.8 719.2h0M224.8 700.0h0M193.3 708.8h0M223.7 697.0h0M223.6 691.7h0M221.6 683.4h0M213.8 721.8h0M225.4 702.8h0M199.3 677.1h0M190.3 694.5h0M210.0 677.9h0M195.3 687.0h0M189.4 698.6h0M192.6 689.1h0M213.8 720.7h0M189.0 703.5h0M194.5 713.3h0M223.2 684.1h0M198.5 715.8h0M223.2 708.7h0M194.8 680.3h0M189.9 698.6h0M199.6 719.3h0M203.6 677.4h0M193.6 711.0h0M197.2 716.5h0M228.7 706.1h0M224.0 707.4h0M223.8 685.5h0M208.9 724.1h0M225.4 693.0h0M217.7 718.7h0M208.8 678.2h0M190.9 701.7h0M188.3 705.1h0M221.6 682.4h0M189.8 698.4h0M208.3 677.3h0M217.6 681.5h0M189.7 698.8h0M205.7 723.0h0M224.6 718.8h0M190.9 689.9h0M192.8 714.1h0M205.8 676.2h0M225.0 707.6h0M227.5 690.1h0M206.0 723.8h0M227.6 691.7h0M201.0 680.1h0M206.3 681.0h0M220.5 714.7h0M211.3 723.7h0M193.6 683.7h0M212.2 722.2h0M193.0 688.2h0M223.3 685.7h0M216.5 717.7h0M219.9 714.0h0M219.6 682.7h0M190.0 688.4h0" stroke="#a52a2a" stroke-width="2.00" stroke-linecap="round" fill="none"/>
<path d="M206.9 681.2h0M208.6 668.7h0M218.2 665.7h0M223.7 684.1h0M217.4 683.3h0M216.8 669.3h0M220.2 675.0h0M227.5 666.8h0M210.9 663.9h0M211.9 666.0h0M213.7 659.9h0M208.2 666.4h0M209.5 666.5h0M210.3 674.3h0M217.2 664.8h0M218.8 658.6h0M220.0 679.5h0M217.2 669.5h0M222.8 670.7h0M218.0 680.8h0M227.4 665.3h0M205.2 667.4h0M222.5 683.6h0M209.1 666.9h0M221.0 686.6h0M223.3 672.3h0M212.6 676.0h0M216.8 659.3h0M208.4 671.2h0M224.7 676.0h0M214.8 663.3h0M228.7 675.6h0M220.6 668.9h0M215.9 671.3h0M207.7 671.6h0M209.8 679.7h0M221.1 665.0h0M218.1 681.6h0M209.3 661.8h0M208.4 662.9h0M219.0 675.8h0M206.1 672.0h0M212.0 682.4h0M218.0 684.0h0M219.0 670.2h0M212.7 683.4h0M226.1 679.8h0M214.4 673.8h0M218.4 664.6h0M209.9 659.2h0M220.1 666.0h0M220.7 686.1h0M207.1 662.5h0M215.3 675.0h0M225.7 664.5h0M228.3 670.6h0M222.8 673.7h0M220.3 668.3h0M217.4 679.7h0M217.9 682.4h0M217.1 571.1h0M231.6 569.2h0M208.4 577.3h0M209.3 579.2h0M225.9 569.1h0M233.2 574.2h0M222.6 583.7h0M230.2 582.4h0M234.8 573.3h0M230.0 567.2h0M221.0 574.5h0M221.6 580.7h0M229.3 577.6h0M211.8 575.3h0M223.3 567.0h0M215.1 572.5h0M235.8 573.4h0M223.1 584.1h0M229.0 567.2h0M227.6 584.1h0M228.1 579.5h0M226.5 580.9h0M224.0 574.2h0M239.9 561.9h0M232.9 564.9h0" stroke="#a52a2a" stroke-width="2.00" stroke-linecap="round" fill="none"/>
<path d="M169.3 557.3L170.6 557.0L171.7 557.6L172.3 558.9L172.5 560.7L172.5 561.6L172.2 562.9L171.9 564.4L171.4 566.2L170.9 568.1L170.4 570.0L170.1 571.9L169.8 573.8L169.9 575.7L170.3 577.3L171.1 578.8L172.3 580.1L173.6 581.1L175.1 582.0L176.7 582.7L178.3 583.4L179.9 584.0L181.4 584.6L183.0 585.2L184.5 585.8L186.2 586.3L187.9 586.8L189.7 587.1L191.3 587.5L192.9 587.9L194.3 588.4L195.5 589.0L196.5 589.7L197.3 590.6L198.1 591.6L198.7 592.7L199.2 594.0L199.6 595.4L200.0 596.9L200.3 598.6L200.6 600.3L200.8 601.6L200.9 603.0L201.0 604.4L201.0 605.9L201.0 607.5L201.0 609.1L201.0 610.8L200.9 612.4L200.9 614.1L200.8 615.6L200.7 617.2L200.6 618.6L200.4 620.4L200.1 622.2L199.8 624.0L199.5 625.8L199.1 627.6L198.8 629.3L198.5 631.0L198.2 632.7L198.2 634.4L198.4 635.9L199.5 638.2L201.4 638.9L203.5 640.0L204.7 641.0L206.0 642.0L207.3 643.0L208.5 644.1L209.4 645.2L210.0 646.2L210.1 647.3L210.0 648.4L209.6 649.7L209.1 651.1L208.5 652.7L207.7 654.3L207.2 655.5L206.6 656.7L205.9 658.0L205.1 659.3L204.3 660.7L203.5 662.0L202.7 663.3L201.8 664.5L200.9 665.7L199.9 666.9L198.8 668.1L197.6 669.2L196.4 670.4L195.1 671.5L193.9 672.7L192.7 673.8L191.6 675.0L190.4 676.4L189.4 677.7L188.3 679.0L187.4 680.3L186.4 681.6L185.4 683.0L184.4 684.5L183.6 685.7L182.8 687.0L181.9 688.3L181.0 689.7L180.2 691.1L179.4 692.5L178.6 693.9L177.9 695.3L177.2 696.6L176.7 698.5L176.4 700.3L176.4 701.9L176.3 703.3L176.0 704.4L175.4 705.2L174.6 705.6L173.3 705.9L171.7 706.1L169.9 706.2L167.9 706.4L166.0 706.7L164.2 707.3L162.6 708.2L161.2 709.2L159.9 710.3L158.6 711.4L157.4 712.5L156.1 713.5L154.6 714.4L153.3 715.0L151.9 715.7L150.5 716.4L149.0 717.0L147.5 717.6L146.0 718.1L144.5 718.4L142.9 718.7L141.4 718.8L140.1 718.7L138.7 718.5L137.2 718.3L135.6 717.9L134.1 717.5L132.5 717.0L131.0 716.5L129.5 716.0L128.2 715.4L126.9 714.9L125.9 714.4L124.2 713.5L122.9 712.7L121.9 711.9L121.0 710.9L120.3 709.7L119.6 708.1L119.2 707.1L118.9 706.0L118.6 704.7L118.3 703.3L118.0 701.9L117.8 700.3L117.6 698.8L117.5 697.2L117.4 695.6L117.4 694.0L117.3 692.4L117.4 691.0L117.5 689.5L117.6 688.1L117.8 686.5L118.0 685.0L118.3 683.4L118.6 681.9L118.8 680.3L119.1 678.7L119.3 677.1L119.5 675.5L119.7 673.9L119.9 672.3L120.0 670.7L120.0 669.1L120.1 667.4L120.2 665.9L120.2 664.3L120.3 662.7L120.3 661.1L120.4 659.6L120.5 658.1L120.6 656.7L120.8 655.3L121.1 653.7L121.4 652.1L121.9 650.5L122.4 648.8L122.9 647.2L123.4 645.5L123.9 644.0L124.2 642.4L124.4 640.9L124.4 639.3L124.1 637.9L123.1 636.2L121.5 635.1L119.7 634.5L117.7 634.2L115.7 633.9L113.6 633.5L112.2 633.2L110.6 633.1L109.0 633.0L107.3 633.0L105.7 632.9L104.1 632.8L102.7 632.5L101.4 632.1L100.3 631.4L99.4 630.7L98.5 629.7L97.6 628.6L96.7 627.3L95.9 625.9L95.2 624.4L94.5 622.9L93.8 621.3L93.3 619.8L92.8 618.3L92.4 616.9L92.1 615.3L91.8 613.8L91.7 612.2L91.6 610.5L91.5 608.9L91.5 607.2L91.5 605.6L91.6 604.0L91.6 602.5L91.7 600.8L91.9 599.1L92.1 597.4L92.3 595.8L92.6 594.2L92.9 592.6L93.2 591.3L93.6 590.0L93.9 589.1L94.4 587.4L94.8 586.3L95.7 585.6L97.6 585.2L98.3 585.2L99.4 585.2L100.8 585.2L102.3 585.3L103.9 585.4L105.6 585.6L107.4 585.7L109.1 585.9L110.9 586.1L112.5 586.3L114.1 586.4L115.5 586.5L117.3 586.7L119.0 587.0L120.6 587.3L122.3 587.6L123.9 587.9L125.5 588.1L127.1 588.2L128.7 588.0L130.3 587.6L131.9 586.8L133.2 585.8L134.4 584.6L135.5 583.3L136.5 581.9L137.6 580.6L138.8 579.2L140.2 577.9L141.2 577.1L142.3 576.3L143.4 575.4L144.6 574.5L145.9 573.6L147.2 572.6L148.6 571.7L149.9 570.8L151.2 569.8L152.6 568.9L153.9 568.0L155.1 567.2L156.3 566.3L157.7 565.3L159.2 564.3L160.6 563.2L162.0 562.2L163.4 561.1L164.8 560.2L166.0 559.3L167.2 558.6L168.2 558.0L168.9 557.6Z" fill="#ffc0cb"/>
<path d="M204.2 641.8h0M190.8 587.4h0M167.9 706.1h0M127.4 714.4h0M195.9 588.5h0M114.3 584.9h0M198.2 667.7h0M202.5 639.4h0M197.6 592.1h0M111.9 633.1h0M121.2 669.6h0M118.5 677.4h0M108.3 633.8h0M123.0 646.9h0M209.6 649.8h0M117.9 703.3h0M91.4 608.2h0M125.2 587.1h0M169.1 570.4h0M109.2 586.2h0M178.6 695.4h0M89.7 602.9h0M211.3 647.6h0M94.1 593.0h0M141.4 720.5h0M199.4 601.9h0M199.0 631.5h0M154.0 714.4h0M102.2 633.3h0M119.5 671.0h0M159.3 563.6h0M96.2 585.3h0M118.6 678.0h0M121.8 713.0h0M209.9 647.7h0M192.1 675.9h0M91.5 612.9h0M167.1 705.8h0M210.1 648.3h0M154.5 714.1h0M94.8 585.8h0M181.4 688.1h0M208.2 655.7h0M122.4 643.8h0M166.7 707.3h0M198.0 667.6h0M119.5 669.2h0M101.4 632.6h0M155.3 567.3h0M120.0 661.3h0M208.2 655.2h0M108.6 584.7h0M92.0 614.9h0M204.8 660.6h0M171.4 570.6h0M165.4 558.8h0M160.2 711.3h0M188.4 586.6h0M148.4 717.6h0M153.9 716.1h0M205.1 640.6h0M189.7 587.6h0M148.4 572.1h0M146.0 573.5h0M123.5 641.4h0M187.3 681.5h0M207.7 657.5h0M195.2 672.3h0M147.8 717.2h0M91.7 609.2h0M168.6 559.1h0M143.1 574.4h0M120.6 587.3h0M201.1 624.5h0M185.8 684.3h0M143.4 717.9h0M146.0 571.1h0M174.3 705.5h0M145.4 574.9h0M123.5 586.8h0M202.0 610.7h0M200.3 598.6h0M120.4 673.9h0M124.5 645.9h0M92.4 595.3h0M196.2 669.8h0M177.7 583.0h0M163.8 708.4h0M101.8 632.9h0M177.0 699.7h0M92.6 594.6h0M92.5 591.6h0M105.1 632.9h0M120.7 711.0h0M192.5 673.2h0M97.8 583.5h0M94.1 586.8h0M198.3 632.6h0M112.3 633.5h0M137.4 718.5h0M120.3 659.3h0M119.4 669.8h0M124.0 588.3h0M174.1 706.6h0M158.6 711.7h0M99.1 630.8h0M170.6 706.2h0M143.8 576.4h0M123.6 714.2h0M168.4 557.9h0M132.4 717.6h0M138.2 580.3h0M116.8 634.2h0M172.6 566.7h0M160.9 562.8h0M147.6 573.0h0M119.6 676.0h0M189.3 588.1h0M125.8 588.0h0M118.7 680.3h0M172.5 707.0h0M123.5 645.9h0M146.8 716.3h0M169.2 706.9h0M168.5 557.4h0M197.0 671.3h0M162.6 560.9h0M197.5 590.8h0M90.7 615.0h0M91.4 599.3h0M123.6 641.1h0M178.0 695.7h0M138.5 578.9h0M120.0 657.2h0M183.8 684.8h0M145.8 718.3h0M189.8 680.0h0M182.4 688.0h0M183.9 684.8h0M92.8 620.5h0M106.9 585.2h0M144.7 719.0h0M208.0 655.8h0M194.0 588.0h0M120.2 661.3h0M182.2 585.4h0M93.4 621.8h0M98.4 584.1h0M171.0 570.5h0M171.8 556.9h0M196.1 670.6h0M117.7 686.7h0M194.6 674.8h0M107.4 633.0h0M154.8 568.4h0M206.6 657.5h0M174.2 705.0h0M139.3 578.4h0M122.6 646.6h0M119.8 586.4h0M178.1 582.7h0M188.3 680.4h0M146.8 717.9h0M152.7 569.8h0M174.5 581.9h0M189.5 679.5h0M167.7 557.1h0M91.5 607.2h0M169.4 557.7h0M157.5 712.6h0M151.3 716.2h0M90.3 599.5h0M201.6 606.4h0M169.0 706.7h0M175.9 701.5h0M173.4 560.4h0M123.7 641.3h0M196.5 670.4h0M199.8 628.6h0M189.3 681.1h0M118.9 670.2h0M190.1 587.3h0M191.4 676.4h0M90.7 607.7h0M197.6 634.9h0M196.1 589.1h0M135.5 718.2h0M98.8 585.3h0M185.2 684.6h0M119.0 670.6h0M144.4 574.8h0M115.1 634.2h0M148.1 716.6h0M166.6 707.3h0M120.6 586.9h0M89.3 608.5h0M95.0 626.2h0M166.6 558.2h0M179.4 584.2h0M97.6 585.0h0M127.1 714.6h0M175.9 703.6h0M117.7 680.8h0M116.4 687.7h0M176.4 700.7h0M118.9 707.2h0M121.5 588.3h0M120.1 680.7h0M167.7 557.4h0M182.0 688.3h0M204.7 659.9h0M154.1 567.4h0M153.9 567.2h0M198.4 668.7h0M180.2 687.7h0M119.7 663.2h0M170.8 564.7h0M128.8 715.6h0M109.0 586.2h0M132.9 586.6h0M144.0 719.3h0M200.5 599.6h0M152.4 714.6h0M145.9 573.3h0M119.3 675.5h0M200.6 614.3h0M90.9 595.9h0M92.1 612.7h0M192.0 587.8h0M143.6 719.8h0M117.2 697.1h0M172.0 566.4h0M117.6 687.8h0M92.4 592.5h0M125.6 714.9h0M116.7 691.9h0M197.0 589.9h0M200.5 603.1h0M201.1 612.1h0M168.9 706.7h0M210.2 646.8h0M176.3 702.7h0M185.3 585.3h0M119.7 673.7h0M204.4 660.2h0M199.8 595.2h0M157.2 566.0h0M134.7 584.3h0M194.3 587.6h0M119.5 675.4h0M196.8 589.8h0M130.6 587.7h0M182.9 686.3h0M204.4 639.8h0M120.7 708.6h0M169.2 556.8h0M173.5 566.1h0M155.6 714.7h0M128.5 588.8h0M202.2 613.3h0M187.5 682.1h0M94.7 621.1h0M177.0 706.0h0M195.0 588.4h0M120.9 651.3h0M128.6 713.6h0M190.9 674.5h0M200.5 620.1h0M210.4 647.5h0M118.7 656.7h0M119.5 677.1h0M126.7 715.6h0M198.1 630.4h0M181.8 690.0h0M132.2 584.6h0M154.7 566.7h0M200.2 597.7h0M117.0 587.8h0M166.1 706.5h0M129.7 586.7h0M200.7 620.2h0M189.3 586.7h0M186.8 586.3h0M173.7 564.5h0M126.9 716.8h0M97.1 585.3h0M173.4 558.0h0M199.2 633.0h0M197.7 670.2h0M142.2 574.7h0M119.4 708.9h0M135.7 717.8h0M200.6 621.3h0M118.5 706.7h0M137.5 581.0h0M166.0 557.9h0M137.2 579.5h0M209.1 643.9h0M95.5 623.7h0M133.3 584.1h0M199.2 630.4h0M171.2 573.4h0M164.1 709.1h0M149.6 571.2h0M121.2 587.7h0M201.8 602.2h0M120.8 711.8h0M163.1 707.9h0M117.0 693.9h0M199.9 598.8h0M154.9 715.4h0M153.3 714.6h0M155.8 566.1h0M136.3 718.6h0M122.9 647.5h0M172.0 559.3h0M178.9 582.7h0M138.5 578.3h0M117.0 696.7h0M101.7 633.3h0M117.4 688.3h0M186.6 682.2h0M97.9 629.1h0M128.3 585.5h0M162.2 710.2h0M201.0 623.3h0M201.9 609.6h0M204.1 640.6h0M120.0 664.9h0M146.2 572.9h0M98.8 583.4h0M169.7 578.1h0M210.7 650.1h0M137.2 579.0h0M155.1 713.9h0M175.5 705.0h0M199.6 629.1h0M90.1 600.5h0M197.0 590.1h0M162.4 708.8h0M144.3 719.1h0M118.5 674.6h0M124.0 713.7h0M94.0 587.3h0M108.3 585.9h0M118.2 704.4h0M125.4 588.3h0M90.3 613.0h0M92.3 617.8h0M157.8 565.4h0M198.2 632.4h0M200.1 666.8h0M201.2 667.5h0M98.7 631.1h0M157.9 712.4h0M173.2 557.7h0M123.4 587.1h0M184.6 686.7h0M184.4 684.0h0M93.8 622.7h0M154.4 566.8h0M160.8 708.1h0M194.5 671.2h0M171.6 558.5h0M119.8 659.0h0M195.0 587.0h0M206.8 641.9h0M123.7 640.8h0M91.3 614.4h0M93.5 587.8h0M207.0 642.8h0M176.2 704.9h0M126.8 587.2h0M128.7 588.5h0M194.4 673.4h0M161.0 562.8h0M185.9 681.4h0M111.7 634.7h0M116.0 584.9h0M146.6 573.5h0M116.9 694.3h0M119.0 681.7h0M92.3 593.7h0M91.8 614.6h0M135.7 718.5h0M198.9 596.7h0M160.7 563.3h0M115.9 687.8h0M111.4 632.9h0M198.8 597.8h0M184.5 685.4h0M175.0 704.9h0M202.8 640.0h0M166.2 707.9h0M123.0 587.7h0M91.4 613.2h0M182.7 687.6h0M130.4 587.7h0M121.0 709.3h0M153.0 714.2h0M199.5 627.5h0M157.0 710.6h0M179.7 583.9h0M165.8 559.7h0M182.0 584.5h0M177.0 703.8h0M165.9 559.0h0M97.5 629.5h0M133.8 585.1h0M171.1 571.0h0M200.0 602.8h0M130.0 715.9h0M125.3 713.5h0M190.9 675.4h0M154.6 566.9h0M196.6 670.2h0M91.8 608.6h0M113.2 586.2h0M206.4 658.0h0M169.6 557.1h0M98.6 584.6h0M185.2 682.5h0M91.7 596.0h0M111.3 634.2h0M201.1 603.6h0M200.9 614.2h0M92.2 596.0h0M145.0 574.2h0M101.9 631.9h0M172.6 559.9h0M116.7 689.4h0M174.2 582.2h0M119.1 707.6h0M117.9 692.2h0M149.6 570.4h0M119.2 672.0h0M94.5 589.8h0M118.4 681.4h0M198.4 631.0h0M93.0 588.0h0M93.8 622.7h0M201.6 664.5h0M202.5 662.5h0M200.7 666.2h0M110.2 585.7h0M94.7 588.3h0M140.4 576.7h0M111.9 586.2h0M108.0 631.6h0M120.4 709.0h0M200.4 637.3h0M172.6 559.3h0M123.8 642.6h0M205.3 657.5h0M113.7 634.3h0M119.0 679.1h0M159.5 564.3h0M97.4 584.3h0M174.4 582.9h0M117.8 704.7h0M200.2 604.2h0M173.6 705.9h0M120.2 656.8h0M94.0 588.8h0M91.2 602.5h0M120.2 664.9h0M117.1 707.7h0M147.1 716.0h0M154.8 715.6h0M121.9 586.3h0M123.0 645.1h0M124.9 587.4h0M120.2 657.4h0M101.0 632.6h0M182.6 687.9h0M97.5 585.1h0M120.9 654.0h0M121.3 650.5h0M99.1 630.7h0M126.4 714.8h0M92.8 594.6h0M107.8 633.3h0M135.6 718.8h0M209.3 649.7h0M117.2 701.1h0M210.7 646.7h0M117.7 698.6h0M205.6 641.6h0M203.8 661.9h0M200.4 617.7h0M113.5 586.2h0M170.6 706.0h0M176.8 703.3h0M120.5 634.6h0M204.6 640.1h0M171.4 570.4h0M94.2 587.9h0M156.9 564.3h0M140.4 718.7h0M98.0 627.6h0M108.3 586.3h0M128.6 588.5h0M199.0 631.1h0M171.4 706.2h0M157.0 564.3h0M151.0 715.9h0M170.1 575.6h0M171.6 558.0h0M207.1 640.1h0M196.1 588.5h0M92.9 591.9h0M93.1 592.4h0M92.3 616.8h0M141.0 719.3h0M201.6 638.6h0M179.9 584.1h0M146.5 717.1h0M208.9 643.1h0M119.2 671.5h0M99.9 630.9h0M130.0 587.3h0M181.1 688.8h0M124.4 587.9h0M147.4 571.2h0M205.5 659.3h0M150.5 716.2h0M92.8 608.7h0M176.1 582.8h0M151.1 569.5h0M101.5 632.5h0M123.1 645.3h0M143.3 575.4h0M114.4 633.8h0M144.9 718.6h0M119.0 675.9h0M123.2 643.7h0M101.8 631.4h0M200.7 666.2h0M127.7 715.3h0M121.1 636.6h0M159.6 710.6h0M180.6 688.8h0M177.3 583.1h0M103.1 585.4h0M116.6 685.5h0M206.8 643.4h0M120.3 675.1h0M177.6 699.7h0M112.3 633.7h0M91.7 605.6h0M200.9 610.4h0M205.9 642.4h0M184.4 585.0h0M179.1 695.1h0M166.7 558.2h0M198.0 590.9h0M119.3 678.7h0M210.9 646.7h0M181.7 583.8h0M201.4 622.1h0M152.5 567.7h0M117.9 686.4h0M165.0 560.9h0M159.9 562.9h0M175.8 704.7h0M178.5 581.3h0M147.3 717.1h0M183.2 687.2h0M117.2 685.1h0M208.0 642.6h0M120.6 657.0h0M172.3 557.1h0M124.0 637.3h0M106.9 585.2h0M130.3 587.6h0M200.5 626.2h0M207.1 656.0h0M208.1 654.8h0M118.8 687.6h0M163.1 561.2h0M119.2 700.4h0M134.8 583.3h0M197.3 670.3h0M122.4 712.4h0M123.8 587.7h0M167.1 557.9h0M117.3 683.2h0M136.0 718.9h0M140.0 718.5h0M210.2 649.8h0M206.9 643.5h0M161.5 710.2h0M97.1 628.8h0M201.6 602.7h0M171.8 563.8h0M195.2 673.9h0M123.6 638.0h0M121.4 711.5h0M209.9 649.9h0M115.1 634.3h0M119.2 635.0h0M114.8 587.0h0M118.5 676.6h0M197.7 670.3h0M94.8 625.4h0M193.4 586.5h0M195.3 587.9h0M117.2 699.8h0M124.8 587.9h0M210.1 644.4h0M169.4 556.6h0M208.3 654.1h0M102.3 630.9h0M201.9 620.2h0M209.1 643.7h0M93.3 589.0h0M123.4 636.5h0M185.6 681.8h0M193.6 588.2h0M173.3 580.2h0M187.1 679.4h0M119.8 673.6h0M101.9 632.5h0M172.7 581.5h0M90.9 597.7h0M158.2 712.5h0M170.6 573.3h0M90.2 608.3h0M145.4 719.9h0M201.9 638.9h0M152.0 568.0h0M184.3 685.4h0M169.4 576.4h0M140.8 717.7h0M120.5 649.5h0M201.4 618.1h0M129.9 587.0h0M116.6 694.3h0M191.9 587.7h0M172.1 558.6h0M117.2 696.8h0M209.1 644.2h0M141.5 576.9h0M119.2 654.4h0M202.2 597.6h0M93.5 592.0h0M126.1 588.8h0M93.2 589.9h0M176.8 582.2h0M187.2 680.0h0M91.4 614.8h0M190.8 677.9h0M193.8 587.4h0M168.8 556.8h0M170.1 575.8h0M200.2 666.9h0M178.6 583.2h0M144.5 573.8h0M100.0 630.9h0M120.9 654.9h0M167.4 558.6h0M121.5 587.7h0M176.5 698.9h0M175.6 702.3h0M97.6 629.6h0M204.5 660.4h0M146.5 573.3h0M109.7 633.6h0M127.9 587.8h0M107.8 631.9h0M120.2 669.8h0M90.9 602.0h0M180.7 691.4h0M94.6 624.1h0M117.1 684.3h0M91.7 600.6h0M121.4 653.8h0M120.8 712.2h0M200.5 627.9h0M179.3 584.0h0M122.5 648.0h0M123.1 588.5h0M162.0 707.8h0M198.5 668.3h0M193.5 588.5h0M181.5 688.4h0M203.8 639.1h0M199.7 597.2h0M203.9 661.1h0M93.7 591.0h0M171.1 567.4h0M209.6 649.9h0M210.6 645.7h0M206.8 655.2h0M122.0 636.5h0M91.3 612.5h0M101.3 632.6h0M120.0 661.7h0M133.7 585.6h0M102.5 584.7h0M102.9 633.3h0M113.8 634.2h0M92.1 597.2h0M199.9 636.4h0M177.2 699.0h0M91.4 597.8h0M97.8 585.1h0M118.4 677.8h0M114.1 586.5h0M175.2 705.3h0M119.9 654.8h0M118.2 703.5h0M182.5 583.1h0M168.9 706.4h0M103.4 585.8h0M106.9 586.4h0M112.9 633.5h0M134.3 716.4h0M157.7 564.6h0M118.9 703.8h0M189.5 587.1h0M167.0 707.5h0M91.7 594.9h0M120.2 664.3h0M91.2 617.7h0M118.9 673.4h0M169.8 573.4h0M169.5 558.4h0M200.6 595.3h0M119.7 635.2h0M175.8 581.6h0M205.8 655.5h0M91.3 608.5h0M124.5 588.2h0M156.3 567.3h0M172.1 559.0h0M186.8 586.3h0M150.9 716.7h0M201.2 612.8h0M122.6 641.0h0M180.0 703.4h0M203.9 635.5h0M207.6 628.1h0M209.0 640.9h0M203.7 627.2h0M158.7 561.7h0M102.6 634.8h0M118.0 660.3h0M164.3 709.6h0M197.8 671.5h0M111.1 579.8h0M114.6 705.2h0M202.1 629.3h0M210.2 659.0h0M201.9 604.6h0M154.8 715.9h0M100.4 636.8h0M189.7 681.5h0M106.3 580.1h0M176.9 563.4h0M116.5 672.5h0M203.6 636.4h0M91.1 588.4h0M206.0 660.4h0M157.6 557.5h0M95.1 584.1h0M201.4 634.0h0M204.5 619.1h0M203.4 616.6h0M151.7 565.5h0M103.4 582.2h0M149.8 723.9h0M178.9 702.6h0M114.2 695.7h0M141.2 722.5h0M118.5 584.3h0M200.3 629.6h0M177.3 699.3h0M89.7 606.1h0M117.5 687.5h0M132.4 723.0h0M174.4 574.6h0M212.0 655.5h0M148.5 720.5h0M100.2 583.4h0M117.4 657.5h0M103.2 636.9h0M152.2 565.1h0M91.5 599.7h0M116.8 709.1h0M92.2 625.4h0M211.4 646.9h0M203.2 596.2h0M91.0 591.7h0M101.1 634.2h0M160.8 558.1h0M121.3 637.3h0M202.5 595.0h0M173.5 563.8h0M210.3 651.0h0M118.0 712.6h0M90.1 596.7h0M201.6 595.4h0M199.1 672.9h0M191.5 583.7h0M137.2 577.1h0M101.5 633.5h0M204.9 632.8h0M113.0 693.9h0M101.3 634.3h0M113.2 703.5h0M126.2 582.9h0M117.0 651.4h0M115.2 640.0h0M200.6 666.5h0M203.9 614.6h0M174.0 578.3h0M188.6 584.4h0M100.3 633.4h0M101.3 579.8h0M205.1 664.7h0M109.2 581.5h0M110.2 583.8h0M203.4 606.2h0M171.8 554.3h0M122.2 647.7h0M115.8 705.2h0M89.9 613.9h0M176.2 579.9h0M212.0 646.6h0M115.6 704.3h0M114.9 705.5h0M132.8 718.9h0M99.7 581.4h0M186.6 689.7h0M120.7 583.0h0M96.2 630.2h0M204.2 609.6h0M89.0 604.6h0M108.4 584.6h0M176.9 562.2h0M121.2 638.5h0M115.5 685.8h0M98.9 580.4h0M118.8 709.4h0M208.0 636.6h0M198.3 673.2h0M154.4 716.9h0M200.2 674.5h0M143.7 573.4h0M90.2 621.1h0M129.4 717.6h0M190.4 584.3h0M159.2 564.8h0M130.6 577.3h0M177.8 561.1h0M168.1 708.8h0M179.0 694.9h0M201.7 669.1h0M107.3 581.2h0M211.3 641.3h0M189.5 585.3h0M150.0 566.9h0M117.8 709.2h0M119.6 652.4h0M97.1 582.7h0M207.4 660.7h0M213.2 649.6h0M181.9 696.5h0M128.8 586.5h0M117.6 657.7h0M203.9 603.4h0M99.2 637.4h0M118.0 713.1h0M116.3 673.3h0M160.2 559.0h0M134.0 718.3h0" stroke="#ffc0cb" stroke-width="2.00" stroke-linecap="round" fill="none"/>
<path d="M189.1 528.7h0M189.9 519.1h0M188.5 517.3h0M187.8 519.2h0M191.2 523.5h0M188.0 527.8h0M191.8 518.7h0M192.0 525.7h0M188.0 518.8h0M183.5 525.2h0M193.4 521.9h0M188.1 525.8h0M191.2 525.9h0M186.9 521.9h0M185.4 521.2h0M184.8 518.9h0M191.1 526.3h0M182.3 523.7h0M184.8 517.5h0M183.4 518.1h0M190.1 523.2h0M185.5 527.9h0M184.6 525.9h0M185.6 525.0h0M193.0 525.2h0M190.9 519.9h0M190.4 524.9h0M185.5 521.9h0M191.7 524.9h0M188.4 527.9h0M186.1 528.4h0M187.4 525.0h0M188.7 519.0h0M186.6 527.2h0M192.7 524.2h0M188.2 528.0h0M189.1 516.2h0M186.5 518.4h0M192.1 524.8h0M192.6 519.8h0" stroke="#ffc0cb" stroke-width="2.00" stroke-linecap="round" fill="none"/>
<path d="M135.8 625.8h0M142.5 627.5h0M137.1 626.4h0M129.7 625.7h0M135.4 627.0h0M127.6 626.2h0M128.9 627.3h0M137.6 627.5h0M130.5 625.4h0M128.2 631.0h0M136.0 629.8h0M120.7 629.3h0M130.4 632.4h0M136.0 625.1h0M136.7 635.3h0M122.6 636.1h0M142.9 630.1h0M124.1 632.8h0M142.2 630.9h0M127.7 633.7h0M130.3 625.5h0M140.6 624.2h0M150.2 624.5h0M150.7 627.7h0M152.6 621.5h0M156.0 626.4h0M142.7 624.7h0M153.7 628.0h0M143.4 627.5h0M147.6 627.2h0M142.9 625.9h0M140.5 621.1h0M150.2 620.1h0M146.8 622.9h0M123.5 608.7h0M123.5 624.7h0M119.3 618.3h0M122.4 628.0h0M125.4 607.4h0M126.2 589.1h0M127.5 581.1h0M120.7 593.2h0M128.1 586.2h0M124.6 605.4h0M124.4 627.4h0M119.6 605.3h0M121.2 634.0h0M121.1 595.5h0M120.5 626.3h0M119.6 607.6h0M124.9 590.8h0M120.7 617.9h0" stroke="#fff" stroke-width="1.80" stroke-linecap="round" fill="none"/>
<path d="M213.5 572.5h0M222.7 550.9h0M188.9 563.2h0M190.4 538.6h0M233.0 563.9h0M222.1 577.7h0M194.8 549.8h0M216.7 542.5h0M211.1 540.9h0M226.1 558.4h0M206.1 550.6h0M186.1 545.7h0M196.2 562.4h0M192.6 557.4h0M210.4 531.0h0M192.7 569.2h0M202.5 555.9h0M207.3 530.2h0M216.0 568.6h0M207.1 562.7h0M217.2 558.4h0M192.0 552.1h0M219.3 533.9h0M202.3 553.0h0M199.0 524.4h0M180.2 547.2h0M192.7 553.1h0M205.8 525.8h0M186.4 545.9h0M203.2 537.2h0M218.2 533.7h0M205.2 532.3h0M213.6 536.6h0M208.3 568.6h0M185.4 547.2h0M197.0 550.4h0M230.8 561.5h0M210.0 574.7h0M230.4 559.8h0M207.4 538.5h0M183.0 552.4h0M231.7 575.6h0M212.6 529.3h0M218.2 557.8h0M228.2 563.7h0M218.2 544.7h0M184.2 566.2h0M185.5 540.1h0M218.8 571.1h0M209.4 563.6h0M196.9 540.4h0M197.9 541.6h0M232.0 557.2h0M212.5 558.7h0M203.7 525.6h0M212.9 550.5h0M202.5 569.5h0M183.5 561.9h0M231.0 580.2h0M211.7 549.8h0M225.4 555.6h0M219.7 551.4h0M223.4 579.8h0M210.1 570.3h0M191.2 536.5h0M227.0 561.1h0M226.2 573.2h0M208.7 567.5h0M198.1 571.8h0M234.2 564.2h0M222.7 581.1h0M205.0 559.8h0M191.2 569.9h0M236.9 574.3h0M224.3 548.0h0M187.6 546.9h0M213.9 577.5h0M196.2 566.8h0M220.4 576.5h0M191.1 555.1h0M188.4 560.8h0M210.1 571.7h0M229.8 561.6h0M194.0 526.7h0M211.1 546.5h0M218.0 546.7h0M188.0 552.2h0M203.5 556.0h0M193.3 564.8h0M206.1 531.9h0M200.9 536.1h0M222.8 540.3h0M199.4 566.2h0M211.1 545.6h0M226.8 582.3h0M216.4 572.5h0M206.8 566.5h0M193.2 529.5h0M203.8 536.4h0M199.9 567.7h0M200.7 532.7h0M214.3 528.0h0M217.4 534.2h0M208.9 528.3h0M196.3 575.4h0M208.3 533.3h0M204.7 539.6h0M212.7 527.8h0M218.5 569.2h0M182.4 564.1h0M197.2 570.5h0M201.1 523.5h0M236.1 567.0h0M219.1 566.7h0M209.9 524.2h0M222.9 570.2h0M218.8 553.8h0M229.4 555.0h0M189.9 539.6h0M223.8 562.7h0M208.9 547.5h0M211.1 572.8h0M204.5 544.1h0M233.6 555.5h0M232.0 552.2h0M202.2 549.5h0M233.5 577.6h0M223.8 563.0h0M210.0 576.8h0M203.6 562.2h0M199.4 503.1h0M187.7 503.2h0M191.1 510.6h0M190.9 488.3h0M200.2 489.3h0M198.2 501.1h0M196.8 487.8h0M187.1 513.6h0M202.3 498.2h0M191.5 487.6h0M187.1 492.3h0M201.0 503.5h0M194.5 504.8h0M191.6 506.6h0M191.5 495.8h0M187.8 509.6h0M192.3 489.4h0M194.4 496.6h0M192.0 488.6h0M192.1 492.1h0M121.1 540.2h0M113.5 543.5h0M115.0 544.9h0M140.4 558.0h0M146.9 519.9h0M152.2 539.1h0M146.4 561.3h0M129.4 557.5h0M129.7 567.4h0M122.0 546.2h0M125.3 545.3h0M139.4 546.1h0M150.5 540.6h0M124.9 509.6h0M115.1 577.6h0M146.9 530.2h0M136.9 497.8h0M128.2 535.7h0M148.1 515.4h0M120.5 528.1h0M143.4 545.1h0M125.0 554.1h0M125.7 552.2h0M121.4 518.9h0M98.7 552.0h0M124.5 535.7h0M119.6 569.2h0M121.3 533.6h0M164.4 552.6h0M135.7 555.2h0M104.5 552.8h0M102.8 552.1h0M146.6 539.0h0M98.3 547.6h0M131.7 516.8h0M145.4 558.4h0M135.9 529.1h0M159.7 557.2h0M149.5 522.0h0M144.2 512.4h0M114.8 532.4h0M135.9 561.9h0M129.1 526.8h0M130.8 538.9h0M117.1 572.8h0M144.9 506.2h0M136.9 560.9h0M130.8 513.9h0M126.1 569.0h0M132.8 495.2h0M134.6 502.2h0M156.4 539.5h0M133.8 564.3h0M151.0 550.7h0M124.7 578.5h0M137.9 565.4h0M110.4 575.6h0M152.2 545.4h0M124.2 577.0h0M123.2 513.1h0M149.2 544.2h0M105.4 534.8h0M116.1 552.2h0M115.6 567.7h0M125.2 516.6h0M125.5 534.1h0M100.3 547.5h0M148.0 508.1h0M126.5 517.2h0M107.3 531.1h0M243.2 689.9h0M250.1 672.5h0M234.4 685.0h0M243.3 648.0h0M255.2 672.1h0M224.3 660.7h0M246.1 660.6h0M249.9 683.5h0M233.8 668.6h0M228.8 674.9h0M241.5 675.7h0M239.4 666.9h0M245.3 669.2h0M232.1 692.1h0M242.9 688.4h0M236.2 668.2h0M254.2 665.0h0M253.4 668.6h0M249.6 678.4h0M236.7 686.8h0M228.8 654.6h0M246.4 689.4h0M236.4 667.0h0M246.7 682.3h0M245.4 657.3h0M241.5 660.1h0M237.0 686.2h0M215.8 662.7h0M217.5 654.8h0M250.4 683.3h0M220.2 666.9h0M242.8 665.8h0M224.1 672.8h0M233.9 648.5h0M229.6 654.0h0M240.5 679.6h0M226.4 673.5h0M234.8 681.4h0M221.9 655.0h0M231.5 684.0h0M254.0 662.6h0M241.3 681.9h0M236.0 673.1h0M236.8 647.5h0M238.6 678.6h0M225.1 674.1h0M243.1 671.3h0M243.7 681.2h0M245.9 666.5h0M238.0 655.9h0M224.3 651.0h0M214.9 660.2h0M243.7 649.5h0M252.9 660.8h0M254.0 677.7h0M224.5 669.7h0M236.0 685.3h0M219.7 655.3h0M222.1 656.6h0M238.3 664.3h0M208.1 623.2h0M206.0 633.4h0M219.1 622.0h0M206.5 631.6h0M203.6 620.9h0M208.7 621.8h0M217.8 634.5h0M214.2 628.1h0M209.6 620.9h0M204.6 631.8h0M206.5 620.4h0M210.3 614.0h0M209.5 636.2h0M218.8 614.1h0M206.4 687.6h0M220.9 708.6h0M222.9 701.2h0M206.2 685.4h0M194.8 693.5h0M203.7 718.9h0M207.7 680.4h0M197.0 702.9h0M214.4 715.8h0M207.4 713.7h0M208.5 689.2h0M211.1 692.7h0M200.0 717.3h0M199.6 693.2h0M218.5 714.1h0M199.5 709.8h0M205.7 691.4h0M216.2 683.3h0M202.7 693.0h0M215.5 705.5h0" stroke="#fff" stroke-width="1.20" stroke-linecap="round" fill="none"/>
<path d="M205.0 623.7h0M189.0 627.3h0M170.1 559.2h0M141.6 627.5h0M127.6 610.4h0M165.1 609.7h0M131.0 602.9h0M173.2 640.0h0M130.8 614.2h0M126.3 618.9h0M132.1 589.5h0M200.4 598.2h0M146.3 604.7h0M204.0 601.7h0M156.5 609.8h0M132.8 596.4h0M120.1 599.7h0M170.0 605.5h0M137.6 639.3h0M158.1 627.0h0M130.1 620.6h0M192.9 595.4h0M199.5 601.8h0M144.4 597.5h0M176.2 586.6h0M158.9 576.3h0M134.1 612.2h0M172.6 642.2h0M184.5 590.7h0M164.1 627.9h0M184.4 598.8h0M185.8 636.4h0M150.7 569.8h0M157.6 615.5h0M165.0 582.4h0M136.6 609.9h0M166.6 630.8h0M165.6 627.2h0M145.3 631.6h0M149.5 631.5h0M197.3 623.8h0M125.3 608.4h0M194.7 635.8h0M152.1 570.2h0M148.8 617.7h0" stroke="#808080" stroke-width="2.00" stroke-linecap="round" fill="none"/>
<path d="M165.2 649.1h0M149.2 712.2h0M187.6 670.6h0M176.2 638.1h0M149.0 704.4h0M140.4 665.4h0M158.2 673.6h0M206.9 643.3h0M129.1 711.6h0M152.0 691.2h0M185.2 682.7h0M173.0 645.1h0" stroke="#808080" stroke-width="2.00" stroke-linecap="round" fill="none"/>
<path d="M96.8 545.3h0M122.2 514.2h0M138.6 546.6h0M131.1 542.6h0M132.1 535.7h0M117.9 530.6h0M136.5 548.4h0M125.3 501.8h0M109.2 554.9h0M144.1 518.4h0M123.8 500.2h0M133.3 559.7h0M150.7 546.8h0M124.4 527.7h0M147.9 531.3h0M155.0 551.4h0M132.0 519.1h0M131.9 556.4h0M152.7 558.6h0M116.5 544.8h0M145.4 513.1h0M137.4 555.7h0M145.4 504.1h0M119.9 542.2h0M143.0 505.6h0M107.3 571.0h0M147.5 557.7h0M141.4 563.7h0M127.5 518.5h0M111.8 574.9h0M136.8 566.2h0M106.7 528.1h0M113.4 523.5h0M129.0 550.7h0M121.4 527.3h0" stroke="#800080" stroke-width="2.00" stroke-linecap="round" fill="none"/>
<path d="M124.5 545.0h0M153.0 531.8h0M146.4 564.6h0M133.1 515.1h0M119.5 546.1h0M128.7 550.0h0M143.6 561.6h0M154.3 527.5h0M146.2 535.8h0M133.8 513.0h0M129.9 502.6h0M123.1 522.8h0M121.5 508.9h0M162.6 545.2h0M164.0 555.3h0M113.7 529.3h0" stroke="#008000" stroke-width="2.00" stroke-linecap="round" fill="none"/>
<path d="M155.9 536.4h0M118.1 573.8h0M116.7 532.7h0M105.0 556.2h0M132.7 562.7h0M131.5 551.3h0M154.5 530.8h0M130.6 535.5h0" stroke="#ff0000" stroke-width="2.00" stroke-linecap="round" fill="none"/>
<path d="M120.0 516.5h0M117.7 519.9h0M119.4 532.4h0M133.4 556.1h0M139.4 512.4h0M118.1 532.6h0" stroke="#808080" stroke-width="2.00" stroke-linecap="round" fill="none"/>
<path d="M81.8 529.1h0M86.5 531.9h0M80.5 541.8h0M85.5 527.2h0M89.3 533.0h0M80.6 540.4h0M75.9 534.8h0M85.4 537.8h0M82.7 526.8h0M81.8 533.9h0M80.5 528.7h0M82.7 534.1h0" stroke="#800080" stroke-width="2.00" stroke-linecap="round" fill="none"/>
<path d="M101.9 519.6h0M103.7 510.5h0M98.3 515.5h0M104.7 515.0h0M98.3 518.1h0M104.9 518.2h0M93.4 521.3h0M96.3 518.2h0M93.6 520.2h0M97.5 513.9h0M99.7 514.1h0M103.6 511.8h0M107.1 521.0h0M107.2 517.2h0M100.3 519.2h0M100.2 517.7h0M96.1 513.0h0M101.3 517.5h0M105.1 512.5h0M101.2 512.7h0M92.8 518.6h0M106.8 513.0h0M98.8 521.9h0M104.5 513.3h0M106.3 516.4h0M100.8 516.2h0M101.4 518.1h0M105.4 515.8h0M97.4 512.2h0M103.9 511.2h0" stroke="#800080" stroke-width="2.00" stroke-linecap="round" fill="none"/>
<path d="M167.9 560.1h0M174.5 562.0h0M165.4 587.8h0M180.7 562.2h0M168.8 557.3h0M167.8 561.6h0M164.3 576.3h0M169.3 553.3h0M158.3 590.3h0M170.5 548.8h0M163.1 549.5h0M177.7 560.4h0M175.8 566.9h0M172.4 573.7h0M162.6 554.7h0M163.4 572.1h0M161.4 578.2h0M167.2 572.9h0M163.3 552.2h0M170.6 559.9h0M164.5 553.7h0M164.7 579.8h0M165.4 563.7h0M165.3 594.2h0M166.0 579.8h0M167.4 559.9h0M177.9 557.0h0M172.2 570.7h0M176.0 565.7h0M172.3 554.9h0M182.5 561.3h0M177.2 548.2h0M168.9 556.2h0M163.9 568.3h0M160.4 590.8h0M179.9 557.6h0M172.0 574.4h0M175.6 553.2h0M173.4 566.0h0M174.0 551.2h0M179.5 555.4h0M164.8 564.2h0M176.2 568.1h0M159.4 593.7h0M174.6 550.1h0M164.5 576.1h0M166.4 549.2h0M173.3 570.2h0M173.9 575.3h0M169.9 545.4h0M169.8 556.7h0M164.7 562.1h0M161.5 554.0h0M167.1 581.6h0M168.7 566.0h0M166.3 593.2h0M168.7 571.0h0M164.1 586.8h0M177.4 549.3h0M175.6 553.5h0" stroke="#800080" stroke-width="2.00" stroke-linecap="round" fill="none"/>
<path d="M177.9 547.4h0M177.1 560.3h0M174.4 567.2h0M164.6 574.3h0M168.5 585.7h0M159.4 592.7h0M167.7 545.9h0M167.9 585.9h0M162.8 585.6h0M163.5 572.0h0M164.6 579.0h0M164.2 586.3h0M167.0 560.7h0M161.5 549.3h0M164.2 569.6h0M178.9 558.8h0M160.7 581.7h0M183.3 556.3h0M179.9 558.0h0M160.3 592.4h0M178.1 547.4h0M168.5 550.9h0M168.7 578.6h0M170.1 575.7h0M161.0 591.2h0M164.5 574.2h0M170.6 571.8h0M179.2 547.9h0M163.7 573.6h0M174.0 571.8h0M171.0 551.6h0M162.3 557.2h0M165.0 590.6h0M179.1 561.7h0M173.7 553.4h0M183.4 553.2h0M164.4 570.8h0M176.4 558.5h0M163.0 553.0h0M165.1 577.7h0" stroke="#ffa500" stroke-width="2.00" stroke-linecap="round" fill="none"/>
<path d="M110.2 581.6h0M102.7 584.3h0M109.7 580.9h0M141.3 575.4h0M111.6 578.8h0M128.9 588.1h0M130.9 583.3h0M93.6 583.5h0M116.3 583.3h0M121.9 580.3h0M125.1 584.4h0M139.1 577.9h0M134.2 586.9h0M127.6 586.3h0M131.9 582.6h0M117.2 579.8h0M104.8 586.8h0M92.9 584.3h0M101.0 581.9h0M104.2 589.5h0M119.8 586.1h0M128.7 582.2h0M129.3 580.8h0M132.1 584.5h0M129.1 589.1h0M96.5 578.9h0M132.1 585.0h0M128.2 589.1h0M137.2 580.2h0M132.5 583.0h0M122.1 580.3h0M111.3 586.6h0M126.3 589.2h0M133.0 585.6h0M127.1 585.1h0" stroke="#800080" stroke-width="2.00" stroke-linecap="round" fill="none"/>
<path d="M117.7 589.1h0M131.3 588.0h0M108.9 588.0h0M97.0 581.7h0M140.4 576.0h0M138.5 574.5h0M98.3 588.0h0M121.4 582.0h0M119.8 586.8h0M112.7 587.3h0" stroke="#ffa500" stroke-width="2.00" stroke-linecap="round" fill="none"/>
<path d="M180.5 625.8h0M196.1 593.9h0M145.4 601.5h0M170.9 620.4h0M145.3 574.2h0M190.9 635.9h0M144.5 615.8h0M159.0 569.0h0M196.9 627.1h0M131.5 587.9h0M138.5 637.4h0M132.2 619.9h0M170.0 597.8h0M158.5 621.1h0" stroke="#800080" stroke-width="2.00" stroke-linecap="round" fill="none"/>
<path d="M153.1 612.3h0M153.4 642.8h0M184.8 601.9h0M138.4 631.0h0M126.8 624.1h0M121.0 634.1h0M122.6 609.2h0M198.5 589.0h0M159.0 592.8h0M182.6 596.0h0" stroke="#ffa500" stroke-width="2.00" stroke-linecap="round" fill="none"/>
<path d="M139.4 585.4h0M156.6 571.1h0M170.5 636.8h0M157.8 605.3h0M129.6 596.4h0" stroke="#0000ff" stroke-width="2.00" stroke-linecap="round" fill="none"/>
<path d="M159.7 651.1h0M177.9 673.5h0M190.1 675.6h0M130.7 647.6h0M129.7 649.9h0M190.1 680.2h0" stroke="#800080" stroke-width="2.00" stroke-linecap="round" fill="none"/>
<path d="M181.5 673.3h0M117.4 655.1h0M130.4 679.0h0M202.0 656.3h0" stroke="#ffa500" stroke-width="2.00" stroke-linecap="round" fill="none"/>
<path d="M190.8 657.2h0M146.8 658.2h0M188.5 650.4h0" stroke="#0000ff" stroke-width="2.00" stroke-linecap="round" fill="none"/>
<path d="M116.0 615.3h0M101.1 612.1h0M115.1 586.9h0M112.0 604.8h0M96.6 602.4h0M90.9 591.9h0M116.9 588.5h0M97.5 604.2h0M105.5 624.3h0M99.0 597.7h0M98.9 624.1h0M100.9 584.5h0M112.4 634.1h0M101.8 609.5h0M99.5 590.4h0M107.8 616.5h0M111.9 630.7h0M97.9 618.0h0M112.1 596.9h0M120.9 629.9h0M94.4 606.1h0M96.9 615.3h0M108.8 632.3h0M100.2 627.9h0M94.5 590.1h0M117.1 602.8h0M104.0 622.6h0M93.7 615.8h0" stroke="#808080" stroke-width="2.00" stroke-linecap="round" fill="none"/>
<path d="M266.8 589.1h0M267.1 590.2h0M288.7 590.1h0M266.5 595.7h0M265.1 593.4h0M251.1 614.0h0M284.7 581.2h0M281.2 586.9h0" stroke="#ffa500" stroke-width="2.00" stroke-linecap="round" fill="none"/>
<path d="M268.6 549.0h0M276.4 552.1h0M275.3 555.6h0M261.8 553.2h0" stroke="#ffa500" stroke-width="2.00" stroke-linecap="round" fill="none"/>
<path d="M253.8 675.9h0M235.4 684.3h0M222.5 670.5h0M242.9 661.0h0M222.5 665.8h0M246.3 687.8h0M221.5 658.8h0M229.0 661.8h0M240.6 660.3h0M243.0 690.5h0" stroke="#ffc0cb" stroke-width="2.00" stroke-linecap="round" fill="none"/>
<path d="M234.1 692.7h0M235.3 685.4h0M242.3 656.6h0M249.1 676.9h0M217.9 664.9h0M253.0 676.9h0M250.5 673.8h0M240.2 675.0h0" stroke="#800080" stroke-width="2.00" stroke-linecap="round" fill="none"/>
<path d="M208.8 544.0h0M209.4 561.2h0M227.7 584.1h0M201.4 570.1h0M210.8 542.5h0M218.7 533.1h0M228.4 573.1h0M218.4 572.6h0M207.4 535.6h0M197.4 565.2h0M196.5 539.0h0M236.2 558.3h0M215.5 567.2h0M211.8 535.1h0M187.9 562.9h0M216.3 573.4h0M183.6 562.6h0M213.0 539.0h0M225.8 570.3h0M222.1 547.0h0M194.7 534.0h0M203.7 560.0h0M201.8 560.7h0M211.6 544.3h0M201.8 545.9h0" stroke="#ffc0cb" stroke-width="2.00" stroke-linecap="round" fill="none"/></g>
<path d="M71 -2V292.7H333.5" fill="none" stroke="#303030" stroke-width="1.9" stroke-linejoin="miter"/>
<text x="60.30" y="15.40" font-size="14.50" text-anchor="end" textLength="30.73" lengthAdjust="spacingAndGlyphs" fill="#262626">0.02</text>
<text x="60.30" y="64.00" font-size="14.50" text-anchor="end" textLength="30.73" lengthAdjust="spacingAndGlyphs" fill="#262626">0.01</text>
<text x="60.30" y="112.60" font-size="14.50" text-anchor="end" textLength="30.73" lengthAdjust="spacingAndGlyphs" fill="#262626">0.00</text>
<text x="60.30" y="161.20" font-size="14.50" text-anchor="end" textLength="42.29" lengthAdjust="spacingAndGlyphs" fill="#262626">−0.01</text>
<text x="60.30" y="209.80" font-size="14.50" text-anchor="end" textLength="42.29" lengthAdjust="spacingAndGlyphs" fill="#262626">−0.02</text>
<text x="60.30" y="258.40" font-size="14.50" text-anchor="end" textLength="42.29" lengthAdjust="spacingAndGlyphs" fill="#262626">−0.03</text>
<text x="88.30" y="314.00" font-size="14.50" text-anchor="middle" textLength="42.29" lengthAdjust="spacingAndGlyphs" fill="#262626">−0.02</text>
<text x="138.30" y="314.00" font-size="14.50" text-anchor="middle" textLength="30.73" lengthAdjust="spacingAndGlyphs" fill="#262626">0.00</text>
<text x="188.30" y="314.00" font-size="14.50" text-anchor="middle" textLength="30.73" lengthAdjust="spacingAndGlyphs" fill="#262626">0.02</text>
<text x="238.30" y="314.00" font-size="14.50" text-anchor="middle" textLength="30.73" lengthAdjust="spacingAndGlyphs" fill="#262626">0.04</text>
<text x="288.30" y="314.00" font-size="14.50" text-anchor="middle" textLength="30.73" lengthAdjust="spacingAndGlyphs" fill="#262626">0.06</text>
<text x="202.20" y="330.90" font-size="16.10" text-anchor="middle" textLength="151.10" lengthAdjust="spacingAndGlyphs" fill="#262626">PHATE Dimension_1</text>
<text x="11.80" y="146.20" font-size="16.10" text-anchor="middle" textLength="151.10" lengthAdjust="spacingAndGlyphs" fill="#262626" transform="rotate(-90 11.80 146.20)">PHATE Dimension_2</text>
<rect x="40.90" y="343.20" width="269.80" height="67.20" rx="2" ry="2" fill="#fff" stroke="#d0d0d0" stroke-width="1"/>
<text x="175.80" y="360.00" font-size="16.10" text-anchor="middle" textLength="62.78" lengthAdjust="spacingAndGlyphs" fill="#262626">Celltype</text>
<circle cx="55.20" cy="372.00" r="4.80" fill="#0000ff"/>
<text x="74.30" y="375.00" font-size="10.80" text-anchor="start" textLength="38.72" lengthAdjust="spacingAndGlyphs" fill="#262626">Myeloid</text>
<circle cx="55.20" cy="386.90" r="4.80" fill="#ffa500"/>
<text x="74.30" y="389.90" font-size="10.80" text-anchor="start" textLength="12.61" lengthAdjust="spacingAndGlyphs" fill="#262626">FB</text>
<circle cx="55.20" cy="401.80" r="4.80" fill="#008000"/>
<text x="74.30" y="404.80" font-size="10.80" text-anchor="start" textLength="21.96" lengthAdjust="spacingAndGlyphs" fill="#262626">SMC</text>
<circle cx="143.90" cy="372.00" r="4.80" fill="#ff0000"/>
<text x="162.70" y="375.00" font-size="10.80" text-anchor="start" textLength="38.18" lengthAdjust="spacingAndGlyphs" fill="#262626">Satelite</text>
<circle cx="143.90" cy="386.90" r="4.80" fill="#800080"/>
<text x="162.70" y="389.90" font-size="10.80" text-anchor="start" textLength="13.30" lengthAdjust="spacingAndGlyphs" fill="#262626">EC</text>
<circle cx="143.90" cy="401.80" r="4.80" fill="#a52a2a"/>
<text x="162.70" y="404.80" font-size="10.80" text-anchor="start" textLength="45.42" lengthAdjust="spacingAndGlyphs" fill="#262626">Pericytes</text>
<circle cx="238.90" cy="372.00" r="4.80" fill="#ffc0cb"/>
<text x="257.60" y="375.00" font-size="10.80" text-anchor="start" textLength="47.36" lengthAdjust="spacingAndGlyphs" fill="#262626">Myocytes</text>
<circle cx="238.90" cy="386.90" r="4.80" fill="#808080"/>
<text x="257.60" y="389.90" font-size="10.80" text-anchor="start" textLength="48.24" lengthAdjust="spacingAndGlyphs" fill="#262626">Lymphoid</text>
<path d="M408.15 -2V293.3H686" fill="none" stroke="#303030" stroke-width="1.9"/>
<text x="397.80" y="13.10" font-size="14.50" text-anchor="end" textLength="17.56" lengthAdjust="spacingAndGlyphs" fill="#262626">10</text>
<text x="397.80" y="55.85" font-size="14.50" text-anchor="end" textLength="8.78" lengthAdjust="spacingAndGlyphs" fill="#262626">5</text>
<text x="397.80" y="98.60" font-size="14.50" text-anchor="end" textLength="8.78" lengthAdjust="spacingAndGlyphs" fill="#262626">0</text>
<text x="397.80" y="141.35" font-size="14.50" text-anchor="end" textLength="20.34" lengthAdjust="spacingAndGlyphs" fill="#262626">−5</text>
<text x="397.80" y="184.10" font-size="14.50" text-anchor="end" textLength="29.12" lengthAdjust="spacingAndGlyphs" fill="#262626">−10</text>
<text x="397.80" y="226.85" font-size="14.50" text-anchor="end" textLength="29.12" lengthAdjust="spacingAndGlyphs" fill="#262626">−15</text>
<text x="397.80" y="269.60" font-size="14.50" text-anchor="end" textLength="29.12" lengthAdjust="spacingAndGlyphs" fill="#262626">−20</text>
<text x="471.90" y="314.80" font-size="14.50" text-anchor="middle" textLength="29.12" lengthAdjust="spacingAndGlyphs" fill="#262626">−10</text>
<text x="535.00" y="314.80" font-size="14.50" text-anchor="middle" textLength="8.78" lengthAdjust="spacingAndGlyphs" fill="#262626">0</text>
<text x="598.10" y="314.80" font-size="14.50" text-anchor="middle" textLength="17.56" lengthAdjust="spacingAndGlyphs" fill="#262626">10</text>
<text x="661.20" y="314.80" font-size="14.50" text-anchor="middle" textLength="17.56" lengthAdjust="spacingAndGlyphs" fill="#262626">20</text>
<text x="546.70" y="331.40" font-size="16.10" text-anchor="middle" textLength="131.48" lengthAdjust="spacingAndGlyphs" fill="#262626">IVIS Dimension_1</text>
<text x="361.90" y="147.30" font-size="16.10" text-anchor="middle" textLength="131.48" lengthAdjust="spacingAndGlyphs" fill="#262626" transform="rotate(-90 361.90 147.30)">IVIS Dimension_2</text>
<rect x="383.70" y="343.60" width="270.00" height="67.80" rx="2" ry="2" fill="#fff" stroke="#d0d0d0" stroke-width="1"/>
<text x="518.70" y="360.40" font-size="16.10" text-anchor="middle" textLength="62.78" lengthAdjust="spacingAndGlyphs" fill="#262626">Celltype</text>
<circle cx="398.00" cy="372.95" r="4.80" fill="#0000ff"/>
<text x="417.10" y="375.95" font-size="10.80" text-anchor="start" textLength="38.72" lengthAdjust="spacingAndGlyphs" fill="#262626">Myeloid</text>
<circle cx="398.00" cy="387.85" r="4.80" fill="#ffa500"/>
<text x="417.10" y="390.85" font-size="10.80" text-anchor="start" textLength="12.61" lengthAdjust="spacingAndGlyphs" fill="#262626">FB</text>
<circle cx="398.00" cy="402.75" r="4.80" fill="#008000"/>
<text x="417.10" y="405.75" font-size="10.80" text-anchor="start" textLength="21.96" lengthAdjust="spacingAndGlyphs" fill="#262626">SMC</text>
<circle cx="486.70" cy="372.95" r="4.80" fill="#ff0000"/>
<text x="505.50" y="375.95" font-size="10.80" text-anchor="start" textLength="38.18" lengthAdjust="spacingAndGlyphs" fill="#262626">Satelite</text>
<circle cx="486.70" cy="387.85" r="4.80" fill="#800080"/>
<text x="505.50" y="390.85" font-size="10.80" text-anchor="start" textLength="13.30" lengthAdjust="spacingAndGlyphs" fill="#262626">EC</text>
<circle cx="486.70" cy="402.75" r="4.80" fill="#a52a2a"/>
<text x="505.50" y="405.75" font-size="10.80" text-anchor="start" textLength="45.42" lengthAdjust="spacingAndGlyphs" fill="#262626">Pericytes</text>
<circle cx="581.70" cy="372.95" r="4.80" fill="#ffc0cb"/>
<text x="600.40" y="375.95" font-size="10.80" text-anchor="start" textLength="47.36" lengthAdjust="spacingAndGlyphs" fill="#262626">Myocytes</text>
<circle cx="581.70" cy="387.85" r="4.80" fill="#808080"/>
<text x="600.40" y="390.85" font-size="10.80" text-anchor="start" textLength="48.24" lengthAdjust="spacingAndGlyphs" fill="#262626">Lymphoid</text>
<path d="M62.1 441V733.8H327.4" fill="none" stroke="#303030" stroke-width="1.9"/>
<text x="51.40" y="478.70" font-size="14.50" text-anchor="end" textLength="30.73" lengthAdjust="spacingAndGlyphs" fill="#262626">10.0</text>
<text x="51.40" y="514.58" font-size="14.50" text-anchor="end" textLength="21.95" lengthAdjust="spacingAndGlyphs" fill="#262626">7.5</text>
<text x="51.40" y="550.45" font-size="14.50" text-anchor="end" textLength="21.95" lengthAdjust="spacingAndGlyphs" fill="#262626">5.0</text>
<text x="51.40" y="586.33" font-size="14.50" text-anchor="end" textLength="21.95" lengthAdjust="spacingAndGlyphs" fill="#262626">2.5</text>
<text x="51.40" y="622.20" font-size="14.50" text-anchor="end" textLength="21.95" lengthAdjust="spacingAndGlyphs" fill="#262626">0.0</text>
<text x="51.40" y="658.08" font-size="14.50" text-anchor="end" textLength="33.51" lengthAdjust="spacingAndGlyphs" fill="#262626">−2.5</text>
<text x="51.40" y="693.95" font-size="14.50" text-anchor="end" textLength="33.51" lengthAdjust="spacingAndGlyphs" fill="#262626">−5.0</text>
<text x="51.40" y="729.83" font-size="14.50" text-anchor="end" textLength="33.51" lengthAdjust="spacingAndGlyphs" fill="#262626">−7.5</text>
<text x="111.80" y="755.30" font-size="14.50" text-anchor="middle" textLength="20.34" lengthAdjust="spacingAndGlyphs" fill="#262626">−5</text>
<text x="164.90" y="755.30" font-size="14.50" text-anchor="middle" textLength="8.78" lengthAdjust="spacingAndGlyphs" fill="#262626">0</text>
<text x="218.00" y="755.30" font-size="14.50" text-anchor="middle" textLength="8.78" lengthAdjust="spacingAndGlyphs" fill="#262626">5</text>
<text x="271.10" y="755.30" font-size="14.50" text-anchor="middle" textLength="17.56" lengthAdjust="spacingAndGlyphs" fill="#262626">10</text>
<text x="324.20" y="755.30" font-size="14.50" text-anchor="middle" textLength="17.56" lengthAdjust="spacingAndGlyphs" fill="#262626">15</text>
<text x="194.20" y="771.40" font-size="16.10" text-anchor="middle" textLength="188.30" lengthAdjust="spacingAndGlyphs" fill="#262626">CP-PaCMAP Dimension_1</text>
<text x="12.40" y="588.40" font-size="16.10" text-anchor="middle" textLength="188.30" lengthAdjust="spacingAndGlyphs" fill="#262626" transform="rotate(-90 12.40 588.40)">CP-PaCMAP Dimension_2</text>
<rect x="33.40" y="784.20" width="268.90" height="67.00" rx="2" ry="2" fill="#fff" stroke="#d0d0d0" stroke-width="1"/>
<text x="167.70" y="801.00" font-size="16.10" text-anchor="middle" textLength="62.78" lengthAdjust="spacingAndGlyphs" fill="#262626">Celltype</text>
<circle cx="47.30" cy="813.00" r="4.10" fill="#0000ff"/>
<text x="66.40" y="816.00" font-size="10.80" text-anchor="start" textLength="38.72" lengthAdjust="spacingAndGlyphs" fill="#262626">Myeloid</text>
<circle cx="47.30" cy="827.90" r="4.10" fill="#ffa500"/>
<text x="66.40" y="830.90" font-size="10.80" text-anchor="start" textLength="12.61" lengthAdjust="spacingAndGlyphs" fill="#262626">FB</text>
<circle cx="47.30" cy="842.80" r="4.10" fill="#008000"/>
<text x="66.40" y="845.80" font-size="10.80" text-anchor="start" textLength="21.96" lengthAdjust="spacingAndGlyphs" fill="#262626">SMC</text>
<circle cx="135.70" cy="813.00" r="4.10" fill="#ff0000"/>
<text x="154.30" y="816.00" font-size="10.80" text-anchor="start" textLength="38.18" lengthAdjust="spacingAndGlyphs" fill="#262626">Satelite</text>
<circle cx="135.70" cy="827.90" r="4.10" fill="#800080"/>
<text x="154.30" y="830.90" font-size="10.80" text-anchor="start" textLength="13.30" lengthAdjust="spacingAndGlyphs" fill="#262626">EC</text>
<circle cx="135.70" cy="842.80" r="4.10" fill="#a52a2a"/>
<text x="154.30" y="845.80" font-size="10.80" text-anchor="start" textLength="45.42" lengthAdjust="spacingAndGlyphs" fill="#262626">Pericytes</text>
<circle cx="231.10" cy="813.00" r="4.10" fill="#ffc0cb"/>
<text x="249.40" y="816.00" font-size="10.80" text-anchor="start" textLength="47.36" lengthAdjust="spacingAndGlyphs" fill="#262626">Myocytes</text>
<circle cx="231.10" cy="827.90" r="4.10" fill="#808080"/>
<text x="249.40" y="830.90" font-size="10.80" text-anchor="start" textLength="48.24" lengthAdjust="spacingAndGlyphs" fill="#262626">Lymphoid</text>
<text x="163.60" y="433.00" font-size="17.5" text-anchor="middle" style="font-family:'Liberation Serif',serif;text-rendering:auto" fill="#000" stroke="#000" stroke-width="0.25">(e)</text>
<text x="514.00" y="432.80" font-size="17.5" text-anchor="middle" style="font-family:'Liberation Serif',serif;text-rendering:auto" fill="#000" stroke="#000" stroke-width="0.25">(f)</text>
<text x="163.70" y="871.50" font-size="17.5" text-anchor="middle" style="font-family:'Liberation Serif',serif;text-rendering:auto" fill="#000" stroke="#000" stroke-width="0.25">(g)</text>
</svg></div></body></html>
